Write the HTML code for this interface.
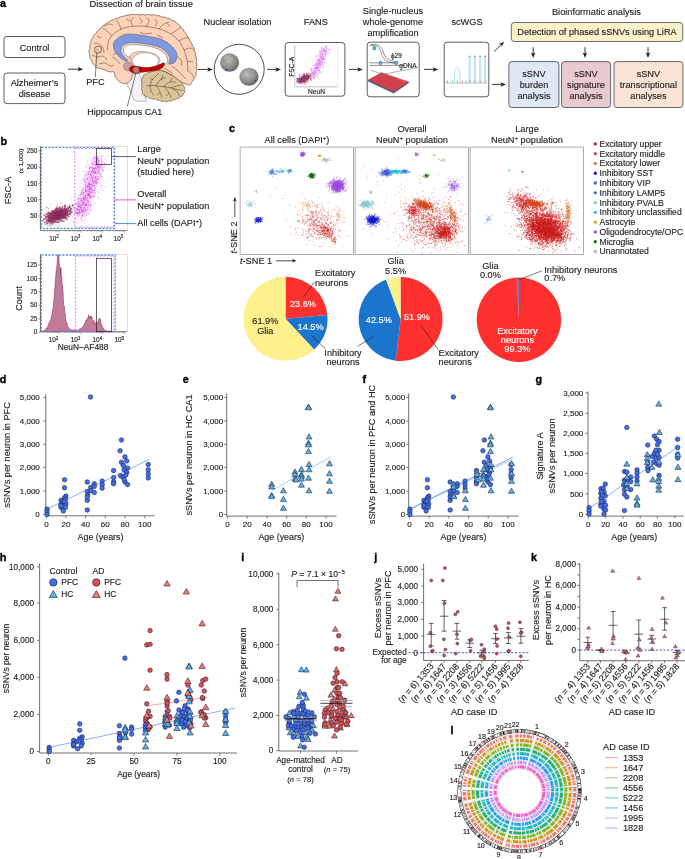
<!DOCTYPE html>
<html><head><meta charset="utf-8"><style>
html,body{margin:0;padding:0;background:#fff;}
body{width:685px;height:859px;overflow:hidden;}
svg{display:block;font-family:"Liberation Sans", sans-serif;will-change:transform;}
</style></head><body>
<svg width="685" height="859" viewBox="0 0 685 859" fill="#231f20">
<text x="-0.10" y="7.40" font-size="10.8" font-weight="bold" fill="#000" stroke="#000" stroke-width="0.35">a</text>
<text x="89.60" y="7.40" font-size="9.3" stroke="#231f20" stroke-width="0.15" >Dissection of brain tissue</text>
<rect x="4.00" y="36.50" width="61.00" height="21.00" rx="3" fill="#fff" stroke="#333" stroke-width="0.8" />
<text x="34.50" y="50.50" font-size="9.2" text-anchor="middle" stroke="#231f20" stroke-width="0.15" >Control</text>
<rect x="4.00" y="73.00" width="61.00" height="30.60" rx="3" fill="#fff" stroke="#333" stroke-width="0.8" />
<text x="34.50" y="85.80" font-size="9.2" text-anchor="middle" stroke="#231f20" stroke-width="0.15" >Alzheimer’s</text>
<text x="34.50" y="96.50" font-size="9.2" text-anchor="middle" stroke="#231f20" stroke-width="0.15" >disease</text>
<line x1="68.00" y1="69.20" x2="79.30" y2="69.20" stroke="#231f20" stroke-width="0.9" />
<path d="M83.20,69.20L77.60,71.44L79.00,69.20L77.60,66.96Z" fill="#231f20"/>
<path d="M128.60,76.00C130.67,74.47 136.62,72.62 138.80,73.50C140.98,74.38 140.97,78.30 141.70,81.30C142.43,84.30 142.43,88.30 143.20,91.50C143.97,94.70 146.83,98.88 146.30,100.50C145.77,102.12 141.98,101.23 140.00,101.20C138.02,101.17 135.82,101.67 134.40,100.30C132.98,98.93 132.83,95.93 131.50,93.00C130.17,90.07 126.88,85.53 126.40,82.70C125.92,79.87 126.53,77.53 128.60,76.00Z" fill="#f2f2f2" stroke="#666" stroke-width="0.45"/>
<path d="M143.20,76.90 L143.24,76.11 L143.47,75.36 L143.92,74.74 L144.57,74.33 L145.36,74.16 L146.23,74.18 L146.74,73.53 L147.30,72.88 L147.98,72.46 L148.79,72.33 L149.66,72.45 L150.44,72.32 L151.05,71.64 L151.78,71.16 L152.64,71.01 L153.59,71.19 L154.50,71.18 L155.30,70.52 L156.18,70.17 L157.13,70.24 L158.07,70.67 L158.97,70.52 L159.90,70.12 L160.83,70.12 L161.69,70.54 L162.45,71.27 L163.44,71.20 L164.47,71.18 L165.36,71.58 L166.06,72.37 L166.85,72.96 L167.95,72.95 L168.87,73.27 L169.57,73.98 L170.12,74.93 L171.16,74.93 L172.12,75.07 L172.90,75.57 L173.50,76.40 L174.22,77.01 L175.27,77.06 L176.16,77.41 L176.80,78.11 L177.25,79.04 L178.10,79.37 L179.02,79.60 L179.73,80.10 L180.17,80.83 L180.40,81.71 L180.97,82.27 L181.79,82.63 L182.41,83.17 L182.77,83.89 L182.88,84.73 L182.85,85.59 L183.58,86.03 L184.15,86.55 L184.51,87.15 L184.64,87.81 L184.57,88.47 L184.36,89.10 L184.25,89.66 L184.61,90.18 L184.86,90.74 L184.96,91.32 L184.90,91.89 L184.67,92.42 L184.30,92.87 L183.81,93.25 L183.25,93.54 L183.21,94.17 L183.08,94.82 L182.81,95.42 L182.35,95.91 L181.72,96.24 L180.95,96.39 L180.16,96.49 L179.76,97.26 L179.25,97.92 L178.57,98.34 L177.75,98.49 L176.84,98.40 L176.15,98.80 L175.56,99.48 L174.84,99.92 L173.97,100.05 L172.98,99.87 L172.12,100.17 L171.33,100.86 L170.43,101.18 L169.44,101.07 L168.43,100.68 L167.61,101.36 L166.74,101.78 L165.86,101.81 L165.00,101.49 L164.21,100.98 L163.37,101.38 L162.51,101.56 L161.71,101.42 L161.00,100.99 L160.40,100.34 L159.65,100.16 L158.81,100.30 L158.05,100.25 L157.40,99.97 L156.83,99.49 L156.28,98.90 L155.57,99.00 L154.87,99.23 L154.21,99.31 L153.59,99.21 L152.99,98.92 L152.42,98.49 L151.85,98.18 L151.18,98.45 L150.51,98.59 L149.86,98.56 L149.26,98.32 L148.74,97.90 L148.32,97.33 L147.84,96.87 L147.10,96.93 L146.38,96.87 L145.75,96.62 L145.23,96.18 L144.85,95.59 L144.59,94.90 L144.11,94.51 L143.43,94.30 L142.85,93.94 L142.42,93.44 L142.19,92.83 L142.16,92.16 L142.32,91.49 L142.42,90.86 L141.96,90.29 L141.63,89.67 L141.47,89.02 L141.53,88.35 L141.80,87.69 L142.21,87.04 L142.12,86.37 L141.75,85.70 L141.52,85.03 L141.51,84.30 L141.76,83.52 L142.22,82.72 L141.86,81.92 L141.49,81.10 L141.43,80.27 L141.70,79.48 L142.23,78.77 L142.49,78.08 L142.35,77.25Z" fill="#dcc49a" stroke="#4a3028" stroke-width="0.55" stroke-linejoin="round"/>
<path d="M146.00,86.00C147.17,85.92 150.50,85.42 153.00,85.50C155.50,85.58 158.33,86.17 161.00,86.50C163.67,86.83 166.33,87.00 169.00,87.50C171.67,88.00 174.75,89.00 177.00,89.50C179.25,90.00 181.58,90.33 182.50,90.50" fill="none" stroke="#3a2a1a" stroke-width="0.5"/>
<path d="M150.00,85.80C150.33,84.83 151.00,81.63 152.00,80.00C153.00,78.37 154.83,77.17 156.00,76.00C157.17,74.83 158.50,73.50 159.00,73.00" fill="none" stroke="#3a2a1a" stroke-width="0.5"/>
<path d="M156.00,86.00C156.67,85.00 158.33,81.42 160.00,80.00C161.67,78.58 165.00,77.92 166.00,77.50" fill="none" stroke="#3a2a1a" stroke-width="0.5"/>
<path d="M163.00,86.80C164.17,86.00 167.83,82.72 170.00,82.00C172.17,81.28 175.00,82.42 176.00,82.50" fill="none" stroke="#3a2a1a" stroke-width="0.5"/>
<path d="M170.00,87.80C171.17,87.50 175.17,86.47 177.00,86.00C178.83,85.53 180.33,85.17 181.00,85.00" fill="none" stroke="#3a2a1a" stroke-width="0.5"/>
<path d="M150.00,86.00C150.17,86.83 150.33,89.42 151.00,91.00C151.67,92.58 153.50,94.75 154.00,95.50" fill="none" stroke="#3a2a1a" stroke-width="0.5"/>
<path d="M157.00,86.50C157.50,87.42 159.17,90.17 160.00,92.00C160.83,93.83 161.67,96.58 162.00,97.50" fill="none" stroke="#3a2a1a" stroke-width="0.5"/>
<path d="M165.00,87.30C165.67,88.25 168.00,91.22 169.00,93.00C170.00,94.78 170.67,97.17 171.00,98.00" fill="none" stroke="#3a2a1a" stroke-width="0.5"/>
<path d="M173.00,88.50C173.83,89.25 177.00,91.75 178.00,93.00C179.00,94.25 178.83,95.50 179.00,96.00" fill="none" stroke="#3a2a1a" stroke-width="0.5"/>
<path d="M153.00,80.00C152.50,79.67 150.50,78.33 150.00,78.00" fill="none" stroke="#3a2a1a" stroke-width="0.5"/>
<path d="M161.00,80.00C161.33,79.17 162.67,75.83 163.00,75.00" fill="none" stroke="#3a2a1a" stroke-width="0.5"/>
<path d="M170.00,82.00C170.33,81.33 171.67,78.67 172.00,78.00" fill="none" stroke="#3a2a1a" stroke-width="0.5"/>
<path d="M160.00,92.00C159.50,92.50 157.50,94.50 157.00,95.00" fill="none" stroke="#3a2a1a" stroke-width="0.5"/>
<path d="M169.00,93.00C168.50,93.50 166.50,95.50 166.00,96.00" fill="none" stroke="#3a2a1a" stroke-width="0.5"/>
<path d="M89.60,53.80 L89.35,53.22 L89.16,52.62 L89.04,52.01 L89.00,51.41 L89.04,50.82 L89.16,50.24 L89.34,49.69 L89.57,49.15 L89.84,48.63 L89.95,48.08 L89.88,47.51 L89.82,46.95 L89.79,46.39 L89.81,45.83 L89.89,45.28 L90.02,44.73 L90.20,44.20 L90.43,43.68 L90.68,43.17 L90.80,42.65 L90.76,42.10 L90.76,41.56 L90.80,41.03 L90.90,40.53 L91.05,40.05 L91.26,39.61 L91.50,39.20 L91.79,38.82 L92.10,38.47 L92.43,38.14 L92.77,37.83 L92.91,37.39 L93.04,36.95 L93.19,36.52 L93.37,36.11 L93.57,35.70 L93.82,35.31 L94.10,34.95 L94.41,34.62 L94.75,34.32 L95.12,34.05 L95.51,33.79 L95.91,33.55 L96.21,33.22 L96.42,32.79 L96.63,32.37 L96.86,31.96 L97.12,31.56 L97.40,31.18 L97.72,30.82 L98.07,30.48 L98.45,30.15 L98.87,29.85 L99.30,29.56 L99.75,29.28 L99.97,28.80 L100.21,28.33 L100.48,27.89 L100.79,27.47 L101.14,27.09 L101.52,26.76 L101.93,26.47 L102.38,26.23 L102.85,26.01 L103.33,25.83 L103.82,25.67 L104.15,25.27 L104.48,24.87 L104.83,24.49 L105.19,24.14 L105.58,23.83 L106.00,23.55 L106.43,23.30 L106.90,23.09 L107.38,22.91 L107.88,22.75 L108.38,22.60 L108.73,22.21 L109.09,21.82 L109.47,21.45 L109.87,21.11 L110.31,20.81 L110.78,20.56 L111.28,20.36 L111.82,20.21 L112.38,20.10 L112.97,20.03 L113.49,19.80 L113.96,19.43 L114.45,19.09 L114.95,18.79 L115.47,18.54 L116.00,18.36 L116.54,18.23 L117.09,18.14 L117.62,18.09 L118.14,18.05 L118.60,17.88 L118.99,17.58 L119.39,17.30 L119.79,17.05 L120.19,16.84 L120.61,16.65 L121.05,16.51 L121.50,16.41 L121.96,16.34 L122.45,16.31 L122.95,16.31 L123.46,16.33 L123.93,16.15 L124.39,15.89 L124.87,15.65 L125.35,15.45 L125.85,15.29 L126.36,15.18 L126.88,15.12 L127.41,15.12 L127.94,15.15 L128.47,15.21 L129.00,15.29 L129.48,15.08 L129.97,14.87 L130.47,14.69 L130.98,14.55 L131.49,14.46 L132.00,14.42 L132.52,14.43 L133.03,14.48 L133.54,14.57 L134.04,14.69 L134.53,14.80 L135.00,14.64 L135.46,14.51 L135.90,14.42 L136.32,14.36 L136.74,14.33 L137.14,14.34 L137.54,14.38 L137.94,14.45 L138.34,14.55 L138.76,14.68 L139.21,14.82 L139.68,14.99 L140.20,15.03 L140.76,14.87 L141.35,14.71 L141.96,14.59 L142.60,14.52 L143.27,14.53 L143.94,14.61 L144.63,14.76 L145.32,14.95 L146.01,14.82 L146.69,14.63 L147.36,14.50 L148.02,14.45 L148.66,14.49 L149.29,14.59 L149.91,14.76 L150.53,14.97 L151.15,15.09 L151.79,14.95 L152.42,14.84 L153.06,14.79 L153.69,14.81 L154.32,14.91 L154.93,15.08 L155.54,15.32 L156.14,15.60 L156.76,15.72 L157.42,15.65 L158.07,15.64 L158.72,15.68 L159.35,15.80 L159.97,16.00 L160.56,16.26 L161.15,16.59 L161.73,16.94 L162.41,16.96 L163.09,16.95 L163.76,16.99 L164.42,17.09 L165.06,17.26 L165.70,17.51 L166.32,17.82 L166.93,18.19 L167.61,18.30 L168.34,18.32 L169.06,18.41 L169.77,18.60 L170.45,18.91 L171.08,19.33 L171.68,19.85 L172.27,20.40 L173.09,20.59 L173.89,20.85 L174.65,21.22 L175.35,21.71 L175.97,22.31 L176.52,23.01 L177.18,23.55 L177.99,23.91 L178.73,24.35 L179.38,24.91 L179.92,25.56 L180.36,26.30 L180.71,27.10 L181.38,27.63 L182.06,28.17 L182.66,28.80 L183.15,29.51 L183.53,30.30 L183.83,31.16 L184.29,31.92 L185.00,32.53 L185.64,33.21 L186.17,33.98 L186.58,34.85 L186.89,35.81 L187.46,36.62 L188.21,37.33 L188.85,38.12 L189.33,39.02 L189.66,40.01 L189.94,41.01 L190.69,41.76 L191.32,42.57 L191.79,43.47 L192.08,44.43 L192.25,45.46 L192.71,46.35 L193.33,47.19 L193.82,48.08 L194.12,49.06 L194.26,50.08 L194.37,51.11 L194.96,51.99 L195.42,52.91 L195.69,53.89 L195.78,54.92 L195.70,55.98 L195.98,57.00 L196.38,58.02 L196.58,59.09 L196.57,60.19 L196.37,61.28 L196.45,62.35 L196.77,63.38 L196.91,64.39 L196.87,65.38 L196.69,66.32 L196.43,67.20 L196.62,68.04 L196.79,68.85 L196.87,69.63 L196.83,70.39 L196.68,71.10 L196.45,71.78 L196.17,72.42 L196.03,73.06 L196.10,73.72 L196.11,74.35 L196.05,74.97 L195.93,75.56 L195.72,76.12 L195.44,76.62 L195.11,77.08 L194.74,77.48 L194.35,77.84 L194.14,78.29 L193.99,78.77 L193.82,79.23 L193.63,79.66 L193.42,80.07 L193.19,80.44 L192.96,80.78 L192.72,81.11 L192.46,81.44 L192.19,81.77 L191.91,82.10 L191.62,82.41 L191.38,82.73 L191.29,83.12 L191.16,83.49 L190.99,83.85 L190.76,84.18 L190.46,84.47 L190.09,84.69 L189.66,84.84 L189.21,84.90 L188.74,84.89 L188.26,84.81 L187.78,84.66 L187.30,84.46 L186.84,84.22 L186.34,84.14 L185.87,83.92 L185.40,83.78 L184.94,83.64 L184.50,83.50 L184.09,83.36 L183.71,83.21 L183.35,83.05 L183.00,82.88 L182.65,82.70 L182.31,82.50 L181.95,82.28 L181.57,82.04 L181.16,81.78 L180.72,81.48 L180.23,81.16 L179.70,80.80 L179.11,80.39 L178.48,79.93 L177.81,79.42 L177.10,78.88 L176.37,78.31 L175.61,77.73 L174.84,77.14 L174.07,76.56 L173.29,76.00 L172.51,75.46 L171.75,74.96 L171.00,74.50 L170.26,74.07 L169.53,73.66 L168.79,73.25 L168.06,72.86 L167.32,72.48 L166.58,72.12 L165.84,71.78 L165.09,71.47 L164.33,71.18 L163.56,70.92 L162.79,70.69 L162.00,70.50 L161.20,70.34 L160.39,70.22 L159.57,70.14 L158.74,70.08 L157.90,70.05 L157.06,70.04 L156.22,70.06 L155.37,70.09 L154.52,70.13 L153.68,70.18 L152.84,70.24 L152.00,70.30 L151.15,70.38 L150.25,70.48 L149.34,70.60 L148.41,70.73 L147.49,70.88 L146.58,71.04 L145.68,71.21 L144.83,71.38 L144.02,71.54 L143.27,71.71 L142.60,71.86 L142.00,72.00 L141.50,72.14 L141.10,72.27 L140.78,72.41 L140.53,72.55 L140.32,72.69 L140.14,72.83 L139.97,72.96 L139.81,73.08 L139.62,73.20 L139.41,73.31 L139.14,73.41 L138.80,73.50 L138.40,73.56 L137.94,73.58 L137.44,73.57 L136.92,73.54 L136.38,73.51 L135.83,73.48 L135.28,73.47 L134.75,73.48 L134.24,73.53 L133.78,73.62 L133.36,73.78 L133.00,74.00 L132.71,74.30 L132.48,74.68 L132.31,75.13 L132.17,75.62 L132.06,76.15 L131.97,76.70 L131.87,77.26 L131.77,77.83 L131.64,78.37 L131.48,78.89 L131.27,79.37 L131.00,79.80 L130.68,80.20 L130.31,80.60 L129.92,80.99 L129.50,81.38 L129.06,81.75 L128.59,82.11 L128.12,82.43 L127.63,82.73 L127.14,82.99 L126.66,83.21 L126.17,83.38 L125.70,83.50 L125.22,83.57 L124.73,83.59 L124.23,83.58 L123.72,83.52 L123.21,83.43 L122.69,83.30 L122.18,83.14 L121.68,82.96 L121.18,82.75 L120.70,82.52 L120.24,82.27 L119.80,82.00 L119.37,81.70 L118.95,81.36 L118.52,80.97 L118.11,80.56 L117.71,80.12 L117.32,79.66 L116.94,79.19 L116.59,78.72 L116.25,78.25 L115.94,77.78 L115.66,77.33 L115.40,76.90 L115.19,76.47 L115.03,76.02 L114.91,75.55 L114.82,75.08 L114.76,74.61 L114.70,74.14 L114.64,73.70 L114.58,73.28 L114.49,72.89 L114.37,72.54 L114.21,72.24 L114.00,72.00 L113.74,71.83 L113.46,71.72 L113.14,71.67 L112.81,71.66 L112.45,71.68 L112.08,71.73 L111.68,71.79 L111.28,71.84 L110.87,71.88 L110.45,71.89 L110.03,71.87 L109.60,71.80 L109.17,71.69 L108.73,71.56 L108.28,71.41 L107.83,71.24 L107.36,71.06 L106.88,70.87 L106.39,70.67 L105.90,70.46 L105.39,70.25 L104.87,70.03 L104.34,69.81 L103.80,69.60 L103.23,69.39 L102.63,69.18 L102.01,68.98 L101.36,68.77 L100.71,68.56 L100.05,68.34 L99.40,68.11 L98.69,68.03 L97.99,67.94 L97.33,67.76 L96.73,67.49 L96.20,67.14 L95.75,66.72 L95.37,66.26 L95.06,65.77 L94.79,65.25 L94.35,64.91 L93.88,64.58 L93.44,64.20 L93.05,63.78 L92.70,63.32 L92.42,62.81 L92.19,62.25 L92.01,61.65 L91.88,61.01 L91.67,60.38 L91.20,59.83 L90.77,59.25 L90.41,58.61 L90.14,57.93 L89.97,57.22 L89.90,56.48 L89.90,55.75 L89.75,55.08 L89.42,54.47Z" fill="#fdd3b8" stroke="#4a3028" stroke-width="0.6" stroke-linejoin="round"/>
<path d="M107.50,50.00C107.75,48.33 107.58,43.00 109.00,40.00C110.42,37.00 113.17,34.08 116.00,32.00C118.83,29.92 122.33,28.50 126.00,27.50C129.67,26.50 134.00,26.08 138.00,26.00C142.00,25.92 146.17,26.42 150.00,27.00C153.83,27.58 157.50,28.33 161.00,29.50C164.50,30.67 168.00,32.08 171.00,34.00C174.00,35.92 176.83,38.33 179.00,41.00C181.17,43.67 182.67,46.83 184.00,50.00C185.33,53.17 186.33,56.67 187.00,60.00C187.67,63.33 187.83,68.33 188.00,70.00" fill="none" stroke="#5e4438" stroke-width="0.55"/>
<path d="M112.00,36.00C111.17,35.17 108.50,32.33 107.00,31.00C105.50,29.67 103.67,28.50 103.00,28.00" fill="none" stroke="#5e4438" stroke-width="0.55"/>
<path d="M121.00,29.50C120.67,28.58 119.83,25.58 119.00,24.00C118.17,22.42 116.50,20.67 116.00,20.00" fill="none" stroke="#5e4438" stroke-width="0.55"/>
<path d="M133.00,26.50C132.67,25.58 130.83,22.58 131.00,21.00C131.17,19.42 133.50,17.67 134.00,17.00" fill="none" stroke="#5e4438" stroke-width="0.55"/>
<path d="M146.00,26.80C146.50,25.83 148.83,22.55 149.00,21.00C149.17,19.45 147.33,18.08 147.00,17.50" fill="none" stroke="#5e4438" stroke-width="0.55"/>
<path d="M159.00,29.00C159.83,28.17 162.33,25.17 164.00,24.00C165.67,22.83 168.17,22.33 169.00,22.00" fill="none" stroke="#5e4438" stroke-width="0.55"/>
<path d="M171.00,34.00C172.00,33.33 175.33,31.17 177.00,30.00C178.67,28.83 180.33,27.50 181.00,27.00" fill="none" stroke="#5e4438" stroke-width="0.55"/>
<path d="M179.00,41.00C180.00,40.50 183.33,38.50 185.00,38.00C186.67,37.50 188.33,38.00 189.00,38.00" fill="none" stroke="#5e4438" stroke-width="0.55"/>
<path d="M184.00,50.00C185.00,49.67 188.33,48.00 190.00,48.00C191.67,48.00 193.33,49.67 194.00,50.00" fill="none" stroke="#5e4438" stroke-width="0.55"/>
<path d="M187.00,61.00C188.00,61.17 192.00,61.83 193.00,62.00" fill="none" stroke="#5e4438" stroke-width="0.55"/>
<path d="M187.00,70.00C187.83,70.67 190.83,72.67 192.00,74.00C193.17,75.33 193.67,77.33 194.00,78.00" fill="none" stroke="#5e4438" stroke-width="0.55"/>
<path d="M94.00,43.00C94.83,43.17 97.50,43.17 99.00,44.00C100.50,44.83 102.17,46.50 103.00,48.00C103.83,49.50 103.83,52.17 104.00,53.00" fill="none" stroke="#5e4438" stroke-width="0.55"/>
<path d="M92.00,55.00C93.00,55.33 96.17,56.83 98.00,57.00C99.83,57.17 101.50,55.50 103.00,56.00C104.50,56.50 106.33,59.33 107.00,60.00" fill="none" stroke="#5e4438" stroke-width="0.55"/>
<path d="M99.00,64.00C100.00,63.83 103.17,62.67 105.00,63.00C106.83,63.33 108.50,65.67 110.00,66.00C111.50,66.33 113.33,65.17 114.00,65.00" fill="none" stroke="#5e4438" stroke-width="0.55"/>
<path d="M97.00,36.00C97.67,36.33 100.33,37.67 101.00,38.00" fill="none" stroke="#5e4438" stroke-width="0.55"/>
<path d="M104.00,26.00C104.83,25.67 107.50,24.17 109.00,24.00C110.50,23.83 112.33,24.83 113.00,25.00" fill="none" stroke="#5e4438" stroke-width="0.55"/>
<path d="M126.00,19.00C126.67,19.33 129.33,20.67 130.00,21.00" fill="none" stroke="#5e4438" stroke-width="0.55"/>
<path d="M139.00,17.50C139.50,18.08 141.83,19.92 142.00,21.00C142.17,22.08 140.33,23.50 140.00,24.00" fill="none" stroke="#5e4438" stroke-width="0.55"/>
<path d="M155.00,19.00C155.33,19.67 157.00,21.83 157.00,23.00C157.00,24.17 155.33,25.50 155.00,26.00" fill="none" stroke="#5e4438" stroke-width="0.55"/>
<path d="M167.00,23.00C167.50,23.67 169.50,26.33 170.00,27.00" fill="none" stroke="#5e4438" stroke-width="0.55"/>
<path d="M176.00,56.00C176.83,56.67 180.00,58.33 181.00,60.00C182.00,61.67 181.83,65.00 182.00,66.00" fill="none" stroke="#5e4438" stroke-width="0.55"/>
<path d="M172.00,66.00C172.83,66.67 175.33,68.50 177.00,70.00C178.67,71.50 180.50,73.50 182.00,75.00C183.50,76.50 185.33,78.33 186.00,79.00" fill="none" stroke="#5e4438" stroke-width="0.55"/>
<path d="M164.00,68.00C164.83,68.50 167.50,70.00 169.00,71.00C170.50,72.00 172.33,73.50 173.00,74.00" fill="none" stroke="#5e4438" stroke-width="0.55"/>
<path d="M112.00,57.00C112.83,57.50 115.67,58.83 117.00,60.00C118.33,61.17 119.50,63.33 120.00,64.00" fill="none" stroke="#5e4438" stroke-width="0.55"/>
<path d="M115.00,47.00C115.33,47.83 117.33,50.67 117.00,52.00C116.67,53.33 113.67,54.50 113.00,55.00" fill="none" stroke="#5e4438" stroke-width="0.55"/>
<path d="M96.00,49.00C96.50,49.33 98.50,50.67 99.00,51.00" fill="none" stroke="#5e4438" stroke-width="0.55"/>
<path d="M124.00,34.00C124.67,34.50 127.33,36.50 128.00,37.00" fill="none" stroke="#5e4438" stroke-width="0.55"/>
<path d="M140.00,32.00C140.83,32.33 143.00,33.83 145.00,34.00C147.00,34.17 150.83,33.17 152.00,33.00" fill="none" stroke="#5e4438" stroke-width="0.55"/>
<path d="M157.00,35.00C158.00,35.50 162.00,37.50 163.00,38.00" fill="none" stroke="#5e4438" stroke-width="0.55"/>
<path d="M113.30,44.20C113.57,42.02 115.05,40.43 116.80,38.90C118.55,37.37 121.60,35.82 123.80,35.00C126.00,34.18 127.27,34.00 130.00,34.00C132.73,34.00 136.80,34.53 140.20,35.00C143.60,35.47 146.98,36.12 150.40,36.80C153.82,37.48 157.63,37.95 160.70,39.10C163.77,40.25 166.42,41.90 168.80,43.70C171.18,45.50 173.63,47.85 175.00,49.90C176.37,51.95 177.00,53.97 177.00,56.00C177.00,58.03 176.18,60.73 175.00,62.10C173.82,63.47 170.93,64.03 169.90,64.20C168.87,64.37 168.80,64.13 168.80,63.10C168.80,62.07 170.23,59.70 169.90,58.00C169.57,56.30 168.33,54.60 166.80,52.90C165.27,51.20 163.43,49.17 160.70,47.80C157.97,46.43 153.82,45.47 150.40,44.70C146.98,43.93 143.60,43.53 140.20,43.20C136.80,42.87 132.70,42.48 130.00,42.70C127.30,42.92 125.47,43.62 124.00,44.50C122.53,45.38 121.62,46.58 121.20,48.00C120.78,49.42 120.92,51.45 121.50,53.00C122.08,54.55 123.62,56.05 124.70,57.30C125.78,58.55 127.87,59.85 128.00,60.50C128.13,61.15 126.92,61.78 125.50,61.20C124.08,60.62 121.22,58.53 119.50,57.00C117.78,55.47 116.23,54.13 115.20,52.00C114.17,49.87 113.03,46.38 113.30,44.20Z" fill="#7f98dc" stroke="#3a4a8a" stroke-width="0.45"/>
<path d="M124.50,47.00C125.50,45.63 127.42,45.13 130.00,44.80C132.58,44.47 136.67,44.72 140.00,45.00C143.33,45.28 146.83,45.75 150.00,46.50C153.17,47.25 156.50,48.25 159.00,49.50C161.50,50.75 163.58,52.42 165.00,54.00C166.42,55.58 167.25,57.45 167.50,59.00C167.75,60.55 167.75,62.38 166.50,63.30C165.25,64.22 162.42,64.72 160.00,64.50C157.58,64.28 154.67,62.92 152.00,62.00C149.33,61.08 146.67,59.75 144.00,59.00C141.33,58.25 138.50,57.83 136.00,57.50C133.50,57.17 131.00,57.75 129.00,57.00C127.00,56.25 124.75,54.67 124.00,53.00C123.25,51.33 123.50,48.37 124.50,47.00Z" fill="#ffffff" stroke="#4a3028" stroke-width="0.4"/>
<path d="M130.00,57.00C130.17,55.67 131.33,53.92 133.00,53.00C134.67,52.08 137.17,51.58 140.00,51.50C142.83,51.42 147.17,51.83 150.00,52.50C152.83,53.17 155.33,54.25 157.00,55.50C158.67,56.75 159.83,58.67 160.00,60.00C160.17,61.33 159.67,62.83 158.00,63.50C156.33,64.17 153.00,64.08 150.00,64.00C147.00,63.92 143.00,63.50 140.00,63.00C137.00,62.50 133.67,62.00 132.00,61.00C130.33,60.00 129.83,58.33 130.00,57.00Z" fill="#fdd3b8" stroke="#4a3028" stroke-width="0.35"/>
<ellipse cx="145.5" cy="60.8" rx="13.2" ry="8.2" fill="#ffffff" stroke="#666" stroke-width="0.45"/>
<ellipse cx="146.5" cy="62" rx="11.0" ry="6.5" fill="#ffffff" stroke="none"/>
<path d="M124.50,63.50C125.42,62.67 127.58,61.83 129.00,62.00C130.42,62.17 132.25,63.33 133.00,64.50C133.75,65.67 134.00,67.92 133.50,69.00C133.00,70.08 131.33,70.83 130.00,71.00C128.67,71.17 126.58,70.67 125.50,70.00C124.42,69.33 123.67,68.08 123.50,67.00C123.33,65.92 123.58,64.33 124.50,63.50Z" fill="#c7a1a3" stroke="#4a3028" stroke-width="0.3"/>
<path d="M131.00,66.50C132.07,65.95 133.38,66.02 135.90,66.20C138.42,66.38 143.08,67.55 146.10,67.60C149.12,67.65 151.82,66.97 154.00,66.50C156.18,66.03 157.60,65.42 159.20,64.80C160.80,64.18 162.77,62.77 163.60,62.80C164.43,62.83 164.55,64.10 164.20,65.00C163.85,65.90 163.03,67.28 161.50,68.20C159.97,69.12 157.58,69.90 155.00,70.50C152.42,71.10 148.70,71.50 146.00,71.80C143.30,72.10 141.13,72.18 138.80,72.30C136.47,72.42 133.55,72.97 132.00,72.50C130.45,72.03 129.67,70.50 129.50,69.50C129.33,68.50 129.93,67.05 131.00,66.50Z" fill="#c00000" stroke="#6a0505" stroke-width="0.45"/>
<circle cx="136.10" cy="70.00" r="3.40" fill="#c47676" stroke="#5a0a0a" stroke-width="0.45" />
<circle cx="98.00" cy="49.60" r="3.50" fill="none" stroke="#231f20" stroke-width="0.6" />
<line x1="96.80" y1="53.10" x2="95.30" y2="77.00" stroke="#231f20" stroke-width="0.6" />
<text x="86.20" y="84.80" font-size="9.2" stroke="#231f20" stroke-width="0.15" >PFC</text>
<line x1="135.80" y1="73.40" x2="127.30" y2="106.50" stroke="#231f20" stroke-width="0.6" />
<text x="87.20" y="114.60" font-size="9.0" stroke="#231f20" stroke-width="0.15" >Hippocampus CA1</text>
<line x1="198.00" y1="69.40" x2="208.90" y2="69.40" stroke="#231f20" stroke-width="0.9" />
<path d="M212.80,69.40L207.20,71.64L208.60,69.40L207.20,67.16Z" fill="#231f20"/>
<text x="203.50" y="25.40" font-size="9.2" stroke="#231f20" stroke-width="0.15" >Nuclear isolation</text>
<defs><radialGradient id="nuc" cx="0.4" cy="0.35" r="0.7"><stop offset="0" stop-color="#bdbdbd"/><stop offset="0.6" stop-color="#8f8f8f"/><stop offset="1" stop-color="#5c5c5c"/></radialGradient></defs>
<circle cx="239.20" cy="69.30" r="25.00" fill="#fff" stroke="#231f20" stroke-width="0.8" />
<ellipse cx="229.6" cy="62.6" rx="9.3" ry="9.0" fill="url(#nuc)" stroke="#555" stroke-width="0.3"/>
<ellipse cx="249" cy="76.8" rx="9.4" ry="8.8" fill="url(#nuc)" stroke="#555" stroke-width="0.3"/>
<path d="M221.5,57 l4,4 l3,-2 M222,61 l5,2 l2,3" stroke="#6a8a3a" stroke-width="0.5" fill="none"/>
<circle cx="226.30" cy="69.60" r="0.90" fill="#2a2aa0" stroke="none" stroke-width="0.5" />
<circle cx="255.60" cy="80.50" r="0.80" fill="#2a2aa0" stroke="none" stroke-width="0.5" />
<circle cx="250.00" cy="72.00" r="0.60" fill="#3a9a3a" stroke="none" stroke-width="0.5" />
<circle cx="234.80" cy="58.20" r="0.60" fill="#3a9a3a" stroke="none" stroke-width="0.5" />
<line x1="267.20" y1="69.40" x2="277.10" y2="69.40" stroke="#231f20" stroke-width="0.9" />
<path d="M281.00,69.40L275.40,71.64L276.80,69.40L275.40,67.16Z" fill="#231f20"/>
<text x="303.80" y="25.40" font-size="9.2" stroke="#231f20" stroke-width="0.15" >FANS</text>
<rect x="285.20" y="42.50" width="59.70" height="53.70" rx="3" fill="#fff" stroke="#333" stroke-width="0.8" />
<line x1="294.80" y1="45.00" x2="294.80" y2="86.80" stroke="#777" stroke-width="0.4" />
<line x1="294.80" y1="86.80" x2="337.70" y2="86.80" stroke="#777" stroke-width="0.4" />
<line x1="337.70" y1="45.00" x2="337.70" y2="86.80" stroke="#bbb" stroke-width="0.3" />
<line x1="294.80" y1="47.00" x2="293.80" y2="47.00" stroke="#777" stroke-width="0.3" />
<line x1="294.80" y1="51.60" x2="293.80" y2="51.60" stroke="#777" stroke-width="0.3" />
<line x1="294.80" y1="56.20" x2="293.80" y2="56.20" stroke="#777" stroke-width="0.3" />
<line x1="294.80" y1="60.80" x2="293.80" y2="60.80" stroke="#777" stroke-width="0.3" />
<line x1="294.80" y1="65.40" x2="293.80" y2="65.40" stroke="#777" stroke-width="0.3" />
<line x1="294.80" y1="70.00" x2="293.80" y2="70.00" stroke="#777" stroke-width="0.3" />
<line x1="294.80" y1="74.60" x2="293.80" y2="74.60" stroke="#777" stroke-width="0.3" />
<line x1="294.80" y1="79.20" x2="293.80" y2="79.20" stroke="#777" stroke-width="0.3" />
<line x1="294.80" y1="83.80" x2="293.80" y2="83.80" stroke="#777" stroke-width="0.3" />
<line x1="297.00" y1="86.80" x2="297.00" y2="87.80" stroke="#777" stroke-width="0.3" />
<line x1="301.20" y1="86.80" x2="301.20" y2="87.80" stroke="#777" stroke-width="0.3" />
<line x1="305.40" y1="86.80" x2="305.40" y2="87.80" stroke="#777" stroke-width="0.3" />
<line x1="309.60" y1="86.80" x2="309.60" y2="87.80" stroke="#777" stroke-width="0.3" />
<line x1="313.80" y1="86.80" x2="313.80" y2="87.80" stroke="#777" stroke-width="0.3" />
<line x1="318.00" y1="86.80" x2="318.00" y2="87.80" stroke="#777" stroke-width="0.3" />
<line x1="322.20" y1="86.80" x2="322.20" y2="87.80" stroke="#777" stroke-width="0.3" />
<line x1="326.40" y1="86.80" x2="326.40" y2="87.80" stroke="#777" stroke-width="0.3" />
<line x1="330.60" y1="86.80" x2="330.60" y2="87.80" stroke="#777" stroke-width="0.3" />
<line x1="334.80" y1="86.80" x2="334.80" y2="87.80" stroke="#777" stroke-width="0.3" />
<text x="293.90" y="66.80" font-size="6.6" text-anchor="middle" stroke="#231f20" stroke-width="0.15" transform="rotate(-90 293.90 66.80)" >FSC-A</text>
<text x="316.50" y="94.20" font-size="6.6" text-anchor="middle" stroke="#231f20" stroke-width="0.15" >NeuN</text>
<path d="M321.1 47.7h0m.9-.4h0m.2-1.7h0m2.1 .9h0m.1 1.4h0m.5-.1h0m.7-1.7h0m.1 .3h0m.1 .3h0m.2-1.1h0m.2 .7h0m.2 1.6h0m1.5-1.2h0m-8.4 3.9h0m.1 .3h0m1.1-.1h0m.5 .5h0m0 .4h0m0-3h0m.1 2.6h0m.4-2.1h0m.2-1.1h0m0 2.9h0m0-.7h0m.1 1.5h0m.1-.8h0m.1-.1h0m0-1h0m.8-.3h0m0-.7h0m.1-.2h0m.1-.1h0m.5 1.1h0m0 .9h0m.1-1.7h0m0 2.6h0m0-1.6h0m.1 2h0m.1-1.5h0m.2-1.2h0m0 1.7h0m.1-1.2h0m0 .7h0m.1 .9h0m0 .1h0m.1-2h0m.3 1.8h0m.1 .6h0m0-2.2h0m0-.3h0m.1 .6h0m.4 1h0m.1-.1h0m.5 .5h0m.1 0h0m0-1.2h0m.4 0h0m.1 .8h0m.3-.9h0m.1 1.4h0m.2-3.4h0m.1 3.7h0m.3-3.7h0m.2 1.2h0m.3 .1h0m.8 .2h0m.3-.1h0m.8 .1h0m.5 .2h0m-13.9 6h0m.6-1h0m.8 .2h0m1.3-2.7h0m.3 1.6h0m0 1.6h0m.1-3.3h0m.4 2.4h0m.1 1.1h0m.1-2.2h0m.1 1h0m.2-1h0m.1 2.2h0m.3-3h0m.3 2.3h0m.1-1.4h0m.2-1.2h0m.1 .9h0m.3 1h0m0 .6h0m0 .3h0m0-1.3h0m.3 .9h0m.1-.7h0m0 1.5h0m0-2.1h0m0 .9h0m.2 .4h0m0 .6h0m.1-.8h0m.7 .4h0m.1-2.1h0m.1 .2h0m.6 .8h0m.1-.7h0m.2-.3h0m.4 2.9h0m0-1h0m.1-1.1h0m.1 2h0m.1-1.4h0m.2-2h0m0 2.2h0m.2-.3h0m.4 .9h0m.2-1.7h0m.1 2.1h0m.1-2.2h0m.3 0h0m1.4-.3h0m0 .9h0m.1-.9h0m-15.9 6.7h0m3.1-2.8h0m.8-.8h0m.1 .4h0m.5 .7h0m.2 1.2h0m.4 1.1h0m.7 .2h0m.4 0h0m.5-3.6h0m0 .3h0m0 2.3h0m.1-1.2h0m.1 1.1h0m.3-.7h0m.1 1.7h0m.2 .1h0m.1-.3h0m.2-2.9h0m.3 1.6h0m.1-2h0m0 1.6h0m0-1.3h0m.2 1.7h0m.2-.1h0m.2 .1h0m0-.3h0m.1 1.4h0m0 .2h0m.1-1.6h0m.2-1.4h0m0 2.4h0m0 .8h0m.1-2.8h0m.2-.4h0m0 2.9h0m.1-2.3h0m0 .1h0m.1 2.3h0m0-.6h0m.1-1.8h0m0 2.2h0m0-2h0m.4 2.5h0m.4-2.5h0m.1 1.6h0m.1-1.2h0m.2 1.9h0m.1-2.5h0m0 2.2h0m0-.7h0m.1-.5h0m0 .4h0m.1-.3h0m0-.3h0m.1 1.6h0m0-.4h0m.3-2.6h0m.1 2.7h0m.3-.1h0m.3 .5h0m.1-3.2h0m.2 1.1h0m.3 1.8h0m.4-2.2h0m.1-.1h0m-13.5 7h0m.2-2.3h0m2.4-.5h0m.6 2.8h0m.6-.2h0m.3-.1h0m.1-1.2h0m.1 1.1h0m.4-3.2h0m0 .3h0m.1 1.7h0m.1 .7h0m.1-2.5h0m0 .7h0m.1 .9h0m.7 1.4h0m0-.1h0m.1-1.9h0m.2-1.2h0m0 1.3h0m.1 1.6h0m0-.1h0m.1 .7h0m.2 .2h0m0-3.4h0m0 1.2h0m.1 0h0m0-1.7h0m.1 .8h0m0 2.6h0m0-1.4h0m.1-.3h0m.1-1.6h0m0 2.5h0m.1 0h0m.2 .9h0m0-1.4h0m.1-1.5h0m.1-.1h0m0 0h0m.1 2.2h0m.1 1.2h0m.1-3.3h0m0 1.8h0m0-2.3h0m.1 3.6h0m.1 0h0m.3-1.3h0m0 1.5h0m.1-2.8h0m0 2.8h0m.1-.7h0m0-2.3h0m0 .3h0m.1 .4h0m.3 .3h0m.4 1.3h0m.3-1.7h0m0-1.5h0m.1 3h0m0-2h0m.1 1.2h0m.2-2.1h0m0 2.8h0m.1-.6h0m.2 .1h0m.2-.2h0m.2-.9h0m.4 1.7h0m.3-1.6h0m.1-1.4h0m0 1.4h0m.6 .9h0m.2 .1h0m-13.6 5.4h0m1.3-2.3h0m.4-.3h0m.5 2.6h0m1.1-2.2h0m.3 1h0m.1-1h0m.1-.2h0m.1-.7h0m0 2.4h0m.2 .6h0m.1-3.2h0m.3 2.9h0m0-2h0m.2-.6h0m0 .4h0m.3 2.7h0m.2-.4h0m.1-1.7h0m0 1.3h0m.1-1.8h0m0 2.3h0m0-2.9h0m0 2.7h0m.3-1.2h0m.1 1.7h0m0-.9h0m.1 .3h0m.2-.7h0m0 1h0m.1-2h0m.1-.7h0m.1 .8h0m0-1.2h0m.1 .3h0m.2 2.2h0m.1-2.1h0m.1 2.5h0m0-2.7h0m0 .1h0m0 2.6h0m.1-1.1h0m.1-.5h0m0-1.7h0m.1 3.5h0m0-1.4h0m.2-1h0m0-.4h0m0 .9h0m.1-1.5h0m.4 3.4h0m.1-1.7h0m0 2h0m.2-1.4h0m.1 1.4h0m.1-.4h0m0-2h0m.3-1.2h0m.1 .4h0m.1 .9h0m0-1.6h0m.2 2.9h0m.2-1.8h0m0-.5h0m.1 .2h0m0 0h0m.1 2.7h0m.2-1.2h0m.2-2.2h0m.1 .6h0m.5 2.3h0m.1-2.6h0m.7 1.4h0m.2-1.1h0m.3-.5h0m.1 3.1h0m.2-.5h0m.1-1.7h0m.1 .8h0m-12.7 4.1h0m.2-1h0m.2 .1h0m.1 2.2h0m.5-2.4h0m.2 1.3h0m.1-.3h0m.1 .8h0m0 1.1h0m.2 .1h0m0-1h0m1-.5h0m0-1.4h0m.1 2.3h0m.7-2h0m0 .1h0m0 1.6h0m.2-1.7h0m.3-.3h0m.1 2.9h0m.1-1.4h0m0 1.3h0m.1-.2h0m.1-1.8h0m.1 1.8h0m.1-3.6h0m0 .9h0m0 1.9h0m.3-1.3h0m.3-.3h0m.1 1.1h0m0-1.8h0m0 0h0m.4 .1h0m0 2.5h0m.1 .8h0m.1-3h0m.1-.5h0m.1 1.5h0m0-.5h0m.1 .7h0m0-1.3h0m.1-.2h0m.1 0h0m.3-.4h0m0 3.5h0m0-1.3h0m.1-2.4h0m.2 .5h0m0 .2h0m.1 2.5h0m.5-2.6h0m0 1.1h0m.1-1h0m.3 1.7h0m.1-2.2h0m.2 2.5h0m.1-1h0m.1-.3h0m.1 1.4h0m0-.5h0m.1-.3h0m.3 .8h0m.1 .1h0m.3 1h0m.4 0h0m0 0h0m2.9-.8h0m-15 3.3h0m.1-.9h0m.5-1.2h0m.6 3.1h0m.1-1h0m1.8-1.1h0m.2 .8h0m0 .9h0m.4 .4h0m.6-2.9h0m.2-.3h0m0 1.7h0m.1 1.4h0m.3-2.8h0m0 .5h0m.1 .5h0m.3-.7h0m.1 1h0m.3 .7h0m0 1.3h0m.1-2.3h0m.3 .7h0m0-1.1h0m.1 2.2h0m0-2.3h0m.1-.8h0m0 1.8h0m.1 .4h0m.1-1.5h0m.4-.9h0m.3 1.3h0m.1-1.3h0m.1 0h0m.1 .5h0m.1 0h0m0 .4h0m.1 2h0m0-1.8h0m0 2.6h0m.4-3.4h0m.2 1.1h0m.9 .9h0m.2-.4h0m.4 .1h0m0 .2h0m1.1-2.1h0m.1 0h0m1.5 0h0m.5 .5h0m-11 4.9h0m.5-.9h0m1 1.1h0m.4-.9h0m.2 1.4h0m.2-1.6h0m0 1.6h0m1-1.3h0m.4-.8h0m.4 .1h0m0 1.1h0m.2-.3h0m.2 0h0m.2-.7h0m.2 1.9h0m.4-1.4h0m1.1-.7h0m.7 1.3h0m.8-1.1h0m-7 4.4h0" stroke="#de66f2" stroke-width="0.6" stroke-linecap="square" opacity="0.6" fill="none"/>
<path d="M308 67.9h0m3.5 1.6h0m-12.1 5.8h0m4.8-1.9h0m.1 1.2h0m2.2 .3h0m.4-.9h0m0 1.1h0m1.5 .3h0m.4 .2h0m1.4-1.7h0m2.3-.6h0m.2 1.9h0m2.4-.7h0m2 1.2h0m-20.3 3.6h0m.8-1.2h0m0 1.7h0m.7-.5h0m1.6-2.6h0m.1 .3h0m.4 1.7h0m1.1 .2h0m0-1.6h0m.3-.5h0m.4 1.7h0m.4-1.4h0m.1-.5h0m.3 2.5h0m.7-1.1h0m.4 .3h0m.1 1.5h0m.3-2.5h0m.1 .9h0m.3-.6h0m.4-.8h0m0 1.2h0m.4 1.7h0m.2-.7h0m0-.9h0m.5 .5h0m0-.8h0m0-1.6h0m.8 3.3h0m0-2.6h0m2 .9h0m.5-.7h0m.2 1.6h0m.4-2h0m2.8 .9h0m-16.4 2.7h0m.5 2.8h0m.1-2.9h0m.9 .8h0m.6 1h0m.4-1.2h0m.1 2.6h0m.6-2h0m2.5 .4h0m.3 .6h0m.1 .5h0m1.3 .5h0m.1-1.5h0m.2-1.5h0m.1 .1h0m.7 1.4h0m.7-1.7h0m2.8 2.7h0m3.2-1.4h0m-9.6 2.5h0m2.1 .4h0" stroke="#a84a7a" stroke-width="0.6" stroke-linecap="square" opacity="0.6" fill="none"/>
<path d="M300 74.5h0m1.1-.1h0m1.3 1.1h0m.7-1.4h0m.7 1.8h0m.1-1.2h0m0 .5h0m0-.9h0m.2 .7h0m.2 .8h0m0-.1h0m.2-.9h0m0 .3h0m0 .6h0m.2-2.4h0m.9 2.3h0m.3-.6h0m.1-1.3h0m.1 1.9h0m.3-2h0m.1 2h0m.1-2.4h0m.1 2.2h0m.3 0h0m.2-.1h0m.1-.7h0m.4 .5h0m.2-1h0m0 1.1h0m.3 0h0m.4-.3h0m.5 .5h0m.5-1.2h0m.7 1.1h0m.3 .4h0m.2-2.4h0m.3 1.6h0m2.6-.9h0m-16.9 4.5h0m.8 1.3h0m0-1.6h0m.1 .9h0m.3-.3h0m0 .3h0m.4-.6h0m.3 .6h0m.1 .5h0m.3-2.4h0m.1 2.2h0m.3 .2h0m.2-1h0m0 .1h0m0 1.2h0m.1-1.9h0m.1 1.4h0m0-.7h0m0-2.3h0m.1 2.3h0m0 .5h0m.1-1.1h0m.2 1.2h0m.1 .5h0m0-1.3h0m.1 .9h0m0-.3h0m0 .1h0m.1 .3h0m0-.7h0m.1 .6h0m0-.5h0m0 .6h0m.1-.6h0m.2 .2h0m0 .6h0m.1-1.2h0m.1-.5h0m0 1.4h0m0-.8h0m.1-1.4h0m0 2.1h0m.1-.9h0m0 .8h0m0-.3h0m.1 0h0m0-1.8h0m0 2h0m.1 .1h0m0-.7h0m0 .3h0m.1-.8h0m0-.2h0m0-.5h0m.1 2h0m0-.5h0m0-.4h0m.2 0h0m0-.4h0m0 .6h0m.1 .1h0m0 .6h0m0-.5h0m0 .1h0m.2 .3h0m0 .5h0m0-.2h0m0-.6h0m0-.5h0m.1-.1h0m0 .5h0m0-1.5h0m0 1.5h0m.1 .8h0m.1-1h0m0-.1h0m.1-1.9h0m0 1.5h0m0 .6h0m0-.6h0m.1-2.1h0m0 1.6h0m0 .6h0m.2-.3h0m0 1.4h0m0-1.9h0m0 2.1h0m0-.2h0m0-.7h0m.1 .7h0m0 .6h0m0-2.2h0m0 1h0m.1 1h0m.1-2.4h0m0 1h0m0-1h0m0-.3h0m0 2.5h0m0-3.3h0m.1 3h0m.1-.8h0m0-1.3h0m0 0h0m0 1.2h0m0 .8h0m0-1.8h0m.1-.7h0m0 1.2h0m0-.2h0m0-.5h0m0 2.6h0m0-.8h0m.1-1.2h0m0-1h0m0 0h0m.1 2.3h0m0-.5h0m0 .9h0m0-3h0m.1 1.1h0m0 2.4h0m0-2.1h0m.1-1.7h0m0 2.8h0m.1-1.8h0m0 .8h0m0 .5h0m.1 .2h0m0 .4h0m0-.6h0m0 .5h0m0 .8h0m.1-1.5h0m0 .5h0m.1 .9h0m0-2.4h0m0 1.9h0m0-2.5h0m.1 1.2h0m0-.5h0m0 1.7h0m0-.8h0m.1-.4h0m0 .5h0m0-.4h0m0 1.7h0m.1 0h0m0-.9h0m0-1h0m0-.7h0m0 .7h0m0 .5h0m.1 1.2h0m0-2.9h0m0 2.8h0m0-1.8h0m.1 .2h0m0-1.2h0m.1 1.2h0m0 2h0m0-1.4h0m0 .4h0m.1-1.5h0m0 2.3h0m0-2.7h0m.1 1.4h0m0-1.5h0m.1 2.8h0m0-1h0m0 .5h0m0-.2h0m.1-1.7h0m0-.7h0m.1 2h0m0-.6h0m0 0h0m.1 1.7h0m0-1h0m0-.3h0m.1-.2h0m0 1.4h0m0-1.7h0m0 .3h0m0-.8h0m.1 1.5h0m0 .2h0m0-.1h0m0-1.5h0m0-.1h0m0 1h0m0 .1h0m.1-1.6h0m.1 1.2h0m.1-1.8h0m0 3.1h0m0-.5h0m0-.7h0m.1-.3h0m0 .8h0m.1 1.2h0m0-2h0m0 1.2h0m.1-1.4h0m0-1.4h0m0 3.2h0m0 .2h0m.1-1.7h0m0-.8h0m.1 2.1h0m.1-1.5h0m0 1.9h0m0-3.4h0m0 0h0m0 1.4h0m.1-.2h0m0-1.1h0m.1 1.3h0m0 2h0m0 .1h0m0-1.2h0m0-1.9h0m0 2.8h0m0-3.1h0m.1 1.7h0m0 .5h0m.3-1.5h0m.1-.3h0m0 1.2h0m0 1.2h0m.1-.8h0m0 .3h0m.1-.7h0m0 .1h0m0 .3h0m.1 0h0m0-1.4h0m0 2.6h0m.1-1.9h0m0-1.2h0m.1 0h0m0 .8h0m0-.8h0m0-.3h0m.1 2.9h0m0-1.8h0m.1 1.5h0m0-1.1h0m.1 .5h0m.1 .6h0m0-.1h0m.1-2h0m0 .6h0m.2 2.3h0m0-1.7h0m0-.5h0m.3-.6h0m0-.4h0m.1 2.3h0m.1-.9h0m0-.2h0m0 0h0m.2-.9h0m.1-.4h0m.1 1.6h0m.3-.4h0m.3-1.3h0m.1 2.4h0m.3 1.4h0m.1-.9h0m.7 .2h0m.3-2.4h0m2.4 1.7h0m-17.5 3.7h0m.5-.3h0m.3-1.1h0m.1-.5h0m.3 1.1h0m.4 0h0m.1 .8h0m.3-1.9h0m.1 1.8h0m.2 .4h0m.1-.4h0m.2-.1h0m0-.8h0m.1-1.1h0m0 1.9h0m.1 .1h0m0 .4h0m.1-2.2h0m0 .2h0m.1 1.5h0m.1 1.2h0m0-1.6h0m.1-.3h0m.1 1.8h0m0-3h0m.1 1.8h0m.3-.6h0m0-.2h0m.1-.5h0m.1 .2h0m0 .9h0m.1-.9h0m.1 2.2h0m.1-2.7h0m0 0h0m0 1.5h0m0-.8h0m0 0h0m.1 1.8h0m0-1.9h0m.1-.7h0m0 3h0m.2-2.4h0m.2 .9h0m.1-1.4h0m.1 2h0m0-1.2h0m0 1.5h0m.2-1.6h0m0-.1h0m.2 .4h0m0-.7h0m0 .7h0m0 .4h0m0 .1h0m0-.2h0m.1-.8h0m0 .7h0m0-.2h0m0 2.7h0m.4-3.4h0m.1 .8h0m0-.9h0m.1-.4h0m0 .9h0m.2-.8h0m0 1.8h0m.1 .4h0m.1-1.6h0m.1 .6h0m.1 .7h0m.1-1.1h0m0-.1h0m0-.3h0m0 .8h0m.1-.4h0m0-.2h0m.1-.7h0m.2 1.2h0m0 0h0m.1-.7h0m.1-.2h0m0 .4h0m.1-.1h0m.3 .3h0m.2-.9h0m.2 .3h0m0 1.5h0m.1-.7h0m.1 1.8h0m0-.4h0m.2-2.2h0m0 .5h0m.1 .3h0m.1-.1h0m.1-.3h0m0 .9h0m.1-.1h0m1 .4h0m.1 .3h0m0-1.7h0m.6-.3h0m.6 .9h0m.3-1h0m.1 .4h0m2.9-.4h0m-6.1 4.1h0" stroke="#963c6a" stroke-width="0.7" stroke-linecap="square" opacity="0.9" fill="none"/>
<line x1="349.00" y1="69.40" x2="358.90" y2="69.40" stroke="#231f20" stroke-width="0.9" />
<path d="M362.80,69.40L357.20,71.64L358.60,69.40L357.20,67.16Z" fill="#231f20"/>
<text x="393.00" y="14.00" font-size="9.2" text-anchor="middle" stroke="#231f20" stroke-width="0.15" >Single-nucleus</text>
<text x="393.00" y="25.20" font-size="9.2" text-anchor="middle" stroke="#231f20" stroke-width="0.15" >whole-genome</text>
<text x="393.00" y="36.30" font-size="9.2" text-anchor="middle" stroke="#231f20" stroke-width="0.15" >amplification</text>
<rect x="367.20" y="42.20" width="52.00" height="54.60" rx="3" fill="#fff" stroke="#333" stroke-width="0.8" />
<path d="M369.5,45.5 C377,45 379,47 381,52 C383,60 386,62 395,63.2" fill="none" stroke="#222" stroke-width="0.5"/>
<path d="M371,44.4 C379,44 381,46 383,51 C385,58 388,61 398,61.8" fill="none" stroke="#222" stroke-width="0.5"/>
<line x1="369.50" y1="62.80" x2="395.00" y2="62.80" stroke="#231f20" stroke-width="0.5" />
<line x1="369.50" y1="65.40" x2="405.00" y2="65.40" stroke="#231f20" stroke-width="0.5" />
<line x1="370.00" y1="70.20" x2="398.00" y2="78.50" stroke="#231f20" stroke-width="0.35" />
<line x1="380.00" y1="75.00" x2="418.00" y2="67.50" stroke="#231f20" stroke-width="0.35" />
<ellipse cx="374.3" cy="48.2" rx="1.6" ry="1.9" fill="#3cc0e0" stroke="#135" stroke-width="0.3"/>
<ellipse cx="380.4" cy="62.9" rx="1.6" ry="1.9" fill="#3cc0e0" stroke="#135" stroke-width="0.3"/>
<ellipse cx="396.4" cy="62.9" rx="1.6" ry="1.9" fill="#3cc0e0" stroke="#135" stroke-width="0.3"/>
<text x="391.00" y="57.80" font-size="6.4" stroke="#231f20" stroke-width="0.15" >ϕ29</text>
<text x="399.30" y="67.60" font-size="6.5" stroke="#231f20" stroke-width="0.15" >gDNA</text>
<path d="M368.2,80 L381.5,72.7 L408.6,81.9 L393.7,92.2 Z" fill="#e8434f" stroke="#7a1a22" stroke-width="0.4"/>
<path d="M368.2,80 L368.2,81.2 L393.7,93.2 L408.6,82.9 L408.6,81.9 L393.7,92.2 Z" fill="#3a6aa8" stroke="#223" stroke-width="0.25"/>
<path d="M378.4 75.5h0m1.7-.9h0m1.6-.9h0m.5 1.9h0m1.7-.9h0m2.1 1h0m-14.2 3.4h0m1.6-.9h0m1.7-.9h0m.4 1.9h0m1.2-2.8h0m.5 1.9h0m1.7-.9h0m.4 1.9h0m1.2-2.8h0m.5 1.9h0m1.7-.9h0m.4 2h0m1.2-2.9h0m.5 1.9h0m1.6-.9h0m.5 2h0m1.2-2.9h0m.5 1.9h0m1.6-.9h0m.5 2h0m1.7-1h0m2.1 1.1h0m-24.4 .3h0m2.1 1h0m1.7-.9h0m.4 1.9h0m1.7-.9h0m.5 1.9h0m1.2-2.8h0m.4 1.9h0m1.7-.9h0m.5 1.9h0m1.2-2.8h0m.4 1.9h0m1.7-.9h0m.4 1.9h0m1.2-2.8h0m.5 1.9h0m1.7-.9h0m.4 1.9h0m1.2-2.8h0m.5 1.9h0m1.7-.9h0m.4 1.9h0m1.2-2.8h0m.5 1.9h0m1.6-.9h0m.5 1.9h0m1.2-2.8h0m.5 1.9h0m1.6-.9h0m.5 1.9h0m1.7-.9h0m2.1 1h0m-24.4 .3h0m2.1 1h0m1.7-.9h0m.4 2h0m1.7-1h0m.5 2h0m1.2-2.9h0m.4 2h0m1.7-1h0m.5 2h0m1.2-2.9h0m.4 2h0m1.7-1h0m.4 2h0m1.2-2.9h0m.5 2h0m1.7-.9h0m.4 1.9h0m1.2-2.9h0m.5 2h0m1.7-.9h0m.4 1.9h0m1.2-2.9h0m.5 2h0m1.6-.9h0m1.7-1h0m-18 3.4h0m2.1 1h0m1.7-.9h0m.4 1.9h0m1.7-.9h0m.5 1.9h0m1.2-2.8h0m.4 1.9h0m1.7-.9h0m1.7-.9h0" stroke="#8a4048" stroke-width="0.85" stroke-linecap="square" opacity="1.0" fill="none"/>
<line x1="424.00" y1="69.40" x2="434.30" y2="69.40" stroke="#231f20" stroke-width="0.9" />
<path d="M438.20,69.40L432.60,71.64L434.00,69.40L432.60,67.16Z" fill="#231f20"/>
<text x="467.00" y="25.30" font-size="9.2" text-anchor="middle" stroke="#231f20" stroke-width="0.15" >scWGS</text>
<rect x="444.20" y="42.20" width="44.60" height="54.60" rx="3" fill="#fff" stroke="#333" stroke-width="0.8" />
<line x1="445.80" y1="83.00" x2="487.20" y2="83.00" stroke="#555" stroke-width="0.4" />
<path d="M454.3,82 L454.3,74 C454.3,66 460,66 460,74 L460,82" fill="none" stroke="#8fd0ea" stroke-width="0.7"/>
<rect x="468.90" y="56.00" width="1.60" height="26.00" rx="0" fill="#cbe9f7" stroke="#8fd0ea" stroke-width="0.3" />
<line x1="468.80" y1="56.30" x2="470.60" y2="56.30" stroke="#30b8c8" stroke-width="0.9" />
<rect x="474.10" y="56.00" width="1.60" height="26.00" rx="0" fill="#cbe9f7" stroke="#8fd0ea" stroke-width="0.3" />
<line x1="474.00" y1="56.30" x2="475.80" y2="56.30" stroke="#e05060" stroke-width="0.9" />
<rect x="479.40" y="56.00" width="1.60" height="26.00" rx="0" fill="#cbe9f7" stroke="#8fd0ea" stroke-width="0.3" />
<line x1="479.30" y1="56.30" x2="481.10" y2="56.30" stroke="#30b8c8" stroke-width="0.9" />
<rect x="484.30" y="56.00" width="1.60" height="26.00" rx="0" fill="#cbe9f7" stroke="#8fd0ea" stroke-width="0.3" />
<line x1="484.20" y1="56.30" x2="486.00" y2="56.30" stroke="#e05060" stroke-width="0.9" />
<line x1="447.50" y1="80.50" x2="447.50" y2="82.80" stroke="#e05060" stroke-width="0.7" />
<line x1="452.50" y1="80.50" x2="452.50" y2="82.80" stroke="#30b8c8" stroke-width="0.7" />
<line x1="457.50" y1="80.50" x2="457.50" y2="82.80" stroke="#e05060" stroke-width="0.7" />
<line x1="462.00" y1="80.50" x2="462.00" y2="82.80" stroke="#e05060" stroke-width="0.7" />
<line x1="466.00" y1="80.50" x2="466.00" y2="82.80" stroke="#30b8c8" stroke-width="0.7" />
<line x1="469.70" y1="80.50" x2="469.70" y2="82.80" stroke="#e05060" stroke-width="0.7" />
<line x1="474.90" y1="80.50" x2="474.90" y2="82.80" stroke="#30b8c8" stroke-width="0.7" />
<line x1="480.20" y1="80.50" x2="480.20" y2="82.80" stroke="#e05060" stroke-width="0.7" />
<line x1="485.10" y1="80.50" x2="485.10" y2="82.80" stroke="#30b8c8" stroke-width="0.7" />
<text x="596.40" y="15.20" font-size="9.2" text-anchor="middle" stroke="#231f20" stroke-width="0.15" >Bioinformatic analysis</text>
<line x1="494.20" y1="51.60" x2="501.55" y2="44.25" stroke="#231f20" stroke-width="0.9" />
<path d="M504.10,41.70L501.89,46.85L501.34,44.46L498.95,43.91Z" fill="#231f20"/>
<line x1="492.00" y1="84.40" x2="502.10" y2="84.40" stroke="#231f20" stroke-width="0.9" />
<path d="M506.00,84.40L500.40,86.64L501.80,84.40L500.40,82.16Z" fill="#231f20"/>
<rect x="511.30" y="22.50" width="171.40" height="19.00" rx="3" fill="#fef2cc" stroke="#444" stroke-width="0.8" />
<text x="597.00" y="34.60" font-size="9.2" text-anchor="middle" stroke="#231f20" stroke-width="0.15" >Detection of phased sSNVs using LiRA</text>
<line x1="533.20" y1="47.20" x2="533.20" y2="54.10" stroke="#231f20" stroke-width="0.9" />
<path d="M533.20,58.00L530.96,52.40L533.20,53.80L535.44,52.40Z" fill="#231f20"/>
<line x1="585.00" y1="47.20" x2="585.00" y2="54.10" stroke="#231f20" stroke-width="0.9" />
<path d="M585.00,58.00L582.76,52.40L585.00,53.80L587.24,52.40Z" fill="#231f20"/>
<line x1="648.00" y1="47.20" x2="648.00" y2="54.10" stroke="#231f20" stroke-width="0.9" />
<path d="M648.00,58.00L645.76,52.40L648.00,53.80L650.24,52.40Z" fill="#231f20"/>
<rect x="508.90" y="61.60" width="50.00" height="45.90" rx="3" fill="#dfe9f5" stroke="#444" stroke-width="0.8" />
<rect x="561.50" y="61.60" width="49.10" height="45.90" rx="3" fill="#e9cad1" stroke="#444" stroke-width="0.8" />
<rect x="614.00" y="61.60" width="68.90" height="45.90" rx="3" fill="#fae4d8" stroke="#444" stroke-width="0.8" />
<text x="534.00" y="76.50" font-size="9.2" text-anchor="middle" stroke="#231f20" stroke-width="0.15" >sSNV</text>
<text x="534.00" y="87.60" font-size="9.2" text-anchor="middle" stroke="#231f20" stroke-width="0.15" >burden</text>
<text x="534.00" y="98.70" font-size="9.2" text-anchor="middle" stroke="#231f20" stroke-width="0.15" >analysis</text>
<text x="586.00" y="76.50" font-size="9.2" text-anchor="middle" stroke="#231f20" stroke-width="0.15" >sSNV</text>
<text x="586.00" y="87.60" font-size="9.2" text-anchor="middle" stroke="#231f20" stroke-width="0.15" >signature</text>
<text x="586.00" y="98.70" font-size="9.2" text-anchor="middle" stroke="#231f20" stroke-width="0.15" >analysis</text>
<text x="648.40" y="76.50" font-size="9.2" text-anchor="middle" stroke="#231f20" stroke-width="0.15" >sSNV</text>
<text x="648.40" y="87.60" font-size="9.2" text-anchor="middle" stroke="#231f20" stroke-width="0.15" >transcriptional</text>
<text x="648.40" y="98.70" font-size="9.2" text-anchor="middle" stroke="#231f20" stroke-width="0.15" >analyses</text>
<text x="0.40" y="145.20" font-size="10.8" font-weight="bold" fill="#000" stroke="#000" stroke-width="0.35">b</text>
<rect x="40.50" y="146.60" width="86.80" height="83.80" rx="0" fill="none" stroke="#c8c8c8" stroke-width="0.6" />
<line x1="40.50" y1="146.60" x2="40.50" y2="230.40" stroke="#333" stroke-width="0.6" />
<line x1="40.50" y1="230.40" x2="127.30" y2="230.40" stroke="#555" stroke-width="0.6" />
<line x1="38.50" y1="150.80" x2="40.50" y2="150.80" stroke="#333" stroke-width="0.5" />
<text x="37.40" y="153.00" font-size="6.4" text-anchor="end" stroke="#231f20" stroke-width="0.15" >250</text>
<line x1="38.50" y1="167.00" x2="40.50" y2="167.00" stroke="#333" stroke-width="0.5" />
<text x="37.40" y="169.20" font-size="6.4" text-anchor="end" stroke="#231f20" stroke-width="0.15" >200</text>
<line x1="38.50" y1="183.70" x2="40.50" y2="183.70" stroke="#333" stroke-width="0.5" />
<text x="37.40" y="185.90" font-size="6.4" text-anchor="end" stroke="#231f20" stroke-width="0.15" >150</text>
<line x1="38.50" y1="199.80" x2="40.50" y2="199.80" stroke="#333" stroke-width="0.5" />
<text x="37.40" y="202.00" font-size="6.4" text-anchor="end" stroke="#231f20" stroke-width="0.15" >100</text>
<line x1="38.50" y1="216.00" x2="40.50" y2="216.00" stroke="#333" stroke-width="0.5" />
<text x="37.40" y="218.20" font-size="6.4" text-anchor="end" stroke="#231f20" stroke-width="0.15" >50</text>
<line x1="39.60" y1="147.00" x2="40.50" y2="147.00" stroke="#333" stroke-width="0.35" />
<line x1="39.60" y1="149.08" x2="40.50" y2="149.08" stroke="#333" stroke-width="0.35" />
<line x1="39.60" y1="151.16" x2="40.50" y2="151.16" stroke="#333" stroke-width="0.35" />
<line x1="39.60" y1="153.24" x2="40.50" y2="153.24" stroke="#333" stroke-width="0.35" />
<line x1="39.60" y1="155.32" x2="40.50" y2="155.32" stroke="#333" stroke-width="0.35" />
<line x1="39.60" y1="157.40" x2="40.50" y2="157.40" stroke="#333" stroke-width="0.35" />
<line x1="39.60" y1="159.48" x2="40.50" y2="159.48" stroke="#333" stroke-width="0.35" />
<line x1="39.60" y1="161.56" x2="40.50" y2="161.56" stroke="#333" stroke-width="0.35" />
<line x1="39.60" y1="163.64" x2="40.50" y2="163.64" stroke="#333" stroke-width="0.35" />
<line x1="39.60" y1="165.72" x2="40.50" y2="165.72" stroke="#333" stroke-width="0.35" />
<line x1="39.60" y1="167.80" x2="40.50" y2="167.80" stroke="#333" stroke-width="0.35" />
<line x1="39.60" y1="169.88" x2="40.50" y2="169.88" stroke="#333" stroke-width="0.35" />
<line x1="39.60" y1="171.96" x2="40.50" y2="171.96" stroke="#333" stroke-width="0.35" />
<line x1="39.60" y1="174.04" x2="40.50" y2="174.04" stroke="#333" stroke-width="0.35" />
<line x1="39.60" y1="176.12" x2="40.50" y2="176.12" stroke="#333" stroke-width="0.35" />
<line x1="39.60" y1="178.20" x2="40.50" y2="178.20" stroke="#333" stroke-width="0.35" />
<line x1="39.60" y1="180.28" x2="40.50" y2="180.28" stroke="#333" stroke-width="0.35" />
<line x1="39.60" y1="182.36" x2="40.50" y2="182.36" stroke="#333" stroke-width="0.35" />
<line x1="39.60" y1="184.44" x2="40.50" y2="184.44" stroke="#333" stroke-width="0.35" />
<line x1="39.60" y1="186.52" x2="40.50" y2="186.52" stroke="#333" stroke-width="0.35" />
<line x1="39.60" y1="188.60" x2="40.50" y2="188.60" stroke="#333" stroke-width="0.35" />
<line x1="39.60" y1="190.68" x2="40.50" y2="190.68" stroke="#333" stroke-width="0.35" />
<line x1="39.60" y1="192.76" x2="40.50" y2="192.76" stroke="#333" stroke-width="0.35" />
<line x1="39.60" y1="194.84" x2="40.50" y2="194.84" stroke="#333" stroke-width="0.35" />
<line x1="39.60" y1="196.92" x2="40.50" y2="196.92" stroke="#333" stroke-width="0.35" />
<line x1="39.60" y1="199.00" x2="40.50" y2="199.00" stroke="#333" stroke-width="0.35" />
<line x1="39.60" y1="201.08" x2="40.50" y2="201.08" stroke="#333" stroke-width="0.35" />
<line x1="39.60" y1="203.16" x2="40.50" y2="203.16" stroke="#333" stroke-width="0.35" />
<line x1="39.60" y1="205.24" x2="40.50" y2="205.24" stroke="#333" stroke-width="0.35" />
<line x1="39.60" y1="207.32" x2="40.50" y2="207.32" stroke="#333" stroke-width="0.35" />
<line x1="39.60" y1="209.40" x2="40.50" y2="209.40" stroke="#333" stroke-width="0.35" />
<line x1="39.60" y1="211.48" x2="40.50" y2="211.48" stroke="#333" stroke-width="0.35" />
<line x1="39.60" y1="213.56" x2="40.50" y2="213.56" stroke="#333" stroke-width="0.35" />
<line x1="39.60" y1="215.64" x2="40.50" y2="215.64" stroke="#333" stroke-width="0.35" />
<line x1="39.60" y1="217.72" x2="40.50" y2="217.72" stroke="#333" stroke-width="0.35" />
<line x1="39.60" y1="219.80" x2="40.50" y2="219.80" stroke="#333" stroke-width="0.35" />
<line x1="39.60" y1="221.88" x2="40.50" y2="221.88" stroke="#333" stroke-width="0.35" />
<line x1="39.60" y1="223.96" x2="40.50" y2="223.96" stroke="#333" stroke-width="0.35" />
<line x1="39.60" y1="226.04" x2="40.50" y2="226.04" stroke="#333" stroke-width="0.35" />
<line x1="39.60" y1="228.12" x2="40.50" y2="228.12" stroke="#333" stroke-width="0.35" />
<path d="M43.86,230.40v1.3M47.70,230.40v1.3M50.42,230.40v1.3M52.54,230.40v1.3M54.26,230.40v1.3M55.72,230.40v1.3M56.99,230.40v1.3M58.10,230.40v1.3M59.10,230.40v2.3M65.66,230.40v1.3M69.50,230.40v1.3M72.22,230.40v1.3M74.34,230.40v1.3M76.06,230.40v1.3M77.52,230.40v1.3M78.79,230.40v1.3M79.90,230.40v1.3M80.90,230.40v2.3M87.46,230.40v1.3M91.30,230.40v1.3M94.02,230.40v1.3M96.14,230.40v1.3M97.86,230.40v1.3M99.32,230.40v1.3M100.59,230.40v1.3M101.70,230.40v1.3M102.70,230.40v2.3M109.26,230.40v1.3M113.10,230.40v1.3M115.82,230.40v1.3M117.94,230.40v1.3M119.66,230.40v1.3M121.12,230.40v1.3M122.39,230.40v1.3M123.50,230.40v1.3M124.50,230.40v2.3" stroke="#444" stroke-width="0.4" fill="none"/>
<text x="54.10" y="240.60" font-size="6.4" text-anchor="middle" stroke="#231f20" stroke-width="0.15" >10<tspan dy="-2.6" font-size="4.6">2</tspan></text>
<text x="75.60" y="240.60" font-size="6.4" text-anchor="middle" stroke="#231f20" stroke-width="0.15" >10<tspan dy="-2.6" font-size="4.6">3</tspan></text>
<text x="97.30" y="240.60" font-size="6.4" text-anchor="middle" stroke="#231f20" stroke-width="0.15" >10<tspan dy="-2.6" font-size="4.6">4</tspan></text>
<text x="118.60" y="240.60" font-size="6.4" text-anchor="middle" stroke="#231f20" stroke-width="0.15" >10<tspan dy="-2.6" font-size="4.6">5</tspan></text>
<text x="10.50" y="190.50" font-size="9.2" text-anchor="middle" stroke="#231f20" stroke-width="0.15" transform="rotate(-90 10.50 190.50)" >FSC-A</text>
<text x="23.40" y="161.00" font-size="6.2" text-anchor="middle" stroke="#231f20" stroke-width="0.15" transform="rotate(-90 23.40 161.00)" >(x 1,000)</text>
<path d="M75.5 203.4h0m-18.1 2.7h0m1.5 1.7h0m1.1-1.3h0m.1 1.2h0m2.4 0h0m.5-.8h0m1.4 1h0m.1-2.8h0m.2 .8h0m.1 1.4h0m.3-1.5h0m0 2.1h0m.1-1.4h0m.4-1.1h0m.4 1.6h0m2 .1h0m.2 .8h0m.9-1.4h0m0 .5h0m.1 .3h0m.2-.4h0m.1 .7h0m0-1.4h0m.1-.5h0m0 1.4h0m2.6-.9h0m0-.8h0m.6-.6h0m.5 1.1h0m.3-.6h0m1.3 2.3h0m-26.5 1.2h0m3.4 1.9h0m.5 1.2h0m.2 0h0m.3-.1h0m.1-1h0m.2 0h0m.2 1h0m.1-.4h0m0-.2h0m.1 .2h0m.3 .2h0m.4 .1h0m.2 0h0m.3-2.1h0m.1 1.7h0m.2-1.2h0m.3 1h0m.1 .1h0m.1-2.4h0m.1 1.7h0m.2-1.4h0m0 1.7h0m.1 .9h0m.2-.8h0m0 .1h0m0 .8h0m.1-1.9h0m.3 .3h0m.1-2.2h0m0 3.3h0m.1-1.2h0m0 .7h0m0-2.4h0m.1 3.1h0m.2-2.1h0m0 2.4h0m0-3.7h0m0 3.8h0m.3-2h0m.1-.1h0m0-1.3h0m.2 .2h0m.1 1h0m0 1.8h0m0-1.2h0m.2 .9h0m0-.9h0m0-.5h0m.1-.6h0m.1 1.9h0m0-.4h0m.4 .9h0m.2-.1h0m.1-.4h0m.2-2.8h0m0 2.7h0m0-.7h0m.1 1.1h0m0 .2h0m.1-.5h0m0 .3h0m0 .4h0m.1-.5h0m0-2.7h0m0 .2h0m.1 3.1h0m.1-3.3h0m0 3.3h0m0-.7h0m0 .6h0m.1-.3h0m.1-1.7h0m0 1.8h0m.1-1.4h0m0 1.6h0m.1-.3h0m.1-.6h0m.2-2h0m.1 2.2h0m0-1.4h0m0 .9h0m0-.6h0m.1 .9h0m0-.7h0m.1 1.3h0m0 .2h0m0-.4h0m.1 .6h0m0-2.2h0m0 .6h0m0 1.1h0m0-1.2h0m0-.5h0m0 2h0m0-.3h0m0-1.5h0m.1 1.6h0m0-2.2h0m.1 2.4h0m0-2.6h0m.2 1.4h0m0-.1h0m0 .7h0m0 .2h0m0-.8h0m.1 .3h0m.1 1.1h0m.1-1h0m0-1.7h0m.1-.7h0m0 2.8h0m0-.4h0m0 .7h0m.1-.4h0m0-.2h0m0-.2h0m.1-2.6h0m.1 2.6h0m.1 .1h0m0 1h0m.1-.9h0m.1-.8h0m.1-2.1h0m0 3.1h0m.2-1.1h0m0-1.1h0m.1 1.8h0m.1-.2h0m.1-.3h0m.1 .9h0m.1-1h0m0 .6h0m0-2.6h0m0 2.6h0m.1 .9h0m0-.9h0m.1-.9h0m0 1.5h0m.4-1.7h0m.1 .8h0m0-.4h0m0 1h0m.2 .3h0m0 .3h0m.1-1.1h0m0-2.1h0m.1 1.8h0m.1 1.4h0m.2-.7h0m0 .6h0m0-.9h0m0 .7h0m.3-.2h0m0-2.8h0m.1 1.2h0m0 .2h0m0-.4h0m.1 .8h0m.1 1.7h0m0-.8h0m.1-2.1h0m0 .5h0m0 1.4h0m.3-.8h0m.1-1h0m.2 1h0m.1 1.8h0m.1-1.1h0m.1-.1h0m0 .2h0m0 0h0m.1-2.3h0m.1 2.1h0m.1 .9h0m0-1h0m0-1.7h0m.2 .8h0m.2-.1h0m0 .9h0m.1-1.9h0m.2 1.9h0m0-.3h0m.3 1.1h0m.1-2.9h0m.1 3.3h0m0-2.3h0m0 2.4h0m.1-2.3h0m0 2.2h0m.1 0h0m.1 .1h0m0-.2h0m.5 0h0m0-1.7h0m0 1.7h0m.4-1.2h0m0-1.6h0m.1 2.5h0m0-2.8h0m0 3.2h0m.1-3.1h0m0 0h0m.1 2.3h0m.3 .1h0m.7-1.5h0m0 2h0m.6-1.6h0m0 .6h0m0-2.5h0m.3 1.3h0m.2 1.8h0m.2 .4h0m.2-2.1h0m.1-.5h0m.3-.2h0m.7 3.2h0m1.5-2.8h0m-32.4 4.6h0m2.1 1.2h0m1.2 .7h0m.6-1h0m1.2-.1h0m.4-.5h0m.6 .4h0m.2 1.1h0m.1-2.8h0m.3 .6h0m.1 .1h0m.1 .6h0m0-.9h0m.1-1h0m.1 3.7h0m.1-.2h0m.5-.9h0m.2-.7h0m0 1.7h0m.1-1.9h0m.3 .7h0m0-.9h0m.1 1.3h0m.1-1.8h0m.1 .4h0m0 .4h0m0-1.7h0m0 2.1h0m.1 .3h0m.3 .4h0m.1-.4h0m.1 .3h0m.2-.8h0m.2-.3h0m0 2h0m.1 0h0m.1-2.3h0m.1 2.2h0m0-3.3h0m.1 1.1h0m.1 .4h0m.1 0h0m0 .3h0m.1-2.1h0m.1 1.7h0m.1 .2h0m.1 1.7h0m0-.4h0m.1-1.7h0m.1 1.7h0m.1 .5h0m0-2.5h0m.1-.8h0m0 2.9h0m0-1.5h0m.1-1.6h0m.1 2.9h0m0-1.3h0m0 1.2h0m.1 .4h0m0-2.7h0m0 2.1h0m.1 .3h0m.1-3.2h0m.1 2.6h0m.2-1.3h0m0 .2h0m.1-.4h0m0 2.5h0m.2 .3h0m0-.3h0m0-3h0m.1 3.2h0m.1-2.5h0m.2 1.2h0m.1 1.2h0m0-.9h0m.1 .8h0m0-2.1h0m.1 1.4h0m0-.3h0m.1 1.1h0m0-1.7h0m0 0h0m0 1.4h0m0-1.7h0m0 1.9h0m.1 0h0m0 .2h0m0 0h0m0-.1h0m0-.1h0m.1-2.1h0m0-1.3h0m0 2.2h0m0-2h0m.1 3.3h0m0-3.7h0m0 3.3h0m0-1h0m0-1h0m.1 .8h0m0 1.1h0m.1-.4h0m0 .6h0m0-.6h0m.1-.7h0m0 .1h0m0 .4h0m0-2.2h0m0 .6h0m0 .4h0m.1 1.1h0m0-2.4h0m0 2.2h0m0-.4h0m0 .2h0m0-.6h0m.1 .4h0m0-.5h0m0 .7h0m.1 1h0m0 .1h0m0-2.9h0m0 1.2h0m0-.5h0m0 2.5h0m.1-.1h0m0-.8h0m0 1.2h0m0-1.7h0m.1-1.2h0m0 1.7h0m0-.6h0m0-.8h0m.1 1.4h0m0-.8h0m0-.3h0m0 2.2h0m0 0h0m.1-2.7h0m.1 1.9h0m0-.4h0m0-1.8h0m.1 1.2h0m0-.3h0m0 .3h0m0 .9h0m0-.8h0m0 1.6h0m0-2.7h0m.1 .6h0m0-.5h0m0-.6h0m0 1h0m.1 .8h0m.1 .4h0m0 .4h0m0 .6h0m.1-.6h0m0-1.3h0m0-.2h0m0 1.2h0m0-2.2h0m0 0h0m.1 .6h0m0-.6h0m0 1.2h0m0-1h0m0 3.1h0m0-1.3h0m0 .4h0m0-.7h0m.1-1.2h0m0 1.7h0m0-1.7h0m0 2.6h0m0-3h0m.1 .4h0m0 2.4h0m0-1.3h0m0-2.1h0m0 3.2h0m.1-2.8h0m.1-.3h0m.1 1.8h0m0-1.6h0m0 2.9h0m0-2.6h0m0 2.2h0m.1-1.4h0m0 .9h0m0-.6h0m0 2.1h0m0 0h0m.1-2.8h0m0 .3h0m0 1.7h0m0-.2h0m0 .4h0m.1-3.1h0m0 2.9h0m0-1.2h0m0-.1h0m0 1.5h0m.1-.1h0m0 .1h0m0-.7h0m.1 .1h0m0 .9h0m.1-2.4h0m.1 1.3h0m0 .7h0m0-1.3h0m0-.8h0m.1 2.8h0m0-.1h0m0-1.2h0m0 1.3h0m0-.5h0m0-1.3h0m0 .9h0m0-1.1h0m.1-.6h0m0-.2h0m0 .3h0m0 0h0m0 1.8h0m.1 .3h0m0-2.9h0m0 1h0m0 .4h0m.1-.7h0m0 2.3h0m.1 .2h0m0-2.7h0m0-1h0m.1 3.5h0m0-2.1h0m0 .2h0m0-1.6h0m.1 3.6h0m0-.4h0m0-2h0m.1 2.5h0m0-1.8h0m0-1.6h0m0 3.4h0m0-.8h0m0-1.9h0m0 1.4h0m0-1.4h0m0 1.5h0m0 .7h0m.1-.3h0m0-1.2h0m0 .5h0m0 .7h0m0 .5h0m.1-1.5h0m0 1.2h0m0-2.3h0m0 1.7h0m0-1.5h0m0 2.6h0m0-2.1h0m.1 .9h0m0-2.1h0m0 2.2h0m0 .9h0m0-.7h0m0 1.2h0m0-.6h0m.1 .2h0m0-3.2h0m0 1.4h0m0 .4h0m0 .4h0m.1-.7h0m0 1.9h0m0-3.2h0m0 3.3h0m.1-2.4h0m0-.9h0m0 2h0m0 .4h0m0-.3h0m0-1.1h0m0 1.2h0m.1-.1h0m0-1.3h0m0 .7h0m0 1.9h0m0-.9h0m0 0h0m0-1.8h0m0-.5h0m0 1h0m.1-.4h0m0 2.5h0m0-1.9h0m0-1.7h0m0 1.9h0m.1 .4h0m0-.3h0m0 1.5h0m0-1.8h0m0 .6h0m0-2.1h0m.1 1.4h0m0-.9h0m0 2.3h0m0-2.4h0m0 .9h0m0 .9h0m0-1.3h0m.1 .5h0m0 .8h0m0-1.3h0m0-.8h0m0 1.8h0m0 .9h0m0-.3h0m0-1.4h0m.1 .9h0m0-1.2h0m0 2.4h0m0-3h0m.1 .5h0m0 2.7h0m0-3.7h0m0 2.2h0m0-2.2h0m0 2.3h0m.1-1.3h0m0-.7h0m0 1.2h0m.1 .1h0m0 1.4h0m0-2.3h0m0 1.9h0m0-1.6h0m0 1h0m0-.6h0m0 .5h0m.1-.3h0m0 .4h0m0 1.5h0m.1-1h0m0-1.7h0m0-.4h0m0-.1h0m0 .8h0m0 .6h0m0 1.1h0m0-2.4h0m0 3.1h0m0 0h0m0-1.7h0m0-1.2h0m.1 1.9h0m0-2.1h0m0 1.5h0m0 .1h0m0 .3h0m0 .3h0m.1-1.8h0m0 .6h0m0 2.3h0m0-.5h0m.1-2.3h0m0 .9h0m.1-1.1h0m0 3h0m0-1.2h0m0 1.3h0m.1-3.2h0m0 2.6h0m0-1.5h0m.2 .4h0m0-.9h0m0 1.6h0m.1-1.6h0m0-.5h0m0 .6h0m0 1.4h0m.1-.6h0m0 .4h0m0-1.6h0m.1 1.1h0m0-.4h0m0-1.7h0m0 2h0m0 1.1h0m.1-2.3h0m0 1.2h0m0 .3h0m0-1.1h0m.1 .2h0m0-1.3h0m.1 3.8h0m0-.9h0m0-1.1h0m0 1.1h0m0-.4h0m.1 0h0m0-1.3h0m.1 .3h0m0-.2h0m0-.8h0m0 3h0m.1-.8h0m0-2.2h0m0 .2h0m.1 .6h0m0 .3h0m0 1.2h0m0-2.6h0m0 .4h0m.1 1.2h0m0 1.3h0m.1-.6h0m0-.8h0m0 .8h0m0 .1h0m0-.6h0m.1-.5h0m0-1.5h0m0 2.2h0m0 .7h0m.1-1.9h0m0-.6h0m0 1.6h0m0 1.7h0m.1-2.5h0m0-.3h0m0-.1h0m0 1.1h0m.1 1.4h0m0-1.3h0m0 1.3h0m0-.3h0m.1-1.4h0m0 .2h0m.1 .3h0m0 .1h0m0-.2h0m0-.5h0m0-.1h0m.2 1.3h0m0-1.8h0m0-.7h0m0 2.7h0m0-2.6h0m0 .8h0m0 .3h0m.1-1.1h0m0 2.8h0m.1 .2h0m0-1.2h0m.1-2h0m0 2.2h0m.1 .4h0m0 .7h0m0 .1h0m0-3.5h0m.1 .2h0m.1 2.5h0m0-2.1h0m.1 2.3h0m0-2.4h0m0 1.3h0m.1 .2h0m.1 .4h0m0-2.5h0m.1 0h0m0 .9h0m0 .8h0m.1-1.6h0m0 .4h0m0-.5h0m.1 2.1h0m0-.6h0m0-.4h0m.1 1.1h0m0 .3h0m.1-.5h0m0 .1h0m.1-1h0m0 2.5h0m.1-2.6h0m0-.4h0m.1-.4h0m0 3.3h0m.1-.8h0m.1 1h0m0-.8h0m0-2.3h0m0-.5h0m0 2h0m.1 .9h0m.1 .8h0m.1-2.9h0m0-.8h0m0 .2h0m0 .9h0m.2 1.7h0m0-1.7h0m0 .5h0m0-1.2h0m0 1.2h0m0 .9h0m0-.6h0m.1-1h0m.1 1.2h0m0-1.5h0m.1-.3h0m.1 1.9h0m0 .1h0m.1 .2h0m0-.5h0m.1-1.8h0m.1-.2h0m0 3.3h0m.1-1.9h0m0 2.4h0m.1-1.8h0m0-.6h0m.1-.9h0m0 2.2h0m.3 .4h0m.2-2.2h0m.1 1.5h0m.2 .4h0m0-.3h0m.3 .1h0m.1-2.3h0m0 .8h0m.2 2.1h0m.1-3.1h0m0 1.4h0m.1 1.6h0m.4-1.6h0m.5 .7h0m.3 0h0m.1-.9h0m.2-1.4h0m.5 1.4h0m0 0h0m.4 1.4h0m0-.7h0m.2-1.4h0m1-.6h0m.2 1h0m5.4-.1h0m-33.4 6.1h0m.5-.4h0m.7-2.5h0m.5 2.9h0m.4-1.6h0m.1-.5h0m0 .9h0m0-.1h0m.3-1.5h0m.2 .3h0m0 1.7h0m1.1-2h0m.3 1.4h0m0 2.2h0m.1-2.3h0m.2 .2h0m.1 0h0m.1 2.1h0m0-.8h0m0-2.8h0m.1 .6h0m0 .7h0m.1 1.6h0m0-2.7h0m.1 2.4h0m.1-.8h0m.2-.1h0m.4-.9h0m0-.2h0m0 2.4h0m.2-1.7h0m0-.5h0m.2 .5h0m.1 2.1h0m.2-.6h0m0 .4h0m0-1.9h0m.1-.1h0m0 1.1h0m0-1.8h0m0 1.8h0m0 .1h0m.1 .9h0m.1-3.4h0m0 .1h0m.1 3.1h0m.1-.1h0m0-2.3h0m0 .1h0m.1-.1h0m.1 .4h0m.4 1.2h0m0 .5h0m0-1h0m.1 .6h0m0 .5h0m.2-2.3h0m0 2.4h0m0-1h0m0-1h0m.1 1.6h0m.1-1.7h0m.1 2h0m0-3.2h0m.1 1.7h0m.1 .2h0m0 .3h0m0-1.4h0m0 1.9h0m.1-2.2h0m0 3h0m0-2.6h0m.2 .8h0m.1-1.2h0m0 1h0m0-1.2h0m.1 .3h0m0 .4h0m.1 2.7h0m0-3.1h0m0-.6h0m0 .7h0m0 1.4h0m0-1.1h0m.1 0h0m0 2.9h0m0-3.1h0m0 1.1h0m.1 1.2h0m.1-2.6h0m0 .8h0m0 1.2h0m0-2.1h0m0 .6h0m.1 1.7h0m0-1.5h0m.1-.1h0m0 2.6h0m0-1.8h0m0 .7h0m.1-1h0m0-.8h0m0-.4h0m0 1.7h0m.1-.7h0m0 1.5h0m0-1.7h0m.1 .4h0m0 2h0m0-1.1h0m0-2.4h0m0 0h0m.1 2h0m0-1.9h0m0 1.6h0m0 .2h0m.1 .4h0m0-1h0m0 1h0m0-1h0m.1-.6h0m.1-.5h0m0 3h0m0-1h0m0 .3h0m0-1.4h0m0 .7h0m0 1.2h0m.1-.6h0m0-2h0m0 1.9h0m.1-.1h0m.1 .4h0m0-.6h0m.1-.9h0m0 .6h0m0 .3h0m.2-1.7h0m0 2.7h0m0-2.9h0m0 1.1h0m.1 2.4h0m0-3.4h0m0 .2h0m.1 .7h0m.1-.1h0m0 .7h0m.1-1.4h0m0-.3h0m0 1.9h0m0-1h0m0-.6h0m0-.1h0m0 3h0m0-.6h0m.1 .3h0m0-.4h0m0-1h0m0 .3h0m0-1.8h0m0 2.2h0m.1-2.1h0m.1 1.4h0m.1-1.3h0m.1 3.1h0m.1-2.8h0m.1 .4h0m0-.3h0m0 1.4h0m0 .8h0m0-1.9h0m.1 2.3h0m0 .1h0m0-2h0m0-.1h0m0 0h0m0-.7h0m0 .3h0m.1 2.4h0m0-2.1h0m0 1.1h0m.1-.7h0m0 0h0m.1-1.1h0m0-.5h0m0 1.5h0m.1-1.4h0m0 .8h0m0-.2h0m0-.7h0m0 1.7h0m0-1.5h0m.1 1.8h0m0-.2h0m0 1.8h0m.1-1.8h0m0 .8h0m0-1.9h0m0-.1h0m0 .7h0m0 2.3h0m0-3h0m0 2.5h0m.1 0h0m0-2.6h0m0 1.1h0m0-.1h0m0-.6h0m.1-.8h0m0 1.8h0m0-.4h0m.1 2.4h0m0-1.1h0m.1-2.4h0m0 .4h0m0 0h0m0 .7h0m0-.1h0m.1-.3h0m0 1.9h0m.1-1.4h0m.2-.3h0m0-.2h0m0 .7h0m0-1.8h0m.1 2.1h0m0-.5h0m0-.8h0m0-.4h0m0 2.4h0m0-2.6h0m0 2.2h0m.1-2.4h0m0 .9h0m0 2.5h0m.1-1.6h0m.1 .2h0m0 .7h0m0-2.1h0m0 .7h0m0-1.3h0m0 0h0m0 0h0m0 1h0m.1 .5h0m0 1.7h0m0-2.1h0m.1 .2h0m0-.5h0m0 .5h0m.1 .6h0m0 .2h0m0-2h0m0 1.5h0m0-.9h0m.1 2.2h0m0-1.3h0m0 1.7h0m.1-2.5h0m0 2.7h0m0-1.3h0m.1-2.2h0m0 1.4h0m0-.6h0m.1-.5h0m0 1.7h0m.1 1.1h0m0 .1h0m0-1.8h0m.1 1.2h0m0-.3h0m0-2h0m0 .6h0m.1 .1h0m0 1.2h0m0-1.3h0m0 .6h0m.1 .2h0m0-1.7h0m0 2.2h0m0-1.7h0m.1 .5h0m0 .6h0m.1 2.1h0m0-3.5h0m0-.1h0m0 .8h0m.2-.3h0m0 1.5h0m.1 .8h0m0-.4h0m.1-.4h0m0-1.5h0m.1-.2h0m0 .9h0m0-.8h0m.1 1.1h0m0 .1h0m0 1.5h0m0 .7h0m.1-3.3h0m0 .6h0m0-1h0m.1 2.6h0m0-1.8h0m0-.6h0m0 2.2h0m0-1.7h0m.1 1.6h0m.1 .2h0m0-1.4h0m.1 .6h0m0 .5h0m0-1.3h0m0 1.7h0m.1-.6h0m0-.2h0m.1-.9h0m.1-.7h0m.1 1.9h0m0-.5h0m.1 1.7h0m0-3.5h0m.2 .2h0m0-.2h0m.1 .3h0m.1-.3h0m0 1.6h0m.1-1.6h0m0 1.2h0m0 1.6h0m0-2.7h0m.1 1.1h0m0-.4h0m0 1.1h0m0-.7h0m.1 2h0m0-2.5h0m.1 1.2h0m.1 .5h0m0-2.3h0m.1 .4h0m.1-.1h0m.1-.1h0m0 2.4h0m.2-2.6h0m.2 1.1h0m.2-.1h0m0 .2h0m.1-.2h0m.1 2.7h0m.1-2.2h0m0-.6h0m.1-.1h0m0-.7h0m0 .5h0m.2 1.3h0m0-.5h0m0-1h0m.1 0h0m.1-.4h0m.1 1.3h0m.2 .7h0m.1 .3h0m.1-1.9h0m.1-.4h0m.1 1.1h0m.1-.2h0m0-.2h0m.1-.1h0m0-.2h0m.1 2.1h0m0-1.3h0m.1-1h0m0 .4h0m0 2h0m.2-1.7h0m.2-.6h0m.3 1h0m.2-.2h0m.1 .9h0m.1 .2h0m0-1.9h0m.2 1.8h0m.4-.5h0m.1-.4h0m.2-1.2h0m.1 1.3h0m.3-.3h0m.2 .6h0m0 1.7h0m.6-3.3h0m.3 3.7h0m.8-3h0m.2-.7h0m.3 0h0m.1 .7h0m-25.7 4.3h0m.2-.8h0m1.6 2h0m1.1 .7h0m.4-.8h0m.2-2h0m.2 1.7h0m.1-1.6h0m.4 2.9h0m.5-.4h0m.1-2h0m.1 .1h0m.2-.1h0m0-.6h0m.2 2.9h0m0-2h0m.1-.6h0m.1 1.5h0m.1-1.4h0m.1 .9h0m.1-.2h0m0-.7h0m.4-.2h0m.1 .8h0m.2 .2h0m0-.1h0m0-1.2h0m.2 .4h0m.1 3.2h0m.2-2h0m0 .6h0m.1-2.1h0m.6 2.1h0m0-1.3h0m0 .1h0m0-.7h0m.1 .9h0m.2 2h0m.1-1.9h0m.2 .2h0m.1 1.4h0m0-2.3h0m0 .9h0m.1 .5h0m.2-2h0m.1 .9h0m.1 .7h0m0 1.2h0m.2-2.5h0m0 2.2h0m0-.3h0m0-.2h0m.2-1.1h0m.3 .4h0m0-.1h0m0 1h0m.1-1.6h0m.3 .9h0m.1 1h0m0-.7h0m.2 .8h0m0-.7h0m0-1.3h0m.1-.3h0m.1 .3h0m.2 2.8h0m.3-3.4h0m.5 1.6h0m.1-.4h0m.1-1h0m.1-.1h0m0 1.5h0m.1-1.4h0m.2 1.8h0m.1-2h0m.5 2.1h0m.1-1h0m.1 .3h0m.6 .1h0m.3 .9h0m0-1.7h0m.5 1h0m.6-1.5h0m.8 .6h0m.2 1.5h0m.2 .1h0m.1-.6h0m.7-1.7h0m.3-.1h0m.9 .5h0m.5 .3h0m.2-.2h0m1.2 .5h0m.2 .4h0m-18.1 2.7h0m2.1-.3h0m2.6 1.8h0m1-1.7h0" stroke="#8a2b5a" stroke-width="0.75" stroke-linecap="square" opacity="1.0" fill="none"/>
<path d="M70.6 198.4h0m4.7-1.9h0m-14.6 6.9h0m1.4 0h0m-15.7 3.6h0m.3 .3h0m.6-.4h0m3.4-1.9h0m5.5 2.6h0m.3 .2h0m.5-1.2h0m1.4-2.2h0m.9 3.4h0m.3-.1h0m.4-.1h0m.7 .3h0m1.7-.8h0m.2-.7h0m1.6-1.1h0m.6 2.2h0m0-1.1h0m2.6 .7h0m2.1-.9h0m.2-1.6h0m.5 3h0m.3-.7h0m0 1h0m2.5-2.6h0m.6 2.1h0m4.6-3.2h0m.8 2.4h0m-36.5 3.4h0m4.2 1.2h0m1.8 .6h0m1.6-.2h0m1.2 .3h0m1.5-1h0m.1 .1h0m1.1 .7h0m.3-.1h0m.4-1.3h0m.1 .2h0m.1-.2h0m.2 1.3h0m.7-1.7h0m.3-1.3h0m0 3h0m2-1.6h0m.3-.5h0m.5 1.5h0m0-.8h0m.2 .4h0m.6-1.8h0m.5 1.5h0m.3-2h0m.9 2.8h0m1.1 .8h0m.5-2.6h0m.1 2.5h0m.5 0h0m.5-.3h0m0-1.3h0m.4-.2h0m.2-1.7h0m1 2.1h0m.7 1.1h0m.1 .3h0m.4-2.4h0m.5 .7h0m.1 1.4h0m.1-.7h0m.2-2.6h0m0 2.1h0m.5 .8h0m.3-.2h0m.9-.3h0m.1 1h0m.4 0h0m.4-1.5h0m1.4-2.1h0m1.3 1.8h0m5.9-.4h0m-34.1 5.6h0m.8-1.9h0m1.7 1.9h0m.4 .1h0m.2-1.9h0m.1 1.9h0m.5 .5h0m.5 .3h0m.4-3h0m0 1.8h0m0 .1h0m.2-.6h0m.2 1.2h0m1.3-2.6h0m.3 1.7h0m.1 1.3h0m1-.1h0m.3-2.6h0m.9 2.4h0m.3-1h0m0 .6h0m.5 .4h0m.1-1.6h0m.7 .6h0m.6 .4h0m.3-2.4h0m.1 2h0m.1-.2h0m1.4-.5h0m.2-.7h0m0-.8h0m.1 0h0m.8 .7h0m.6 2.9h0m.1-1.5h0m.6 .3h0m.1-2h0m1 2h0m0-.6h0m.1-1.2h0m.7 2h0m.1-2.7h0m.9 2.6h0m.6-.7h0m.1 1.8h0m.3-3h0m.3 2.7h0m.3-2.7h0m.1 2.7h0m.3-2h0m.9 2.2h0m1.1-1.6h0m.3-1.7h0m.9 2.8h0m.3-1.6h0m.6 1.1h0m.8 .2h0m.1-2.5h0m.6-.3h0m.7-.2h0m2.2 3.3h0m.6-1.7h0m.9-.4h0m.5-1h0m-31.4 7.2h0m1.2-.1h0m1-2.6h0m.2 3.1h0m.6-2.8h0m0 2.9h0m.9-3.4h0m0 2.7h0m.1 .3h0m1.4 0h0m.3-1.2h0m.4-1.7h0m0 .1h0m.2-.2h0m.8 2.3h0m.4-2.4h0m.3 3.5h0m.1 0h0m.1-1h0m.3 .7h0m.2-1.7h0m0 1.4h0m.4-2.8h0m.2 2.3h0m.9 .4h0m.2-1.9h0m.1 .3h0m.4 2.2h0m.6-2.6h0m.1 0h0m.7-.8h0m1.1 2.9h0m.3-2.8h0m.1 1.3h0m.6-.6h0m0 1h0m.8-.3h0m1.3-.7h0m.7-.3h0m.1 .3h0m1.2-.8h0m1.8 1.5h0m.2-1.6h0m.5 3.1h0m.2-3h0m0 .2h0m1.1 1.8h0m.4 .5h0m.4-.2h0m2.5-1.4h0m2.6-.3h0m3.8 1.6h0m-32.2 2.1h0m.5 2.3h0m1.6-1.5h0m.1 2.3h0m.1-2.7h0m.7-.2h0m.6 1.7h0m.9-2.5h0m.1 .1h0m.3 1.4h0m1.6-1.6h0m1.2 3.9h0m1.2-2.9h0m.5-1h0m.6 .7h0m.3 2.3h0m1.2-1.1h0m.2-1.4h0m1.8 2.8h0m.3-.6h0m.7-2.1h0m0 .5h0m0-.3h0m1.1 .9h0m.5 0h0m2.6-1h0m1.2-.3h0m.7 .3h0m.1 1.3h0m6-1.9h0m3 1.9h0m.7-1.7h0m-26.6 5.6h0m.9-.7h0m1.9-.1h0m1.5-.5h0m0 2.3h0m.8-1.9h0m.4-.4h0m2.7 .5h0m.2 .2h0m1.5 2.6h0m.9-2.2h0m.9 1h0m-13.9 3.6h0" stroke="#a04070" stroke-width="0.6" stroke-linecap="square" opacity="0.7" fill="none"/>
<path d="M94.7 149.7h0m1.5-.2h0m-6.3 3.2h0m3.2 2.5h0m1.1 .3h0m1.5-1.4h0m7.2 1.7h0m-13.4 1.2h0m1.5 2.7h0m1.5-1.4h0m.6-.7h0m.4 2.2h0m.6-.1h0m.2-1.9h0m.3 .9h0m.2-1.1h0m.1 1.1h0m.4-2.1h0m.2 1.4h0m.6 .1h0m.4-.1h0m.3-1.6h0m.1 1.6h0m.1 .5h0m.3 .5h0m.1 .7h0m.3-.9h0m.1 .1h0m.1-.5h0m0-1.8h0m.1 2.6h0m0-3.1h0m.2 2h0m1.4 .3h0m1.4-1.4h0m.1-.4h0m.1 3h0m.1-1.4h0m3.5 .9h0m3.1-3h0m-20.3 5.9h0m3.3 .1h0m.8 1.6h0m.1-.3h0m.3-1h0m.1-2.2h0m.5 3h0m1.1-1.1h0m.1-.7h0m.2 1.8h0m.1-1.9h0m.2 .8h0m1 .7h0m0-.5h0m.3-.3h0m.6 1.2h0m0-2.9h0m.1 1.2h0m0-.2h0m.2 2.4h0m.3-2.9h0m0 2.4h0m.1-2.9h0m.1 1.7h0m.1 1.2h0m.2-.7h0m0-2.4h0m.2 2.3h0m0 .5h0m.3-2.5h0m.1 .3h0m.1-.1h0m.2 1.9h0m0-.4h0m.3 1.6h0m.1-2.8h0m.2-.2h0m.1 2h0m0-2.5h0m.1 2.2h0m.6-1.3h0m1 2.6h0m.5-2.1h0m.3-1.1h0m.6-.3h0m0 2.4h0m.2 .2h0m1.2-1.2h0m.8 2h0m.8-.9h0m-18.8 5.1h0m.2-2.5h0m.2 1.7h0m2.1-2.1h0m1 2.7h0m.4-1h0m.2 .5h0m.5-1.9h0m.1 2.4h0m.4 .1h0m.8-.4h0m.1-.6h0m.1-2.4h0m.3 1.4h0m.5-1.2h0m0 2.9h0m.5 .2h0m.2-3.2h0m.4 .5h0m0-.5h0m.3 .2h0m.5 .4h0m0-.5h0m.1 3.2h0m.2 .2h0m.2-.3h0m.1-3.4h0m.1 1.4h0m.1 1.3h0m.1-1.2h0m.3-.3h0m.2-.8h0m.3-.5h0m.1 1.5h0m0 1.7h0m.2-2.4h0m0 .1h0m.4 2.1h0m.4 .5h0m.1-.8h0m0-.5h0m.2 .4h0m0 .8h0m.2-1.9h0m0 2.1h0m.2-3.5h0m.2 .5h0m.3 1.9h0m.1-1.3h0m.5 2.1h0m0-.7h0m.1 .9h0m.3-1.6h0m.4-.5h0m.4-1.4h0m0 2.7h0m.2-2.2h0m.1 2.3h0m0-1.3h0m.3-1.6h0m1.1 3.7h0m.1-.1h0m.2-1.6h0m.2-1.2h0m1.1 2h0m.3-2.5h0m2.9 .1h0m-24 7h0m1.2 0h0m1.8-.1h0m2 .2h0m.4 0h0m.4-3.1h0m.1 .8h0m0-1.2h0m.2 .3h0m.1 1.4h0m0-1.7h0m.3 3.5h0m.3-1.7h0m.7 .1h0m.1 1.1h0m.5 .4h0m.2 .1h0m.1 .2h0m.5-3.7h0m.1 .6h0m.3 1.7h0m.1 0h0m0-.5h0m.1 .5h0m0-2h0m.1 3.3h0m.1-3.1h0m0 3h0m.4-3h0m.2 2.5h0m.2 .6h0m.1-1h0m.1-1.3h0m0-.4h0m0 .4h0m0-.9h0m.2 2.7h0m.1-.7h0m0-2.1h0m.1-.1h0m0 1.5h0m.2 1.5h0m1 .2h0m0-2.8h0m0 .7h0m.2 1.8h0m.1-2.1h0m.2-.6h0m.2-.2h0m.1 0h0m.2 2.2h0m.4-1.4h0m.4 1h0m.2 1.8h0m.2-3.1h0m.2 1.9h0m.1 .5h0m.3 .1h0m0 .5h0m.7-2h0m.2 .6h0m0 .1h0m.2-2h0m.1 .6h0m.5 .4h0m0-1.3h0m1.4 .2h0m.5 3h0m.1-1.7h0m.5-.2h0m.2 1.8h0m0-1h0m.1 .2h0m5.5-.4h0m-23.4 5h0m.4 .6h0m.3-.9h0m.8-.7h0m.5-.2h0m.1-1.8h0m.1 3.2h0m.7-3.1h0m.1 3.7h0m.2-1.1h0m.2-1.1h0m.1-.4h0m.3 1.7h0m.6-2.6h0m0 2.2h0m.3-1h0m.1 2.4h0m.4-1h0m.4-.7h0m0-1.4h0m0-.2h0m.1 2.9h0m.2-1h0m.1-.3h0m.2 .7h0m.2 .4h0m0-3.3h0m.4 3.6h0m0-3.1h0m0 .2h0m.1 2h0m.9-2.6h0m0 .6h0m.1 1h0m.1-.8h0m.1 1.5h0m.4 1.4h0m.4-3.1h0m0-.3h0m0-.4h0m.2 .2h0m.4 1.6h0m.2-.3h0m.1 .2h0m.1-.5h0m.2-.4h0m0 .6h0m.2-.3h0m.2-.1h0m.2 .2h0m0 .3h0m.1-1.2h0m0-.2h0m.1 0h0m.8 2.2h0m.3-.1h0m.3-.7h0m.1-.5h0m.9 .1h0m.4-.5h0m.2 2.6h0m.6-2.2h0m.1 .2h0m.5 2.3h0m.4-.4h0m.1-.9h0m.1-.5h0m.8-.7h0m-21.6 3.3h0m2.3 2.2h0m1.3 .1h0m.8 1.3h0m0-1h0m.1-2.6h0m.7 3.3h0m.6-2.2h0m.3 1.9h0m0-2.2h0m.1 1.9h0m.8-.1h0m.2 1h0m0-1.4h0m.4 1h0m.2-.9h0m0-1h0m.9-.6h0m.1 2.7h0m.6-1.6h0m.7-.4h0m.1-.1h0m0-1.4h0m.2 2.3h0m0-.6h0m.4-1.2h0m.3 2.6h0m.3-3.1h0m.2 2.2h0m.3 .4h0m.1-.4h0m0-.4h0m.1-1h0m.3 1h0m.1 1.1h0m.2 .6h0m0-1.7h0m0-1.5h0m.4 1.3h0m.1-1.8h0m.3 0h0m0 1.6h0m.1 1.5h0m.7-.1h0m.1-.8h0m.5-.5h0m.3-1.3h0m0 .4h0m.2-.3h0m.2 1.8h0m0-.8h0m.1-1.1h0m.1 2.1h0m.1-2.5h0m.1 3.3h0m0-.7h0m.2-.4h0m0 .6h0m.3-2.5h0m.1 3.6h0m.3-2.7h0m.2 1.6h0m.3 .2h0m.1 .3h0m.7-2h0m.2 2.3h0m0-3.3h0m.1 3.6h0m.1-.9h0m0-2.5h0m.1 3h0m.3-2.7h0m.7 .6h0m.9-.1h0m.9 .7h0m.5-1.2h0m.4-.3h0m-21.1 4.2h0m.2 2.8h0m.9-3h0m1.4 .5h0m.8 .6h0m.3-1.4h0m.2 1.9h0m.5 .9h0m.1 0h0m.1-2h0m.1 1.9h0m.3-.3h0m.8 .4h0m.2-2h0m.7 1h0m.2 .2h0m.2 .6h0m.2 .3h0m.1 .4h0m.4-1.2h0m.1 1h0m.1-.6h0m.2-1.9h0m.1 2.8h0m.5-1.7h0m0-1.5h0m0 2.6h0m.2-2.4h0m.4-.2h0m.1 .8h0m.4 2.3h0m.3 .1h0m.2-1.3h0m.3-1.5h0m.3 0h0m.1 2.2h0m.1-1h0m.2-.4h0m.2-1.1h0m.1 1h0m.1-1.3h0m.1 3h0m0-2.7h0m.5 2.8h0m0-.8h0m0-.6h0m0-.5h0m.4 1.3h0m.1-1.5h0m.1 .8h0m.4 1h0m.3-1h0m0-.4h0m.2-1.3h0m0 .5h0m0 .2h0m.2 2.5h0m.2-2.9h0m.1 1.7h0m.3-2.2h0m.1 .2h0m.1 2.1h0m.1-.2h0m.3-1.4h0m0 2.4h0m.1 .2h0m.2 .3h0m.3-1.2h0m.2-.9h0m.2 .7h0m.8 .2h0m-18.2 4.4h0m.8-.5h0m2.2-1.4h0m.5 2.7h0m.3-.1h0m1.3-2.2h0m.1 1.5h0m.1-2.4h0m.1 .2h0m.1 .4h0m.2 .9h0m.7 .4h0m0 1.2h0m.2 0h0m.1-2.2h0m.3 .5h0m.2-.3h0m0 1.9h0m.1-2.9h0m.1 3.1h0m.1-.7h0m.1-.2h0m0-1.1h0m.4-1.3h0m.2 2.3h0m.2-2.4h0m.1 0h0m.2 2.7h0m0-1.3h0m.2 1.6h0m0-2.6h0m0 1.4h0m0 1.5h0m.1-3.2h0m.1 .1h0m0 2.4h0m.3-.2h0m0 .8h0m0-2.7h0m.1 .4h0m.4 1.6h0m.1-1.9h0m.3 1.5h0m.1 1.4h0m.1-3h0m.1 3.1h0m.1-2.5h0m.2-.8h0m.1 3.1h0m0-3.1h0m.3 .9h0m.1-1.2h0m.1 3.5h0m.1 0h0m0-3.3h0m.2 .6h0m.2 2.1h0m.1-.4h0m.1-1.6h0m.1 .9h0m.5-.8h0m.2-1h0m.3 1h0m.1 1.2h0m.5-.9h0m.6-.3h0m.1 1.5h0m0-2.5h0m.6 1.7h0m.7-.7h0m0-1.2h0m.4 2.1h0m1-1.7h0m1.7 2.1h0m.9-2.6h0m1.2 1.3h0m.1 2.3h0m.7-2.5h0m3.5 1.9h0m-23.9 2h0m0 1.7h0m.3-.4h0m.2-.6h0m.1 1.9h0m.3-2.4h0m.3 1.6h0m.7-1.8h0m.4 .9h0m.8 1.7h0m.2-1.2h0m.3-2.4h0m.1 1.2h0m.1 1.2h0m.1-1.2h0m0 .8h0m.1 1.6h0m0-.2h0m0-.5h0m0-2.2h0m.2 1.9h0m.1 1.3h0m0-1.9h0m.3 .2h0m.4 1.5h0m.2-3h0m.3 3.1h0m.1-1.1h0m.1 .8h0m.1-.9h0m.4-1h0m.3-.2h0m0 .5h0m.4-.2h0m.1-.5h0m0 1h0m.1 1.5h0m.1-.3h0m.3-.6h0m.1-.8h0m.3-1.5h0m.1 3.3h0m.1-3.4h0m0 .4h0m0-.1h0m.4-.2h0m0 1.6h0m.1 .7h0m.1-2.6h0m0 1.5h0m0-.6h0m.1 2.3h0m0-2.6h0m0-.5h0m.4 .6h0m.1 .1h0m.3 .5h0m.2 1.5h0m.5-.5h0m.1-1.1h0m0 1.9h0m.2-2.8h0m.3 1.6h0m.5 1.1h0m.5-.9h0m.2 .3h0m.2-.3h0m.3 0h0m.3-.4h0m.1-1.5h0m0 .7h0m.1-1.1h0m.2 2.7h0m.1-2.4h0m.7 1.5h0m1.3 2h0m2.1-2.3h0m3.9 .8h0m-25.1 4.8h0m1.7 .2h0m.4-.2h0m.6-1h0m0 .6h0m.5-2.2h0m.3 2h0m0-.3h0m.2-1.1h0m.2 .1h0m.1 1h0m.7-1.2h0m.3-.5h0m.3 .9h0m0 .5h0m.2 1.4h0m.1-3h0m.1 1.3h0m.6 .4h0m0 .5h0m.1 .7h0m.3-2.8h0m.2 2.6h0m.3 .9h0m.5-.5h0m.4-.1h0m.2-1.4h0m.1-.9h0m.1 .7h0m.1 .1h0m.8-.1h0m.1 1h0m.2 .3h0m.2-1.5h0m0 1.8h0m.1-.2h0m.1 .7h0m0 .1h0m.2-.7h0m.2-.4h0m0-1.2h0m.1 .5h0m.2 1h0m.1-1.1h0m0 .6h0m.2-.9h0m0-.4h0m.1 1.2h0m0 .3h0m0 .2h0m.1-3h0m.1 .2h0m.1 3.6h0m0-1.3h0m0-1.1h0m0-1.3h0m.1 2.6h0m0-.6h0m.3-1.9h0m0 3.2h0m.1-1.1h0m.1-.4h0m.1-1.6h0m.5 2.8h0m.1-2.7h0m.2 .8h0m.2 2.4h0m.4-3.1h0m.3 .2h0m.4-.6h0m.3 3h0m.5-2.8h0m0-.2h0m.2 1.2h0m0 .3h0m1 .5h0m.6-1.6h0m.3-.2h0m.3 .7h0m3.6 0h0m-23.3 6.8h0m1.8-.7h0m.6-.1h0m.3-1.2h0m.2 1.4h0m.4-1.1h0m.2 .5h0m1 1.2h0m.3-1.4h0m.1-1.6h0m.4 2.3h0m.3-.9h0m0-2.2h0m.1 3.8h0m0-1.3h0m.8 .1h0m.4-2.5h0m.1 1.4h0m.4 1.1h0m0 1.3h0m.2-1.6h0m.1 1.4h0m0-3.3h0m0 3.2h0m.2 0h0m0-2.1h0m0 1.1h0m.2 .6h0m0 .2h0m.1 .1h0m0-.6h0m.1-.9h0m.1 0h0m0-.2h0m0 .2h0m.2-1.2h0m.6 .6h0m.1 2h0m.1-.2h0m.1-1.1h0m.1-1.3h0m0 1.5h0m0-2.1h0m.1 1.8h0m.1-.8h0m.4-.9h0m.3 2.8h0m.1 .3h0m.4-2h0m.1 .7h0m.1 1.6h0m.2-2.3h0m.1 .6h0m0 1h0m.2-1.2h0m.1 .3h0m.7 .5h0m.1-1.7h0m.9-.9h0m0 .3h0m.1 .1h0m.1 1.7h0m.2-1.5h0m0 1.8h0m.5-1.5h0m.1 .3h0m.3 .4h0m.2-.9h0m0-.4h0m0 .9h0m.2 1.1h0m.1-1.1h0m.2-.5h0m0 1.1h0m.1 .4h0m1-1.9h0m.7 1.4h0m.2-.8h0m.1-.6h0m0-.2h0m.8 1.4h0m.4-1.3h0m3.5 1h0m.5 1.5h0m-22.2 5.2h0m.4-.5h0m.6 .3h0m0-1h0m.7-1.9h0m.2 .7h0m.5 .2h0m.3 1h0m0-.4h0m0 1h0m.3-3.1h0m.6 1.9h0m.4-1.4h0m0 1.1h0m0 1.3h0m.1-3h0m.5 2.6h0m.3-2.5h0m.2 1.2h0m.1-.9h0m.5 1.1h0m0 1.5h0m.1-2.4h0m.3 .4h0m.1 1.9h0m.2-1h0m.2 1.6h0m.2-.1h0m0-2.1h0m.1 2.2h0m0 .3h0m.3-1.5h0m.1 1.5h0m0-3.7h0m.1 3.3h0m0-.1h0m0-1.3h0m.1-2.1h0m.1 1.1h0m0 1h0m.3 .5h0m.5-1.4h0m.1-1h0m.6 1h0m.3 .8h0m.4-1.9h0m.1 3.6h0m0-.1h0m.3-.7h0m.3-1.6h0m.1 .8h0m.1 1.8h0m.2-2.9h0m.1-.6h0m.2 .2h0m.3 1.3h0m.1 1.2h0m.3-3.1h0m0 2.7h0m.3-1.6h0m.3 1.1h0m.1-.3h0m.1-.8h0m.2 0h0m.7 1.5h0m.5-1.9h0m1.5 2.6h0m1.5-3.3h0m2.2 2.6h0m-19.3 5.3h0m.7-.8h0m.1-2.6h0m.1 1.3h0m.4-1.6h0m0 2.1h0m.2 .1h0m.5-.3h0m.1 1.6h0m.1-.9h0m0-2.7h0m0 1.8h0m.1 1.2h0m.3-3.1h0m.2 2.5h0m.3-.5h0m0 .8h0m0-.5h0m.3-2h0m0 1.3h0m0-.5h0m.1 .2h0m0 .8h0m.3 1h0m0 .2h0m0-2.2h0m.2 1.8h0m.2-1.3h0m.1 2h0m0 .1h0m0-1.5h0m0 1.2h0m.4-.1h0m.1-.1h0m.2-2.2h0m.1-1h0m0 1.7h0m.4 2.2h0m.1-3.8h0m.2 1.5h0m.1 .8h0m.1-1.5h0m.1 2.6h0m.1-2.9h0m.3 0h0m.6 2.5h0m.6-2.8h0m0 1.5h0m.3-.5h0m.1 .8h0m.1-1.7h0m.1 3.4h0m.1-2h0m0 1.6h0m.1-1.7h0m.1-1.7h0m.1 1.5h0m.1 1.9h0m.2 .1h0m.2-2.2h0m0-.8h0m.4 1.7h0m.1-2.1h0m0 1.4h0m.2-.6h0m.1 .9h0m.1-.9h0m.1-.6h0m.3 1h0m.1 .4h0m.1-.3h0m.1-.3h0m.3 2.2h0m.2 .3h0m.9-2.7h0m.1 1.6h0m.1-2.1h0m.1-.3h0m0 1.5h0m.4 1.9h0m0-2.5h0m1 1.2h0m.3-1.4h0m.1 .1h0m0-.7h0m.1 1.4h0m.3-.1h0m.1 .9h0m-15.5 5.5h0m.2-3.3h0m.1 1.7h0m.2 .2h0m0-2.5h0m.1 2.6h0m.2-1.7h0m.3 .2h0m.2 0h0m.4 .3h0m.1-.8h0m.2 1.1h0m.4 .1h0m0 .5h0m.1-1.1h0m.1 .3h0m0 1.3h0m.1 0h0m.6 0h0m.1 .6h0m.1-1.1h0m.1 1.4h0m.1-2.2h0m.1-.4h0m.1-.2h0m.1 .8h0m0 1.9h0m.1 .1h0m.2 .1h0m.3-1.5h0m.4-1.4h0m.2 2h0m.2-1h0m0-.3h0m0-.6h0m.4-.5h0m0 1.1h0m.2 .1h0m.2 .7h0m0-2.4h0m.2 3.8h0m0-.8h0m.5 .9h0m.1-1h0m0 .5h0m0 .5h0m.2-2.8h0m0 1.5h0m.1-.6h0m.1-.1h0m.1 1h0m.1-.4h0m.1 .8h0m.2-.1h0m0-3h0m.1 2.4h0m.2-1.7h0m.6-.5h0m0 .4h0m.2 1.4h0m.1 .1h0m.3 .2h0m.1-1.2h0m.4 2.1h0m0-1.9h0m.1-1h0m.3 2.4h0m.8 .3h0m.4-1.7h0m.1 1h0m0-1.1h0m.6-1.3h0m.1 1.3h0m.2-.2h0m.7 2h0m.6-2h0m1.1-1.2h0m0 1.1h0m.2 1.5h0m1.1 .1h0m-16.3 1.4h0m.3 .9h0m.1-.4h0m.4 .8h0m.3-.2h0m.6-.6h0m.1 1h0m0 .4h0m0 .2h0m.1 1.4h0m0-3h0m.2 1.2h0m.1-1.1h0m.1 3.2h0m.2-2.9h0m.1-1h0m.2 1.4h0m.2 .4h0m.2-.6h0m.3-.6h0m.1 1.5h0m.3-1.4h0m.2 .6h0m.2 1.9h0m0 .1h0m0-3h0m.1 .2h0m.2 .4h0m.3-.5h0m.5 .7h0m.6-1h0m.1 .9h0m.4-.9h0m.2 3.4h0m0-.8h0m.2 .8h0m.1-.7h0m.6-2.5h0m.3 3.5h0m0-2h0m.3 .1h0m.4-1.9h0m.4 3h0m.3-1.1h0m0-1.2h0m.2 .1h0m.5-.2h0m.8 2.8h0m.2-.1h0m.2-2.6h0m.3 1.5h0m1.6-.6h0m.3-.2h0m-13.2 3.8h0m1.5 2.3h0m1.2-3.3h0m2.5 1.7h0m.2 1h0m.1-1.1h0m.1-1.1h0m.8 .2h0m0 2.6h0m1.7-3.4h0m.9 .8h0m.3 1.7h0m-8.5 4.3h0m5.3-1.7h0m.9-.4h0m2 0h0m1.8 2h0m-5.3 3h0" stroke="#d84ae8" stroke-width="0.6" stroke-linecap="square" opacity="0.85" fill="none"/>
<rect x="41.30" y="147.50" width="73.30" height="80.90" rx="0" fill="none" stroke="#3a8ff0" stroke-width="1.1" stroke-dasharray="2.0 1.5"/>
<rect x="74.80" y="148.30" width="39.00" height="78.80" rx="0" fill="none" stroke="#e070f0" stroke-width="1.0" stroke-dasharray="1.8 1.7"/>
<rect x="96.50" y="148.70" width="15.10" height="15.70" rx="0" fill="none" stroke="#231f20" stroke-width="0.7" />
<line x1="111.60" y1="156.60" x2="136.00" y2="156.60" stroke="#231f20" stroke-width="0.7" />
<line x1="114.20" y1="199.90" x2="136.00" y2="199.90" stroke="#d24fdc" stroke-width="0.9" />
<line x1="114.80" y1="223.60" x2="136.00" y2="223.60" stroke="#2f7fe8" stroke-width="0.9" />
<text x="137.30" y="152.30" font-size="9.2" stroke="#231f20" stroke-width="0.15" >Large</text>
<text x="137.30" y="164.00" font-size="9.2" stroke="#231f20" stroke-width="0.15" >NeuN<tspan dy="-2.8" font-size="6">+</tspan><tspan dy="2.8"> population</tspan></text>
<text x="137.30" y="175.20" font-size="9.2" stroke="#231f20" stroke-width="0.15" >(studied here)</text>
<text x="137.30" y="196.90" font-size="9.2" stroke="#231f20" stroke-width="0.15" >Overall</text>
<text x="137.30" y="208.50" font-size="9.2" stroke="#231f20" stroke-width="0.15" >NeuN<tspan dy="-2.8" font-size="6">+</tspan><tspan dy="2.8"> population</tspan></text>
<text x="137.30" y="226.20" font-size="9.2" stroke="#231f20" stroke-width="0.15" >All cells (DAPI<tspan dy="-2.8" font-size="6">+</tspan><tspan dy="2.8">)</tspan></text>
<rect x="40.50" y="254.30" width="86.80" height="77.40" rx="0" fill="none" stroke="#c8c8c8" stroke-width="0.6" />
<line x1="40.50" y1="254.30" x2="40.50" y2="331.70" stroke="#333" stroke-width="0.6" />
<line x1="40.50" y1="331.70" x2="127.30" y2="331.70" stroke="#555" stroke-width="0.6" />
<line x1="38.50" y1="264.90" x2="40.50" y2="264.90" stroke="#333" stroke-width="0.5" />
<text x="37.40" y="267.10" font-size="6.4" text-anchor="end" stroke="#231f20" stroke-width="0.15" >125</text>
<line x1="38.50" y1="278.50" x2="40.50" y2="278.50" stroke="#333" stroke-width="0.5" />
<text x="37.40" y="280.70" font-size="6.4" text-anchor="end" stroke="#231f20" stroke-width="0.15" >100</text>
<line x1="38.50" y1="291.60" x2="40.50" y2="291.60" stroke="#333" stroke-width="0.5" />
<text x="37.40" y="293.80" font-size="6.4" text-anchor="end" stroke="#231f20" stroke-width="0.15" >75</text>
<line x1="38.50" y1="305.20" x2="40.50" y2="305.20" stroke="#333" stroke-width="0.5" />
<text x="37.40" y="307.40" font-size="6.4" text-anchor="end" stroke="#231f20" stroke-width="0.15" >50</text>
<line x1="38.50" y1="319.00" x2="40.50" y2="319.00" stroke="#333" stroke-width="0.5" />
<text x="37.40" y="321.20" font-size="6.4" text-anchor="end" stroke="#231f20" stroke-width="0.15" >25</text>
<line x1="38.50" y1="332.20" x2="40.50" y2="332.20" stroke="#333" stroke-width="0.5" />
<text x="37.40" y="334.40" font-size="6.4" text-anchor="end" stroke="#231f20" stroke-width="0.15" >0</text>
<line x1="39.60" y1="255.00" x2="40.50" y2="255.00" stroke="#333" stroke-width="0.35" />
<line x1="39.60" y1="257.10" x2="40.50" y2="257.10" stroke="#333" stroke-width="0.35" />
<line x1="39.60" y1="259.20" x2="40.50" y2="259.20" stroke="#333" stroke-width="0.35" />
<line x1="39.60" y1="261.30" x2="40.50" y2="261.30" stroke="#333" stroke-width="0.35" />
<line x1="39.60" y1="263.40" x2="40.50" y2="263.40" stroke="#333" stroke-width="0.35" />
<line x1="39.60" y1="265.50" x2="40.50" y2="265.50" stroke="#333" stroke-width="0.35" />
<line x1="39.60" y1="267.60" x2="40.50" y2="267.60" stroke="#333" stroke-width="0.35" />
<line x1="39.60" y1="269.70" x2="40.50" y2="269.70" stroke="#333" stroke-width="0.35" />
<line x1="39.60" y1="271.80" x2="40.50" y2="271.80" stroke="#333" stroke-width="0.35" />
<line x1="39.60" y1="273.90" x2="40.50" y2="273.90" stroke="#333" stroke-width="0.35" />
<line x1="39.60" y1="276.00" x2="40.50" y2="276.00" stroke="#333" stroke-width="0.35" />
<line x1="39.60" y1="278.10" x2="40.50" y2="278.10" stroke="#333" stroke-width="0.35" />
<line x1="39.60" y1="280.20" x2="40.50" y2="280.20" stroke="#333" stroke-width="0.35" />
<line x1="39.60" y1="282.30" x2="40.50" y2="282.30" stroke="#333" stroke-width="0.35" />
<line x1="39.60" y1="284.40" x2="40.50" y2="284.40" stroke="#333" stroke-width="0.35" />
<line x1="39.60" y1="286.50" x2="40.50" y2="286.50" stroke="#333" stroke-width="0.35" />
<line x1="39.60" y1="288.60" x2="40.50" y2="288.60" stroke="#333" stroke-width="0.35" />
<line x1="39.60" y1="290.70" x2="40.50" y2="290.70" stroke="#333" stroke-width="0.35" />
<line x1="39.60" y1="292.80" x2="40.50" y2="292.80" stroke="#333" stroke-width="0.35" />
<line x1="39.60" y1="294.90" x2="40.50" y2="294.90" stroke="#333" stroke-width="0.35" />
<line x1="39.60" y1="297.00" x2="40.50" y2="297.00" stroke="#333" stroke-width="0.35" />
<line x1="39.60" y1="299.10" x2="40.50" y2="299.10" stroke="#333" stroke-width="0.35" />
<line x1="39.60" y1="301.20" x2="40.50" y2="301.20" stroke="#333" stroke-width="0.35" />
<line x1="39.60" y1="303.30" x2="40.50" y2="303.30" stroke="#333" stroke-width="0.35" />
<line x1="39.60" y1="305.40" x2="40.50" y2="305.40" stroke="#333" stroke-width="0.35" />
<line x1="39.60" y1="307.50" x2="40.50" y2="307.50" stroke="#333" stroke-width="0.35" />
<line x1="39.60" y1="309.60" x2="40.50" y2="309.60" stroke="#333" stroke-width="0.35" />
<line x1="39.60" y1="311.70" x2="40.50" y2="311.70" stroke="#333" stroke-width="0.35" />
<line x1="39.60" y1="313.80" x2="40.50" y2="313.80" stroke="#333" stroke-width="0.35" />
<line x1="39.60" y1="315.90" x2="40.50" y2="315.90" stroke="#333" stroke-width="0.35" />
<line x1="39.60" y1="318.00" x2="40.50" y2="318.00" stroke="#333" stroke-width="0.35" />
<line x1="39.60" y1="320.10" x2="40.50" y2="320.10" stroke="#333" stroke-width="0.35" />
<line x1="39.60" y1="322.20" x2="40.50" y2="322.20" stroke="#333" stroke-width="0.35" />
<line x1="39.60" y1="324.30" x2="40.50" y2="324.30" stroke="#333" stroke-width="0.35" />
<line x1="39.60" y1="326.40" x2="40.50" y2="326.40" stroke="#333" stroke-width="0.35" />
<line x1="39.60" y1="328.50" x2="40.50" y2="328.50" stroke="#333" stroke-width="0.35" />
<line x1="39.60" y1="330.60" x2="40.50" y2="330.60" stroke="#333" stroke-width="0.35" />
<path d="M43.86,331.70v1.3M47.70,331.70v1.3M50.42,331.70v1.3M52.54,331.70v1.3M54.26,331.70v1.3M55.72,331.70v1.3M56.99,331.70v1.3M58.10,331.70v1.3M59.10,331.70v2.3M65.66,331.70v1.3M69.50,331.70v1.3M72.22,331.70v1.3M74.34,331.70v1.3M76.06,331.70v1.3M77.52,331.70v1.3M78.79,331.70v1.3M79.90,331.70v1.3M80.90,331.70v2.3M87.46,331.70v1.3M91.30,331.70v1.3M94.02,331.70v1.3M96.14,331.70v1.3M97.86,331.70v1.3M99.32,331.70v1.3M100.59,331.70v1.3M101.70,331.70v1.3M102.70,331.70v2.3M109.26,331.70v1.3M113.10,331.70v1.3M115.82,331.70v1.3M117.94,331.70v1.3M119.66,331.70v1.3M121.12,331.70v1.3M122.39,331.70v1.3M123.50,331.70v1.3M124.50,331.70v2.3" stroke="#444" stroke-width="0.4" fill="none"/>
<text x="53.60" y="342.20" font-size="6.4" text-anchor="middle" stroke="#231f20" stroke-width="0.15" >10<tspan dy="-2.6" font-size="4.6">2</tspan></text>
<text x="75.50" y="342.20" font-size="6.4" text-anchor="middle" stroke="#231f20" stroke-width="0.15" >10<tspan dy="-2.6" font-size="4.6">3</tspan></text>
<text x="97.40" y="342.20" font-size="6.4" text-anchor="middle" stroke="#231f20" stroke-width="0.15" >10<tspan dy="-2.6" font-size="4.6">4</tspan></text>
<text x="119.30" y="342.20" font-size="6.4" text-anchor="middle" stroke="#231f20" stroke-width="0.15" >10<tspan dy="-2.6" font-size="4.6">5</tspan></text>
<text x="83.00" y="350.20" font-size="8.4" text-anchor="middle" stroke="#231f20" stroke-width="0.15" >NeuN–AF488</text>
<text x="21.50" y="298.50" font-size="9.2" text-anchor="middle" stroke="#231f20" stroke-width="0.15" transform="rotate(-90 21.50 298.50)" >Count</text>
<path d="M42.03,331.65 L42.46,331.48 L42.89,331.28 L43.32,331.14 L43.75,330.97 L44.18,330.78 L44.61,330.70 L45.04,330.09 L45.47,329.38 L45.90,328.61 L46.33,328.62 L46.76,328.05 L47.19,327.85 L47.62,326.43 L48.05,325.67 L48.48,325.80 L48.91,323.26 L49.33,322.10 L49.76,321.63 L50.19,320.47 L50.62,320.19 L51.05,319.19 L51.48,315.20 L51.91,314.84 L52.34,311.98 L52.77,309.41 L53.20,308.18 L53.63,302.23 L54.06,299.22 L54.49,290.73 L54.92,288.21 L55.35,280.73 L55.78,277.02 L56.21,269.70 L56.64,268.38 L57.07,264.52 L57.50,255.20 L57.93,255.20 L58.36,255.20 L58.79,255.20 L59.22,263.89 L59.65,266.85 L60.08,267.78 L60.51,274.36 L60.94,267.60 L61.37,277.19 L61.80,276.45 L62.23,286.82 L62.66,286.22 L63.09,292.89 L63.52,304.70 L63.95,306.77 L64.38,306.52 L64.81,312.77 L65.24,313.43 L65.67,318.16 L66.10,321.49 L66.53,322.39 L66.96,323.30 L67.38,325.35 L67.81,326.68 L68.24,327.43 L68.67,327.24 L69.10,327.89 L69.53,328.82 L69.96,329.13 L70.39,329.53 L70.82,329.70 L71.25,329.50 L71.68,329.96 L72.11,329.97 L72.54,330.18 L72.97,330.40 L73.40,330.08 L73.83,330.18 L74.26,329.85 L74.69,329.87 L75.12,329.52 L75.55,329.43 L75.98,329.73 L76.41,329.86 L76.84,330.39 L77.27,330.57 L77.70,330.32 L78.13,330.43 L78.56,330.14 L78.99,329.59 L79.42,329.33 L79.85,329.37 L80.28,328.59 L80.71,328.90 L81.14,328.59 L81.57,327.73 L82.00,327.71 L82.43,327.29 L82.86,326.95 L83.29,326.35 L83.72,324.98 L84.15,324.76 L84.58,323.30 L85.01,323.08 L85.43,322.30 L85.86,320.47 L86.29,321.01 L86.72,320.10 L87.15,318.43 L87.58,319.68 L88.01,318.88 L88.44,315.29 L88.87,314.88 L89.30,317.26 L89.73,318.25 L90.16,316.80 L90.59,316.03 L91.02,317.99 L91.45,316.36 L91.88,317.46 L92.31,318.77 L92.74,319.74 L93.17,321.15 L93.60,322.10 L94.03,320.67 L94.46,323.15 L94.89,322.58 L95.32,323.91 L95.75,323.26 L96.18,323.51 L96.61,323.89 L97.04,323.88 L97.47,321.95 L97.90,322.62 L98.33,321.44 L98.76,319.70 L99.19,318.06 L99.62,318.51 L100.05,320.10 L100.48,319.51 L100.91,323.00 L101.34,324.67 L101.77,325.25 L102.20,325.98 L102.63,327.36 L103.06,327.97 L103.48,328.57 L103.91,329.06 L104.34,329.89 L104.77,330.12 L105.20,330.17 L105.63,330.39 L106.06,330.72 L106.49,330.95 L106.92,331.01 L107.35,331.12 L107.78,331.17 L108.21,331.21 L108.64,331.15 L109.07,331.22 L109.50,331.24 L109.93,331.36 L110.36,331.36 L110.79,331.41 L111.22,331.44 L111.65,331.51 L112.08,331.53 L112.51,331.59 L112.94,331.63 Z" fill="#c27a99" stroke="#8a2b5a" stroke-width="0.55" stroke-linejoin="round"/>
<rect x="41.40" y="255.10" width="73.80" height="76.60" rx="0" fill="none" stroke="#3a8ff0" stroke-width="1.1" stroke-dasharray="2.0 1.5"/>
<rect x="75.30" y="256.00" width="38.60" height="75.70" rx="0" fill="none" stroke="#e070f0" stroke-width="1.0" stroke-dasharray="1.8 1.7"/>
<rect x="96.40" y="258.30" width="15.20" height="73.40" rx="0" fill="none" stroke="#231f20" stroke-width="0.7" />
<text x="228.90" y="131.80" font-size="10.8" font-weight="bold" fill="#000" stroke="#000" stroke-width="0.35">c</text>
<text x="297.00" y="142.70" font-size="9.2" text-anchor="middle" stroke="#231f20" stroke-width="0.15" >All cells (DAPI<tspan dy="-2.8" font-size="6">+</tspan><tspan dy="2.8">)</tspan></text>
<text x="412.00" y="131.80" font-size="9.2" text-anchor="middle" stroke="#231f20" stroke-width="0.15" >Overall</text>
<text x="412.00" y="142.70" font-size="9.2" text-anchor="middle" stroke="#231f20" stroke-width="0.15" >NeuN<tspan dy="-2.8" font-size="6">+</tspan><tspan dy="2.8"> population</tspan></text>
<text x="527.00" y="131.80" font-size="9.2" text-anchor="middle" stroke="#231f20" stroke-width="0.15" >Large</text>
<text x="527.00" y="142.70" font-size="9.2" text-anchor="middle" stroke="#231f20" stroke-width="0.15" >NeuN<tspan dy="-2.8" font-size="6">+</tspan><tspan dy="2.8"> population</tspan></text>
<rect x="240.10" y="147.10" width="113.30" height="107.50" rx="0" fill="#fff" stroke="#8a8a8a" stroke-width="0.7" />
<rect x="355.10" y="147.10" width="113.30" height="107.50" rx="0" fill="#fff" stroke="#8a8a8a" stroke-width="0.7" />
<rect x="470.10" y="147.10" width="113.30" height="107.50" rx="0" fill="#fff" stroke="#8a8a8a" stroke-width="0.7" />
<defs><clipPath id="cp1"><rect x="240.5" y="147.5" width="112.5" height="106.7"/></clipPath><clipPath id="cp2"><rect x="355.5" y="147.5" width="112.5" height="106.7"/></clipPath><clipPath id="cp3"><rect x="470.5" y="147.5" width="112.5" height="106.7"/></clipPath></defs>
<g clip-path="url(#cp1)">
<path d="M300.2 155.2h0m.3 0h0m0-1.1h0m.1-1.1h0m0 .9h0m.1-1h0m0 1.4h0m.1 1.1h0m.1 .2h0m.2-2.2h0m.1 .4h0m.2-.4h0m0-.2h0m.1 2.5h0m0-.3h0m.1-1.8h0m.1 1h0m0-.6h0m0 .7h0m0-1h0m0-.2h0m.1 .3h0m0 2h0m.1-3.7h0m0 2.5h0m.1 1.3h0m.1-2.6h0m0 .6h0m.1-.5h0m0-.2h0m0-.5h0m0 2.7h0m.1-.9h0m0-.6h0m0 .6h0m.1-2.2h0m0 .6h0m0 .6h0m0 .4h0m0 1.5h0m.1-2.2h0m0 1.9h0m.1-.5h0m.2 .5h0m0-.8h0m0 .4h0m0-.6h0m0-.2h0m.1 1.6h0m0-.9h0m0 1.1h0m.1-.2h0m0-1.7h0m0 .4h0m0 .7h0m.1-.6h0m.1 .2h0m.1-2.2h0m0 1.4h0m.2-1.3h0m0 1.4h0m0 1.6h0m0-.1h0m0-1.9h0m.1 .1h0m0-.3h0m.1-1.1h0m0 2.9h0m.1-2.2h0m.1 1.6h0m0-.3h0m0 0h0m.1 .5h0m.1 .6h0m0-1.5h0m0-1h0m.1 2h0m0-1.5h0m.1 2.1h0m.1-1.5h0m.2-.5h0m.5 1.1h0m.8-.3h0m-4.4 2.4h0m0-.5h0m.2 .2h0m.1-.1h0m.3-.1h0m1.1 .6h0m0-.2h0" stroke="#a050e0" stroke-width="0.6" stroke-linecap="square" opacity="0.9" fill="none"/>
<path d="M318.3 155.5h0m0 0h0m.1 .1h0m0 0h0m.1 .1h0m.3-.2h0m.2-.2h0m.1 .3h0m.1-.1h0m.1 .1h0m.4 0h0m.4-.9h0m.3 .9h0m0 0h0m.9-.2h0m-3.3 .8h0m.5 0h0m.1-.2h0m.6 .2h0m.1-.2h0m.2 0h0m.3 .3h0m.2-.2h0m.1 0h0m.4 .1h0" stroke="#d4a914" stroke-width="0.6" stroke-linecap="square" opacity="0.9" fill="none"/>
<path d="M322.8 159.3h0m.4-.1h0m.1 .6h0m.1 0h0m.3-.3h0m.2-1.1h0m0 .8h0m.2 .1h0m.2 .2h0m0-.3h0m.3-.7h0m0-.1h0m0 .3h0m.1 1.2h0m0-1.2h0m.2 .8h0m.7-1h0m.1 .7h0m0-.6h0m0 1.2h0m.4-.1h0m0-.5h0m.1 .6h0m.5-.5h0m.1 .5h0m.1-.2h0m.1-.3h0m.4 .4h0m.3-.5h0m.9 .7h0m.4-.7h0m.5-1.4h0m0 1.2h0m-7.3 1.1h0m0 .4h0m.3-.4h0m.6 .8h0m.4-.8h0m.2-.1h0m.2 2h0m.6-1h0m.1-.9h0m.1 1h0m.4-.7h0m.4-.3h0m.1 0h0m0 2h0m.2-1.5h0m0 .5h0m0 1h0m.3-.5h0m.1-1.1h0m.1-.2h0m0 .4h0m0-.6h0m.1 .6h0m0 1.6h0m.3-.9h0m0-1.4h0m.2 .1h0m0 1h0m.3-.8h0m.1-.1h0m.1 3.1h0m.5-3.1h0m1.1 0h0m0-.1h0m.8-.1h0m.9 .7h0m.2 .3h0" stroke="#b8b8b8" stroke-width="0.6" stroke-linecap="square" opacity="0.9" fill="none"/>
<path d="M266.9 171.7h0m1.4-3.4h0m.9 3.2h0m.1 .4h0m.3-.9h0m.3 .5h0m.4-.1h0m.3-.4h0m.1-.5h0m.5-.2h0m.3 1.4h0m.2 0h0m0-.7h0m0-.8h0m.1 1.7h0m.1-2.1h0m.1 .6h0m.3 .6h0m0-1.8h0m0-.6h0m.1 3.1h0m.1-.5h0m.1-.1h0m0 .5h0m.4-1.3h0m.2-.3h0m.1 .8h0m.4-.7h0m1 1.2h0m.1 .4h0m1.9-1.1h0m.1 1.2h0m.6-1.4h0m.8 1.5h0m-9.7 2.5h0m.6-1.3h0m.9-.1h0m0 1.2h0m.4-1.3h0m.1 .6h0m.2-.9h0m.1 .2h0m.3 .4h0m0 .8h0m.1-1.9h0m0 1.1h0m.4-1.1h0m.1 2.6h0m0-1.9h0m.4 1.1h0m.1-.8h0m.1-.6h0m.2 .2h0m.2 0h0m.3 .9h0m.3-1.2h0m0 .1h0m0 2h0m.2-1.9h0m.3 1.3h0m.1-.2h0m.3-1.7h0m0 .9h0m.5 1.6h0m.8-1h0m.8 .9h0m.2-.3h0m.6-.3h0m1.3-1.6h0m-5.9 4.5h0" stroke="#4060d8" stroke-width="0.6" stroke-linecap="square" opacity="0.8" fill="none"/>
<path d="M276.6 170.4h0m.4 .5h0m0 .2h0m.3 0h0m.7-.1h0m0 .4h0m1 .5h0m.1 0h0m.5-.3h0m.1-.8h0m.1 .9h0m.3-1.7h0m.2-.6h0m0-.8h0m.6 2.2h0m.1 .2h0m.3-.4h0m.2-.3h0m0 1.2h0m0-1h0m.2 1h0m.3-.6h0m.2-.5h0m0-.2h0m.3 1.4h0m.2-.7h0m.3-1.2h0m0 2h0m.1-1.6h0m.2 1.4h0m.5-.4h0m0-.1h0m.1 .1h0m1.1-.5h0m-5.8 3.1h0m.1-1.7h0m.5 .2h0m.9 0h0m.7 .7h0m0-.6h0m.3 .1h0m.7 .3h0m.6-.2h0m.1-.3h0m.3-.2h0" stroke="#22c8d8" stroke-width="0.6" stroke-linecap="square" opacity="0.8" fill="none"/>
<path d="M285.5 170.2h0m.5-1.5h0m1.4 2h0m.1 .3h0m.7-.1h0m.2-.4h0m.2 1.4h0m.1-1.6h0m.1-.7h0m0 1.9h0m.3 .4h0m.1-1.5h0m.5-.5h0m.1 1.5h0m0-1.4h0m0 1.3h0m0-1h0m.1 1.2h0m0-.9h0m.2-.7h0m.1 .3h0m.2 1h0m.2-.8h0m0-.4h0m.4-.5h0m.1 1.4h0m.3-.4h0m.9 .4h0m.7 .6h0m-5.6 .5h0m1.2 1.5h0m.5-.8h0m.5-.4h0m1-.1h0m.3-.1h0" stroke="#2a7ad8" stroke-width="0.6" stroke-linecap="square" opacity="0.8" fill="none"/>
<path d="M309.1 174.6h0m.1 0h0m.2 .9h0m.5 0h0m0-.7h0m.2 .4h0m.1 .1h0m0 .1h0m.1-1h0m.1 .7h0m0 .8h0m0-.3h0m0-2h0m.3 .3h0m0 1.6h0m0-.3h0m.1-1.2h0m0 .3h0m0 1h0m0 .2h0m.1-.5h0m0 .8h0m.1-.5h0m.1-.2h0m0-.3h0m.1-1.4h0m0 2.1h0m.1 .4h0m0-2.8h0m0 2.3h0m.1-.3h0m0 .4h0m.1-.7h0m0-.2h0m0 1.2h0m0-.4h0m0-1.3h0m.1 .5h0m.1 0h0m.1 .9h0m0-1.8h0m0 2h0m.2-.8h0m0 .3h0m0-1.8h0m.1 1.6h0m.3 .2h0m0-.5h0m.1-.5h0m0 0h0m0 1.6h0m.1-1.7h0m0 .2h0m.3 .8h0m0 .7h0m.1 0h0m.1-1h0m0-1.1h0m.2 1.4h0m0 .4h0m.1-.2h0m.2-1h0m.4 1.1h0m.6-1.4h0m.2 1.4h0m.2-1.1h0m.1-.7h0m.6 2.3h0m-8.2 .1h0m.9 .4h0m.8 .3h0m.5-.6h0m0 .6h0m.4 .1h0m.1 0h0m.1 1.3h0m.1-1.3h0m.1 .3h0m.1-.4h0m0-.3h0m.1 .7h0m.1-.7h0m0 .4h0m0-.1h0m0-.4h0m.1 2h0m.2-.2h0m.1-1.1h0m.1-.4h0m0 .2h0m.1-.1h0m.1-.7h0m0 0h0m.2 .5h0m.1 .7h0m0-1.1h0m0 .6h0m.3-.6h0m0 .1h0m0 1.4h0m.1-.7h0m.1-.1h0m.2-.7h0m0 .5h0m.1-.5h0m.1 0h0m0 .3h0m0 2h0m0-1.8h0m.1-.2h0m.1 1h0m0-.7h0m.1 .4h0m.1 .5h0m.4-.4h0m.1 .4h0m0-1.3h0m0 .6h0m.6 1h0m.3-1.7h0" stroke="#1a6a1a" stroke-width="0.65" stroke-linecap="square" opacity="0.9" fill="none"/>
<path d="M333.3 179.4h0m.1-1.3h0m.5 1.8h0m.1-3.9h0m0 3.7h0m.4-.4h0m.5-.1h0m1.3-.5h0m.1-.1h0m.4-1.7h0m1.4 .4h0m1 2.6h0m.2-.2h0m.7-1.5h0m.1-.1h0m4.7 .5h0m.4 1h0m.5-.5h0m-19.4 4h0m2 .6h0m.6-.9h0m.9 .5h0m.1-.7h0m.2 .4h0m.1 .5h0m0-.8h0m.2-1.1h0m0 1.6h0m.1 .5h0m.1-1.6h0m.6-1.2h0m.1 1.2h0m.1 1h0m.2 .5h0m.2-2h0m.1 1.9h0m.2-2h0m0 .8h0m.2-.7h0m.2-1.3h0m0 3.2h0m.4-.5h0m.3 0h0m0 .3h0m.1-1h0m0 1.4h0m.1-.7h0m.1-1.7h0m0-.6h0m0-.5h0m.1 2.1h0m.2 1.2h0m0 .1h0m.2-.2h0m0 .3h0m0-.6h0m0-.4h0m.1-1.5h0m0 2h0m0 .5h0m.1-2.2h0m.1 1.3h0m0 .5h0m.2-2.1h0m0 1.4h0m.1 .6h0m0 .5h0m.1-1.6h0m.2 .2h0m.1 1.1h0m0-.1h0m0-.2h0m0-1.3h0m.1 1.8h0m.1 .2h0m0-2.9h0m0 2.7h0m.1-.1h0m.1 0h0m0-1.3h0m0 .3h0m.1-.9h0m.1 .4h0m.1 1.9h0m0-2.4h0m.1 0h0m0 1.5h0m0 .9h0m.1-1.5h0m0 .4h0m0 0h0m.2-.6h0m0 1.1h0m0-2.8h0m.1 2.4h0m0-.2h0m0-.3h0m0-1.5h0m0 1.6h0m.1-.4h0m0-.3h0m0 .8h0m0 .1h0m.1 .4h0m0 .7h0m0-.1h0m0-.6h0m.1 .6h0m0-1.1h0m.1 .2h0m0-.2h0m0 .6h0m.2-1.8h0m0 2.3h0m0-2.3h0m0 .9h0m.1 1.2h0m0-.4h0m0 .4h0m0-2.8h0m0 3h0m.1 .1h0m0-.4h0m0 .1h0m0 .4h0m0-2.8h0m.1 2.1h0m0-1.1h0m0 1h0m0 .7h0m.1 .1h0m0-.5h0m0 .2h0m.1-.5h0m0-.2h0m0-.3h0m.1 1.1h0m0-1.7h0m0-.3h0m0 1.7h0m0-.2h0m0-.7h0m.1-.4h0m0 1.4h0m0-1.7h0m.1 .5h0m0 .5h0m.1 .7h0m.1-.8h0m0 .7h0m.1 .5h0m0-3.5h0m0 1.7h0m0-.1h0m.1-1h0m0 2.5h0m0-1.7h0m0 1.6h0m.1-2.4h0m0 1.4h0m0 1.3h0m0-2.2h0m0 1.6h0m.1 .5h0m0-.5h0m0 .8h0m.1-1.3h0m0 1h0m0 .1h0m.1-1.5h0m.1 .7h0m0-.5h0m.1 .3h0m0-.5h0m.1-.6h0m0 1.8h0m0 .3h0m.1-.8h0m0-.6h0m.1-1.6h0m0 1.1h0m.1-.7h0m0-.4h0m.1 2.7h0m0-.2h0m0-2.1h0m.2 2.3h0m0-.3h0m.3-2.7h0m0 3.4h0m.1-.8h0m0 0h0m0-1.6h0m.1 2h0m.1-1.4h0m.1 1.7h0m.1-1.9h0m.1 .3h0m0 .9h0m.1-1.7h0m0 2.2h0m.1 0h0m0-3h0m0 .2h0m0-.3h0m.1 .8h0m0-.1h0m0 1.4h0m0-1.4h0m0 .8h0m.1 .8h0m.1 1.2h0m0-2.8h0m.2 2h0m.1 0h0m0 .2h0m.1-2.2h0m0 .6h0m.1 .6h0m0-.7h0m.3 .8h0m0-.4h0m0 1h0m.1-.5h0m.1 .6h0m.1-1.6h0m0-.2h0m.1 1.2h0m.1 1.4h0m0-.5h0m0-1.8h0m0 1.9h0m.1 .2h0m.5-3.3h0m.1 1.3h0m.1 2h0m.2 .2h0m.1-1.7h0m0-1.4h0m.1 2.1h0m.1-2.9h0m.1 .3h0m.1 3.3h0m.2-.2h0m.1-1.6h0m.4-.4h0m.2 2.1h0m.5 .1h0m1.3-.9h0m.2-1.7h0m.5 1.1h0m-20.9 4.6h0m1.1 .7h0m.2-3.4h0m.5 1.2h0m.8 .7h0m.4-1.1h0m.1 2.1h0m.1-.1h0m.2-2.8h0m.1 1.4h0m.4 1.9h0m0-1.5h0m.3-.2h0m.8-.1h0m.2-1.1h0m.2 2.1h0m.1 1.1h0m0-2.8h0m.3 1.2h0m0 1.5h0m0 .4h0m0-2.2h0m.1-.5h0m.2 1.6h0m0 .7h0m.1-.5h0m.1 .6h0m.1-1.8h0m.2 0h0m0-.1h0m.1 .4h0m.1 1.4h0m.1-1.2h0m.1-2.1h0m0 .2h0m0 2.9h0m.1-2.1h0m0 1.4h0m0-.6h0m.1-.1h0m0-.4h0m0 .5h0m0-1.4h0m.1 2.7h0m0-2.6h0m.1-.7h0m0 1h0m.1 1.7h0m0-1.8h0m.1-.6h0m.1 2.7h0m0-2.9h0m0 3.8h0m0-3.8h0m0 1.8h0m0-.7h0m0-.1h0m0 .5h0m.1-.8h0m0 .1h0m.1 2.6h0m0-.9h0m.1-2.1h0m0 1.1h0m.1 .4h0m0 .7h0m0-1.2h0m0 2.4h0m.1-1h0m0 .1h0m0-3h0m.1 0h0m0 .4h0m0 .4h0m0 .6h0m.1 2.1h0m0-.1h0m0-1.2h0m0-.1h0m0-.9h0m.1 1.7h0m0-1.7h0m0 .4h0m0-1h0m.1 2.6h0m0-.4h0m0-.5h0m0 .9h0m0-1.7h0m0-.6h0m.1 1.3h0m0-.7h0m0-.9h0m0 1.8h0m0-.3h0m0 1.1h0m0-1.8h0m.1 1.9h0m0-.4h0m.2-1.8h0m0-.5h0m.1 2.8h0m0 .1h0m0-.4h0m0-1.3h0m0 2.1h0m0-2h0m0-.1h0m.1-.8h0m0 1.8h0m0-2.2h0m0 2.9h0m.1-3.2h0m0 2.9h0m0 0h0m0-1.5h0m0-.9h0m.1 .9h0m0-1h0m0 .6h0m0 2.3h0m0-2.3h0m.1 .7h0m0 1.6h0m0-.2h0m0 .1h0m0-.2h0m0-1.2h0m.1-1.8h0m0 2.7h0m0 0h0m0-3h0m0 3.5h0m0 .3h0m.1-.4h0m0-.4h0m.1-1.8h0m0 .3h0m0-.5h0m0 2.3h0m0-2.5h0m0-.5h0m.1 1.5h0m0 1.7h0m0-1.1h0m.1 .8h0m0 .6h0m0-1.3h0m0-1.4h0m0 .8h0m.1-1.8h0m0 2.1h0m0-1h0m.1 1.9h0m0-2.4h0m0 .8h0m0 .3h0m0 .9h0m0-.6h0m0 1.6h0m.1-1.6h0m0 .8h0m0-2.3h0m0-.6h0m.1 2.2h0m0-.7h0m0 2.1h0m0-1.6h0m0 .7h0m0 1h0m.1-1h0m0 1.1h0m0-3.2h0m.1 .9h0m0 .9h0m0-1.7h0m0 2.6h0m0-1.1h0m0 .9h0m0 0h0m.1-1.4h0m0-1.7h0m0 1.6h0m0 .2h0m0 .6h0m.1-1.7h0m0 2.7h0m0-1.9h0m.1-.7h0m0 .4h0m0 2.6h0m0-3.1h0m0 1.7h0m.1-.5h0m0-.2h0m.1-1.6h0m0 1.8h0m0-.7h0m0 2.2h0m0 .1h0m.1-.2h0m0-1.1h0m.1-1.1h0m0 1.1h0m0-.7h0m0-.5h0m0 1.4h0m.1-1.9h0m0 .2h0m0 2.4h0m.1-.9h0m0-1.8h0m0 1.8h0m.1-1.9h0m0 1.9h0m0 1.3h0m0-2.8h0m.1 2.2h0m0 .8h0m0-1.5h0m0-1.5h0m0 1.6h0m.1 .2h0m0 1.3h0m0-1.7h0m0 .9h0m0-.2h0m.1 1.1h0m.1-2.3h0m.1-.3h0m0 .2h0m0-1.4h0m0 .3h0m0 1.2h0m.1-1.5h0m0 1.2h0m.1-.3h0m0 1.2h0m0 .7h0m0 .1h0m0-1.4h0m0 .3h0m.1 1.3h0m0-2h0m0 2.4h0m0-2.7h0m0 .9h0m0 1.3h0m0 .5h0m0-1.2h0m0-.3h0m.1-.5h0m0-.1h0m0-.9h0m0 .4h0m0 .3h0m.1 2.3h0m0-1.2h0m0 .2h0m0 1h0m0-1.5h0m0 .4h0m0-2.5h0m.1 3.7h0m0-1.7h0m0 .7h0m0-2.4h0m0 .8h0m.1 2.5h0m0-.3h0m0-1.2h0m0-.5h0m0 .1h0m0 2h0m.1-1.1h0m0-1.7h0m0 .3h0m0 .1h0m0 .3h0m.1-1h0m0 2.6h0m0-1.1h0m0-1.7h0m0 1.8h0m0 1h0m.1-1.1h0m0-1.9h0m0 1.3h0m0 1.1h0m0-2.4h0m0 .3h0m.1-.4h0m0 2.8h0m0-1h0m0 0h0m0-1.1h0m0 3.1h0m0-2.6h0m.1-1.2h0m0 1.5h0m0-.6h0m0 2.7h0m0-3.5h0m.1 3.4h0m0-2.2h0m0 .1h0m.1 0h0m0 .6h0m0-.7h0m0 1.1h0m0-1h0m0 2h0m0-1h0m0-.3h0m.1-1.1h0m0 .8h0m0-1.6h0m0 1.6h0m0 .1h0m0 .4h0m.1 1.5h0m0-2.9h0m0-.4h0m0-.2h0m0 2.9h0m0-1.3h0m.1 1.4h0m.1-.5h0m0 .8h0m0-2.9h0m0-.7h0m0 1.7h0m0 .9h0m0-.1h0m.1-.4h0m0-2h0m0 .2h0m0 2.2h0m0-1.1h0m0 .4h0m.1 1.2h0m0-.9h0m0 1.7h0m0-1.1h0m.1-1.9h0m.1 2.2h0m0-1.9h0m.1 1.1h0m0-1h0m0 2.4h0m0-2.9h0m0 3.1h0m.1-3.3h0m0 .9h0m0 .4h0m.1-.8h0m0 1.2h0m0-1.8h0m0 .8h0m0 1.6h0m.1-.2h0m0-.7h0m0 .1h0m.1 .7h0m0 0h0m0-1.4h0m.1 1h0m0-1.1h0m0-.5h0m0 1.7h0m0 1h0m.1-2h0m0 1.5h0m0-1.2h0m.1-1.1h0m0-.6h0m0 1.9h0m.2 .8h0m0 .1h0m.1 .4h0m0-.3h0m0-2.5h0m.1 1.5h0m0 .1h0m.1 .9h0m0-1.1h0m0-.9h0m0 1h0m0-.3h0m0 .5h0m.1-1.8h0m.1 1.3h0m0 1.4h0m0-2.1h0m.1-.8h0m0 2.2h0m0-1.4h0m.2 1.9h0m0-2.4h0m.1 .7h0m0 2.2h0m0-3.1h0m.1 2h0m0 0h0m.3 .7h0m0-1.9h0m.1 .4h0m0 1.5h0m0-.4h0m0-2.3h0m0 .9h0m0 1.8h0m0 .8h0m.1-2.3h0m0 .7h0m.2 1.2h0m.1-3.2h0m.2 .3h0m.1 3.3h0m0-1.7h0m.1-1.2h0m0 1.9h0m.1 1h0m.1-3.4h0m0 2.9h0m.2-3.3h0m.3 2.9h0m.1-.7h0m.8 1.7h0m0-3.1h0m.1-.8h0m1.5 .2h0m1.9 3.5h0m-19.9 2.5h0m.2 1h0m.8-2.4h0m0-.5h0m1.8 1.5h0m.2 .3h0m.2-.8h0m.1-.3h0m0-.9h0m.4 1.9h0m.1-.9h0m0 .2h0m.1-.6h0m.5 .2h0m.1 .2h0m.1 2.2h0m.1-3.1h0m.1 2.4h0m0-2.5h0m0 0h0m.2 .9h0m0-.1h0m0 .6h0m.1-.4h0m0 2.4h0m.2-2.1h0m0-1.3h0m.1 .6h0m0 .9h0m0-.9h0m.1-.6h0m0 1.8h0m.2-1h0m0-.1h0m0 1.2h0m0-2h0m.1 .6h0m.1 .8h0m0 .1h0m.1-.1h0m0-.9h0m0 1.4h0m.2 .2h0m0-.6h0m.1 1h0m0-2h0m.1 1.5h0m0-1.3h0m0-.7h0m.2 2.9h0m.1-2.8h0m.1 1.8h0m0 .3h0m.1-2h0m0 2.2h0m0-2.1h0m.1 .4h0m0-.1h0m.2 2.6h0m0-.2h0m0-2.4h0m0 .7h0m.1-.5h0m0-.8h0m.1 .2h0m0 .7h0m0 2.5h0m0-.2h0m0-.5h0m.1-2.1h0m0-.1h0m0 1.5h0m.1 .2h0m0-1.8h0m0 .5h0m0-.8h0m.1 .1h0m0 1.7h0m.1 1.1h0m0-1.7h0m.1 .9h0m0-2.1h0m.1 1.6h0m.1 0h0m0-.5h0m0-1h0m0 1.8h0m0 .2h0m.1-1.7h0m0 .6h0m0 .3h0m.1 0h0m.1 1.4h0m0-2.4h0m.1 1.1h0m0 .4h0m0 .4h0m0-2.3h0m0 1.5h0m0-.5h0m.1 .2h0m0 1.6h0m.1 .1h0m0 .7h0m0 .3h0m.1-1h0m0-1.8h0m0 1.8h0m0-2.9h0m0 1h0m0 1.2h0m.1-2.1h0m.1 .1h0m0-.2h0m.1 0h0m.1 .1h0m0 .9h0m0 1.9h0m0-1h0m0-1h0m.1 .6h0m0-.7h0m0-.4h0m.1-.3h0m0 .8h0m.1-.6h0m0 .3h0m.1 .2h0m0 2.8h0m0-1.4h0m0-1.5h0m.1 .7h0m0-.6h0m0-.4h0m0 .2h0m0 2h0m0-1h0m.1-1.4h0m.2 1.8h0m0 .8h0m.1 .6h0m0-1.4h0m.1-1.9h0m0 1.5h0m0-.5h0m.1 .5h0m0-.3h0m.1-.6h0m0-.7h0m.1 1.7h0m0-1.7h0m.1 1h0m0-.5h0m0 .2h0m.2 2.7h0m0 0h0m0-1.9h0m.1 1.7h0m0-1.4h0m0-1.8h0m0 2h0m.2-1h0m.1-.4h0m0 .6h0m.1 .1h0m0 2.4h0m.1-.5h0m0-1.8h0m0-.3h0m0-.5h0m.1 .2h0m0-.5h0m0-.2h0m0 1.7h0m.2 1.6h0m0-2h0m.1-.5h0m.1-.8h0m.1 .2h0m.2 .6h0m.1 .3h0m.1 1.4h0m0-.5h0m.7-1.7h0m0-.2h0m.2 .4h0m.2 .3h0m.2 .4h0m.1 0h0m0 .5h0m.2-1.8h0m0 3.7h0m.2-3.2h0m.5 .8h0m0 .6h0m.2-1.5h0m.1 .2h0m.1 1.5h0m.4-1.7h0m.6 3.5h0m.2-1h0m.4 .2h0m.4-1h0m.2-.2h0m.7-.5h0m-15.1 2.9h0m1.7-.3h0m.4 1.3h0m.8-1h0m.3 .5h0m1.4-.4h0m.2 0h0m1.5-.2h0m.6 .5h0m1.1 1.6h0m.9-2.2h0" stroke="#a050e0" stroke-width="0.6" stroke-linecap="square" opacity="0.9" fill="none"/>
<path d="M254.6 191.9h0m.5-1.5h0m1.1-.5h0m.1 1.7h0m0 .1h0m0-.3h0m.3-.6h0m.1-.4h0m-.5 1.6h0m.2 0h0m.2 0h0m.9 .1h0" stroke="#8cc8d4" stroke-width="0.6" stroke-linecap="square" opacity="0.9" fill="none"/>
<path d="M245.9 202.8h0m0 .6h0m.3-.6h0m.6-.3h0m.2-1.7h0m.5-.3h0m0-.2h0m.9 3.6h0m.2-1.9h0m.1-1.2h0m.4 2.6h0m.1 .3h0m.7-.3h0m0 .1h0m.1-.3h0m0-1h0m.1-1.2h0m.2 1.5h0m.1-1h0m.2 2.3h0m.7-.3h0m.4-3.4h0m.3 2h0m.7 .9h0m.1 0h0m.1-.9h0m1-.8h0m.9-.8h0m.6 3h0m-8.8 1.2h0m1 1.5h0m.2 .1h0m.2-2h0m.1-.2h0m0 1.7h0m.2 .4h0m.3-1.1h0m.1 .2h0m.3 1.2h0m.1-1.5h0m.1-.9h0m0 .2h0m.2 3h0m.2-2.3h0m.1-.5h0m0 .6h0m.1-1.1h0m.2 1.8h0m.1-1.7h0m.1 .5h0m0 1.4h0m.3-1.6h0m0 .4h0m.2 0h0m.2 .2h0m.1-.8h0m.1 1.1h0m.2 .7h0m0 .2h0m.1 .5h0m0-2h0m.1 2h0m.1-2.6h0m.3 1.7h0m.3 .4h0m.3-1.7h0m.5 .4h0m2-.5h0m.5 3.1h0m-6.3 2.1h0" stroke="#8cc8d4" stroke-width="0.6" stroke-linecap="square" opacity="0.7" fill="none"/>
<path d="M254.7 219.8h0m.5-.1h0m.4-1.3h0m.3 1.4h0m.1-1.3h0m0-.6h0m.1 .8h0m.2 .9h0m.2-.7h0m.1-1.5h0m.2 1.3h0m0 .8h0m.1-.3h0m.1-.6h0m.2 .2h0m.1-1.1h0m.1 .4h0m.4 1.1h0m0 .4h0m0-.4h0m.4-1.8h0m.1 2.2h0m.2-1.8h0m.1 .8h0m0-.7h0m.1 0h0m.2 2h0m.1-.4h0m0-1.5h0m.2-.8h0m.2 1.2h0m.4 .9h0m.2 .1h0m0 .2h0m.1-.8h0m0-.3h0m.3-.8h0m0 0h0m.4 2.2h0m.1-1.5h0m.1 .9h0m0 .3h0m0 .2h0m.2-1.4h0m.1 0h0m.6 1.4h0m.2-.8h0m0-1.8h0m.2 .5h0m-7.5 4.3h0m.1-1.6h0m.2 2.7h0m.3-.5h0m.1-.3h0m.4-1.2h0m.3 .2h0m.1-1.2h0m0 .5h0m.1 .9h0m.1-1.4h0m.3 .3h0m.1 2.7h0m0-2.1h0m0-.5h0m.1 1.6h0m0-.8h0m.2 0h0m0-.2h0m.1-.7h0m.1-.3h0m.1 .5h0m.1-.1h0m.1-.2h0m0 .5h0m.1 .7h0m0-.7h0m.3 1.2h0m.1 .5h0m.1-.7h0m0-.6h0m.1-1h0m.1 .2h0m.3 1.1h0m0-1.3h0m0 .9h0m.1 1.9h0m0-2.7h0m.1 0h0m.1 .2h0m0 1.5h0m.2-1.8h0m0 .3h0m0-.1h0m.2-.2h0m.1 1h0m.2-.8h0m.1 1h0m.2 .2h0m.3-1.3h0m.1 1.7h0m0-.4h0m0-1.5h0m0 .9h0m.1-.9h0m0 .3h0m.3 1.5h0m.2-1.1h0m.1 .7h0m.6 .2h0m.6-.2h0" stroke="#1a1ad0" stroke-width="0.6" stroke-linecap="square" opacity="0.9" fill="none"/>
<path d="M302.6 202.4h0m2.9 .5h0m16.1 .4h0m6.6-.9h0m-38.4 2.9h0m16.8-1h0m.1 1.5h0m5.6 .3h0m4.2-1.1h0m.3-.7h0m0 3.3h0m.6-.6h0m5.5 .2h0m14.6 .6h0m-38.3 2.6h0m3.6-.2h0m5.2 .3h0m2.1-.5h0m1.1 1.8h0m.1-.3h0m.9 .3h0m1.4-.2h0m.2-.5h0m1.8 .4h0m.6-1h0m4.1 .2h0m.3-1.5h0m1 1.6h0m.7-2.5h0m.8 2.2h0m.9-1.5h0m.5 .9h0m4.4 .2h0m2.9 1.5h0m1.8-1.8h0m4.5 2h0m-40.7 2.8h0m.7 .4h0m2 0h0m2.2-2.1h0m2.9 2.1h0m1.5 .5h0m.1 0h0m.9-.5h0m.5 .5h0m.1-.5h0m1.4-3h0m0 2.2h0m1.1 1.4h0m.4-2.6h0m.6 1.1h0m.2-1.3h0m.2-.6h0m.5 3.6h0m0-2h0m.2-.1h0m.1 1.9h0m.2-3.1h0m.6 1.3h0m1 2.1h0m.8-3.7h0m.1 2.2h0m.4-.7h0m.1 1.8h0m.2-3.2h0m.2 .1h0m.7 2.8h0m.7-.8h0m.2-2.4h0m.7 2.1h0m.3-.8h0m.4-1.3h0m1.7 2.6h0m.1-1.7h0m.4 2.5h0m.4-2.3h0m1.6 2.3h0m.3 0h0m.5-3.2h0m.1 3.1h0m3-2.5h0m.3-.8h0m.1 3.3h0m.4-.5h0m0-2h0m2.4 2.9h0m-28.5 1.1h0m.1 3.1h0m.1-.7h0m.7 .5h0m.6-3.7h0m1.2 3.4h0m2.4-.5h0m.3-1.4h0m.3 1.8h0m.5 .2h0m1.3-.1h0m0-3.1h0m.1 3.1h0m.2-1.9h0m.1 1.3h0m.1 .2h0m.8 .7h0m.4-1.3h0m.1 1.5h0m.3-2h0m.3-.4h0m.6-.5h0m.1 2.3h0m0-2.3h0m.3-.6h0m.3 .8h0m2.3 2.2h0m.4-.2h0m.1-.1h0m.3 .4h0m.4-2.2h0m.3-.1h0m.2 1.1h0m.5-2.3h0m0 1.5h0m.4-.1h0m2 .3h0m.2 .4h0m.4 1.5h0m.1-.9h0m.5 .3h0m.4 .5h0m.4-2.9h0m1.2 .6h0m.3 2.2h0m.1 .2h0m.7-1.9h0m.7 2.2h0m1.2-2.7h0m.1 1h0m.2-.9h0m.5 1.9h0m.6 .5h0m.2-2.2h0m2.2 1.8h0m.1-1.5h0m.9-.8h0m1.8-.6h0m3.3 3.2h0m.7 .3h0m.8 0h0m-40.4 .4h0m.1 1.1h0m.6-.3h0m.1 .3h0m1.1-.9h0m.1 1.9h0m2.4 .7h0m.2-1.7h0m1.2 .4h0m.4-.1h0m.9 1.7h0m.3-2.1h0m.8 2.2h0m.2-1.6h0m.6 .1h0m.3 0h0m.7-1.5h0m1.6-.4h0m.1 1.2h0m1.8 2.2h0m.1-.5h0m0-2.7h0m.8 1.4h0m.9-1.1h0m.1 1.9h0m.2 .4h0m.1 .4h0m.3-2.2h0m.2 .2h0m.1-.7h0m.1 .7h0m.1 1.6h0m0-2.9h0m.4 2.7h0m0-2.1h0m.2 2.3h0m.8-2.8h0m0 3.5h0m.5-3.1h0m.6 .5h0m.2 1.9h0m.6-2.3h0m1.2 1.7h0m0-.1h0m.2-1.3h0m.2 1.5h0m.1-.9h0m0 1.2h0m.6-2.1h0m1.6 1.5h0m.6 .5h0m2.7-1h0m.8 .9h0m.9 .6h0m.2-2.8h0m.2 2.9h0m.5-3h0m2.9 3h0m.1 .2h0m.7-1.7h0m0 .6h0m.7 1h0m2-.5h0m3-2.4h0m.7 3.3h0m7.1-1.6h0m-54.1 4.9h0m14.2-2.7h0m2.4 2.6h0m.1-1.2h0m1.8-.3h0m.2-1.2h0m.1 3.7h0m.3-3.9h0m.2 2.2h0m1-.1h0m0-.7h0m.1-.4h0m.5 .2h0m1.3-1.2h0m.1 1.2h0m0 2.6h0m.2-3.1h0m.4 .2h0m.3-.3h0m.6-.5h0m0 2.6h0m.5-1.1h0m.3 0h0m.3-1.1h0m.6 .2h0m.1 2.2h0m.1-2h0m.3 2.6h0m.2-1.3h0m.1-2.1h0m.1 1.4h0m.5-.1h0m.1 .3h0m.3 1.1h0m.7-1.1h0m.5 1.1h0m.1-1.7h0m0 0h0m.8 .6h0m0 1.3h0m.1-1h0m.8-.1h0m.2 1.9h0m.1-.8h0m0-.3h0m.2-2.3h0m.7 1.1h0m.2-1.3h0m0 2h0m.1 .7h0m.5-2.6h0m0 .2h0m0-.4h0m.8 3.8h0m0-1.3h0m.3 .4h0m.2-1.7h0m0 2h0m1-.3h0m.7 .9h0m.9-.2h0m0-.8h0m.4-2.8h0m.3 1.8h0m.4-1h0m1 .7h0m.1 0h0m.6 2.1h0m2.1-1h0m2.3-1.3h0m.2 1.1h0m.2-1.8h0m3.6 2.2h0m-42.8 1.4h0m.2 1h0m2.2-.7h0m4.9 .6h0m1.1 1.7h0m2.3-.4h0m.1-.5h0m1.6 1h0m.8-1.8h0m.1 2h0m.9-1.7h0m0 2h0m.1-2.1h0m0 1h0m.4-1.6h0m.3 .8h0m1.1-1.3h0m.3 1.5h0m1.2 1.2h0m.4-.2h0m.2-2.4h0m.7 .8h0m.2-.2h0m0-.7h0m.1 1.1h0m.2-.3h0m.6 .3h0m.8 1.5h0m1.3 .7h0m.1-1.2h0m0-.7h0m.4-1.7h0m.3 1.1h0m.4-.7h0m.1 2.3h0m.7 .6h0m.7-.5h0m.2-1.9h0m1.4 .5h0m.4-.6h0m.1 2.5h0m.1 .1h0m.9-2.9h0m.2 2.8h0m.1-1.5h0m.4-.9h0m.4 2h0m.7-.6h0m1-2.1h0m.2-.2h0m.7 3.4h0m.1-1.1h0m.2 .2h0m1.1-2h0m.2 .9h0m2.9 2.2h0m.1-1.2h0m.3-1.9h0m7.1 1.2h0m1.8 1.5h0m-49.7 2.5h0m4 .4h0m1.6-1.8h0m1.8 2.7h0m4.3-.5h0m.1 .8h0m.8-2.4h0m3 .8h0m2.2-.3h0m.3-1.2h0m.4 .6h0m.4 2.2h0m.6 .7h0m.8-1.9h0m.2 .7h0m.8 1.1h0m2.6-3h0m.3 .7h0m.1-.2h0m.1 .8h0m2.1-.1h0m.2 .8h0m.5 .1h0m.7-1.2h0m.2 1.2h0m.7 .2h0m.2-2.3h0m0-.1h0m.8 2.3h0m.4-1h0m.6 1.5h0m1.3-1.6h0m.8 1.5h0m.3 .2h0m.8-.1h0m.3-1.1h0m.5-.2h0m.7-1.2h0m.2 2h0m3.5-2.5h0m0 1.6h0m1.5 1.2h0m.5-.7h0m5.8 .9h0m-33.7 1.1h0m2.7 1.2h0m.6 .3h0m.3-1.4h0m.1 1.3h0m.8-.7h0m3-1h0m1.3 .7h0m.6 .1h0m2.9 1.8h0m.8-1.3h0m1.3 2.3h0m1.2-1.8h0m.2 0h0m4.1-.5h0m1.8-.2h0m.4 1.6h0m3.3-.8h0m1.4-1.5h0m8.1 .2h0m1.9 .5h0m-31 3.2h0m3.3 1h0m10.9 1.7h0m-16.9 1.7h0m8.2 .1h0m4.4 1.3h0m1.4 .3h0m1.8-.5h0m7.6 .8h0" stroke="#cc1a1a" stroke-width="0.6" stroke-linecap="square" opacity="0.7" fill="none"/>
<path d="M322 223.2h0m3.9 .3h0m0-.1h0m4.5-.4h0m-16.2 3.6h0m6.5 1.2h0m.9-.1h0m.6-.4h0m.2 .6h0m.1-.9h0m1.1-.4h0m.8-.5h0m.2-1.4h0m0 2h0m.4 .9h0m.1 .3h0m.1-.5h0m0-1.7h0m.2 2.1h0m.5-.6h0m1.8 .2h0m.5-2.9h0m.2 .7h0m.4 2.4h0m2.6-.7h0m1.9-2.2h0m-17.3 5.7h0m1 1h0m.5-.4h0m2.2-.3h0m.5-2.5h0m.9 2.4h0m.3 1.2h0m.1-3h0m.2 2.1h0m.6-.1h0m0 .5h0m.4 .1h0m.2-.6h0m0-.5h0m.1 .6h0m.8-2.7h0m.2 1.3h0m.2 0h0m0 1.6h0m0-.8h0m0 .3h0m0 .2h0m.8-2.7h0m.1 1.6h0m.1-1.5h0m.2 2.5h0m0-2.5h0m.2 2.1h0m.9-2.2h0m.2 2.6h0m.1-.6h0m0-1.4h0m.3 .5h0m.3 1.7h0m0 .6h0m0-1.1h0m.1-2.3h0m0 2.8h0m0-1.2h0m0 .6h0m.1-1.5h0m0 1.7h0m.4 .8h0m.1-1.4h0m.2 .2h0m0 .7h0m.1-.7h0m0 .8h0m.1-1.4h0m.2 1.3h0m0-.6h0m.4-.3h0m.4 .2h0m.2-.1h0m.2-1.1h0m.2-.2h0m0 2.9h0m.4-2.6h0m0-.1h0m.2-.1h0m.4 1.5h0m.9 0h0m.1 .5h0m.5-.8h0m0 1.3h0m.7-2.2h0m.5-.5h0m.1 2.5h0m1.5-2.2h0m3.9 1.6h0m-20.8 1.5h0m1.4 .6h0m.6-.1h0m0 1.9h0m1.2-.6h0m.5 .9h0m.2-.7h0m.3-.5h0m.8-1.2h0m.1 .1h0m.1 3.2h0m.4-2.8h0m.1 2.2h0m.1-1.5h0m.1-1.5h0m.4 1.6h0m.1 1.4h0m0-2.1h0m.1 1.5h0m.4-2.4h0m.3 1.4h0m.4 1.1h0m.2-1.3h0m.1 1.5h0m.4-1.3h0m.2-1.3h0m.1 1.7h0m.3 1h0m.2-1.4h0m.4-.5h0m.1 0h0m.2 2h0m0 .9h0m.2-.9h0m.5-1.1h0m0-1h0m.3-.4h0m.3 1.5h0m.2 1.9h0m.1-3.2h0m0 2.8h0m0-1.1h0m.1 .4h0m.4-.3h0m1.2-1h0m.4 1.2h0m0-1.9h0m0 2.5h0m.3-2.1h0m.1 0h0m.1 .1h0m.4-.1h0m.3 1.8h0m.6 1h0m.2-2.6h0m4.8-1.3h0m-18.8 5.2h0m1.6 .9h0m.6-.7h0m1.6 2.4h0m1.6-2.1h0m.4-1.2h0m.9 1.5h0m.2-1.9h0m.6 .4h0m.1 .2h0m.2-.3h0m.3 .9h0m1 .4h0m0-.1h0m.3-1.2h0m.6-.2h0m.8 .1h0m0 1.9h0m.4-1.3h0m.2 .8h0m.2-1.6h0m.2 2.1h0m2.3 1.5h0m.2-2.8h0m.9 .3h0m.3 .5h0m.9 1.5h0m11.6-3.2h0" stroke="#cc1a1a" stroke-width="0.6" stroke-linecap="square" opacity="0.8" fill="none"/>
<path d="M332.1 239.1h0m.2-.3h0m1.2 .5h0m0 .6h0m.1-1.3h0m.5 .3h0m.6-.2h0m.2 .2h0m.7 .8h0m-4.4 1.4h0m.9-.6h0m0 .9h0m.6-.6h0m.8 .8h0m.3-.6h0m.2 .5h0m.3 .7h0m.5 .8h0m.1-1.7h0m.2-.3h0m.3 1.3h0m.2-1.2h0m.2 .5h0m-2.2 2.7h0m1.6-.3h0" stroke="#cc1a1a" stroke-width="0.6" stroke-linecap="square" opacity="0.8" fill="none"/>
<path d="M298.5 202.8h0m.9-1h0m2.8 2h0m.7-1.2h0m.8 1.2h0m2.2-.4h0m2-1.7h0m.3 .7h0m.7 1.3h0m0-2.2h0m3.9 .8h0m.8-.3h0m-18.7 3.2h0m2.9-.8h0m3.3-.3h0m2.2 1.7h0m0 2h0m.6-2.3h0m.5-.5h0m.1-.3h0m1.6 1.8h0m.6-1.5h0m.1-.5h0m.3 1h0m.4 2h0m.1-3.5h0m1 1h0m.2-.9h0m.1 2h0m0-.5h0m.1-1h0m.1 1.8h0m.4 .5h0m.1-.8h0m.3-1h0m.6 2.8h0m.2-1.1h0m1.3-2.8h0m2.4 2.4h0m.9-.6h0m0 0h0m1.6 .7h0m.4 .6h0m.2-2.1h0m1.9-.5h0m-13.5 4.4h0m1.3 .6h0m.3-1.5h0m.7 .6h0m4.8-.6h0" stroke="#e07b3a" stroke-width="0.6" stroke-linecap="square" opacity="0.7" fill="none"/>
<path d="M335.1 210.2h0m2.2 1.4h0m.7-.5h0m1.2-.9h0m.1-.4h0m.2-1.1h0m.8 2.3h0m2.5 .3h0m1.2 .4h0m-7.5 3h0m.1-1.6h0m.3 .4h0m.2 1.3h0m.3-.4h0m.2-1.1h0m.1 1.9h0m.1 .3h0m.2-1.5h0m.4 1.8h0m.1-1.7h0m.3-1h0m.7 2.1h0m.3 0h0m.5-1.4h0m.9 1.2h0m-8.6 4.1h0m2.6-2.3h0m1.7 .5h0m1.1 .6h0m0-1.2h0m.4 .4h0m.3-.9h0m.7 1h0m0 1.3h0m.3-1.9h0m0 2.7h0m1.4-1.3h0m3.2-.7h0m-7.5 4.7h0m2.6 .2h0m1.3-2h0m1.8 0h0m.2 1.9h0m.6 .4h0m-8 2.4h0" stroke="#e07b3a" stroke-width="0.6" stroke-linecap="square" opacity="0.7" fill="none"/>
<path d="M316.9 183.2h0m-40.9 5.6h0m8.3 6.7h0m18.2-1.3h0m-32.3 1.8h0m12.2 2.5h0m22.2 1.3h0m14.8-2.1h0m-6.9 4.6h0m1.9 1.2h0m-19 4.2h0m11.7-1.6h0m15.1-.5h0m-37.3 5.5h0m17.8-1.5h0m14.4-1.2h0m-31.2 11.1h0m40.5-2.9h0" stroke="#cc1a1a" stroke-width="0.6" stroke-linecap="square" opacity="0.6" fill="none"/>
</g><g clip-path="url(#cp2)">
<path d="M414.9 154.5h0m.6-.8h0m0 1.6h0m.1-1.2h0m.1 1.6h0m0-3.5h0m0 1.5h0m.2-1.1h0m.1 1.9h0m.1 1.3h0m.1-2.7h0m.1 1.5h0m.4-1h0m0 1.9h0m0-1.1h0m.2-.8h0m.2 2.1h0m.1-.4h0m0-2h0m0 2.2h0m.3-1.3h0m.4 1.2h0m0-.2h0m.2-1.5h0m.5-.1h0" stroke="#a050e0" stroke-width="0.6" stroke-linecap="square" opacity="0.9" fill="none"/>
<path d="M433.3 155.7h0m.3-.4h0m.2-.7h0m.6 1.1h0m.1-.4h0m1 0h0" stroke="#d4a914" stroke-width="0.6" stroke-linecap="square" opacity="0.9" fill="none"/>
<path d="M438.1 159.3h0m.1 .5h0m1-.5h0m.2-.1h0m.7 .7h0m.2-1.1h0m1.9 .1h0m1.4-.4h0m.6 .8h0m.5 .1h0m.1 .4h0m-4.4 1.1h0m.9-.1h0m.2-.3h0m.6 .6h0m.1-.7h0m.2 .3h0m0-.6h0m.1-.1h0m.1 .1h0m.7-.1h0m.1 .8h0m.2-.7h0m.6 .6h0m1.5-.3h0" stroke="#b8b8b8" stroke-width="0.6" stroke-linecap="square" opacity="0.9" fill="none"/>
<path d="M386.8 167.6h0m-5.6 3.3h0m.9-.1h0m.5 .8h0m.1-2.2h0m0 .5h0m.1 1.8h0m.1-1.6h0m.1 1.8h0m.7-.6h0m.5 .6h0m.1-.6h0m.1 .1h0m0-1.7h0m.1 1h0m.1 0h0m.1 .7h0m.1-.1h0m0 .6h0m.2-.4h0m.1-1h0m0 .1h0m.1-.1h0m.2 1.2h0m.1-3h0m.1 2.1h0m0-.2h0m.2 .4h0m0-.2h0m.1-.7h0m.1-1.3h0m.1 2.7h0m0-.4h0m.1-.7h0m.1 1.4h0m0-.7h0m.1 .8h0m0-.9h0m0 .9h0m0-.8h0m.1 .8h0m0-.4h0m0-.4h0m.4-1.3h0m0 1.7h0m.1-.9h0m0 1.3h0m0-1.7h0m.2 1h0m0 .1h0m.1-1.1h0m0 1.5h0m0-.1h0m.1-1h0m0-.5h0m.2 0h0m0-.6h0m.1 .8h0m0-.3h0m.1 0h0m0 1.5h0m0 .1h0m.1-2.8h0m0 2.6h0m0-.6h0m0 .6h0m.1 .2h0m.2-.6h0m.2-.6h0m.2 .1h0m.1 1.4h0m0-2.4h0m0 1.5h0m.3 .7h0m.1 .2h0m.1-2.1h0m0 .6h0m.7 .3h0m.2 1.1h0m.5-.3h0m.3-.4h0m0-.2h0m1.3-.4h0m0-.4h0m.2 1.7h0m-13.7 .5h0m.8 .8h0m.4 2.2h0m.3-2.8h0m0 1.3h0m.1-.3h0m1.1-.7h0m0 2.7h0m.2-1.9h0m.1-1.2h0m.1 2h0m.2-1.3h0m.2 .9h0m0-.3h0m.1-.5h0m.1-1.1h0m.1 2.6h0m.1-.2h0m.1 .6h0m.1-.5h0m.1-2.1h0m.2 1.1h0m.1-.7h0m.1 2h0m0 1h0m.1-3.2h0m.1 .8h0m0-.9h0m.2 1.9h0m.2-2.1h0m0 .2h0m.1 .8h0m0 .3h0m.1-.1h0m.2 0h0m.3-.3h0m.1-.4h0m0 2.4h0m.2-1.2h0m.1-.9h0m.1-.9h0m0 1.2h0m0 1h0m0-2.1h0m.1 1.6h0m0 .1h0m0-.7h0m0 .6h0m0 .4h0m0-.9h0m0-1h0m.1 2.7h0m.2-2.8h0m0 1h0m.1-1.4h0m.1 .6h0m0-.6h0m0 1.8h0m.1 .6h0m0-1.5h0m0 .1h0m.1-.5h0m.1 1.8h0m0-.3h0m0-1.7h0m0 1.8h0m.1-2h0m0 .4h0m0-.1h0m.1 2.1h0m0-1.5h0m0 2.3h0m0-3.1h0m.1 .1h0m0 .9h0m0 .7h0m.1-1.2h0m0 2.5h0m.1-1h0m0-.6h0m0-1h0m.1 2.1h0m.1-1.4h0m0-.8h0m.1 .7h0m0-.8h0m0 0h0m0-.2h0m0 0h0m.1 1.1h0m0-.9h0m.1 1.2h0m0 .1h0m0-.7h0m0 1.8h0m0-2.4h0m.1 .7h0m0 .3h0m.1 1.6h0m0-2.4h0m0 1.3h0m0 1.1h0m0 0h0m0-2.7h0m.2 2.6h0m0-1.5h0m0 .6h0m.1-.2h0m0 .3h0m0 .6h0m.1-2.7h0m0 0h0m0 1.9h0m0-.8h0m0 .5h0m.1 .6h0m0 .4h0m0-.1h0m0-.6h0m0-.9h0m0 .4h0m0-1.3h0m0 3.4h0m.1-3.2h0m.2 0h0m.1 2.1h0m.2 .3h0m.1-.8h0m0-1h0m0 .8h0m0-.7h0m.1 .3h0m0 0h0m.1-1.3h0m.1 1.7h0m.1 .7h0m.1 .9h0m0-3.1h0m.1 .4h0m.1 1.5h0m0-1.3h0m.1 .5h0m.1 .4h0m.1-.2h0m.1 .1h0m0-1.5h0m0 1h0m.1 2.4h0m.1-2.3h0m0 .2h0m0-.4h0m.1 .6h0m0 .7h0m.3-1.7h0m.2 2.3h0m0 .1h0m.2-3h0m.1 1h0m.1-.5h0m.1 1h0m0-1.3h0m0-.2h0m.2 2.7h0m.2 .6h0m.1-3.3h0m.1 .5h0m.3 1.8h0m.2-1.9h0m.1 .6h0m.3-.8h0m1-.2h0m-11.5 4.1h0m3.9 .4h0m1.3 .7h0m1.3-.7h0" stroke="#4060d8" stroke-width="0.6" stroke-linecap="square" opacity="0.9" fill="none"/>
<path d="M388.1 170.9h0m1.6 .3h0m.4-.7h0m1 .1h0m.3 .7h0m.1-1.1h0m.7 .9h0m0-.4h0m.4 .8h0m0-.3h0m.1 .6h0m0 .1h0m0-.7h0m0 .2h0m.1-.4h0m.1 .6h0m.1-1.1h0m0 .9h0m0 0h0m.1 .3h0m.1-.7h0m.1 0h0m0 .5h0m.1-.3h0m.1 .7h0m0-.2h0m0 0h0m.1 0h0m.2 .2h0m.1 0h0m.2-.6h0m.2-1.4h0m.3 2h0m0-1h0m0 .8h0m0-1.1h0m.2 .3h0m0-.2h0m0 .7h0m.1-.2h0m.1 .1h0m.1 .1h0m0-.3h0m0 .2h0m.1-1h0m.1 1.1h0m.1 0h0m.1 .1h0m.2 .2h0m0-1.5h0m.2 .5h0m0 1.2h0m.1-1.1h0m0-.1h0m.1-.1h0m.1-.9h0m0 1.8h0m.1-1.1h0m.3 1.2h0m0 .2h0m.1-.1h0m0-.7h0m.1 .5h0m.1 0h0m0-2.3h0m.3 1.4h0m0 .5h0m.4-.3h0m.2 .8h0m0-.3h0m.1 .1h0m0-.6h0m.3 1h0m.1 .1h0m.2-.4h0m.2-.5h0m.2-.3h0m0 .9h0m0-.5h0m0-.1h0m.4-.5h0m.1-.1h0m0 .9h0m.1-.3h0m0 .1h0m.2 .2h0m.2-.6h0m.5-.7h0m0 1.9h0m.3-1.2h0m.1 .1h0m-11.5 2.7h0m1.4-1.2h0m.1 0h0m1.2 .1h0m.3 .8h0m.1-1.1h0m.1 .5h0m0 0h0m.2 1.1h0m.1-1.4h0m.1-.1h0m.5-.2h0m0 .2h0m.1 1.9h0m.1-1.8h0m.1 .2h0m.5-.3h0m.1 .1h0m.5 .5h0m0-.4h0m.2-.2h0m.1 .2h0m.2 1.3h0m0-.9h0m.1-.4h0m.2-.2h0m.1 .1h0m.2 .2h0m0 .7h0m.1-.2h0m.2-.9h0m.1 1.7h0m0-1.3h0m.7 .3h0m.2-.5h0m.3 .4h0m0 .7h0m.2 .4h0m.1-1.7h0m.2 .1h0m.6 .2h0m0-.3h0m.3 1.3h0m0-.8h0m0-.4h0m.6-.1h0m.2 .5h0m.9 .6h0m.9-.4h0" stroke="#22c8d8" stroke-width="0.6" stroke-linecap="square" opacity="0.9" fill="none"/>
<path d="M401.3 171.4h0m.6-.1h0m.1-.6h0m.3 .5h0m.5-.2h0m0-1.1h0m.3 1.5h0m0 .3h0m0-.3h0m0 .2h0m.1-.5h0m.1 .7h0m0-1.5h0m.1 1.3h0m.1-.6h0m0-.3h0m0 .1h0m.1 .2h0m0-.1h0m.1 1h0m.1-.9h0m.1-.4h0m0-.1h0m.1-.6h0m.1 1.1h0m0 .5h0m0-.9h0m.1-1.6h0m.1 2.2h0m.1-.3h0m0 .6h0m.1 .3h0m0-1.1h0m.1 .5h0m.1 0h0m0 .2h0m0-.3h0m.2-.7h0m0 .4h0m.1 .4h0m0-.3h0m0-.3h0m.2 1h0m0-.8h0m.4 .3h0m0-.5h0m0 1.1h0m.1 .1h0m.3 .1h0m.2-1.2h0m0 .5h0m0 .5h0m.1-.8h0m.2-.8h0m0 1h0m.1-.7h0m.1 1.4h0m.1 0h0m.3-1.1h0m.2 .7h0m.4-1.4h0m1 1.9h0m.3-.1h0m.4-.1h0m.6-.9h0m-9.1 2.1h0m.1-.7h0m0 .5h0m.4 .6h0m.3-.2h0m.2-.5h0m.8 1.1h0m.1-.7h0m.2-.7h0m.6 .2h0m.1-.5h0m0 .3h0m.4-.3h0m.3 1.1h0m0-.8h0m.3 .5h0m.8 .5h0m.3-1.1h0m0 .6h0m.7-.3h0m.4 .8h0m.9-.5h0m.1 .2h0m.7-.6h0m1.7 .1h0" stroke="#2a7ad8" stroke-width="0.6" stroke-linecap="square" opacity="0.9" fill="none"/>
<path d="M424 175.6h0m.7-.3h0m.8-.9h0m0 .8h0m0 .4h0m.3-.1h0m0 .3h0m.1-.5h0m.2-.5h0m0-.1h0m0-.7h0m.1 1.6h0m.3-1.4h0m.1-.1h0m.3 1.3h0m.1 .1h0m0-.1h0m.2-.4h0m.1 .6h0m.6 .2h0m.5-.2h0m.1-1.3h0m.3 .8h0m-5.8 1.1h0m.6 .6h0m.9 .2h0m0 .6h0m1.1-1.2h0m.2-.2h0m0 .2h0m.2-.2h0m0 .2h0m.1 1.1h0m.4-1h0m.5 .3h0m.1 .1h0m.5 .7h0m.1-1.5h0m.2 .9h0m.3-1h0" stroke="#1a6a1a" stroke-width="0.6" stroke-linecap="square" opacity="0.9" fill="none"/>
<path d="M447.2 179h0m1.3-.1h0m1-1.7h0m1.7 2.2h0m2.1 0h0m2.6-1h0m2.2 .6h0m4.2-1.5h0m-16.8 6.3h0m2.6-.1h0m.3 0h0m.1-2.7h0m.9 .9h0m.2-.2h0m.8-1.1h0m.2 1.6h0m.5 1.6h0m0-2.4h0m.6 1.4h0m.2 1.1h0m.2-.5h0m.1 .4h0m.2-.3h0m.2-2.4h0m.6 .5h0m.2-.3h0m.3-.1h0m.1 1.5h0m.4 .7h0m.2-1.9h0m.4 1.7h0m.1-.4h0m0-.3h0m.1-1.1h0m.3 1.5h0m.1-1.1h0m.1-.5h0m.4-.2h0m.2-.7h0m.5 .2h0m.3 3.2h0m.4 0h0m.7 0h0m2.1-3.5h0m1 3.5h0m-18.1 3.7h0m1.7-.6h0m2.3-.7h0m.5 .4h0m.8-2.2h0m.6-.3h0m0 .5h0m0 .8h0m.1 .9h0m.2-2.1h0m.3 .8h0m.7 .2h0m.4 2.6h0m.2-2.6h0m.1 .8h0m.1-1.4h0m.1 1.8h0m.2-1.6h0m0 .6h0m0 2h0m.1-.2h0m.1-2.9h0m.1 .6h0m0 3h0m0 0h0m.1-2.5h0m0-.4h0m0 .1h0m.2 2.2h0m0-2.7h0m0 .7h0m.1 .2h0m.1 2.3h0m.1-2.1h0m.1-.4h0m0-1.1h0m0 3h0m.1-.1h0m.1 .5h0m0-2.8h0m.1 1h0m.1 1.5h0m0-.6h0m0-1.8h0m.1 2h0m.1-.5h0m.2-.3h0m.2-.9h0m.1 2.1h0m.1-3.1h0m.1 2.5h0m.1 .7h0m.1-.4h0m.3-1.4h0m.1 2.2h0m0-2.3h0m.1 .3h0m.1 1h0m0-.6h0m0 .8h0m.2-.8h0m0 1.7h0m0 0h0m.1-.6h0m0-.5h0m.2-2.2h0m.2 .6h0m.2 .5h0m0-1.7h0m.4 3h0m0-1.2h0m.5 1.2h0m.4-2h0m0 .4h0m0-.1h0m.1 1.1h0m.1 .1h0m.2-2.2h0m.1 1.3h0m.1-.4h0m0 .1h0m.1 1.3h0m.1 .4h0m.3 .3h0m.3-1h0m.4-1.2h0m.1 1h0m.2 .6h0m.2-2.5h0m.1-.1h0m.1 2.8h0m2.3 .8h0m1.9-2.4h0m-18.2 2.7h0m3.3 2.9h0m.3-1.6h0m1.2-.5h0m.5-.7h0m.1 2.2h0m.3-.6h0m.4-.9h0m.2 .7h0m.6 .3h0m0-1.8h0m.1 0h0m0 2.6h0m.1-1.4h0m.5-.2h0m.4 1.7h0m.1-.8h0m.1-1.2h0m.2 .9h0m.4-.7h0m.2 1.9h0m.1 .2h0m0-1.1h0m.2-1.9h0m0 2.6h0m.2-1.9h0m0 .1h0m.1-.3h0m0-.3h0m.2-.2h0m.2 1.8h0m.3 .1h0m.2-1h0m.7-.8h0m.4 .3h0m0 1.6h0m.1-.8h0m1.7 .7h0m.5-1.9h0m-10.9 4.1h0m3.9 .2h0m5.3 1h0" stroke="#a050e0" stroke-width="0.55" stroke-linecap="square" opacity="0.75" fill="none"/>
<path d="M369.2 191.6h0m.4-.6h0m0-.1h0m.7 .7h0m1.8-.3h0m-2.4 1.7h0m.5 .1h0m0-.7h0m0 .4h0m.2-.1h0m.6 .3h0m0-.9h0m.1-.1h0m.3 1.3h0m.2-.8h0m0-.5h0m0 1.1h0m.1 0h0m0 .3h0m.1-1.3h0" stroke="#8cc8d4" stroke-width="0.6" stroke-linecap="square" opacity="0.9" fill="none"/>
<path d="M361.5 199.9h0m3.2-.7h0m4.7-1.6h0m-10.2 3.5h0m1.8-.6h0m.3 3.3h0m.1-.5h0m.2-1.3h0m0 1.1h0m.2 .6h0m.6-.3h0m.1-.1h0m.1 .6h0m0-1.1h0m.1-.7h0m0 .1h0m.3-.4h0m.1 1.2h0m0-.5h0m.1 .7h0m.1-.6h0m.2-1h0m.1 1.8h0m.1-1.2h0m.2 .1h0m0 .1h0m.2-.8h0m0-1.4h0m.1 3.5h0m.2-.6h0m0-2.2h0m.1 2.4h0m.1-1.1h0m0 1h0m.1-1.1h0m0 0h0m.1 .7h0m0 .7h0m.2 .4h0m0 0h0m.1-1.4h0m.3-.3h0m0-.1h0m0-.7h0m0 2.1h0m.1 .3h0m0-.7h0m.1 .7h0m.1-3.7h0m0 3h0m.1-1.3h0m.1 .1h0m.1 1.7h0m.3-1.9h0m.1-.2h0m0 1h0m0-.1h0m0 1.2h0m.1-.2h0m0-.5h0m.1 .4h0m.1 .6h0m.1-.7h0m.1 .1h0m.2-2.6h0m0 1.5h0m.1 .6h0m.3 0h0m.2-2.1h0m0-.3h0m.1 1.4h0m.1-.1h0m0 .7h0m.1 .5h0m.1 1h0m0-2.6h0m.1 2h0m.1 .6h0m0-2.4h0m.1-.4h0m0 2.3h0m.1-.7h0m.1 .5h0m.1 .4h0m0-.1h0m0-.3h0m.4-.3h0m.1-1.5h0m0 2h0m.4-.9h0m0 .3h0m0-.4h0m.3 1.2h0m1-2.4h0m0 1.4h0m.1-.3h0m.4 .1h0m0 .6h0m.3-1.2h0m.1 .6h0m.1-1.8h0m.4 .7h0m.2-.2h0m.7 2.7h0m0-1.8h0m.2 0h0m0 1.4h0m.1-1.2h0m1.1 1.7h0m-16.4 .5h0m.1 .8h0m.7 .4h0m.9 .2h0m.5-1.1h0m.1 .9h0m.1-.6h0m.6-.9h0m0 1.6h0m.2 .9h0m.1-1.7h0m0-.3h0m.1-.1h0m.1 1.5h0m.1-1.3h0m.1-.3h0m.1 .7h0m0-.4h0m.1 1.4h0m0 1.8h0m.1-3.3h0m0-.2h0m.2 .6h0m0-.4h0m0 .7h0m0-.8h0m.1 .3h0m0-.6h0m.1 .5h0m.1 .5h0m0 2h0m.1-1.7h0m.2 .3h0m0-.5h0m0-.2h0m.2 2.3h0m0-3.1h0m0 .4h0m.1-.5h0m.1 1.3h0m.1-1.5h0m.1 0h0m0 2.1h0m0 .5h0m0-.9h0m0 .7h0m.1-2.3h0m.1-.1h0m.2 3h0m0-.3h0m.1 0h0m0-.3h0m0-.9h0m.4-1.5h0m0 1.1h0m.1-.7h0m0 1.2h0m.1 2.2h0m0-2.8h0m0 1.5h0m0-2.3h0m.2 2.1h0m.1-.8h0m.1-1.1h0m.1 1.5h0m0-1.5h0m.1-.2h0m.1 .5h0m0 .8h0m0 .4h0m0-.6h0m0-.7h0m.1-.5h0m.1 2.1h0m.1-.9h0m0 .8h0m0-1.4h0m.1 .7h0m.1 0h0m0-.9h0m.2 .2h0m.1-.7h0m0 2.3h0m.1-.6h0m0-1.7h0m.1 1.8h0m0-1.7h0m.1 3.8h0m.1-2.3h0m0 1.9h0m0-3.1h0m.1 2.3h0m0-2.1h0m0 2.5h0m0-.3h0m.1-2.6h0m0 2.2h0m0-.5h0m0-1.1h0m.1 1.1h0m0-1.2h0m0 .3h0m.1 1.5h0m.1-2.5h0m.1 1.1h0m0-.4h0m0 1.9h0m.1-1h0m0-.1h0m0 .1h0m0 .3h0m.1-.6h0m.1-.7h0m0 1.1h0m0 .4h0m0-1h0m.1 1.4h0m0 .3h0m.1-1.6h0m0 0h0m.1-.7h0m.2-.2h0m.2 .5h0m0 .9h0m.1 2.1h0m0-2.7h0m.1-.2h0m.1 0h0m0 2.1h0m0-2.5h0m.2 3h0m.1-1.6h0m.3-.5h0m.3 2.3h0m0-1.5h0m.1 1.5h0m.1-3.2h0m.1-.1h0m0 1.1h0m.1-1.3h0m.1 2.3h0m0-.3h0m.1-1.6h0m0-.4h0m0 .7h0m.1-.9h0m.3 .4h0m.1 .9h0m.1-.4h0m.1-.4h0m.3 .7h0m.1 .1h0m.2 .4h0m0-.7h0m.2-.3h0m.1-.6h0m.1-.1h0m0 2.5h0m0 1.2h0m.6-1.5h0m.3-2.2h0m.2 2.4h0m.6-2.4h0m.1 .8h0m.8-.3h0m-10.2 5.4h0m.1-1.9h0m1.6 2h0m2.5-.5h0m3.2-1.3h0m.7 .2h0" stroke="#8cc8d4" stroke-width="0.6" stroke-linecap="square" opacity="0.9" fill="none"/>
<path d="M369.1 215.7h0m.3-.2h0m.1-1h0m1.4 .6h0m.8-.2h0m.1 .6h0m2.3 .2h0m.1 0h0m.9-1.6h0m.8 1.8h0m0-2.2h0m-11.4 5.5h0m1.6 .3h0m.1-2.2h0m.3-.3h0m.3 2.2h0m.1-1h0m.1-1.3h0m.4 1.7h0m0 .1h0m.2-1.4h0m0 1.8h0m.2 .1h0m0 .6h0m.3-1.4h0m0-2.4h0m.2 3.9h0m.1-.2h0m.1-3.2h0m.1-.1h0m.1 1.9h0m0-.3h0m.2 1h0m.1 .6h0m0 .1h0m0-1.6h0m.1 .7h0m.1-.1h0m.1-1.7h0m0 2.3h0m.1-.9h0m.1 1.2h0m0-.3h0m0-.4h0m.2 .3h0m0-1.3h0m0 0h0m.1-1.2h0m.2 2h0m0 .1h0m.1-1.4h0m.1 2.1h0m0 0h0m.1-2.4h0m0 2.2h0m0 0h0m.1-1.4h0m.1 1.5h0m0-2.4h0m0 .8h0m.1 1.7h0m0 .1h0m.1-.4h0m.1-.5h0m0 1.1h0m0-1.3h0m0-.6h0m.1 1.7h0m.1-.7h0m0-2.2h0m0-.1h0m.1 .7h0m0 2.2h0m0-1.8h0m0 0h0m0 1.8h0m0-.8h0m0-1.5h0m.1 2.4h0m0-2.5h0m.1 .8h0m.1 1.3h0m0-.3h0m.2 .5h0m0-.2h0m0-3h0m.1 3.3h0m0-.8h0m.2-1h0m.1 1.8h0m.2-.1h0m0-2.7h0m.1-.5h0m0 3.6h0m0-1h0m.1-.3h0m0-1h0m0-1.1h0m.1 2.5h0m0 .1h0m.2-.6h0m0 1.5h0m0-1.1h0m0-1.3h0m.1 1.1h0m.1-.9h0m0 .6h0m0 .2h0m0 .2h0m0-.3h0m0-.6h0m.1 1h0m0-1.1h0m0 .9h0m.1-1.7h0m.1 3h0m0-1.6h0m0-1h0m0 2.1h0m0 .4h0m0-3.6h0m.1 3.5h0m0-1.2h0m0 .9h0m0-1.3h0m0-.2h0m.1 1.7h0m0-1.2h0m0 1.3h0m.1-3.1h0m.1 2h0m0-1h0m0-1.1h0m.1 2.2h0m0-2.2h0m.1 2.3h0m0-.9h0m0 1.3h0m0 .5h0m0-.4h0m.1 .6h0m.1-3.5h0m0 2.1h0m0 .9h0m.1-3.3h0m.1 2.9h0m0-1.1h0m0 1.4h0m.1-3.2h0m.1 2.3h0m0-.5h0m.1 .2h0m0 1h0m.1-1h0m0 .8h0m.1 1h0m0-.6h0m.1-3.3h0m0 3h0m0 .3h0m0 .5h0m.1-.5h0m0-1.2h0m.1-.6h0m.1 .1h0m0 1.3h0m0 .6h0m.1-.7h0m.3 .8h0m0-.2h0m0-.4h0m.1-1.4h0m.2 1.9h0m.2-1.4h0m0 .9h0m.1 .5h0m0 .4h0m.1-1.6h0m0 1.2h0m.1-.9h0m.1 .1h0m0 0h0m.2-.7h0m.1 .3h0m.1 1h0m.1-.4h0m.1-2.1h0m.1 2.5h0m0 .1h0m.1-1.9h0m0 2.2h0m0-.1h0m.2-2.9h0m.1 1.2h0m.1 .7h0m.1 1.3h0m0-.9h0m0-.6h0m.8-1h0m0 2.3h0m.1-.7h0m0-1.2h0m0 .7h0m.2-.7h0m.2-1.7h0m.1 3.6h0m.4 .1h0m1.3-.4h0m0-.4h0m-13.7 3.6h0m.1 1.1h0m.3-2.4h0m.2-1h0m0 1.4h0m.1-.2h0m.2-.3h0m.1-1h0m.4 1.3h0m.1 .4h0m.1-.7h0m.2-.7h0m.1 .9h0m0-1h0m.1 .7h0m0 .1h0m0-1h0m0 2.2h0m.1-1.9h0m.1 1.6h0m0-.3h0m0 .8h0m.1-2h0m0 .9h0m.1-1.2h0m.2 0h0m.2 2.6h0m.1-2.8h0m.1-.1h0m.1 .6h0m.1 3.2h0m0-2.2h0m0 2.3h0m0-2.4h0m.1-1.4h0m0 3h0m0-.1h0m0-2.1h0m.1 1.8h0m0 .7h0m0-2.4h0m.2 .9h0m.1-1.7h0m0 1.2h0m0 .3h0m.2 1.4h0m0-3h0m.1 1.8h0m0 .6h0m.1-1.6h0m0 .4h0m0-1.1h0m0 1.8h0m0-1.1h0m.1 1.4h0m0-.6h0m0-1.2h0m0 2h0m0-1.3h0m.2-1.2h0m.1 .3h0m0 .7h0m.1 .6h0m0 1.2h0m0-1h0m0-1.5h0m.1 .1h0m0 1.5h0m0-1.7h0m0 1.5h0m.1-1.3h0m0 .5h0m.1 1.3h0m.1-1.7h0m0 3.3h0m0-2.8h0m0 .9h0m.1-1.3h0m0 .4h0m.1 2.2h0m0-1h0m.1-1.9h0m0 2.3h0m0-1.7h0m0 1.3h0m0-1.5h0m.1 .9h0m0-.5h0m0 .2h0m0-.7h0m0 .7h0m.1-1.2h0m0 2.1h0m0-1.7h0m0 .3h0m.1 .6h0m0-.3h0m0 .1h0m0-.9h0m.2-.2h0m0 2.8h0m.1-1.4h0m0-1.4h0m.1 .1h0m0 .7h0m0-.7h0m0 .5h0m.1 .3h0m0 2h0m.1 0h0m0-.7h0m0-1h0m0-.9h0m0 .8h0m0 .1h0m.1 2.3h0m0-2h0m0 .1h0m0-.6h0m0 2.2h0m0-2.1h0m.1 .4h0m0-1.4h0m0 1.6h0m.1-.5h0m.1 1.2h0m0-2.3h0m.1 .4h0m0 1.3h0m.1 .7h0m.1-.7h0m0 1.7h0m0-2.6h0m0 1.9h0m.1-2.9h0m0 1.9h0m.1 .6h0m0-1h0m0-1h0m.1-.5h0m0 2.6h0m0-2h0m.1 .7h0m.1-.2h0m0 .1h0m.1-.8h0m0 2.1h0m.1-.6h0m0-.2h0m0-1.6h0m.1 1.2h0m0 .7h0m0 .1h0m.1 .2h0m0-2.1h0m.4 .8h0m0-.1h0m0 .3h0m0 2h0m.1-2.3h0m0-.9h0m0 .7h0m0 1.8h0m.1-2h0m.1 1.3h0m0-.5h0m0-1.1h0m0 .8h0m.1-.4h0m0 .2h0m.2 2.9h0m0-2.1h0m.1-1h0m.4-.6h0m0 3.6h0m0-1.7h0m.1-1.3h0m.2 .4h0m0 2.5h0m.1-2.9h0m.4 2.2h0m.2-1.5h0m.1 1.4h0m.1-.7h0m.1 .1h0m.1 0h0m0-1.8h0m.1 .6h0m.3-.3h0m.4 1.4h0m.5-.1h0m0-1.9h0m.1 1.1h0m-12.3 3.5h0m1.4-.2h0m.3-.2h0m1.1 2.2h0m.3-2.3h0m.9 .4h0m0 2.5h0m.3-.9h0m.5-2h0m.9 1.1h0m0-1.1h0m.1 .6h0m.9 .1h0m.7 .7h0m.4-.7h0m.9 1.8h0m.9-.4h0m2.6-1.5h0" stroke="#1a1ad0" stroke-width="0.6" stroke-linecap="square" opacity="0.9" fill="none"/>
<path d="M412.9 197.2h0m.5 2.4h0m1-.9h0m.6 1.2h0m.6-.4h0m.3-.8h0m.5 .1h0m.6 .9h0m.9-.9h0m.5-.3h0m.7 .8h0m.9 .4h0m3.1-3.4h0m1.4 3.6h0m1.1-.7h0m-13.1 4.2h0m1-2.6h0m.1 2.9h0m.2-.7h0m.4 0h0m.1-2.6h0m.2 .4h0m.4-.8h0m.2 1h0m.1 2.7h0m.1-2.2h0m.4 1.8h0m0-1h0m.2-1.2h0m.6 1.9h0m.1-2.2h0m0 2.2h0m.1-2.7h0m.2 .6h0m0 1h0m.2 1.5h0m.5-1.1h0m0 .1h0m0 1.3h0m0-2.2h0m.2-.2h0m.1 1.4h0m.1-1.7h0m.1 2h0m.2-1.7h0m0-.4h0m.1 3h0m0-.7h0m0 0h0m.2 .6h0m0-3.3h0m.1 2.3h0m.3-2.7h0m0 3.6h0m.3 0h0m0-2.6h0m0 .3h0m.1 2.2h0m.2-3.5h0m.1 1.3h0m.1 .4h0m.1 1.2h0m.2-.2h0m0 .6h0m0 .2h0m.1-3.1h0m0 2.7h0m0-1.1h0m.1 .4h0m0-.4h0m0 .4h0m.1-1.5h0m0 2h0m.1-.2h0m.1 .8h0m0-.4h0m.1 .5h0m0-3.6h0m.2 3.4h0m.1-1.7h0m.2-1h0m0 2.8h0m0-1.2h0m.1 1.5h0m0-1.2h0m0 .6h0m.1-2.1h0m0 2.3h0m.1-3.1h0m0 1.3h0m.1 2.1h0m.1-.6h0m0-.4h0m.1-.6h0m.2-.6h0m0 2h0m0-1.8h0m0 1.9h0m.3-1.2h0m0-1.1h0m.5 .1h0m0 2.4h0m0-.3h0m.2-1.8h0m0-.4h0m.4 1.9h0m0-1.4h0m.1 .3h0m0 1.5h0m.1-.4h0m0-2.3h0m.1 2.4h0m0-2.8h0m.1 1.3h0m.1-1.3h0m.1 3.1h0m0-.1h0m0-1.2h0m.3 .7h0m.1-1.6h0m0 1h0m0 1.1h0m.1-1.6h0m0 1.3h0m.1-.2h0m.2 .3h0m.1-.8h0m0 1.3h0m.2-.4h0m.2-.7h0m0 .7h0m.2 .1h0m0-.4h0m.1 .7h0m.1-3.5h0m.1 2.4h0m.2 .4h0m0-2.1h0m.2 2.1h0m.1 0h0m.1 .5h0m.2-.9h0m.2-1h0m.4 1.8h0m0-1.4h0m.2 .8h0m1.1-2.8h0m.5 3.2h0m.1-1.8h0m.1 1.4h0m0 0h0m.1 .1h0m0 .4h0m.7-.5h0m0 .6h0m.1 .1h0m.8-.9h0m.8 .9h0m.1-.6h0m3.1 .8h0m-22.1 .4h0m.1-.3h0m.9 .5h0m.6 .1h0m.3 1.8h0m2-1.2h0m.3-1.2h0m.4 .9h0m.2 2.2h0m.5-2.2h0m.3 .8h0m0-1.3h0m.2 1.3h0m.3-1.7h0m.2 2.4h0m.3-.5h0m.1 .1h0m.1-1.3h0m0 .8h0m0 1.2h0m.1-1.8h0m.2-.8h0m.1 3h0m.2-2.4h0m0 .9h0m0 .5h0m.1-1.4h0m0 2.7h0m.2-2.4h0m.1-.6h0m0 2.1h0m.1-2.2h0m0 .7h0m.1 1.9h0m0-2.2h0m0-.4h0m.1 .6h0m.2-.2h0m.2 1.8h0m0-1.1h0m.1 1.1h0m.1 1.3h0m.1-2.3h0m.1-1.1h0m.1 .3h0m0-.7h0m.3 1.5h0m.1 .9h0m.2-2h0m0 1h0m.1-.4h0m.1 2.6h0m.2-.3h0m0-2.9h0m0 .4h0m0 .5h0m.1 1.4h0m0-2.4h0m.1 .2h0m.1 2.5h0m0-2.4h0m0-.1h0m0-.4h0m.1 1.8h0m0-.6h0m0-1h0m.1 1.4h0m0 .7h0m0-.6h0m.1-1.3h0m0-.3h0m0 2.6h0m.1-2.7h0m.1 1h0m.1 2.1h0m0-1h0m0-2h0m.1 3h0m0-2.8h0m.1 1.2h0m0-.2h0m0 .2h0m.1 1h0m0-.3h0m0 1.6h0m.1-1.8h0m0 1h0m.1-1.3h0m0 .9h0m.1-.7h0m0-1.1h0m.1 .4h0m.2 0h0m.1 1.4h0m0 .2h0m0-2.6h0m0 1.3h0m0-1.2h0m0 2.8h0m0-1.9h0m0 1.3h0m.1-.4h0m.1-2.2h0m.2 2.5h0m0 .2h0m0 .9h0m0-2.9h0m.1 .6h0m.2 1.9h0m.1-3.1h0m.1 .8h0m.1 2.5h0m0-1.2h0m0 .9h0m.2-2.7h0m0 1.7h0m.1-.4h0m.1 .9h0m0 .6h0m.1-2.5h0m.2 1.8h0m0-2.5h0m.1 3.1h0m.1-.7h0m0-1.2h0m.1 2.6h0m0-3.4h0m.1 .5h0m0 2.6h0m.1-2.6h0m.1 2.2h0m0-1.1h0m.1 1.6h0m0-3.2h0m.1 2.9h0m0-3.2h0m.1 2h0m0 .2h0m.1-.7h0m0-1.2h0m.1 3.1h0m0-3.1h0m0 2.3h0m.1 .7h0m.1-2.4h0m.1 .3h0m.1-.1h0m0-1.2h0m.2 1.4h0m.1-.4h0m.1 .9h0m.1 2h0m.1-1.7h0m.2 .1h0m0 .5h0m.2 .4h0m.1-2.1h0m.1 1h0m.4 1.8h0m.3-.2h0m0-.9h0m.1-1h0m.2 1.4h0m0-.2h0m.2-1.7h0m0-1.2h0m0 2.5h0m.2-2.4h0m0 1.2h0m.1 1.1h0m.1-.9h0m.2-.4h0m0 1.2h0m.4-.4h0m.1-.8h0m0-.1h0m.3 1.2h0m.1 1.2h0m.3 .4h0m.3-2.7h0m.2 .4h0m.3 .8h0m4.6 1h0m-17.3 1h0m1.2-.2h0m1.8 .1h0m.3 .3h0m1 .8h0m.4-1.3h0m.2 0h0m.6 .6h0m.1-.5h0m.4 2.1h0m.1-1.1h0m.3-.5h0m.4 .6h0m.2-.8h0m.1 .3h0m.1 .3h0m0-.2h0m.6-.5h0m.4 .5h0m.1-.9h0m.5 .6h0m.1 1.8h0m.5-2.3h0m.1 1h0m.3-1.1h0m.2 1.4h0m.8 .2h0m.3-.1h0m.8-1.5h0m.1 1.3h0m0 .6h0m.3-.3h0m.4 .7h0m1-2.2h0m.1 .8h0m1.4 2.1h0m.5-2.3h0" stroke="#d8481a" stroke-width="0.65" stroke-linecap="square" opacity="0.9" fill="none"/>
<path d="M444.2 202.1h0m4 .8h0m.3 .2h0m-2.5 2.7h0m.1 .6h0m.5 .1h0m.5-1.7h0m0 1.8h0m1.9-2.3h0m.4 3.6h0m0-.3h0m.5-.6h0m.4-1.5h0m.7 2.2h0m.5 .1h0m-4.7 2h0m.2-.5h0m1.7 1.2h0m.4 .8h0m0-3h0m.2 1h0m.4 .2h0m.3 2.4h0m.1-2.2h0m0-1.7h0m.1 1h0m.2 .9h0m0 1.7h0m.1-.4h0m0-1h0m0 .1h0m.1-1.9h0m.1 2.1h0m.1 .4h0m.1-1.5h0m.1 1.9h0m.2-3.2h0m0 2.9h0m.5-.4h0m.1 1.1h0m.1-1.9h0m.3 .4h0m.6 .4h0m.2-1.3h0m1.3 1.9h0m-6.5 1.2h0m2.1 2.8h0m.1-2.5h0m.1 2.7h0m.1-.8h0m.1-2h0m.6 .5h0m.1 0h0m0 .5h0m.3-1h0m.2 1.3h0m.1-.8h0m0 .5h0m0 .8h0m0 1.1h0m.1-.5h0m0-1.7h0m.1 .1h0m.1 1h0m0-1.3h0m0 1.6h0m.1 .3h0m.1-1.3h0m.2-1.4h0m.2 3.1h0m0-2.6h0m.2 1.3h0m.1-.6h0m.1-1.2h0m.3 .8h0m.2 2.4h0m.1-2.8h0m0-.7h0m0 1.9h0m.4-.4h0m.2 1h0m0 1.2h0m.1 0h0m0-.6h0m.1-2.4h0m0 3.2h0m.8-2.4h0m.2 2.2h0m.1 0h0m0-2.9h0m.1 2.9h0m.4-.8h0m.1-1.2h0m-5.7 5.9h0m.3-1.8h0m.2 2h0m.1-2.2h0m0 1.5h0m.2-3h0m.5 .6h0m.2 2.4h0m.3-.1h0m.1-.9h0m.1-1.1h0m.2 .8h0m.3-.1h0m.1-1.7h0m.3 .7h0m.1-.6h0m.1 2h0m0 1.4h0m0-3.3h0m.1 .3h0m.2 3.2h0m.1-.2h0m.1 .4h0m.1-.2h0m.1-3.1h0m.2 1.6h0m0 .1h0m0-1.7h0m.3 .1h0m.3 .8h0m0-1.3h0m.3 2.3h0m.1-1.9h0m0-.4h0m0 .3h0m.2 .5h0m.1 2.5h0m.1-1.9h0m0 0h0m.1-.8h0m.1 1.2h0m0-.4h0m0 .2h0m.9 1.1h0m.8-1.2h0m.5 1h0m1.7-.3h0m-9.4 2.4h0m.1-.7h0m1.5 .5h0m1 1h0m.7-1.4h0m.7 1.5h0m.2 .1h0m0 1.1h0m.1-2.3h0m.1 1.2h0m.2-.9h0m.1 2.8h0m0-2.5h0m.1 .7h0m.1-.1h0m.2-1.5h0m.3 1.7h0m.2-2h0m.5 1.5h0m.2 2.1h0m.2-2.6h0m.2 .7h0m.6 .1h0m.5-1.7h0m-2.8 5.3h0m.9-.5h0m.9-.9h0m.3 .9h0m1.4 2.7h0m1.7-.2h0" stroke="#e07b3a" stroke-width="0.65" stroke-linecap="square" opacity="0.9" fill="none"/>
<path d="M412.7 202.8h0m-5.2 3.9h0m.9 .1h0m.2-1.8h0m.2 1.9h0m.3 1h0m.2-1.8h0m.6 .8h0m.6-.8h0m.4 1.4h0m.4 .1h0m.4-.3h0m0-.7h0m.4 .5h0m0-.7h0m.4-.1h0m.3 1.2h0m0-.8h0m.2 1.2h0m.6-.2h0m.5-.1h0m0-3.5h0m.4 3.1h0m0-2.3h0m.5 2h0m.2 .9h0m.3-.1h0m.2-1.4h0m.9-1.9h0m.5 2.8h0m.6-2.6h0m.4 .8h0m.3 1.9h0m1.6-.5h0m.4-1h0m2.1 .8h0m-17.2 2.7h0m.7-.1h0m.4-.1h0m.1 .9h0m.9 .4h0m.4 1.4h0m.2-2.3h0m.4 1.4h0m.1-.3h0m.2-.7h0m.2 1.8h0m.2-1h0m0 .9h0m.2 .3h0m.2-2h0m.2 .4h0m.2-.9h0m.3 1.4h0m0-2.5h0m0-.2h0m.1 2h0m0-.9h0m0 2.5h0m.6-1.5h0m.2 .2h0m.1 .4h0m0-.4h0m.3-2.4h0m.1 2.3h0m.2 .7h0m.1-.4h0m.1-1.3h0m0-.4h0m.1 .9h0m.2 0h0m.1 1h0m0-1.3h0m.1 .9h0m.2 .2h0m.1-2.5h0m0 3.8h0m.1-2h0m.2 1.1h0m.2 .1h0m0 .5h0m.1-1.9h0m0 .5h0m0 .6h0m0-.5h0m0-.5h0m.1 2h0m.1-1.7h0m0 1.6h0m0-3.7h0m.2 2.2h0m.1-.8h0m0 .3h0m.5 .3h0m.1 1.1h0m.1-.9h0m0 .2h0m.1-.7h0m.1 .9h0m.1-.4h0m.1-.6h0m.1 1.4h0m.2-1.7h0m0-1h0m.1 1.5h0m0 1.4h0m0 .7h0m.1-2.7h0m0 1.3h0m.3 .2h0m.2-2.6h0m0 3.3h0m.1-2.4h0m.1 1.6h0m.1 .8h0m.4 .5h0m0-2.5h0m.3 .8h0m0-1.2h0m.3 .6h0m.4-.7h0m.6-.1h0m.1 1h0m.3 2.1h0m.1-1.1h0m0-1.7h0m.3 1.7h0m.6-.9h0m.1 .1h0m.3-.6h0m5.1 2.4h0m-20.4 3.7h0m1.9-2.9h0m.1 .5h0m1.4-.4h0m.8-.6h0m.1 1.3h0m.2 .1h0m.3 0h0m.2 .2h0m0-1.7h0m.1 1.3h0m0-.5h0m.3 1.1h0m.3-1.9h0m1 2.5h0m.2-2h0m0 .1h0m0-.1h0m.1 .7h0m0 .5h0m.2-.8h0m.1 .9h0m0 1.5h0m0-3.1h0m.5 2h0m.1-2.1h0m.4 3.3h0m0-2.3h0m.2 1.6h0m0-1.6h0m.4 .3h0m.1 1.4h0m.2 .1h0m0-2.7h0m0 1.3h0m.1-.2h0m.1 .3h0m.1-.3h0m.2 1.2h0m0-2.2h0m0 .1h0m.1 .7h0m.2 .8h0m.3-1.8h0m.3 .5h0m.4 .4h0m.2 .5h0m0 .9h0m1.2-1.2h0m.1 .9h0m.1 1.2h0m.5-1.8h0m.4 1.7h0m.1-3.2h0m.8 .2h0m.1 1.4h0m.1 .9h0m.3-2.5h0m.3 1.4h0m.4-1.3h0m1.1 2h0m1.7 .6h0m-15.4 2.7h0m1-.4h0m.4 .5h0m0-.7h0m2.2 1.1h0m2.1-.9h0m1.2-.7h0" stroke="#cc1a1a" stroke-width="0.6" stroke-linecap="square" opacity="0.8" fill="none"/>
<path d="M439.7 219.7h0m-7.5 3.6h0m1.6-1.3h0m3.2 1.4h0m1.8 .1h0m.4-1.1h0m.5 .6h0m2.5 .1h0m1.4 0h0m.7 .1h0m.5-.6h0m.1-.6h0m.5 .7h0m.4 .6h0m2.3-.1h0m4.2 .5h0m2.2-3.2h0m-25 5.6h0m1-1.7h0m.5 2.6h0m0-.7h0m.7-1h0m.3-.7h0m1.2 .6h0m0 .1h0m.3 1.9h0m.5 0h0m.2-.7h0m.7 .6h0m2-1h0m.9 1.4h0m1-.2h0m.1-3h0m.1 2h0m.1-.7h0m.3 1.6h0m.2-1.2h0m.2 .3h0m.1-.4h0m.2 1.4h0m.5 0h0m0-2.3h0m.3 2.5h0m.1-2.9h0m.2 2.6h0m.2 .3h0m0-1.4h0m.1 1.8h0m.1-.5h0m.2-1h0m0-1.5h0m.2 2.2h0m.5 .8h0m0-3h0m1 2.4h0m.1-.2h0m.1 0h0m.2-1.5h0m.2 1.5h0m.2-1.9h0m.2 2h0m0 .6h0m0-2.9h0m.5 2.2h0m.1-1.4h0m.2 2.2h0m0-1.8h0m.4 1.7h0m.1-3.4h0m.3 2.6h0m.1-.2h0m.1 .7h0m.2-2.8h0m.1 2.5h0m.2 0h0m.1 .4h0m0-.1h0m.3-2.8h0m.3 2.4h0m.4 .8h0m0-.1h0m.6-.5h0m.2-3.2h0m.2 .8h0m.5 2.3h0m0-.4h0m.3 .9h0m.1-.2h0m0-1.2h0m.4-1.7h0m.1 3.3h0m.7-.5h0m.4-1.1h0m.1-.2h0m.2 .2h0m.9-2.2h0m.1 3.4h0m.7-2.3h0m.4-1.1h0m.2 2.6h0m.1-1.7h0m0 .1h0m0-.1h0m.7 2.7h0m1-.6h0m0-1.3h0m2.6 .1h0m-31.6 3.8h0m5.8 .7h0m.3-1.7h0m.2 2.7h0m1.3-2.7h0m.2 1.4h0m.2 1.4h0m.1-2h0m0-1.1h0m0 1.1h0m.4 .9h0m.2 .4h0m.1-2.1h0m.8-.6h0m0 2.5h0m.2 .8h0m.1 .2h0m.2-.1h0m.1-.7h0m.1 .9h0m.2-2.9h0m.1 3h0m0-3.6h0m0-.2h0m.1 .4h0m.3 .9h0m.1 2.2h0m0-1.3h0m.1-1.7h0m.1 1h0m.1 1.2h0m.2-1.1h0m.3 .8h0m.2-1.3h0m0 1.3h0m.1 0h0m0 0h0m.1 .5h0m.6-1.6h0m.1 .3h0m.1-.7h0m.2 .9h0m0-1.7h0m.3 2.7h0m.1 .4h0m.1-2.5h0m.3 2.9h0m0-1.9h0m.1 1.7h0m.1 .1h0m.1-1.7h0m.3-1.2h0m.2 .1h0m0 2.5h0m.2-.3h0m0 .2h0m0 .2h0m0-1.8h0m.1 .2h0m.3 1.7h0m.2 .3h0m.1-2.6h0m0 .5h0m.1 2h0m0-2.6h0m.4-.9h0m0 .6h0m.2 2.4h0m.1-1.3h0m0-1.3h0m.1-.2h0m0 1.3h0m0 1.3h0m.2 .1h0m.1-.7h0m.1 .4h0m0 1.2h0m0-3h0m.1 3h0m0-3.9h0m.3 3.4h0m0-3.3h0m0 3.2h0m.1 .1h0m.1-2h0m0 .3h0m0 1h0m.1 .3h0m.1 .1h0m0 .3h0m0-3.3h0m0 3.8h0m.3-.1h0m0-3.6h0m.2 3.7h0m0-.9h0m.1-1.1h0m0 2h0m0-3.2h0m0 .9h0m0-.4h0m0 .9h0m.1-.7h0m0-.8h0m0 1.9h0m.1 .6h0m.2 .4h0m0-3h0m0 3.3h0m.1-2.9h0m0 1.5h0m0-1h0m.2 1.2h0m.1-1h0m.1-.5h0m0 2.5h0m0-3h0m.1 3.1h0m.1-.3h0m.2-2.9h0m.1 1.1h0m.2-.7h0m.2 2.2h0m.2-2.2h0m.1 1h0m0-1.8h0m0 1.4h0m.1 .8h0m.4 1.3h0m0-.8h0m.2 .7h0m.1-3h0m0 1.7h0m0-.9h0m0 1.5h0m.1 .1h0m0-2h0m0 2.6h0m.3-.2h0m0 .1h0m.1-3.3h0m.1 3.8h0m.1-.6h0m0-2.5h0m.1 2.8h0m0-2.5h0m0-.9h0m.1 3.6h0m.1-2.7h0m.1 1.1h0m.1-.9h0m0-.4h0m0-.2h0m.1 2.3h0m.2 .9h0m0-2.4h0m.1-1.2h0m.1 2.2h0m.5 .6h0m.4-1.2h0m.4-.8h0m.2 1.7h0m.6 .9h0m.6-1h0m.1-.6h0m.7 1h0m.2-2.5h0m.6 3h0m0-1.8h0m.9 .4h0m.1 .7h0m.3 .2h0m.1-2.1h0m.1 2.5h0m.3-1.4h0m.1-.7h0m.7 .6h0m1.5 .1h0m1.4-1.6h0m1.3 2.1h0m-38.6 4.3h0m3.8-1.7h0m.4 2.4h0m1.9-.1h0m2.4-3.1h0m.2 2h0m1-.6h0m.2 .8h0m1.2-.1h0m.3 .7h0m.4 0h0m.2-.5h0m.4 1.2h0m0-2.8h0m.4-.6h0m.4 .6h0m.8-.6h0m.1 3h0m.3-2.7h0m.2 2.5h0m0-2.9h0m.4 1.3h0m.5 2h0m0-2.3h0m.3 .6h0m.1-.6h0m.1-.7h0m.1 .6h0m0 .4h0m.1 .6h0m0 .5h0m.1-2.3h0m.4 1.9h0m.2-.7h0m0-.3h0m.1 .9h0m.1 1.1h0m0 .3h0m.2-3h0m.3 2.9h0m0-2.1h0m.1-.9h0m0 2.1h0m.2 1.1h0m0-1.4h0m0-.1h0m0 1.5h0m0-2.6h0m.1-.1h0m0 2.1h0m.1-1.8h0m0 .2h0m.1 .2h0m.1-1.3h0m0 1.5h0m.1 1.7h0m0-.5h0m0-.5h0m0-1.5h0m.3 .8h0m.2 .8h0m.1-1.1h0m0-1.2h0m.1 .8h0m.1-1.3h0m0 2.6h0m.1-.7h0m.1-.6h0m0 2.3h0m.1-3.3h0m0 .4h0m0 2.7h0m.2-3.3h0m.1 2.9h0m.2-3h0m0 2.5h0m.1 .5h0m.1-.4h0m0-.8h0m0-.1h0m.1-1.2h0m.1 2.6h0m.2-1.7h0m.1-.8h0m0 2.6h0m0 .7h0m.1-.8h0m0-1.4h0m.1-1.1h0m.1-.2h0m0 1.7h0m0 1h0m.2-1.2h0m.1 .6h0m.1-2.4h0m0 .9h0m.1 .3h0m0-1.1h0m.1 .3h0m.1 2.8h0m0-.1h0m0-3.1h0m0 3.2h0m.1-1.5h0m0 .1h0m.1-.5h0m.1 2.4h0m0-2.2h0m0-.7h0m.1-.9h0m0 .9h0m.1 1.8h0m.2-.3h0m.1 1.2h0m.2-3.2h0m.1 2.2h0m0-.6h0m.2-1.7h0m0 .2h0m.2 3.1h0m.1-2.9h0m0 2.2h0m.2-2.9h0m0 2.6h0m.2-2.1h0m0 .4h0m0 .1h0m0-.2h0m0 .6h0m0 1.3h0m.1-.9h0m0-1.3h0m0 .4h0m0 1.8h0m.1 .2h0m0-2.2h0m0 2.4h0m.2-.5h0m0-1.6h0m.3 1.1h0m0 .2h0m.1-.2h0m0 1.3h0m.3 .5h0m.1-1.2h0m0-1.1h0m.2-1.5h0m.1 2.7h0m0 .3h0m.1-.7h0m.2-2h0m0 1.9h0m.1-2.3h0m.1 2.4h0m.1 .5h0m0-2.1h0m.3 .7h0m0 2.3h0m0-3.2h0m.2 .3h0m0 1.7h0m.2-2.1h0m.1 3.3h0m.1-1.1h0m.2-2.1h0m.1-.3h0m0 1.5h0m.2-1h0m.1 .9h0m.1-.6h0m.2 2.4h0m0 .1h0m.1-2.4h0m.2 .3h0m.3-1.1h0m.3 2h0m.2-1.3h0m.3 0h0m0 .4h0m.7-.2h0m.2 1.6h0m.2-.1h0m.3-1.9h0m.4 1.5h0m.4 .5h0m.9-.8h0m.3-1.4h0m1.4-.3h0m.5 2.3h0m0-1.9h0m.1 .1h0m-27.5 5.7h0m1-.2h0m.4-.3h0m.2 0h0m1.8 .1h0m.7-1.4h0m.4 1.4h0m.2-1.4h0m.1 .9h0m.7 1.4h0m.1-3h0m.1 .7h0m.1 .4h0m.3 1.3h0m.6-1.6h0m.1 1.5h0m.7-2.4h0m.1 1.8h0m.1 .5h0m0 .7h0m.3-2.3h0m.1-.2h0m1 .2h0m0-.6h0m.4 0h0m0 .9h0m.1 2h0m.3-.4h0m0-.9h0m.1-.1h0m0-.1h0m.2-1.3h0m.5 .1h0m.5 1.5h0m0 .1h0m0-1.1h0m.1 .9h0m.5-.9h0m0 .4h0m.1 1.6h0m.2-2.2h0m.2 .4h0m.3 .8h0m0-.8h0m0-.6h0m.1-.3h0m0 1.5h0m.1-1.2h0m.6 .2h0m.2 1.6h0m.7-1.8h0m.1 1.5h0m.1-1.1h0m.3 .1h0m0 1.2h0m.1 .6h0m.1-2.4h0m.4 1.9h0m.1-.2h0m.2-.7h0m.1-.7h0m.3 2h0m.5-1.5h0m.1 .5h0m.1-1h0m0 1.8h0m.3-1.7h0m0 .8h0m.1 1.9h0m0-3.1h0m.7 1.1h0m.5-1.4h0m.5 .4h0m0 2.1h0m0 1h0m.1-2.3h0m.3 .2h0m.1-.7h0m.2-.5h0m.2 3h0m0-3.1h0m.5 2.3h0m.3 .4h0m.1-1.2h0m.5 .3h0m0-.8h0m0-.6h0m.1 0h0m.5 2.3h0m.1 1h0m.2-2.1h0m0 1.8h0m1-.6h0m0 .2h0m1-.2h0m1.1-1.5h0m.3-.7h0m-23.3 6.8h0m2.3-3.2h0m.5 .7h0m1.2-.3h0m.8 .7h0m2.7 .4h0m0-1.7h0m3.5 3.3h0m1-3.1h0m1.8 .4h0m.2 2.2h0m1-1.3h0m.1 0h0m.3-.4h0m1.2-1.1h0m.4 .4h0m0-.3h0m.3 .4h0m.5 .6h0m.5 2.1h0m.8-2.7h0m4.1 1.4h0m2.4-.4h0m1.7 .7h0m2.6-.7h0" stroke="#cc1a1a" stroke-width="0.7" stroke-linecap="square" opacity="0.85" fill="none"/>
<path d="M401.2 184.2h0m.5 5.2h0m21.3 2.3h0m11.3-3h0m-16.9 4.7h0m14.6 .1h0m-13.6 3.9h0m2.6-.4h0m4.9 1.2h0m2.5-1.3h0m1.1 2.8h0m.4-1.4h0m2.3-.4h0m2.7-.7h0m7.9 1.5h0m3.4-1h0m2.2 1.8h0m1.5-2.9h0m.9 .7h0m-50.5 3.7h0m3.7 2.9h0m1.6-.9h0m7.5 .5h0m3.1-.6h0m3.4-.2h0m5.3-1.6h0m4.8 2.1h0m3.6 .4h0m.4 .1h0m1-2.6h0m1.8 1.1h0m.6 1.2h0m1.3-.5h0m1.3-2.5h0m3.5 2h0m2 .2h0m4.1 .3h0m.8 .6h0m.6-3.3h0m4.7 2.6h0m3.3-2.3h0m2.1 3.2h0m-59.9 3h0m.6 1.2h0m3-1.1h0m2.4-2.1h0m4.1 2.6h0m1.5 .6h0m.3-1.1h0m.4-1.2h0m1 1.4h0m1 .4h0m.7-1.4h0m.6-.1h0m.8-1h0m.5 1.9h0m.3 .5h0m.2-2.5h0m1-.3h0m.5 1.4h0m.2 1.5h0m.1-2.5h0m1.8 2.7h0m2.6-.1h0m1-1.4h0m.1 1.3h0m0-2.3h0m1-.8h0m.6 2.2h0m1.1-.9h0m.5 1.7h0m.2-1.2h0m.6 1.4h0m.7-.9h0m.5 .7h0m.5 .4h0m.5-.7h0m.9-2.2h0m.5 2.1h0m1.8-2.5h0m.3 1.7h0m1.9 1.6h0m.6-3.4h0m.7 .1h0m1.7 3.5h0m1.7-3h0m.8 1.2h0m1.2-.7h0m4.3 .6h0m1.9-.6h0m1.3 1.7h0m11.8-2.2h0m-65.8 6.1h0m5.6-.9h0m.9-.2h0m5.6-1.1h0m2.3-.4h0m2.4 .3h0m1.2-.7h0m.7 1.9h0m1.1 1.5h0m.7 .2h0m.9 .1h0m2.1-.9h0m.2-.4h0m.6-1h0m.4 1.3h0m.6-1.8h0m.5 1.2h0m.1-.3h0m.1 2h0m.2-1.2h0m.9-2.3h0m.4 2.6h0m0-1.3h0m.9-.2h0m.1 .1h0m.7 .5h0m2.1 .1h0m2.2 1.2h0m.3-1.9h0m.5-.1h0m.5 2h0m.3-.2h0m0 .1h0m0-.4h0m.4-1.8h0m.2 2.6h0m.1-2h0m2.1 2.1h0m.3-1.4h0m.4 1.5h0m.3-3.7h0m0 3.1h0m0-2.8h0m.8 3.2h0m.3-2h0m.4 1.5h0m.9-1.1h0m.4-1.2h0m.2 1.8h0m.1-1.9h0m.8 2.8h0m1-.8h0m2.3-.7h0m.1 .4h0m.6-.9h0m.1-1.3h0m.5 .9h0m.2 1.7h0m1 .6h0m.5-2.4h0m.8-.7h0m.4 3.1h0m.3-.6h0m.8-.3h0m2.4-2.5h0m0 1.8h0m.9 .1h0m4 .2h0m3.4 1.6h0m1.7-.1h0m.4-1.6h0m9.2 1.6h0m-78.6 1.9h0m2.3-.3h0m9.7 1.6h0m1.8-.3h0m.3-1.7h0m1.5 1.3h0m2 1.4h0m.2-2.7h0m1.5 1.6h0m.1-1.7h0m.5 3.1h0m.4-2h0m.1-.6h0m.1 .4h0m.5 2h0m.5-3h0m.1 .8h0m1 2.5h0m.6-.1h0m0-.6h0m.4-2.1h0m.4 2.4h0m.2-1.7h0m0 1.7h0m1.3 .3h0m.5-.4h0m2.5-2.8h0m.3 2.4h0m.1 .7h0m.1-.8h0m.8-1.9h0m.6 .2h0m.1 2.4h0m.7-.9h0m.1-2h0m.1 3h0m.5-.9h0m.3 .2h0m1.2-2.4h0m.1 3.2h0m.1 0h0m.5-3.5h0m.3 2.7h0m1-1.3h0m.2-.3h0m.1 1.7h0m.3-.6h0m.1-2h0m.1 1.1h0m.2 .1h0m0-1.5h0m.3 2.7h0m.1-.4h0m.3-.5h0m.1 1.2h0m.6 .7h0m.3-1.1h0m.4 .2h0m.6-.2h0m.4 .6h0m.2 .4h0m.6-3.4h0m.5 1.8h0m.3-2.2h0m1.5 3.9h0m.3-2.3h0m2.3 .4h0m.3 1.4h0m1.1-2.3h0m.2-.3h0m1 .8h0m.2-.5h0m.1 1.3h0m.4 0h0m1-2.1h0m.4 2.3h0m.3 .6h0m.9-2.9h0m.7-.3h0m.8 2.7h0m1 .1h0m.2-2.7h0m0 .3h0m.7 .4h0m.9 1.6h0m2.2 1h0m.4-3.4h0m.1 .5h0m1.1 .8h0m.7 2.1h0m1.6-.8h0m.2-1.9h0m.1-.3h0m1.9 1.2h0m0-.8h0m2.2 1.3h0m6.6-.2h0m1.9 .7h0m-64.5 4.5h0m6.3 .7h0m.1-1.9h0m.5 .8h0m.1-2.4h0m.6 1.9h0m.2-.2h0m.1 .6h0m1-.2h0m.3-2.2h0m.4 0h0m.1 1.4h0m2.4-.2h0m.5 2.2h0m0-2.1h0m.6 2.1h0m.7 0h0m.3-.7h0m.3 .6h0m1.5-.5h0m.2-2.4h0m.2 1.3h0m.3 .7h0m.2-1.1h0m.2-1.5h0m.3 3.7h0m1.8-2.5h0m.1 1.2h0m0-1.6h0m.1 2.5h0m.4-.4h0m.2-1.2h0m0 .9h0m.1 .2h0m.5-.5h0m.3-.1h0m.1 .9h0m0-.8h0m.2-2.3h0m.1 2.3h0m.1-2h0m.1 .6h0m0-.4h0m.3 1.9h0m.3 1.3h0m.7-1h0m.1-1.7h0m.5 0h0m.4 1h0m0 1.4h0m0-3.3h0m.2 .8h0m.4 2.8h0m.1-1.8h0m.6-1.3h0m0-.2h0m.4 2.9h0m.6-1.1h0m0-1.6h0m.2 1.9h0m.4 .3h0m.4-1h0m.4 1.8h0m0-.7h0m.1 .9h0m.4-1.3h0m.3 .4h0m0 .4h0m.3-1.8h0m.4 2.1h0m.2-.1h0m.4-2.1h0m0-.5h0m1.1 1.4h0m.2-.8h0m0 .6h0m.2-1.3h0m.4 1.3h0m.6-1.8h0m.1 2.6h0m.1-.7h0m0 .4h0m.3 1.1h0m.1-2.6h0m.2 .7h0m.1 .4h0m.5 .9h0m.3-3.1h0m.1 3.4h0m.4-2.8h0m.2 0h0m0 2.3h0m0-.8h0m.3-1.7h0m.5 1.6h0m.1-1.4h0m.3 2.1h0m.7-1.4h0m.2 2.2h0m.5-.5h0m.2-2.9h0m0 1.4h0m.4-.6h0m0 .9h0m.3 1.8h0m0-3h0m.4 .8h0m0 .3h0m.9 1.5h0m1.1 .4h0m.4-.6h0m.2 .7h0m.5-3.6h0m.2 2.8h0m.5-.4h0m.5-.4h0m.1-2.1h0m.6 2.6h0m.2-.4h0m1.3 1.3h0m.3-.6h0m.1-2.2h0m.4 1.2h0m.2-1.1h0m.4 .2h0m.2 .7h0m1-1.7h0m.6 0h0m0 1.3h0m.1 .9h0m.1-1.5h0m.1 .8h0m.2 .2h0m.7-.7h0m.2 1.3h0m.5 .5h0m2.6-.5h0m.5 1.5h0m.5-2.8h0m.4 2.2h0m1.4-2.2h0m3.1 2.3h0m2.2-3.3h0m-64.2 7.5h0m2.3-.5h0m1.9-.2h0m.5 1h0m4.6-3.6h0m1.4 .7h0m1.8 .6h0m.6-1.3h0m.5 .5h0m.9 2.3h0m.1 .3h0m.6-1.3h0m.4 .7h0m.1-.9h0m0-.9h0m.2-.7h0m.8 .4h0m.3 1.7h0m.7 .2h0m.2-.6h0m1.4-.2h0m.2-1.7h0m.4 1.1h0m.3 1.2h0m.1-.6h0m0 1.6h0m.5 0h0m.1-1.7h0m.4 .1h0m.3 .4h0m.8 1h0m.5-.6h0m.1-.7h0m1.1 .8h0m.1-2.5h0m1 2h0m0 .2h0m.1 1.2h0m.2-.8h0m0-1.2h0m.4 .6h0m1.2 1.7h0m.3-1.6h0m.4-.3h0m0-.5h0m.1-.3h0m.4 2.2h0m.1-1.8h0m0-.2h0m.2 1.6h0m.3-2.4h0m0 2h0m.1-.7h0m.1 .1h0m.7-.5h0m.5 .7h0m.3 1.8h0m.1-2h0m.3 .1h0m.4 1.9h0m.3-2h0m.2-1.5h0m0 2.5h0m.3-.2h0m.2-1h0m.2-1.7h0m.1 3h0m.2-1.7h0m.1-.9h0m1.1 1.3h0m0 .3h0m.5 1.6h0m.6-2.4h0m.1 .6h0m.2 .1h0m0-1.6h0m.3 2h0m.2-.1h0m.7-1.4h0m0 2.8h0m1.2-3.4h0m.2 1.6h0m.1 1.1h0m.4-.2h0m.7-2.4h0m.6 .9h0m.3 1h0m.1-1.5h0m.2 .9h0m0 1.4h0m.1-1.1h0m.2 .5h0m.6 .2h0m.1 1.1h0m.1-3.2h0m.9 1.8h0m.2-1.8h0m0 2.7h0m.1 .4h0m1.6-.3h0m.2-.3h0m0-1.4h0m.4 .7h0m.7-1.5h0m1.3 1.7h0m.3 1.2h0m3.3-.7h0m0-1.1h0m.2 1h0m1 .4h0m.5-.5h0m1.9-1.1h0m4.5 1.8h0m5.9-3.1h0m-75.2 5.2h0m14.6 1.9h0m.5-2.1h0m3.2 1.3h0m.3-.5h0m.1-.2h0m2.2 0h0m.5-1.9h0m.2 .8h0m.4-.9h0m1.1 3.9h0m.1-.6h0m.1-1.7h0m.7 .4h0m.1 1.7h0m1.4 0h0m.2-1.8h0m.2-1h0m.3 2.6h0m.2 .3h0m.6-3.6h0m.9 1.9h0m.4-.5h0m.9-.1h0m0 .2h0m1 1.4h0m.7-.7h0m.5-.6h0m.1 .9h0m.4 .6h0m.5-2.6h0m1.2 2.2h0m0-1.9h0m.3 2h0m.7-1h0m.1 1.8h0m.1 0h0m.2-1.5h0m.1 .2h0m.1-2.1h0m.4 3.1h0m.5-.1h0m.6-3h0m.3 2.1h0m0 .5h0m.2 0h0m.6-.7h0m.1-.3h0m.8 .1h0m.3-1.4h0m.1 2.8h0m.3-.5h0m0-1.2h0m.5 .2h0m.3 .3h0m0-1.6h0m0 2h0m.2-1.7h0m.1 .1h0m.1 1h0m.9 .3h0m1.1-2h0m1 .1h0m.3-.3h0m.2 .5h0m.1 1.2h0m.2 .1h0m.4-.3h0m.1-1.6h0m.7 1.9h0m.4-1.9h0m0 3.7h0m.5-.1h0m.3-.3h0m1.1-1.3h0m.3 1h0m.3-2.5h0m0 2h0m.1-.6h0m.3 0h0m.1-.3h0m0 .1h0m.1 1.6h0m.1-.1h0m.3-1.1h0m0-1.1h0m.1 .2h0m.3 .8h0m.6 1.7h0m0-3h0m1-.5h0m.6 .5h0m.3 1.3h0m.5 .6h0m.1 .6h0m0-.3h0m.1-2.7h0m.4 1.1h0m1.4 .6h0m.2 .5h0m.7-2.3h0m.5 0h0m.2 2h0m0-1.5h0m.3 1.3h0m.4 0h0m.5-1.6h0m.5 .7h0m.7 1.6h0m.5 .1h0m.1-1.4h0m.2-.5h0m.4 2.3h0m.6-2.4h0m.1 .1h0m1.8 2.9h0m1.3-1.4h0m.2-.6h0m.6 1.8h0m.9-3.3h0m2.3 2.1h0m1.1-.7h0m1.4 .6h0m.1 .6h0m1.6-2h0m5.1 2.9h0m-69.6 .9h0m1.2 3.2h0m6.5-2h0m.1 .2h0m3.2-1.3h0m3.6 .5h0m.5 .8h0m.3-.3h0m0 .5h0m.6 .4h0m.6-1.1h0m.4 .4h0m.7-1.9h0m.4 1h0m.2 .1h0m.3 2.6h0m.7-1.4h0m.7-.6h0m.2 .7h0m.5-.5h0m1-.2h0m.2-.2h0m.1 1.3h0m.4-.2h0m.9-1.3h0m.4-.1h0m.4 .2h0m.4-.6h0m0 1.1h0m.2-.7h0m.1-.5h0m.2 1.4h0m.3 .5h0m.2 .3h0m.1-2.1h0m.2 1.5h0m.3-.8h0m.2-1.2h0m.4 .2h0m.2 0h0m.1-.2h0m1.2 2.8h0m.4 .5h0m.7-3.3h0m.6 3.2h0m.3-1.9h0m0 1h0m.2 .9h0m.8-1.8h0m.3-.1h0m.8-1.5h0m.1 3.5h0m.2-2.7h0m.3 .6h0m.8 2.2h0m.1-3.3h0m.3 .3h0m.1 2.5h0m.1-3h0m.4 1.8h0m.1-1.4h0m.2 1.3h0m.2-1.9h0m.2 1.5h0m.3 .3h0m.3 1.7h0m.8-2.5h0m.2-.4h0m.1 1h0m.1-1.1h0m.2 1.8h0m.1-1.6h0m.5 .6h0m1.3 1.3h0m.7-.7h0m.3-1.2h0m.4 .7h0m1 .8h0m.6 1.6h0m.3-3.9h0m.1 3.9h0m0-3.1h0m.6 .5h0m.5-.1h0m.5 2.3h0m.1 .3h0m.5-.9h0m1.9-2.5h0m.1 2.8h0m.5-2.2h0m.2 2.9h0m.1-1h0m.4-1.1h0m.5-.9h0m.2-.9h0m0 1.9h0m.9 1.8h0m1.7-.5h0m.4-1.8h0m.1-.4h0m1.8-1h0m3.8 0h0m1.3 .5h0m.6 3h0m0 .4h0m.6-1.1h0m.5-1.2h0m6.6-1.5h0m.2 3.3h0m-69.2 1.4h0m5.6 1.6h0m7.7-.3h0m2.3-.3h0m.1-1.8h0m1.2 2h0m.8 1.5h0m1.5-.5h0m.6-2.7h0m.2 .5h0m.3-.1h0m1.3 2.7h0m1.5 .4h0m.2-2.9h0m.7 1.5h0m.5-2.2h0m0 2.7h0m1 .2h0m.1-.4h0m.4-2.4h0m.2 3.3h0m.3-.2h0m.1-.6h0m.1-2.5h0m.1-.1h0m.2 .6h0m.8 .7h0m.3 2h0m.1-3.5h0m1.1 1.5h0m.1-.4h0m.6 2.6h0m0-1.8h0m.9 1.3h0m.3-2h0m.2 1.5h0m0-1.9h0m.1 2.2h0m.7 .5h0m0-2.6h0m.1-.5h0m.1 .2h0m0 0h0m.4 1.9h0m.1-2.4h0m.7 0h0m.5 1.5h0m1-1h0m.6 .2h0m0 2.5h0m.4 .2h0m0-1.4h0m.3 1h0m.3 .7h0m.6-1h0m.3 .6h0m.2-.7h0m.2-2.5h0m.1 1.2h0m.1 1.6h0m.9-1.9h0m.2 .4h0m.3-.9h0m0 1h0m.1 1h0m1.9-1.2h0m.1-1.1h0m.1 2.2h0m.1-.7h0m.1 .3h0m1-1.2h0m.4 1h0m.1 1.3h0m.6-1.6h0m.5-.6h0m.1 1.6h0m.9-1.6h0m.6-.3h0m.5 .9h0m.2 1.1h0m.2-1.3h0m1.5-.1h0m.2 .1h0m.3-1h0m.2 .7h0m1.6-.5h0m.7 .9h0m.2-1.2h0m.7 2.7h0m.6-1.8h0m2.1-.1h0m1.2 2h0m0-3h0m.8 2.3h0m1.4-.4h0m1.6 1.6h0m4.2-2.3h0m3.8-1.2h0m-74.5 6.8h0m12.5-2.7h0m.2 2.2h0m.8-1.7h0m1.9 2.8h0m1.2-1.1h0m3.1-1.5h0m.1 .4h0m.2-1h0m.9 2.6h0m2.3-2.8h0m.1 1.8h0m2.4 .6h0m.2-1.1h0m.2 1h0m1.9-1.2h0m.4-.1h0m.1-.6h0m.9 3.4h0m.3-2.1h0m2 1.8h0m2.9-2.1h0m2.5 .3h0m.1 1.8h0m1.3-3.1h0m.2 .5h0m.8 .2h0m2.2 2.5h0m.3-3.6h0m1.3 2.7h0m.3-2.1h0m.6 .3h0m.7 2.5h0m1 0h0m.3-2.7h0m.9 .6h0m.6 .9h0m2.2 .1h0m1.8-.2h0m.5-.9h0m.9-.6h0m.5 .6h0m.6 1.4h0m.3-2h0m1.5-.6h0m.2 3.6h0m.9-2.9h0m.6 1.7h0m1.1 1.3h0m1.1-2h0m.9 2h0m1.4-1.8h0m0-1.6h0m0 1.2h0m.3 .1h0m.9 .5h0m3.8 .7h0m1.4-1h0m14.8 .3h0m-69.4 3.3h0m4.9-.5h0m.1-.7h0m5.1 1.6h0m3-1.3h0m.3 2.6h0m1.6-1.1h0m.4 .2h0m.8-1.6h0m.8 2.7h0m.3-.1h0m1.9-2.5h0m1.1 .2h0m.6-.3h0m.1 .6h0m.5-1.2h0m.5 3.1h0m3.3-1h0m1.1 1.7h0m.6-.5h0m1.6-3.2h0m.2 3.3h0m2.7-1.9h0m.3 .6h0m1.2 1.4h0m.6-1.5h0m.4 1.1h0m.4-2.4h0m0 .8h0m1.5 1.4h0m1.5-1.1h0m1.9-1.6h0m.3 .2h0m.7 1.3h0m0 0h0m1.2-1.5h0m1.2 2.3h0m1.4-2.5h0m1.2 .5h0m.5 3.1h0m1.4-2.1h0m1.8-1.2h0m.2 1.8h0m1.3 1.5h0m3.8-.3h0m6.5-2.7h0m-63.8 4.6h0m16-.2h0m.1-.8h0m.6 .6h0m8.4 2.4h0m1.7-2.7h0m.2 .6h0m.4-.8h0m3.1 3h0m4.1 .3h0m1.9-1.3h0m.1-.7h0m.6-1h0m.5 .8h0m1.4-1.4h0m2.7 2.7h0m3.5-.4h0m1.6-1.7h0m0 1.2h0m2.5 1.4h0m4.5-1.6h0m5.5-.3h0m6.7 .2h0m-53.1 4.2h0m1.4 2.1h0m2.2-2.9h0m7.2-.6h0m12.9-.2h0m1.8 1.1h0m1 1.5h0m2.8-1.4h0m5.4 .1h0m-48.7 2.7h0m24.8 1.1h0m7.9 1.4h0m1-2.4h0m.8 1.7h0m1.4 1.1h0m4.5 .2h0m18.9-3.1h0m-31.9 4.2h0m49.5 1.7h0m-48.9 4.8h0" stroke="#cc1a1a" stroke-width="0.6" stroke-linecap="square" opacity="0.75" fill="none"/>
<path d="M427.2 144.6h0m-28.5 13.4h0m13.9 1.1h0m-48.7 6.9h0m7.5 3.3h0m10.4-.2h0m2.6 1.9h0m-16.8 4.9h0m30.6-2.1h0m21.5 1.6h0m7.3 .2h0m11.3-.6h0m-71.2 3.2h0m9.4-.9h0m43.1 2.1h0m7.5-3.2h0m-50.3 5.2h0m6.8-.6h0m23.8-.6h0m12.2 2.5h0m.7 .1h0m-42.1 2.2h0m19.6 1.4h0m6.6 1.1h0m-.2 3.8h0m-9.4 3h0m4-1.6h0m34.8-.2h0m-47.1 4.5h0m13.8-.6h0m4.4 1.1h0m5.2 2.4h0m14.8-2h0m-39.8 4.3h0m18.6 .9h0m1.6 .6h0m.4-3.7h0m.6 3.2h0m19.3-1.1h0m-24.7 2.3h0m8.4 1.5h0m.4-1.2h0m3.3 .2h0m15.3 .8h0m14.2 1.6h0m-37.4 2.6h0m.9 .6h0m12.5-.6h0m4.3-1.7h0m3.3 .1h0m-55.8 5.6h0m19.9 .5h0m4.8-1.2h0m8.6-.5h0m29 2.5h0m.8-2.7h0m-35.1 3.6h0m30.3 2.5h0m-44.4 2.5h0m1.8 1.6h0m.7-1.1h0m25.7-1.1h0m3.5 3.3h0m14.4-.1h0m-23.6 1.5h0m7 2.7h0m16.5-1.4h0m-66.3 2.7h0m10.8-1h0m24.8-.1h0m4.1 1.2h0m7.7-.5h0m8.3 1.1h0m2.6-.2h0m-50.2 3.6h0m44.6 1.3h0m14.6-1.3h0m-26.5 6.3h0m5.4-1.9h0m-13.8 2.9h0" stroke="#cc1a1a" stroke-width="0.55" stroke-linecap="square" opacity="0.6" fill="none"/>
</g><g clip-path="url(#cp3)">
<path d="M508.8 171.2h0m.3-1.1h0m.1 .1h0m.1 .2h0m.3-.4h0m.5 .5h0" stroke="#22c8d8" stroke-width="0.6" stroke-linecap="square" opacity="0.9" fill="none"/>
<path d="M521.7 171.8h0m.4 0h0m.2-.4h0m.2 .3h0m.2 .1h0m.1-.2h0m.2-.1h0m0 1h0" stroke="#2a7ad8" stroke-width="0.6" stroke-linecap="square" opacity="0.9" fill="none"/>
<path d="M484.9 215.3h0m7.8 .2h0m-6.1 4.4h0m.6-.7h0m0 .4h0m.2-.5h0m.2-3h0m.1 3.1h0m.2-1h0m.1 .4h0m.6-1.6h0m0 1.7h0m0 1h0m0-3.2h0m.5 2.2h0m.4 .8h0m.3-2.7h0m.2 .4h0m.3 .7h0m1.1 .5h0m-6.5 4.2h0m0 1.3h0m1.1-2.2h0m1.2 .1h0m.1-1.2h0m.5-.2h0m1.8-.1h0m.4 .1h0m.4 .5h0m.8 3.2h0" stroke="#4060d8" stroke-width="0.55" stroke-linecap="square" opacity="0.7" fill="none"/>
<path d="M536.7 202h0m10.7 1.6h0m-35.1 3.7h0m13.3 .6h0m1.5-.7h0m1.2 .5h0m1.9 .1h0m2.5-.4h0m1.3-2.2h0m1.3-.7h0m7.8-.2h0m1.9 3.5h0m1.6-3.8h0m.1 3.9h0m1.1-2.7h0m1 2.1h0m6.2-1.5h0m-35.4 4.9h0m1.9-.1h0m4.2-1.1h0m3.7 .7h0m.6 1.1h0m.7 .2h0m.2-.3h0m.4 .7h0m.5-2h0m2.1 .2h0m.7 .8h0m.3-.2h0m1.7 .6h0m0-2.2h0m.1 2.3h0m.1-1.5h0m0-1.5h0m1.8 1.7h0m1.3-.8h0m1 .9h0m.5 1h0m.6-.8h0m.1 .6h0m.1-1.2h0m.3 .2h0m.4-2h0m0 2.3h0m.5-.2h0m1.1-.2h0m0-1.5h0m.9 1.6h0m.8-1.4h0m1.6 3.1h0m1.8-1.9h0m.5 1.5h0m.1-.6h0m.7 1.1h0m.9-2.5h0m1.4 2h0m.2 .5h0m5.3-3.3h0m2.8 .6h0m.6 0h0m-43.6 4.3h0m3.4 2.4h0m2-.7h0m.1 .1h0m1.9-2.3h0m1.2 2.7h0m.1-2.3h0m.2 2.6h0m.8-1.7h0m.1-2.1h0m1.2 1.9h0m.1 1.1h0m.7-.1h0m.1-1.4h0m.2 .3h0m.1-.3h0m.2 1h0m.3-.3h0m.2-.9h0m.8-.5h0m.3-.4h0m.3 2.5h0m.3 .7h0m.1-.2h0m.2 .1h0m.4-1.4h0m1.4 .7h0m.1-.6h0m.3-.3h0m0-.2h0m0-.6h0m.1 2.5h0m.3-2h0m.4-.4h0m0-.7h0m.1 1.8h0m0 .5h0m.1-.3h0m.2-1.1h0m0-.5h0m0 2.7h0m0-.3h0m.1-1.3h0m.4-.2h0m.4-1.8h0m.2 3h0m1.2-2h0m.1 2.3h0m.8-2.1h0m.3 .6h0m0-.6h0m.5 .9h0m.5 1.1h0m.5 .1h0m0 .4h0m.3-1.3h0m.1-.3h0m.1-.2h0m0 .2h0m.3 .1h0m0-1.1h0m.2 .6h0m.3-1.6h0m0 2.6h0m.1-1.7h0m.1 1.4h0m0 .8h0m.6-.1h0m.2 .4h0m.2 .1h0m.1-.5h0m.1-.8h0m.5-.3h0m.5 1.4h0m.1 .2h0m.5-1h0m.3 .3h0m.2-1.6h0m.2-.2h0m0 .1h0m.1 .4h0m0 .2h0m.5-1.5h0m.3 2.1h0m0 .7h0m.2-1.2h0m.1 1.3h0m.4-.6h0m.1 1.1h0m.2-1.6h0m.1 1h0m0 .4h0m.6-1h0m.1-1.3h0m.2 2.5h0m0-3.4h0m.6 1.2h0m.1 2.2h0m.4-2.5h0m.4 2.2h0m.2-3.5h0m.1 1.8h0m.4 1.5h0m.5-.2h0m.1-1.2h0m.3 1.9h0m.6-1.7h0m.5 .7h0m.4 .9h0m.4-1h0m.6 .4h0m.9-.8h0m1.2 .1h0m.8-2.4h0m.1 .7h0m.2 3.2h0m.1-1.2h0m.7 .4h0m.7-1.9h0m.2 1.3h0m1.7 .7h0m.6-1.1h0m4.7 .7h0m-50 3.8h0m.4 .2h0m.6-.7h0m.4 .9h0m.6-.4h0m2.1-.9h0m.2 .2h0m.4 2h0m.5-2.7h0m.8 1.2h0m.6 .3h0m.1 .3h0m.2-3h0m.2 .9h0m.2-.4h0m.3 1.1h0m.1 1.1h0m.5-.3h0m.2-2h0m.8 3.2h0m0-3.2h0m.2 2.3h0m.8-.7h0m.1 .5h0m.1 .3h0m1.1-1.1h0m.3 2.1h0m.1-3.4h0m.1 1.5h0m.4 1.3h0m.2-1.4h0m.2 .4h0m0-.9h0m.1 2.4h0m.4-.1h0m.4-1.7h0m.4-.5h0m.2 2.3h0m0 .1h0m.1-.4h0m.1-.7h0m.2-.5h0m.3 .6h0m0-1.1h0m.1 2.2h0m0-1h0m.6 .9h0m.2-.2h0m.1-.1h0m.1-2.7h0m.1 1.4h0m.1-.7h0m.4-1.3h0m0 2.9h0m.4-2.1h0m.5 1.8h0m.1-2h0m.1 1.9h0m.2 1.2h0m.1-2.5h0m.1 1.1h0m0 0h0m.1 .9h0m.3-3.2h0m0-.1h0m.3 1.6h0m.1 2h0m0-2.5h0m.1 1.3h0m.1-1.1h0m.1-.3h0m.3 1.6h0m.2 .5h0m0-3.2h0m.1 0h0m.1 1.2h0m.1 .2h0m.1 1.3h0m.1-1.2h0m0 .8h0m.1-2.3h0m0 1.2h0m.2 .6h0m.6 1.9h0m0-3h0m0 2.6h0m.2-3.1h0m.1 2.1h0m.2 .3h0m.2 .5h0m0 .4h0m.3-2.2h0m.2 .6h0m0 .2h0m.5 1.1h0m.2-2.2h0m.2 1.9h0m0-1.1h0m.5-.2h0m0-1.6h0m0 3.1h0m.1 .4h0m.1-1.4h0m.1 1.5h0m0-.4h0m0-.1h0m.1-1h0m.1 .1h0m.4 .7h0m.1-1.8h0m0 .2h0m.1 2.1h0m.2-3.4h0m.3 1.2h0m0 .5h0m0 .1h0m.2-.7h0m0 2.4h0m.1-.2h0m.3-2.4h0m0 2.8h0m0-.4h0m.3-.5h0m.1-2.4h0m.1 .3h0m.4 1.9h0m0-1h0m.1 1.3h0m0 .6h0m.2 0h0m.1-.7h0m.3 .2h0m.1 .5h0m0-3.3h0m0-.2h0m.1 2.4h0m0-2.3h0m.2 1.8h0m0-1.5h0m.1 2.9h0m.1-1h0m.1-1.5h0m.4 2.9h0m.1-3h0m.2 1.9h0m0-2h0m0 3.1h0m.3-.2h0m.3-2.8h0m0 3.1h0m.2 0h0m.2-1.8h0m.1-1.2h0m.1 1.1h0m0 .3h0m.1-1.9h0m.7 .4h0m0 2h0m.1 1.2h0m0-.5h0m.2-3.2h0m0 0h0m.1 0h0m.1 2.3h0m.3 1h0m.1-1h0m.1 1.4h0m0-3.5h0m0 3.4h0m.1 0h0m.1-3.3h0m.7 .4h0m.1 .8h0m.2 1.1h0m.1-.2h0m.1-.6h0m0 1.6h0m.1-2.7h0m.1 1.4h0m.2-1.9h0m0 2.8h0m0-.2h0m0-.1h0m.2-.5h0m0-1.1h0m0 2.2h0m0-2.9h0m.3 1.5h0m.1 1.5h0m0-.2h0m.1 .4h0m0 .1h0m.5-3.2h0m0-.5h0m.2 1.2h0m.1 1.9h0m.1-1.6h0m.1-1.5h0m.8-.1h0m.8 3.2h0m.6-2.4h0m0 .3h0m.3-.5h0m.1 1.4h0m.3-1.9h0m.5 3.5h0m.4-3.7h0m.1 .1h0m0 1.6h0m.2 1.3h0m.6-1.3h0m.7 .9h0m0-1.1h0m1.2-1.2h0m.2 .8h0m.5 1.4h0m.3 .6h0m0 .6h0m.7-2.9h0m.3 0h0m1.8 2.2h0m.6-2.6h0m1.3 .9h0m.4 .9h0m1.1-.7h0m1.5 .9h0m-50.8 5.5h0m1.5-2.2h0m.8-1.7h0m1.6 2.8h0m.2 .5h0m2.4 .1h0m.5-2.4h0m.1-.9h0m.5 0h0m.7 1.5h0m.1-1.4h0m.2 2.4h0m0-.6h0m.1-.2h0m.2 .5h0m.2-1.5h0m.3 1h0m.2-1.7h0m.2 2.7h0m.1 .8h0m.6-3.3h0m.3 1.6h0m0 1.4h0m.3-2.4h0m.2-.9h0m.4 1.4h0m.1 2h0m.2-.3h0m.2-2h0m0-1.1h0m.1 3.3h0m.3-2.4h0m.1 1.5h0m.1-.7h0m0-1.5h0m.2 .7h0m.5 .2h0m.1 .1h0m.1 1.9h0m.6-.4h0m.4-1.2h0m0 .1h0m.2 2.2h0m0-2.7h0m.1 1.6h0m0 1.1h0m.1-.4h0m0-2.8h0m.1 2.2h0m.1-.1h0m0-1.2h0m.2 2h0m.1-2.8h0m.2-.4h0m0 2h0m.1 1.2h0m.4-.6h0m.1 .6h0m0-3.4h0m.1 2.9h0m0-2.9h0m.1 .3h0m0 1.9h0m0 1.4h0m.1-2.8h0m.2 1.5h0m0-2.1h0m.4 3.1h0m.1-1.3h0m.1-.2h0m.3 .5h0m0-1.8h0m.5 1.6h0m.1-2.1h0m.1 .6h0m.2 .4h0m0 1.8h0m.2-.2h0m.1-1.5h0m.1 .7h0m.1 1.2h0m0 .4h0m.1-.8h0m0 .3h0m0-.1h0m.1-2.9h0m0 .2h0m0 1.4h0m.1 .6h0m.1 1.1h0m.1-1.6h0m0-1.2h0m.1 1.4h0m.1-1.1h0m0 .2h0m0-.8h0m0-.2h0m.1 3.2h0m.1-1.3h0m.1 .3h0m.1-1.4h0m0 0h0m.1 1.9h0m.1-.5h0m0 .6h0m.2 .5h0m.1-.6h0m0 .9h0m0-.7h0m.1-.3h0m0 .3h0m.1-.1h0m0 .1h0m0-1.9h0m0 1.9h0m.1 1h0m.1-.6h0m0-.6h0m0-2.4h0m.1 1.7h0m0 1.4h0m.1-3.3h0m0 .4h0m0-.4h0m0 2.6h0m.1-2.7h0m0 3.2h0m0 .3h0m0-3.1h0m.3 0h0m0-.4h0m0 3.5h0m.2-1.6h0m.1 0h0m.2 .8h0m.1 1h0m.1-1.9h0m0 1.6h0m0-2.2h0m0 1.2h0m0-1h0m.2 1.9h0m0 .2h0m0-3.1h0m0 3.5h0m.1-2.9h0m0 .2h0m0 .6h0m.1-.6h0m.2 1.8h0m.1-.7h0m0-1.8h0m.1-.5h0m.1 1.4h0m0 1.2h0m.1 1.3h0m.2-1.4h0m.1-1.9h0m.1 1.4h0m.1-.9h0m.1 1.3h0m0-.4h0m0 1.5h0m.1-2.8h0m.1 .2h0m0-.2h0m.2 3.1h0m.1-.3h0m0-1.9h0m.1-.7h0m.1 .3h0m.1-.1h0m.1 2.5h0m.1-2.8h0m.1 2.4h0m0-1.7h0m0 2h0m.1-1.3h0m.1 .3h0m0-1.9h0m.1 1.1h0m.1 1.5h0m.1-.5h0m0 1.1h0m0-2.7h0m0 2.7h0m.2-.4h0m0 .1h0m.1-2.6h0m0 2.9h0m0-.8h0m.1-.5h0m.1-.1h0m0-.3h0m.1 .4h0m0 1.3h0m.1-.6h0m.2-1.9h0m.1 1.7h0m0 .4h0m0-2.9h0m.1 3h0m0-2.8h0m.1 1h0m0 .4h0m.1 1.8h0m0-.9h0m0-3h0m0 .7h0m0 2.3h0m.1-1.1h0m.1 .7h0m0 .1h0m0 .5h0m0-.2h0m0 .8h0m.1-.5h0m.3-.6h0m.2-1.2h0m0 1.8h0m0-.5h0m0-.6h0m0-1.1h0m.1 2.1h0m0-1.6h0m0-1.2h0m.1 2.8h0m.1-2.4h0m0 3.1h0m.1-2h0m0-.4h0m.1 .5h0m0 .7h0m.1 1.1h0m0-1.1h0m.1-1.2h0m0 1.9h0m.1-1.8h0m.1 .2h0m0-1.2h0m0 2.3h0m0-.5h0m.6 1.4h0m.1-1.4h0m.1 1.4h0m.1 0h0m0-2.2h0m.1 1.7h0m.1-.6h0m.1-1.6h0m.1 .3h0m.1-1.4h0m0 2.9h0m.1-2.1h0m.2 2.4h0m0-.1h0m0-3h0m.1 2.8h0m0 .3h0m.1 0h0m.1-.9h0m.1 0h0m0-1.8h0m.1 2.1h0m.2-1.3h0m.1 2h0m0-1.5h0m0 2h0m.2-.2h0m0-2.3h0m0 1.3h0m.1-1.7h0m0-.1h0m.2-.6h0m.1-.1h0m0 3.5h0m0-1.9h0m.1 1.2h0m.2-1.4h0m.1-1.1h0m0 2.9h0m.2 .1h0m.1-1.6h0m0 1.5h0m.1-1.4h0m0 1.8h0m0-2.2h0m.1 .3h0m.1-.7h0m.1 .5h0m0 1.2h0m.2 1h0m0-.2h0m.1-.3h0m.1-2.3h0m0 .5h0m.1-.3h0m0 2.1h0m.2-2.9h0m0 2.7h0m.1 .5h0m.2-.9h0m0-2.6h0m0 .4h0m0 2.3h0m.2-.1h0m.1-1.9h0m.1 .8h0m.2 1.6h0m0-2.5h0m0 1.5h0m.2-1.8h0m0 1.8h0m.1-2h0m0 3h0m.3-1h0m.2 .9h0m.2-.1h0m.1 0h0m.1-1h0m.1-.6h0m.1-.6h0m.1-.1h0m.1 .3h0m0 1.3h0m0-.5h0m.1 .4h0m0-.8h0m0 2.2h0m.2-.5h0m.1-1.7h0m.1 .5h0m0 1.6h0m.2 .2h0m.1-2.8h0m.1-.6h0m.1 2.1h0m.3-1.1h0m.1 1.4h0m.1-1.4h0m.2 1.2h0m.1 .2h0m0-1h0m.1 .8h0m0-2.1h0m.1 2.5h0m.3 .5h0m0-2.8h0m.1 2.1h0m0-1h0m.1-1.3h0m.1 .2h0m0 3.1h0m0-2.3h0m.9-.1h0m0 .3h0m.1 1.6h0m0-.8h0m.1-2.2h0m.2 3.4h0m0 .1h0m0-.8h0m.1-.6h0m.3 1.2h0m.2 0h0m.1-2.9h0m0 3.1h0m.1-1.3h0m0-.7h0m.3 0h0m.2-1.1h0m.1 .1h0m.1 1.6h0m.2 1.1h0m.4-2h0m.4-1.1h0m.3 3.6h0m.4-1.6h0m.1 1.6h0m.2-.8h0m1 .2h0m.5-1.9h0m0 2.1h0m.5-2.8h0m0 1.8h0m.2-1.9h0m.4 1h0m.2-.2h0m.2-.1h0m.9 .3h0m.3 2.2h0m.1-.1h0m0-1.9h0m.3-.1h0m.6 2.1h0m1.4-1.4h0m0 1.2h0m3.9-2.4h0m.2 1.6h0m-59.8 3.9h0m4.7-.4h0m1.2-.4h0m.6-.4h0m1.2-.9h0m0 1.4h0m1.3-1.6h0m.5 3.2h0m.2-1.4h0m.1-1.5h0m.2 1.5h0m.4-.3h0m2.4-1.2h0m.3 .9h0m0-.4h0m.6 .8h0m.2-1.1h0m.1 3h0m.9-2.9h0m.1 .8h0m.7 1.9h0m.3-.7h0m.1-2.7h0m0 .5h0m.2 .4h0m0-.5h0m.5 .3h0m0-.3h0m.4-.3h0m.1 2.4h0m0-2.6h0m.1 3h0m.1-2.8h0m.2 1.7h0m0 .4h0m.5-.2h0m.1-1.3h0m0 2.6h0m0-.7h0m.1-.3h0m.1-.6h0m0-.5h0m.3-.7h0m.1-.2h0m.1-.6h0m.1 3.5h0m.1-2.2h0m.4 1.1h0m0 .2h0m.3-.3h0m.1-1.6h0m.2 2.3h0m0-.7h0m0 0h0m.1 .5h0m0-2.1h0m.1 2.4h0m0-1.4h0m.1 1.8h0m0-2.4h0m0-1h0m.1 1.3h0m0-1.3h0m0 3.8h0m.1-1h0m0-.9h0m.1-.9h0m.1 .2h0m.1 1.7h0m0 0h0m.2-2.3h0m0 1.2h0m.1-.5h0m.1 1.5h0m.1-2h0m0 1.7h0m.1 .7h0m0-2.3h0m.1 .2h0m0 1.9h0m0-1.1h0m.1-.7h0m0-.4h0m0 2.6h0m.1-.5h0m0 .1h0m0 .1h0m.1-2.4h0m0 .8h0m.1 0h0m.1-.7h0m0-.8h0m0 2.6h0m0-1h0m.2 .8h0m0-2h0m.1-.2h0m0 0h0m0 3.3h0m.2-1.5h0m0 .7h0m.2-.2h0m.1-.9h0m0 2.1h0m.4-2.2h0m0 .7h0m0-.6h0m0-1.2h0m0 1.7h0m.1 .4h0m0-2.4h0m.2 2h0m0 1.7h0m.1-2.5h0m.1 1.2h0m0 1.1h0m.1-3.6h0m.1 1.7h0m.2 2h0m.1-1.6h0m0-1h0m.1 1.8h0m.2-.6h0m0 .1h0m.2 0h0m.1-.6h0m.1-.3h0m.1-1.4h0m0 2.6h0m.2-.1h0m.1-2.5h0m.1 .9h0m0 2.2h0m.1-1.8h0m.1-.3h0m.1 2.6h0m0-3.3h0m0 .9h0m0-.1h0m0 1.5h0m.1-2.6h0m0 2.7h0m.1-2h0m.3-.2h0m.1 1.3h0m.1 1.7h0m0-.4h0m.1-.6h0m.1-2.1h0m0 2.2h0m.1-1.3h0m.1 .7h0m0-.8h0m0 2.3h0m.1-.9h0m.2 1.1h0m.1-3.7h0m.1 2.5h0m0-1h0m0 1.4h0m.1-2h0m.2 1.3h0m.1 .7h0m0-2.4h0m.1 2.8h0m0-2.7h0m.1 1.8h0m0-2.1h0m0 3.2h0m0-3.1h0m.1 .6h0m.1 2h0m.1-1.4h0m0-1.1h0m.1 1.5h0m0-1.4h0m0 .6h0m.1 1.7h0m0 .6h0m0-.7h0m.1 .6h0m.1-.4h0m0-.4h0m0 .5h0m0-1.9h0m.1-.1h0m0 1.4h0m.1-.7h0m0 1.3h0m0-2.9h0m0 2.9h0m0-.9h0m.1 .5h0m0-.8h0m0 1.2h0m.1-.2h0m0-2.3h0m.2 .1h0m0 2.4h0m.1-3.1h0m.2 .5h0m0 .1h0m.1-.8h0m0 1.1h0m.3 .7h0m0-.7h0m0 1.3h0m.1-2.2h0m.3 1.9h0m0-.2h0m0-.5h0m.2 .4h0m.1-1.2h0m0 2.6h0m.1-1h0m0-2.2h0m0 0h0m.1 3.1h0m0 .3h0m.1-.4h0m.1-.2h0m0-1.4h0m0 .5h0m.2 1.6h0m0-.3h0m.1-3.2h0m0 2.2h0m0-1.8h0m.2 2.6h0m0-1.2h0m0 1.4h0m.1-1.4h0m0 1.1h0m.1 .1h0m0-.5h0m0 .9h0m.1-3.3h0m.1 3.7h0m0 0h0m0 0h0m0-.8h0m.1-.9h0m0-1.2h0m0 2.4h0m.1-1.4h0m0-1.6h0m.1 2.6h0m0-.9h0m0-1h0m0 1.9h0m0-.6h0m.1 1.1h0m.1-2h0m0-.6h0m.1 2.7h0m.2-2.5h0m.2 .7h0m0-1.4h0m.2 1.8h0m0 1.1h0m.3-2h0m0 1.8h0m.1-.1h0m0-1.8h0m0 1.7h0m.1-.9h0m.1-1.8h0m0 .6h0m0-.7h0m.1 3.1h0m.1-2.6h0m0 1.3h0m0-.4h0m.3 .4h0m.2 1.2h0m0-1.5h0m.2 .8h0m0-.8h0m0-.5h0m.1 .9h0m0-.1h0m.1 1.4h0m0 .7h0m.2-.8h0m0-1.8h0m0 .2h0m.1 1.5h0m0-2.3h0m0 2.7h0m.1-3.4h0m.1 .4h0m0 .6h0m.1-.1h0m0 .8h0m.2 2.1h0m0-3.8h0m.1 1.6h0m0-.9h0m0 .2h0m0 .7h0m.1-.2h0m0 .8h0m.1-.9h0m0 .9h0m0 0h0m.1-1.5h0m.1 2.8h0m0-1.7h0m.1 .5h0m.1-1.9h0m.1 3.1h0m0-2.5h0m0 2.2h0m.2 .5h0m0-1.4h0m.3-2.3h0m0 1.8h0m0-1.2h0m.1 .5h0m0 0h0m0-1.1h0m.2 2.8h0m.1 1.1h0m.1-.5h0m0-2.8h0m0 .6h0m.1 .4h0m0 1.8h0m.1-1.8h0m.1 2.2h0m.2-3.6h0m.2 .6h0m.1 2h0m.1 .9h0m0-.6h0m.1-1.1h0m0 1.8h0m.1-.4h0m0-.2h0m.1 .2h0m0-2.2h0m0 1.4h0m0 .6h0m.1-2.5h0m0 1.9h0m0 .1h0m.1 1.2h0m0-2h0m.1 1h0m0-2.7h0m.1 2.6h0m.1-1.1h0m.2 1.1h0m.1-1h0m.1 .4h0m0-1.6h0m0-.6h0m.2 .3h0m.1 .3h0m.1 2.5h0m0 .4h0m.2-1.8h0m.1 2h0m.2-.1h0m.1 .1h0m.2-1.1h0m.1 1.3h0m.1-1.5h0m.2-2.2h0m0 .5h0m0 2.7h0m.1 .2h0m0-1.2h0m.3 .7h0m.1-2.9h0m.5 1.5h0m.1 2h0m0-.1h0m.2-2.2h0m0 2.3h0m.2-3.6h0m0 1.8h0m.2-1.9h0m0 .2h0m.1 2h0m0 .5h0m.5-1.1h0m0 .1h0m0 .8h0m.1-.6h0m.1 1.7h0m.2-1h0m.1-1.8h0m.1-.5h0m0 2.9h0m.1 0h0m.1-.2h0m0-2.4h0m.2-.4h0m.4 2.6h0m.1 .9h0m.1 .1h0m0-2.5h0m.1-.5h0m.1 1.6h0m.2-.3h0m.4 1.3h0m.2-.8h0m0 .2h0m.1 0h0m.3-.4h0m.1 1.4h0m0-.5h0m.2-1.2h0m0 1h0m.1-.4h0m.2-1.5h0m.3 1.3h0m.1-.8h0m.1-.9h0m.1 .1h0m.2-.4h0m.4 1.7h0m0-1.8h0m.1 2.8h0m.2-.7h0m.7 1.1h0m.9-1.3h0m0-2.2h0m.1 3.7h0m.1-3.4h0m.3-.4h0m.1 1.2h0m0 1h0m.4 1h0m.7-.9h0m.1 .1h0m.3-1h0m1 1.9h0m.1-1h0m0-.7h0m1.5 2.2h0m.3-1.6h0m.5-1.6h0m.2 .9h0m0 .6h0m.6 0h0m.1 .6h0m1.7-2.3h0m-55.6 5.4h0m7.8 .3h0m1.3-1.9h0m1.3 2.9h0m0-.6h0m.8 .3h0m.3-.1h0m.7-2.5h0m.1 1.3h0m.7 2.2h0m.3-1.2h0m.2-2.1h0m0 1.6h0m.4-1.4h0m.2 3.3h0m.1-3.6h0m.3 .3h0m0 2.9h0m0-1.6h0m.2 0h0m.1 0h0m.1 .6h0m.3-2.4h0m.3 1.5h0m.2 1.9h0m.5-1.3h0m.1-.9h0m.2 .4h0m.4-1.1h0m.2 .2h0m0 2.7h0m.1 .4h0m.2-1.2h0m0-.9h0m.2 1.2h0m.1-.5h0m.2-.8h0m.2 .3h0m.1-1.8h0m.1 1.2h0m.1-1.1h0m.1 3.1h0m0-1.6h0m.1 .7h0m.3-1.5h0m0 2.3h0m0-2.3h0m.1-.4h0m0 1h0m0-.5h0m.1-.4h0m0 .4h0m.1-.8h0m.1 0h0m.1 .3h0m.4 2.4h0m.1-.3h0m0-1h0m.2-.5h0m0-.6h0m0 .5h0m0 2h0m.1-1.5h0m0-1.3h0m.1 2.9h0m.1 .4h0m.4-1.9h0m.2-.7h0m0 2.4h0m.1-.2h0m.2-2.5h0m0-.4h0m0 .1h0m.1 2h0m0 1h0m0-1.5h0m.2-.5h0m.1-1.1h0m0 2.4h0m0 1.1h0m.2-2.4h0m0 .3h0m0 .1h0m0-.8h0m.1-.1h0m0 1.5h0m.1-.9h0m0 .9h0m0-1.7h0m0 1.8h0m.3-1.7h0m0-.1h0m.1 3h0m0-1.4h0m.1 1.1h0m.2-.2h0m0-.9h0m.1-.7h0m.1 .1h0m0 .2h0m.1-1.8h0m.1-.1h0m0 1.4h0m.1-.3h0m.1 .5h0m0-.3h0m0 1.3h0m.1-2h0m.1 0h0m0 2.9h0m0 .1h0m0-3.4h0m0 .5h0m.1-.3h0m.1 .4h0m0 1.7h0m0-1.5h0m.1 2.4h0m0-.1h0m0-.5h0m.1 .5h0m.1-2.9h0m0 .3h0m.1 1.6h0m0 .3h0m0 .5h0m0-2.5h0m0 1.6h0m.1 .2h0m0-1.1h0m0-1h0m0 .3h0m.1 2.4h0m.1 .5h0m0 .4h0m.1-2.7h0m.1-1.1h0m.1 1.3h0m.2-1.2h0m0 3.3h0m.1-2.8h0m0 1.9h0m0-2h0m.1 1h0m0 .4h0m0 1h0m.1-2.1h0m0 2.3h0m.1 .3h0m.1-3.3h0m0 1h0m.1-.6h0m0 2.4h0m0-2.9h0m0 .4h0m0 .2h0m0-.5h0m.1 2h0m.1-.2h0m0-.3h0m.1 .1h0m0 1.9h0m.1-2.4h0m0-.3h0m0 .4h0m.2 2.1h0m0-.2h0m.1 .4h0m0 0h0m0-1h0m0 .2h0m.1-1.7h0m.2 2h0m0-2.1h0m.1 .4h0m.1 .6h0m0-.9h0m.1 2.1h0m.1 0h0m0-1.7h0m0 .3h0m.1-.5h0m.1 .5h0m.1 .8h0m0-1.5h0m0 1.4h0m0-2.1h0m.1 .8h0m.1 2.6h0m0-1h0m0-2.7h0m.1 1.8h0m0 .6h0m0-2.5h0m.1 1.1h0m0 2.7h0m.1-.4h0m0-.8h0m.1 1h0m.1-1.4h0m0 1.5h0m0-2h0m0-.3h0m.1 .1h0m0 1.8h0m.1 .1h0m0 0h0m.1 .1h0m0-.7h0m0 .8h0m0-1.3h0m.1-.8h0m.1 .4h0m0 .6h0m0-2.5h0m0 3.4h0m0-2.9h0m.2 .4h0m.1-.6h0m.1-.3h0m.2 0h0m.1 1.3h0m.1 1h0m0-.2h0m.1-2.1h0m0 2.1h0m.1 .8h0m0-1.4h0m.1 1.9h0m0 0h0m0-2.7h0m.1-.4h0m0 3.5h0m0-1.7h0m.1 1.3h0m.1-1.8h0m0-1.1h0m0-.3h0m0 2.5h0m0-.3h0m0-.7h0m.1 .8h0m0 .9h0m.1-.3h0m0-2.2h0m0-.1h0m.2-.4h0m.1 2h0m0-.4h0m0 .9h0m0-.5h0m.1 1.1h0m0-1.1h0m0-.1h0m.1-1.5h0m0 .8h0m0-1.5h0m0-.2h0m.1 3.8h0m0-1.6h0m0-.6h0m0 1.5h0m.1-2.2h0m.1 1.1h0m0-1.6h0m0 2.9h0m.1-2.4h0m0 .8h0m0 .5h0m.1-2.2h0m0 3.7h0m0-1.1h0m0-1.8h0m0 2.4h0m0-1.7h0m.2-.7h0m0 0h0m.1 .2h0m.1-.5h0m.1-.3h0m.1 3.2h0m.2-2.2h0m.2 1.3h0m.1-1.3h0m0 1.5h0m.1-2h0m0-.6h0m0 .5h0m.1 3.3h0m.1-1.3h0m.1-2.6h0m.1 1.3h0m0-.4h0m0 .4h0m.2 1.9h0m0-1.1h0m0-1.4h0m0 2.6h0m.1 .4h0m0-1.7h0m.1 .9h0m0-1.4h0m0 1.8h0m0-.4h0m0-1h0m.1-1.9h0m.1 .9h0m0 .4h0m.2-1h0m0 1.4h0m0-1.3h0m.1 2.9h0m.1-.5h0m0-1.2h0m.1 .5h0m0 .6h0m.1-.7h0m.1-1.7h0m0 1.8h0m.1-.2h0m0-.7h0m0 1.6h0m0-2.5h0m0 0h0m.1 2.1h0m.1 .6h0m0-1.2h0m.1 1.7h0m.1-1h0m0-.1h0m.1-1h0m0-.1h0m.1-.7h0m.1 1.6h0m0 .6h0m.2-1h0m0 .2h0m0 .5h0m0 .8h0m0-2.2h0m.2 2.4h0m0 0h0m0-2.1h0m.1 2.3h0m.1-.7h0m.1-2.4h0m.2 .2h0m.1 .6h0m.1-.5h0m0-.8h0m0 2.5h0m0 .8h0m.1 .5h0m0-3.2h0m0 1.1h0m0 .6h0m.1 1.3h0m0 .2h0m0-1.7h0m0-1.8h0m.2 2.5h0m0-1.4h0m0-.6h0m0-.5h0m.1 .4h0m0 .3h0m.1 2h0m.1 .6h0m0-2.3h0m0-.3h0m.2 2.3h0m0-.3h0m0-2.8h0m.3 2.1h0m.2-2.3h0m0 1.3h0m0-.9h0m.1 .9h0m.1 2h0m.2-2.6h0m.1 2.1h0m0-1h0m0 .4h0m0-1.8h0m.2 1.3h0m.1-.7h0m0 1.9h0m0-.4h0m.2-1.4h0m.1-.3h0m.2-.7h0m0 3h0m.1 .1h0m0-1.5h0m0-1.6h0m.1 1.1h0m.1-.1h0m.1-1.2h0m.1 .9h0m0 .5h0m.1 .7h0m.1 .8h0m.1-2.7h0m.1 2.1h0m0 .9h0m0 .7h0m.1-2.4h0m.1-.7h0m.4 .3h0m.4 1.7h0m0-2h0m0 1h0m.1 .7h0m.1-1.6h0m.4 2.2h0m.1-1h0m0 .9h0m.1-.1h0m.1-2.6h0m.1 3h0m.2-3h0m.1 1.5h0m.1 1.7h0m0-1.9h0m.4-.1h0m.3-1.5h0m.1 1.6h0m.2 .1h0m.1-1.3h0m.1 2.4h0m0-2.3h0m.2 2.4h0m.1-.8h0m.1-1.1h0m.2 1.9h0m0 .1h0m.4 .9h0m.7-3.9h0m0 3.6h0m.5-2.6h0m.4 2h0m.3 .8h0m.2-1.8h0m.2-.1h0m.2 .5h0m.1 .4h0m.1-2.8h0m0 1.8h0m.5 1.3h0m.5-2.9h0m.5 2.6h0m.5 .5h0m.2-2.5h0m.6 .6h0m.2 1.2h0m.6-2h0m1 0h0m.4-.5h0m.4 3.1h0m.8-.3h0m.2-2.2h0m2.9 2.5h0m-60.5 2.5h0m8.9 1.3h0m2.8-.1h0m1.3-.8h0m.4-.1h0m.3-1.3h0m1 .1h0m.2-.2h0m1 2.9h0m.1 .1h0m.2-.8h0m.1-2.2h0m0 2.3h0m.4-.7h0m.1 .5h0m.4-2.4h0m0 0h0m.1 0h0m.1 1.3h0m.2-.3h0m.1 0h0m.2 1.8h0m.4-2.9h0m.3 1.4h0m.2 1.8h0m.2-1.2h0m.2 1h0m.3-3h0m.3 3.4h0m0-1.2h0m0-2h0m.6 2.5h0m.2-.6h0m0 .3h0m.3-.3h0m.5-1h0m0-.5h0m.1 1.1h0m.3-.6h0m0 .9h0m.2 1.4h0m.2 .2h0m0-3.1h0m.1 .4h0m.1-.5h0m.3 3.1h0m0-2.8h0m0-.6h0m.2 .8h0m.1-.1h0m.2 1.9h0m0-1.1h0m.1 .2h0m.5 .8h0m.3-1.6h0m.1 2.2h0m.2-1.6h0m.3 1.2h0m0-1.4h0m.4 1.5h0m.1-3.1h0m0 3.6h0m.2-.2h0m.1-3.4h0m0 1.4h0m.1 2.2h0m.1-2.9h0m0 .8h0m.2-.1h0m0 2.4h0m.1-2.8h0m.2-.3h0m.2-.1h0m.1-.6h0m.2 3.1h0m.1-2h0m.1 1.7h0m.1-.5h0m.2-1.7h0m0 .5h0m.2-.3h0m.1 1.1h0m.1-1.9h0m.2 .3h0m.1 .2h0m.2 2.9h0m0 .5h0m0-2.2h0m.3 1.6h0m0-.6h0m0-1.5h0m.1 2h0m0-1.2h0m0 .4h0m0 1.4h0m.1-3h0m.1 2.8h0m0-3.3h0m0-.2h0m.3 1.2h0m.3-.4h0m0 .7h0m.3 2.2h0m.1-2.9h0m.1 1.1h0m0 1.2h0m.1-2.6h0m.1 .1h0m.1 3.2h0m0-3.9h0m0 3.2h0m.1-2.9h0m.1 3.5h0m.1-.8h0m0 .7h0m0-3h0m0 1.2h0m.1 1.2h0m.3-.1h0m.1-.9h0m0-1.6h0m0 .2h0m0 .1h0m0 1.3h0m.1-1.4h0m0 2.6h0m.1 .5h0m0-1.2h0m0-1h0m.1 1.6h0m.1-.5h0m.1 0h0m0-2h0m.1 1h0m.1-1.7h0m.1 .5h0m0 1.4h0m0-.6h0m.1 0h0m0 .2h0m0 .9h0m.1-1.2h0m.2-.3h0m0-.5h0m.1-.3h0m.1 .8h0m0 1.5h0m.1-1.5h0m0-.3h0m.1 .1h0m0 1.6h0m.5-2.2h0m.1 2.2h0m0-1.8h0m.1 .9h0m.1-1.1h0m.2 1.6h0m.1 .8h0m0 .2h0m0 .4h0m0-2.5h0m0 2.3h0m.3-2h0m.1 2.8h0m.1-3.9h0m.1 2h0m.1-.9h0m0 1.8h0m.1-1.1h0m.1-1.3h0m0 .5h0m.1 .8h0m0 0h0m0-1.2h0m0 1.4h0m.1 1.6h0m0-.5h0m.1-.2h0m0-.8h0m0-1.5h0m.1 .4h0m.1 .6h0m0 .4h0m.1 1.5h0m0-2.6h0m0 2.9h0m0-2.1h0m0-.1h0m.3-.8h0m0 1.3h0m0-2h0m0 .6h0m0 1.9h0m.1 .7h0m0-2.6h0m0-.4h0m.1 2.5h0m0-2.7h0m0 1.1h0m.1 .1h0m0-1.2h0m.1 .3h0m.1 1.3h0m0-.9h0m0 1h0m.1 .9h0m.2-.5h0m.1-2.1h0m0 .1h0m.1 2.3h0m0 .2h0m.1 .3h0m.1-1.2h0m0-1.2h0m.1 3.2h0m0-2.4h0m.2 2.5h0m0-2.5h0m0-1.4h0m.1 3.6h0m.1-2.4h0m0-.4h0m.1 1.7h0m0 0h0m.3-.1h0m.1-1.1h0m.1-1h0m0 .3h0m.2-.3h0m0 3.4h0m.3-1.3h0m0-1.6h0m.1-.6h0m0 3.7h0m0-.4h0m0-.3h0m.1-2.6h0m0 .4h0m.1 .9h0m.2-.3h0m0 1.4h0m.2-.2h0m.1 .8h0m.1-.1h0m0-2.1h0m0-.2h0m0 1.4h0m.1 .2h0m.1 .5h0m0-2.3h0m.1 1h0m.1 1.3h0m.1 0h0m.1-2.2h0m0 2.2h0m.1-2.2h0m0-.5h0m0 1.7h0m.1-1.2h0m.1 .8h0m.2-1.3h0m0 2.9h0m0-.2h0m.1-2.8h0m0 2h0m.1-.8h0m.2-1.5h0m0 .3h0m.2 1h0m0 2.3h0m.6-3.7h0m.1 0h0m0 .2h0m.1 2.5h0m.1-.4h0m.1-.7h0m.1 .7h0m0-2.3h0m.1 2.4h0m0-.9h0m0-1.3h0m.1 2h0m.1-.3h0m0 1.7h0m0-3.7h0m.1 3.6h0m0-1.9h0m0-1.1h0m0-.1h0m0 2.8h0m0-2.4h0m.1 .7h0m.1 2.1h0m.1-1.4h0m0-1.6h0m.1 2.6h0m.1-1.3h0m0-1.8h0m.1 .9h0m0 1.4h0m.1 0h0m.2 .9h0m.1-3h0m0 .7h0m.2 .1h0m0 .6h0m.1-1.8h0m.1 .3h0m0 2.3h0m.2-2.1h0m0 2.2h0m.2-.6h0m.1 1.4h0m0-2.4h0m.5-1h0m0 3.2h0m0 .4h0m.2-1.8h0m0 .9h0m0-1.5h0m.2-1.2h0m0 1.2h0m.1 0h0m.1 1.9h0m.2-1h0m0 1.3h0m0-.9h0m.1-2.1h0m.1 1.3h0m0-1h0m.1 1.9h0m0-.3h0m.2 .4h0m.2 .8h0m0-1.8h0m.1 .7h0m0 0h0m.2-.3h0m.2 .2h0m.2 1.3h0m.2-2.4h0m.2 1h0m0-1h0m0 2.3h0m0-1.9h0m.2 .9h0m.3-2.3h0m.1 3h0m.1 .1h0m.3-2.1h0m.3 1h0m0 1.4h0m.3-2h0m.2 1.3h0m0-2.6h0m.4 1.9h0m.1 .7h0m.1 .4h0m.4-1.3h0m.2-1.6h0m0 2.2h0m.1 .3h0m.1 .9h0m0-1.6h0m1.2-.4h0m0 .4h0m.3-2.1h0m1.7 2.4h0m.4-1.6h0m2-.5h0m.1-.5h0m1.3 3.4h0m.3-1.9h0m.2 1h0m.8 .1h0m2.1-.3h0m.5 .3h0m1.5-1.2h0m1.3 .6h0m-57.3 2.6h0m.5 .3h0m2.2 .1h0m1.6 .5h0m.2 2.2h0m0-.3h0m1.3-.8h0m2.3-2h0m.3 .9h0m0-.4h0m1.3 1.4h0m.5-1.6h0m.3 2.5h0m.4-2.3h0m.2 .6h0m1.2 1.6h0m.1-3.1h0m.2 2.6h0m0-.9h0m.4-.6h0m.2 .9h0m.3 .6h0m.1 .8h0m0-3.6h0m.3 3.6h0m0-3h0m.6 2.5h0m.1-2.1h0m.3 2.3h0m0-1.9h0m.3-1.2h0m.2 2.6h0m.1-.3h0m.4-1.7h0m.1 2.5h0m.2-.1h0m.3-.2h0m0-1.9h0m.2 .7h0m0-.5h0m.7-1.3h0m.2 1.7h0m0 1.1h0m.1-1.6h0m1.1-.1h0m.2 1.9h0m.1-.8h0m.6-2h0m.2 .3h0m0-.3h0m.1 .6h0m0 1.8h0m.3 .2h0m.2-2.6h0m.3 3.4h0m.5-1.3h0m.2 1.3h0m.1-3.6h0m0 .5h0m.1 .9h0m.3 .6h0m0-1h0m.2-.3h0m0 1.1h0m.1 .3h0m.3-1.3h0m0 2.5h0m.3-1.3h0m.1 .2h0m0 1.7h0m0-2.9h0m.1 1.4h0m.1-.8h0m.1-.1h0m.2-.7h0m0 1.5h0m0 .7h0m0-.6h0m.2-1.5h0m.2 2.5h0m.1-1.8h0m0 1.5h0m.1-1.6h0m0 2.3h0m.1-.8h0m.1-2.9h0m.1 .8h0m.3-.7h0m0 1.2h0m.3-.9h0m.3 2.1h0m0-1h0m0 .3h0m.1-1.6h0m0 3.5h0m.2-1.5h0m.1-1.7h0m.2 .4h0m.1-1h0m.3 2.9h0m0-2.3h0m.1 1.4h0m0-.5h0m0 1.2h0m.1 0h0m.2 .5h0m0 .4h0m.1-1.7h0m0 .5h0m.3-.8h0m.1-1.6h0m.1 3.7h0m.2-.2h0m0-2.9h0m0-.6h0m.1 3h0m.4-3h0m.1 .8h0m0-.8h0m0 3h0m0-2.7h0m.2 2.3h0m0-1.3h0m.1 2.4h0m0-.3h0m.1-1.2h0m.1-2h0m0 .7h0m0 .7h0m0 2.2h0m.1-2.9h0m.3 1h0m.1-.3h0m.1 2.3h0m0-3.4h0m.1 3.1h0m0-1.4h0m.1-1.5h0m0 .5h0m0 1.2h0m.1-.3h0m.1-.9h0m.2 1.4h0m0-.6h0m.1-.8h0m.1 .9h0m0-1.1h0m.1-.1h0m.2 1.9h0m.1-1.7h0m0 .1h0m.1 1h0m0 1h0m.2-2.3h0m.2 .4h0m0 .7h0m.1-1.4h0m.1 2.8h0m.1-.1h0m0-.6h0m.1-1.9h0m0-.8h0m.1 .3h0m.1 0h0m.1 2.1h0m.1-2.2h0m.1 .4h0m0-.6h0m0 1.6h0m.3-.6h0m0 1.1h0m.1-.3h0m0-1.8h0m0 1.3h0m0-1h0m.1 1.5h0m0-.9h0m.2-.6h0m0 3.5h0m.3-.7h0m.1-1.5h0m.3-.2h0m.4 .7h0m.2 .7h0m.3-.7h0m.2-1.3h0m.1 .5h0m0-.1h0m.1-1.1h0m0 0h0m.1 3.4h0m0-.5h0m0 .4h0m0-3.3h0m0 1.5h0m.6 1.4h0m.1-1.5h0m.2-.7h0m0 1.4h0m.2-.8h0m.5 2.1h0m.3-1h0m.3-1.7h0m.1-.3h0m.1-.4h0m.1 .5h0m0 1.6h0m.1-.1h0m0 1.1h0m.1 .2h0m0 .1h0m0-2.9h0m.2 1.5h0m0 .2h0m.3 .1h0m.1 0h0m.5 .2h0m.2-2.4h0m0 .8h0m0 1.4h0m1.4-1.1h0m.1-.9h0m0-.4h0m.2 .5h0m.2 2.3h0m.5-.8h0m.3 1.8h0m0-1.1h0m.7-2.6h0m.4 3.1h0m0-2.6h0m.7 .6h0m.2 .7h0m.1-1h0m.5 .7h0m.3-.7h0m.2 .8h0m.2 1h0m.8-2.2h0m.1 .8h0m.8 1.9h0m.2-2.3h0m1.2-.5h0m.3 3.4h0m.6-2.1h0m1.3 1.7h0m1.9-.7h0m1.1 1.1h0m.4-1.8h0m.4 .5h0m-40.3 3.4h0m.6-1.9h0m.1 .1h0m.6 .8h0m.3-.7h0m.1 3h0m.5-1.4h0m.2-.7h0m1.9-.7h0m.2 .4h0m.1 1.3h0m.3-1.4h0m.5 .7h0m.1-1.4h0m.5 1.5h0m.5-1.1h0m.2 .1h0m.2-.5h0m.2 .5h0m0 .2h0m.2-.7h0m0 1h0m.4 2.9h0m.2-.2h0m.5 0h0m.1-1.1h0m0 .2h0m.6-.1h0m0 .3h0m.7-2.5h0m.2 1h0m.7 2.2h0m.1-2.2h0m.1-.5h0m.4 2.4h0m.1-2.2h0m.2-1.1h0m.2 3.7h0m.2-3.6h0m.1 2.3h0m.2-.9h0m.4 1.8h0m.2-1.6h0m.2 .4h0m1.5 1.6h0m.1-2.3h0m.2-.7h0m.1 .5h0m.3-.4h0m.2 1h0m.4-.9h0m.2-.6h0m.2-.4h0m.1 3.2h0m0-.7h0m.3-1.4h0m.3 .6h0m.2-1.1h0m0 1.4h0m.1 1.5h0m.1-1.4h0m.5-1.2h0m.3 1.9h0m.2 .4h0m.1-2.7h0m.3 2.1h0m.4-.7h0m.6 .4h0m.1-2.2h0m.4 .9h0m.2 .3h0m.4 1.6h0m0-1.9h0m.2 .7h0m.5-.1h0m.1-.4h0m1.7-.9h0m.1 2.6h0m.2-2.4h0m.4 .4h0m1.7 1.8h0m.3-2.5h0m.3 0h0m.4 1.4h0m.2-1h0m.4-.1h0m.4-.2h0m.8 .9h0m.5-.3h0m.2 2h0m.8-1.7h0m.2 1h0m.3 1.2h0m.6-2.9h0m.7 2h0m2.1-.5h0m5.8-1.4h0m13.7-.4h0m-53.4 3.9h0m5.6 3.1h0m1.5 .7h0m.7-3.7h0m1.6 2.8h0m.4-2.6h0m.1 .2h0m.2-.2h0m.5 .9h0m1.2 .7h0m.1 1.5h0m0-3.5h0m.4 1h0m.2 1.8h0m1.1 .1h0m1-.7h0m.1-.1h0m.9-.7h0m0 1.7h0m.8-1.9h0m.1 1.8h0m.7-.5h0m.4-2.4h0m.7 3.6h0m1.7-2.8h0m1.7 2.9h0m.2-3h0m3.3-.5h0m.9 1.2h0m.2 .2h0m.1-1.5h0m2.9 2.3h0m.4-.8h0m18.6 2h0m-59.7 2.9h0m11.7-2.1h0m2.6 .8h0m5.7 2.6h0m.1-3.5h0m2.3 .8h0m1.7 .2h0m.3 .1h0m1-.8h0m4.6 2h0m4-1.9h0m1.4 2.7h0m.6-2h0m1.6 .2h0m4.6 1.1h0m4.3-1.1h0m1.4-.9h0m7.9 2.2h0m-28.2 4.1h0m6.2-2.1h0" stroke="#cc1a1a" stroke-width="0.75" stroke-linecap="square" opacity="0.85" fill="none"/>
<path d="M525.5 186.9h0m1.3 .5h0m1.2 0h0m-19 3.7h0m2.2-.7h0m6.9-.5h0m.1 .1h0m2.1 1.3h0m1.2-1.3h0m1.2-.4h0m-14.3 3.4h0m1.1-.7h0m.1 2.2h0m.9 .2h0m1.8 .3h0m.3-1.8h0m.4 2.5h0m3.7-1.4h0m.5 1h0m.2 .1h0m.2-1.5h0m.5 .3h0m.2 .2h0m.2-1.7h0m.3 3.1h0m1.3-1.2h0m.4 .8h0m.3-1.1h0m.6 1.1h0m1.9-1.8h0m.5 1.8h0m.8 .2h0m.7-.9h0m.1-2h0m.1 2.4h0m.7-1.1h0m.2 .5h0m1.5-1.1h0m1.6 1.2h0m.4-.2h0m.3-.7h0m-23 2.6h0m1.4 2.9h0m.2 .3h0m.6-.7h0m.6-1.4h0m.8 1.9h0m0-1.8h0m.6 .8h0m1.5-.3h0m.2-1.6h0m.1 .8h0m.6 1.9h0m.7 0h0m0 .1h0m.1-1.4h0m.7-1.7h0m.2 1.5h0m.2 0h0m.5-1.3h0m.1 2.5h0m.1-1.5h0m0 1.4h0m.6 .9h0m.3-3.5h0m.2 1.5h0m.4 .7h0m0 .5h0m.3-.8h0m.2 .5h0m.1 1.2h0m.1-3.6h0m.3 2.6h0m.3-.3h0m.3-1.1h0m0 2.4h0m0-2.7h0m.1 1h0m.5-1.2h0m.1 .1h0m0 2.2h0m0-.2h0m.3 .8h0m0 0h0m.4-.4h0m.1-.6h0m0-.7h0m.2 .8h0m0-1.7h0m.1 2.4h0m.2 .3h0m.7-2h0m0 1.8h0m.1 0h0m.3-.7h0m.4 .2h0m0-1.9h0m0-.2h0m.3-.5h0m.1 2.7h0m.2-.4h0m.1 .1h0m.2-1.2h0m.4-.9h0m.2 .1h0m.3-.4h0m0-.2h0m0 2.7h0m.3-1.6h0m.5-1.3h0m.5 2.7h0m.1-.9h0m.1-1.6h0m.6 3.5h0m.4-1h0m0-1.8h0m.4 2.4h0m0-1.9h0m0 1.3h0m.4 .2h0m.2 .7h0m.4 .1h0m.3-1.2h0m.3-1.2h0m.8 1.8h0m.1-1.5h0m0 .2h0m.3-1.2h0m1.2 3h0m.1-.6h0m1.2-2h0m.8 2h0m2.1-.9h0m.3-.5h0m2.4-1.6h0m-30.6 5.5h0m.5 0h0m.8-.1h0m2.5 1.4h0m.1-.6h0m1.9-.7h0m.5 .8h0m.1-2.3h0m.8 3.2h0m.3-1.3h0m.2-.3h0m.2-1.6h0m.1 1.1h0m.1-.2h0m.2 0h0m.4-.5h0m.3 3.3h0m0-.4h0m.4-2.8h0m0 1.3h0m.1 1.7h0m.4-1.5h0m0-1.8h0m.3 2.5h0m.4-1.6h0m.1 1.1h0m.7 0h0m0-1.5h0m.2 2.3h0m.5-2h0m.2 1.1h0m0-1.6h0m0-.6h0m.5 3.4h0m.1-2h0m.1 .8h0m.1-1.4h0m0 2.9h0m.2-1.9h0m0 1.7h0m.2-1.3h0m.3-1.5h0m.3 1.5h0m.2-.2h0m0-1.7h0m0 .1h0m.2 .6h0m.4 .1h0m.1-1.1h0m.1 1.6h0m.1-.5h0m0-.6h0m.1 3.3h0m0-.7h0m.3 .4h0m0-.2h0m.1-1.3h0m.1-.2h0m0-1.6h0m.2 3.6h0m.2-3.5h0m.1 1.9h0m.1-1.4h0m.2 2.5h0m0-.4h0m.1 .6h0m0-.4h0m.1-.8h0m0 1.4h0m.2 .2h0m.1-.6h0m.1 .3h0m.3-3.2h0m0 2.1h0m.4 .3h0m0-2.1h0m0-.1h0m0 2h0m0-2.2h0m.2 3.3h0m0-1.5h0m.2-1.4h0m0 1.7h0m0-2.5h0m.1 1h0m0 1.8h0m.1-1h0m0 1.1h0m.4-1.5h0m.4 1.9h0m0-2.9h0m0 1.7h0m.1 1.5h0m.1-3.5h0m.4 1h0m.2 2.4h0m.1-1.5h0m.2-.6h0m.1 .9h0m.2 .5h0m.1-1h0m.1 .1h0m0-1.4h0m0-.3h0m.4 1.2h0m.1 1h0m0-.4h0m.4-1.6h0m.3-.2h0m.1 2.8h0m.2 .8h0m0-.6h0m.1-2.2h0m.1 2.8h0m.6-3.5h0m.3 1.8h0m.1-1.7h0m.2 2.5h0m.3-1.9h0m.4-.9h0m.2 .3h0m.6 2.3h0m3.1 1h0m.1 0h0m.6-2.3h0m1.4 1.5h0m3.9-1.7h0m-34.2 3.6h0m2.1 .8h0m2.4 1h0m.4-2.5h0m.2 1.9h0m.7-.7h0m.1 2.1h0m1.2-.1h0m.9-1.8h0m.3-1h0m.2 .5h0m.2-.7h0m.3 2.5h0m.1-.8h0m.4-1.9h0m.4 .3h0m.3 1.8h0m.5 .9h0m0-2h0m.1 1.4h0m.1-2.1h0m.3 2.4h0m.4-1.9h0m0 1h0m0-1.4h0m0-.2h0m.1 .4h0m.1 1.7h0m.2-.4h0m.2-.9h0m0 .6h0m.4 1.8h0m.4-2.9h0m.1 2.1h0m.3-.6h0m.1-1.4h0m.1 .6h0m0 2.3h0m.1-2.9h0m.1 1.8h0m.2 .1h0m0 .2h0m.1 1.1h0m.2-1.3h0m0-.5h0m0 1h0m.4-2h0m0 2.4h0m.1-1.1h0m.3-1h0m.1 1h0m0 1.4h0m.1-2.4h0m0 1.1h0m.1-1.9h0m.1 0h0m.1-.6h0m0 2.6h0m0 .3h0m1.1-2.4h0m.1 .8h0m0-.1h0m.2 2.5h0m.1-1.2h0m0 .4h0m.1-2.3h0m0 .3h0m0 .3h0m.1-1.2h0m.1 1.3h0m.4 1.6h0m.1 .5h0m0-2h0m0 .2h0m.4-1.5h0m0-.1h0m0 1.3h0m.4 1h0m.1-1.1h0m.1 1.4h0m.2-1.7h0m.2 .6h0m.3-.4h0m.1 2.3h0m.1-1.1h0m.2 .4h0m.1-2.6h0m.1 2.1h0m.4 1.5h0m.2-3.3h0m.1 1.2h0m.7 .1h0m.3-1.4h0m0 2.8h0m.1-1.7h0m.1-.5h0m.3 .3h0m0-1.1h0m.2 2.9h0m.2-2.1h0m.5 .3h0m.6-1.2h0m0 .3h0m0 .4h0m0 3.2h0m.2-.6h0m.3-2.8h0m.3 2.6h0m.8 .4h0m.8-2.5h0m.3 2.9h0m0-.5h0m.3-.1h0m0-3h0m.4 3.4h0m1.3-.1h0m0-3.3h0m.6 3.3h0m1-3.3h0m.2 1.3h0m.6 1h0m-27.2 1.7h0m4.5 .8h0m.8 1.1h0m.3-.1h0m.2-.1h0m.1-1.2h0m.9-.4h0m1.3 1.6h0m.3 1.8h0m.5-3.1h0m.8 .5h0m0 2.4h0m.1-1.5h0m.1-.8h0m0-.9h0m.2 .1h0m.4 3.1h0m.3-3.6h0m.1 2h0m0-1.6h0m.6 2.2h0m.1-1.3h0m.2 .7h0m.4 1.5h0m0-3.5h0m.2 .3h0m.1 .8h0m.4 .6h0m1 1h0m.1 .1h0m.1-1.2h0m.4-1.1h0m.3 2h0m0 1h0m.1 .2h0m.1-.3h0m.4-.5h0m1.6-2.7h0m.6 3.6h0m0-3.3h0m3 2.1h0m.5-1.9h0m.3-.6h0m.1 3.7h0m1.3-2h0m1.4-1.5h0m.2 0h0m4 1.4h0m-32.5 3.1h0m12 .1h0m0 1.1h0m3.2-1.4h0m.2 2.2h0m1.3-.4h0m.3-.8h0m.3-.4h0m1.4 .8h0m.6-1.4h0m3.4 1.4h0m0 0h0m3.7-.7h0m5.3 .3h0m-13.1 5.5h0m.6-3h0m2.6 .1h0m2.6-.2h0m-4.4 4.2h0" stroke="#cc1a1a" stroke-width="0.7" stroke-linecap="square" opacity="0.8" fill="none"/>
<path d="M509.8 188.4h0m26.8 1.3h0m7.1 .3h0m3.7 .8h0m-29.9 3.6h0m9.7 .6h0m6.4 .7h0m7.2-1.7h0m-26.1 4.7h0m3.3-1.9h0m2 1.5h0m4.7-1.8h0m1.8 .8h0m7-.8h0m.1 .9h0m17.4 1.9h0m1.8-1h0m14.5 .7h0m-51.2 2.1h0m2.8-.7h0m5.4 2.6h0m1.8-1.5h0m2.2 1.8h0m3.5-.7h0m.6-2.2h0m1.4 1.6h0m1.5 1.5h0m3.8-2.6h0m.6 .9h0m.6 .7h0m1.1-1.1h0m.4-.7h0m1 2.8h0m.2 .4h0m1.4-1h0m3.8 .2h0m0-2.2h0m2.4 0h0m3.2 1.2h0m2.1 .6h0m4.7-.6h0m4.3 1.3h0m1.8-.2h0m-53.7 3.2h0m6.8-1.1h0m1.5 .8h0m4 .1h0m.7-2h0m4.9 0h0m.3 .5h0m.6 .1h0m.1 1.5h0m.8 .1h0m1.4-.5h0m1.4 .3h0m.6 1.1h0m.2-2.3h0m0 1.6h0m1.5-2.2h0m.1 3.3h0m.5-3.3h0m.6 2.1h0m.4 .1h0m.4-1.2h0m.2 .5h0m.3 1.3h0m.2-1h0m.5 .9h0m.6-1.2h0m.2-.2h0m1.7-1.4h0m.8 .9h0m.2-1h0m1.1 3h0m.1-2.3h0m.9-.9h0m4.2 1.8h0m.5 .3h0m.1-.3h0m4.4 1.5h0m.1-2h0m11 .2h0m-54.4 4.9h0m.6-1.1h0m3-1.2h0m2.2 3.5h0m3.3-.7h0m.1-2h0m6.7 2.5h0m0-3.3h0m0 2.3h0m.9 .2h0m2.6-.6h0m.2 1.4h0m.2-1.9h0m0 .8h0m.3 1.4h0m.1-3.4h0m1.3-.1h0m.1 .9h0m1.3 1.7h0m.4-1.7h0m.1 1.5h0m1.2-1.3h0m.1 0h0m.2 1.4h0m.5-2.3h0m.2-.1h0m2.1 .1h0m.2-.3h0m.1 3.3h0m.1-2.2h0m.1-.9h0m.4 1.1h0m.8 .4h0m0-1.3h0m.3 1.5h0m.7-1h0m.5 2.3h0m.2-1.1h0m1.6-.8h0m.2 0h0m.1-1.3h0m.4 0h0m.6-.1h0m.4 3.6h0m2-1h0m.6-2.3h0m1.2 .7h0m.7-1h0m.6 2.8h0m3.5-1.6h0m4 2.7h0m1.6-2.4h0m.6 1.4h0m8.2-.3h0m7.3-.3h0m-72.4 2.5h0m6.9 .1h0m2.4 1.2h0m2.4 1.3h0m5.4 .1h0m0-3h0m.4-.1h0m2 3.3h0m.5-2.8h0m2.9-.1h0m.8 2.4h0m.1-3.1h0m.4 2.1h0m.3-.8h0m.3-.6h0m.4 .7h0m.9-.1h0m2-.7h0m.8 1.2h0m.5-1.3h0m.1 2.2h0m.5-1.2h0m.4 1.6h0m0-2.3h0m.2 .6h0m.9-1h0m.1 1.4h0m1.2-1h0m.7-.3h0m.8 3.2h0m0-2.8h0m.5 1.5h0m.3-1.4h0m.6 2h0m1.1 .4h0m.1-.9h0m.6 1h0m.3-1.4h0m1.7-1h0m.8 .8h0m.4 1.5h0m.3 .1h0m.2-.1h0m.4 .2h0m.6 .1h0m0 0h0m0-3.3h0m.1-.2h0m.5-.3h0m1.2 3.3h0m.1 0h0m.1-.8h0m.9 .7h0m.3 0h0m.5-1.3h0m0 1h0m.2-2.7h0m0 2h0m.1 1.7h0m1.3 0h0m2.3-3.5h0m2.4 2.9h0m5.2-2.7h0m.5 2.4h0m1.1-.2h0m-43.9 4.6h0m1.5-1.4h0m.3 1.8h0m.1-2.9h0m2.5 .6h0m2.1 .9h0m.1 1.1h0m.4 .2h0m2.5-2.7h0m.2 .3h0m.3-1.3h0m1.5 .4h0m.7-.4h0m.4 2.2h0m.6 .2h0m.2-2.1h0m1.9 2h0m.4-1.9h0m.4 3.1h0m.8-1.5h0m0-2h0m.1 .7h0m.1 1.9h0m.7-1.5h0m.3-.3h0m.7 1.2h0m.6-.1h0m.2-.3h0m.3 0h0m.3 1.5h0m.1-.6h0m.7 1.1h0m.1-1.4h0m.4-.1h0m.3-.4h0m.2 1.9h0m.4-.9h0m.2-1h0m0-1h0m1.1 3.2h0m.9-.8h0m1.2 .8h0m.1-3.6h0m.7 3.3h0m.8-1.1h0m.6 1.1h0m.4-1.4h0m0 .5h0m.6 1.2h0m.1-2.8h0m.5-.4h0m.7 1.9h0m.6-1.7h0m1.7 .8h0m.4 .2h0m1.1-1.2h0m.4 .3h0m.5 0h0m.5-.2h0m.4 2.7h0m.3-1.8h0m2.1-.7h0m.5 .8h0m.4 1h0m.3-.2h0m13.3 .1h0m-52.8 3.6h0m4.1 0h0m.8-1.4h0m1.9-.4h0m2.3 .1h0m1 2.8h0m.4-2.4h0m.2 .7h0m0-.9h0m.5 .4h0m.1 2.5h0m.5-1h0m.5-2.5h0m.4 2.1h0m.2 1.2h0m.3-.4h0m.3-.2h0m.1-2h0m.4-.3h0m.1 1.8h0m.4-2.1h0m.7 3.6h0m.4-3.2h0m1 2.7h0m0-1.4h0m.1 0h0m.8 1h0m.3 .2h0m.3-.5h0m1.2-.5h0m.1 1.4h0m.2-3.3h0m.1 1.9h0m.4 1.7h0m1.7-3.9h0m.6 2.8h0m.3-1h0m1.1-1.3h0m.1 1.1h0m.1 0h0m.1 .5h0m.4 1.1h0m.5-2h0m.1-.9h0m.1 .5h0m1.1 .7h0m.5 2.3h0m.1-1h0m.1-1.3h0m1.4-.7h0m.7 .6h0m.2 1.2h0m.2 .1h0m0-.9h0m.2-.7h0m.8 .8h0m0 1.9h0m.1-.9h0m2.4-2.7h0m1.5 2h0m.7-1.3h0m0 .8h0m.2 .9h0m.3-.8h0m0 0h0m2.4-.4h0m1.7-.2h0m.9 1.8h0m.2-1h0m.7-.3h0m4.1 .1h0m2.9 .2h0m2.7 1h0m-65.9 2.7h0m8.3-.9h0m2.1-.8h0m4.2 3.6h0m2.2-2.2h0m.7 .5h0m.3 1h0m.4-.5h0m1.3 .2h0m2.5-1.7h0m.5-.5h0m.3-.4h0m.1 3.9h0m.2-.4h0m1.4-.7h0m.9 .7h0m1-3.4h0m.2 2.5h0m.7-2.3h0m1.1 2.7h0m.1-1.8h0m.2 2.3h0m.2-1.7h0m.1-.5h0m.6-.1h0m.3-1.2h0m0 1.7h0m.2 1.9h0m.4-1.7h0m2 1.9h0m.1-.4h0m.1 .5h0m.4-.2h0m.3-3h0m1 2.7h0m.3-2.7h0m.6 .4h0m1.2 0h0m.3 .7h0m0 1.7h0m.3-2.9h0m.2 2.1h0m2.5-1h0m.3 1.7h0m1.2-2.8h0m.7 1.5h0m.1-1.4h0m.1-.7h0m.1 1.1h0m1.8-1h0m1.9 1.6h0m1.6 .6h0m2.1-2.3h0m.2 2.7h0m.2-2.7h0m.6 2.8h0m5.1-1.5h0m.8 .9h0m.8-.3h0m2.4-1.1h0m1 .6h0m.5-.2h0m-45.8 5.2h0m2.4-2h0m4.4 .6h0m1.6 1.1h0m.2 1.1h0m.3 .3h0m.6-.2h0m.5-2h0m.9 .2h0m.8-1.5h0m.8 .6h0m0 .1h0m.6 .5h0m2.7 2.5h0m.9-3.2h0m0 .4h0m.8 2.2h0m.4 .8h0m.7-.7h0m.1-1.9h0m.4 1.1h0m.3-.9h0m.1-1h0m0 1.6h0m1.6 .2h0m.4-1.9h0m0 2.5h0m.8-.9h0m.7-1.2h0m3.5 1.1h0m1.1-.6h0m.3 1.9h0m.9-2.7h0m.1-.4h0m.6 1.7h0m.4-.6h0m2.9-1.1h0m.7 1h0m1.2 1.9h0m6.2 .9h0m-35.7 3.5h0m1.7-2.4h0m1.6 1h0m2.5-1.6h0m.7 1.6h0m.4 1.6h0m3.9-1.4h0m1.8 1.4h0m.1-3.1h0m.1 2.4h0m1.9-2.4h0m.1 1.1h0m.5 .5h0m.7-.8h0m.5 1.7h0m.1-2.5h0m3.1 .1h0m.5 .2h0m.3 .8h0m.5-.3h0m1.7-.3h0m.6-.6h0m.2 .2h0m3.1 2.9h0m1-3.5h0m.1 2.1h0m.2-.2h0m3.3 .2h0m-30.6 2h0m1.5 3.4h0m3.3-2.7h0m.9-.2h0m2.5 2.9h0m.8-3.3h0m1.1 1.8h0m1.4-1.7h0m2.6 1.5h0m5.8 .4h0m.9 .4h0m.7-1.2h0m5-.2h0m4.5 2.4h0m-24 1.7h0m1.6-.8h0m5.5 2.8h0m2.7 0h0m5.1-2.8h0m.1-.1h0m8.1 .3h0m-30.1 6.6h0m5.6-2.7h0m2.1 1.4h0m1-1.8h0m4.2 1.4h0m4.4-.5h0m-13.9 3.6h0m9.8-.3h0" stroke="#cc1a1a" stroke-width="0.6" stroke-linecap="square" opacity="0.7" fill="none"/>
<path d="M555.3 212.2h0m9 6.6h0m-11.1 5h0m0-.1h0m2.2-1h0m.7-1.4h0m3.8 1.2h0m.4 1.3h0m2.3-1.3h0m-16.1 4.5h0m2.5 .8h0m.1-3.7h0m0 .9h0m1.3-.3h0m.3 1.5h0m.1 .6h0m.5-1.1h0m0-1.3h0m.2 2h0m.9-1.8h0m.3 1.6h0m0-.9h0m.2 .7h0m.6-1.7h0m.2 3.4h0m0-1.6h0m.3 0h0m1.2-.4h0m.3-.6h0m.5 .4h0m.8 2.2h0m.1-1.4h0m.5 .7h0m.1-.7h0m1-.2h0m1.1 .3h0m.3 1.1h0m0-3h0m.2 1.8h0m.5-.4h0m0-1.9h0m.2 2.1h0m.8 1.2h0m.2-2.1h0m1.1 2h0m.5-.8h0m.2-2.3h0m.2 3.8h0m.7-.5h0m1.1-1.1h0m.4-.4h0m-24 3.5h0m1.5 1.2h0m.5 .8h0m.4-1.5h0m.6 1h0m.1 .9h0m1.9-.8h0m.1-1.1h0m.1 1.1h0m.1-1.9h0m.8 2.6h0m.1-1.5h0m.3-.2h0m.1 .7h0m.7 .2h0m.5 .7h0m.2-.3h0m.3 .6h0m.1-3.1h0m.2 1h0m.1 .9h0m.1-2.6h0m.1 1h0m.5 .1h0m0 .3h0m.1 1.3h0m.3 .8h0m.2-.1h0m.1 .1h0m.2-2.5h0m0 2h0m.2 .8h0m.4-3.9h0m.1 3.8h0m.2-3h0m.3 1.7h0m0-.6h0m0 .6h0m.1 1h0m.2-.4h0m.3-.1h0m.2-2.2h0m.1 1.5h0m.1-.3h0m.3 1.4h0m0-1.4h0m.1-.4h0m.1 1.3h0m.4 .1h0m.4 .7h0m0-1.9h0m.4-.2h0m.1 .9h0m.1 .7h0m.1-2.7h0m.5 2h0m.1-1.4h0m.1 .3h0m.7-1.1h0m.3 .1h0m.2 2.5h0m.3-.2h0m0 1h0m.1-3.5h0m.1 1.6h0m.5-1.1h0m.4 3h0m.1-3.7h0m.1 3.9h0m.5-2.3h0m.1-1.1h0m.2 .8h0m.1 1.7h0m.2-.6h0m.7-.2h0m.2 .6h0m.2 .6h0m.1-2.1h0m.2 .1h0m.1 .1h0m.3-1h0m.2-.2h0m.7 2.3h0m0-.7h0m.8-.1h0m.1-.3h0m.6 2.4h0m.7-2.9h0m2.1 .3h0m.7 1.5h0m.4-.4h0m-32.4 3.7h0m7.6-1.8h0m.4 1.7h0m.2 0h0m1.6-.3h0m.1 .3h0m1-.5h0m.4 1h0m0-2.1h0m.3 3.4h0m0-1.2h0m.5-2.1h0m.1 .8h0m.5-1.2h0m.3 3h0m.5-.8h0m0-.7h0m.4-.1h0m0 .8h0m0 1.6h0m.1-.1h0m.3-3.3h0m0 2.7h0m0-1h0m.2-1.8h0m.1 1.3h0m.1 .1h0m.5 1.2h0m.1 .6h0m0-.1h0m.3-1.8h0m0 1.8h0m.1-2.3h0m.1-1h0m0 3.7h0m0-.8h0m.5-1.9h0m.1-.6h0m0 3h0m.2-2.3h0m.1-.7h0m0-.3h0m.2 3.6h0m0-2.2h0m0 2.2h0m0-1.1h0m.4-.7h0m.1 1.7h0m0-2.4h0m.2 2h0m.1-.9h0m0-1.4h0m.1 1.7h0m.4-1.4h0m0-.6h0m.3 1.2h0m0-1h0m.1 .9h0m.2 1.8h0m0-2.5h0m.2 2.4h0m.7 0h0m0-3.6h0m0 .7h0m.1-.2h0m.4 1.5h0m.1 1.4h0m0 .2h0m.3-2.3h0m0-.9h0m.1 .9h0m0 1.5h0m.3 .6h0m0-3.4h0m.1 .5h0m.2 2.4h0m0-.1h0m0-.7h0m.1 .6h0m.1 .4h0m0 .6h0m.1-1.1h0m0-1h0m.1 .9h0m0-2h0m.1 .6h0m.6 2.3h0m.1 .2h0m.3-2.1h0m0 2.3h0m.1 0h0m0-.6h0m.1-3h0m.1 1.4h0m.1 .1h0m.1 .7h0m.3-.8h0m.1 1h0m.4-.8h0m.1 .1h0m.1 .3h0m.2 1.5h0m0-1.5h0m0-.7h0m.3-.1h0m.3-1.4h0m0 2.2h0m0-.2h0m.2 0h0m0-.7h0m0-1.1h0m.7 2.3h0m.4-1.1h0m.9-1h0m.7 3.1h0m.3-2.1h0m.2 1.4h0m.4 .1h0m0-1.3h0m0-.9h0m1.5 2.8h0m.3-.9h0m1.1-2h0m2.6 .6h0m-28.8 3.8h0m.9-.7h0m.2 1.5h0m1 .1h0m.6-1.9h0m.4 3.1h0m.6-1.4h0m.5-1.5h0m.8 3.7h0m.5-.1h0m0-3.2h0m.8 .2h0m.6 .3h0m.9-1h0m.2 2.8h0m.7-1.2h0m0-1.5h0m.3 1.2h0m0-1.2h0m.2 1.1h0m0 .1h0m0 .6h0m.1 .2h0m.7-.3h0m.2 1.5h0m.1-1.4h0m.5 .2h0m.1-2h0m.6 1.5h0m0 .1h0m.1-.5h0m.3 .7h0m.3-1.8h0m.1 .8h0m.2 2.6h0m.1-2.5h0m.3 1.2h0m.3 0h0m.3-1.7h0m0 3.2h0m0-3.3h0m.2 1.5h0m.5-1.5h0m0 .8h0m.4-.5h0m.3 2.3h0m0-2.3h0m.1 .6h0m0-.2h0m.2 1.7h0m.2-.7h0m.6-2.1h0m.1 1.7h0m0-1.2h0m.2 2.4h0m0-1.3h0m.8-.8h0m.1 .5h0m.2 1.2h0m.1 .1h0m.2-2h0m.3 2.1h0m.2-2.8h0m.2 1.6h0m0-.4h0m.1 1.4h0m.3 .9h0m.2-3h0m.1-.4h0m.4 3.7h0m.1-1.5h0m.3 .5h0m.3 .4h0m.1 .1h0m.1-.5h0m.1-.1h0m.2-1h0m.5-.3h0m.2 2h0m.2-2.8h0m.9 .5h0m.1-.7h0m1.4 1.3h0m.5-.1h0m0 .6h0m.4-1.7h0m.2 0h0m2.8 1.5h0m.1-2h0m6.4 3h0m-31.7 3h0m1.4-.9h0m1.5 2.3h0m3.8-2.6h0m0 .5h0m.1-1.3h0m.1 2.9h0m.1-2.5h0m.3 .6h0m0 .7h0m.3-1.2h0m.2-.3h0m.4 .3h0m0 .3h0m2.3-.4h0m.6 .9h0m0 1.3h0m.3-1.1h0m.4 .3h0m.8-.8h0m.1 .8h0m1.1 1.8h0m0-.4h0m.8-2.2h0m0-.5h0m.2 .8h0m.5-.7h0m.1-.3h0m.7 3.4h0m.1-3.7h0m.2 .6h0m1.1 1.6h0m.4-.4h0m.6-1.2h0m.1 .8h0m1.4 1.2h0m.6-1.6h0m.7 0h0m-20 3h0m2.7 .1h0m3.7 2.1h0m3.1-.1h0m8.8-.5h0m1.4-1.5h0" stroke="#cc1a1a" stroke-width="0.75" stroke-linecap="square" opacity="0.85" fill="none"/>
<path d="M529.1 199.7h0m1.5 .1h0m.6 0h0m.4-.2h0m-12.3 3.8h0m5.6-1.1h0m1.7-1.6h0m.1 2.3h0m.1 0h0m.5-1.8h0m.3 .6h0m0 1.8h0m.2-3.1h0m0 2h0m.6-.9h0m0 1.9h0m.1-1h0m0-2h0m.2 2h0m0-1.8h0m.1 2.9h0m.4-1.2h0m0-.9h0m.2 .5h0m.1 .6h0m0-1.5h0m.1 2.6h0m.2-.3h0m.1-1.1h0m0-1.2h0m0 .6h0m0 2.1h0m.3-3.1h0m.3 .7h0m.1 1h0m.2-.9h0m.1 .7h0m0-1.6h0m0 2.2h0m.1 .4h0m0-2.3h0m.1 2.2h0m.1 .5h0m0-1.6h0m.1 1.8h0m.1-1.4h0m.2-.4h0m.2 1.5h0m.3 .4h0m.1-2.1h0m0 1.2h0m.1-.8h0m.1 1.6h0m.1-.1h0m0-.2h0m.1-.8h0m.1 .7h0m0-2h0m0 .8h0m.1 .6h0m.1-1.7h0m.1 .9h0m0-.4h0m.1 1.8h0m0 .4h0m0-2h0m0 1.9h0m.1-2h0m0 .7h0m0 .5h0m.1-.3h0m.1-.8h0m0-.9h0m.1 1h0m0 .7h0m.1-.8h0m0 .1h0m0 1.1h0m0-1.8h0m.2 1.7h0m0-1.6h0m.1 2.6h0m.1 0h0m0-.3h0m.1-.6h0m.1 .9h0m0-1h0m.1 .8h0m.1-3.3h0m0 2.5h0m.1-2.3h0m0 .1h0m.2 2.1h0m0 .3h0m.1-.4h0m0-.4h0m0-1.2h0m.1 0h0m.1 1h0m0 .8h0m.1-.3h0m.2 .6h0m0-.5h0m0 .8h0m0-.5h0m.2 .4h0m0-.1h0m.3-1.3h0m0 1.8h0m0 .1h0m.1-1.3h0m.2-1.7h0m.1 2.7h0m.1-.7h0m.1-.1h0m0 .3h0m0-1.9h0m.1 1.7h0m0 .1h0m.1 0h0m0 .9h0m.1-1.4h0m0-1.1h0m0 .8h0m0 .3h0m0 1.4h0m.1-1.1h0m0-.8h0m0 1.4h0m.2 .1h0m0 0h0m.4-1.6h0m0 .7h0m0 1.3h0m0-.6h0m.1-.8h0m.1-1h0m0 2.1h0m.1-1.2h0m0 1.3h0m0-1h0m0 .8h0m.2 .2h0m.1-1.2h0m.1 .4h0m.1-.2h0m.1-.6h0m0 1.4h0m.6 .1h0m.1 .1h0m.1-.7h0m0-.7h0m.2 1h0m.1 .6h0m0-.1h0m.1-1.4h0m0 1.4h0m.1-.8h0m.5-.7h0m.6 1.5h0m0-2.1h0m.2 1.9h0m.3-.4h0m.4-1.2h0m.5-.7h0m.4 1.8h0m.1 .2h0m.2 .1h0m.1 .3h0m.3-1.4h0m1.3 .7h0m-20.6 1h0m.7 2h0m.7-1.3h0m.4-.3h0m.2 .1h0m2.8 .9h0m.1-.1h0m.3 .2h0m0-.9h0m.4-.5h0m.3 .1h0m.1 .6h0m.5-.6h0m.1 1.2h0m.6-1.2h0m.3-.1h0m.1 .5h0m.2-.1h0m.1 0h0m.1 .2h0m0-.1h0m.1-.1h0m.4 .7h0m0-.1h0m.3-1.1h0m.1 .1h0m0 1.3h0m.4-.3h0m0-.8h0m.2 2.2h0m0-2.3h0m0 1.6h0m.2-1.2h0m.1 1.7h0m0-.5h0m.1-.8h0m.1-.2h0m.1-.1h0m.1-.5h0m.2 1.2h0m.1-1.4h0m.1 0h0m0 0h0m0 .4h0m.1 .3h0m.1 .1h0m0 0h0m.1 1.7h0m.1-2.3h0m0 1.2h0m.2-1.2h0m.1 2.7h0m0-1.8h0m.2 0h0m.1 .2h0m.1-.9h0m0 1.4h0m.2 .6h0m.1-.8h0m.1-1.4h0m0 0h0m0 .7h0m.1-.4h0m0 1.7h0m.1-1.1h0m0-1h0m.2 .1h0m0 .4h0m0 1.2h0m.2-1.3h0m0 1.3h0m0-1.8h0m0 1.6h0m.2-1.3h0m.1 0h0m0 .1h0m.1 1.3h0m0-.7h0m.1 1.1h0m0-1.9h0m0 .5h0m.2 1.1h0m.2-.9h0m.2 .8h0m0-.6h0m.1-.2h0m.1 2.4h0m.1-2.7h0m0 1h0m.1 .7h0m0-1.2h0m.3-.9h0m.1 .1h0m.2 .5h0m.2 1h0m.4 1.2h0m.2-3h0m0 1.3h0m.1-.7h0m.1-.3h0m.1-.2h0m.1 2.8h0m.1-1.8h0m.1-1h0m.1 2h0m.1 0h0m.2-1.6h0m.3 0h0m0 1h0m0 .5h0m0-.7h0m.3 1.7h0m.5-2.2h0m.1 1.4h0m.2 0h0m.2-.7h0m0-.9h0m0 .8h0m.1 .4h0m.1 .3h0m1-2h0m0 .8h0m0 .5h0m1.3 2.3h0m.6-1.2h0m1.9-2.4h0m4.1 3.6h0m-18.7 .7h0m8.3-.3h0" stroke="#d8481a" stroke-width="0.65" stroke-linecap="square" opacity="0.95" fill="none"/>
<path d="M551 203.5h0m.4 .1h0m.5-.3h0m0-1h0m.2 .1h0m0 1.4h0m.3-1.5h0m0 .1h0m.1 0h0m0 1.4h0m.2-.8h0m0-.8h0m0 1.7h0m.1-.3h0m.2-.2h0m.4-.7h0m.7 0h0m-3.2 2.1h0m.7-.6h0m.8 .4h0" stroke="#e07b3a" stroke-width="0.6" stroke-linecap="square" opacity="0.9" fill="none"/>
<path d="M565.3 200.8h0m1.3-.2h0m1 1.5h0m.4 1.4h0m.8 0h0m.3-1.7h0m2.5-.4h0m-5.6 5.8h0m.5-.6h0m0-2.5h0m.2 .2h0m.1 .7h0m.1 .8h0m.3 1.1h0m0-1.8h0m.1 1.6h0m.6 0h0m.1 .7h0m.1-1.3h0m.1 1.5h0m.1-1.5h0m.7 .8h0m.1-2.9h0m0 3.8h0m.1-.5h0m0 .4h0m.1-.2h0m.2-.7h0m0-.3h0m.2 0h0m.3-1.1h0m-4.4 5.3h0m1.1-2.2h0m0-.4h0m.1 3.2h0m.3-.2h0m0-2.3h0m0 1.8h0m.1-2h0m.1 3h0m.1-3.6h0m.1 .5h0m0 1.8h0m0-1.4h0m.2 1.9h0m0-.3h0m.2 .5h0m.1-1.3h0m0 1.7h0m.1-1.7h0m0 .5h0m.3 .6h0m0 .1h0m0-.1h0m0-.9h0m.3-1.2h0m0 2.2h0m.3 .4h0m0-1.1h0m.1 1h0m.1-.4h0m.5 .4h0m0-1h0m.3-1.9h0m.3 2.8h0m.4-1.8h0m-7.3 2.7h0m1.1 2.4h0m1.1 1.1h0m.5-2.9h0m.1 1.8h0m.3-.4h0m.1-1.9h0m.6 3.7h0m0 0h0m0-1.8h0m.1 1.2h0m.2 .4h0m.1-2.4h0m.1 2.6h0m.1-1.9h0m.1-1.2h0m0 .8h0m0-.3h0m.1 1.9h0m.2-3.1h0m0 3.8h0m.1-2.7h0m.1 .1h0m.1 .5h0m.1 1.4h0m0-1.6h0m.1-.2h0m.3-1.3h0m.3 3.8h0m.1-.3h0m.2-3.3h0m0 1.9h0m.3-1h0m0 .4h0m.2-.8h0m0 1.2h0m0 1.1h0m.5-1.4h0m-5.4 4.6h0m.4 .1h0m.3 .5h0m.2-2.2h0m.4 0h0m.1 1h0m.1 2h0m.1-3.5h0m.4 .7h0m.1 1.6h0m.2-.8h0m.1 1.2h0m.1-.9h0m.1-.5h0m.1-.6h0m.1 .2h0m.5-.5h0m.2 1.4h0m0 0h0m.1-1.1h0m.1-.6h0m.1 2.2h0m.4-.3h0m0-.6h0m.1-.4h0m.5 2.1h0m.1-2h0m-4.8 5.1h0m1.2-2.2h0m.1 2.6h0m.1 .6h0m.2-.1h0m.1-1.3h0m.1-1.6h0m0 .9h0m.4 .1h0m.1 1.5h0m.7 .6h0m.1-1.3h0m.4-1.4h0m.1-.6h0m.1 0h0m.1 .9h0m.1-.1h0m.4 1.2h0m-.7 3.7h0" stroke="#e07b3a" stroke-width="0.65" stroke-linecap="square" opacity="0.95" fill="none"/>
</g>
<line x1="234.80" y1="217.00" x2="234.80" y2="200.07" stroke="#231f20" stroke-width="0.8" />
<path d="M234.80,197.00L236.60,201.50L234.80,200.38L233.00,201.50Z" fill="#231f20"/>
<text x="236.80" y="253.60" font-size="9.2" stroke="#231f20" stroke-width="0.15" transform="rotate(-90 236.80 253.60)" ><tspan font-style="italic">t</tspan>-SNE 2</text>
<text x="240.00" y="263.80" font-size="9.2" stroke="#231f20" stroke-width="0.15" ><tspan font-style="italic">t</tspan>-SNE 1</text>
<line x1="276.00" y1="260.80" x2="293.43" y2="260.80" stroke="#231f20" stroke-width="0.8" />
<path d="M296.50,260.80L292.00,262.60L293.12,260.80L292.00,259.00Z" fill="#231f20"/>
<circle cx="595.30" cy="143.90" r="1.65" fill="#cc1a1a" stroke="none" stroke-width="0.5" />
<text x="599.50" y="146.90" font-size="8.6" stroke="#231f20" stroke-width="0.15" >Excitatory upper</text>
<circle cx="595.30" cy="153.68" r="1.65" fill="#d8481a" stroke="none" stroke-width="0.5" />
<text x="599.50" y="156.68" font-size="8.6" stroke="#231f20" stroke-width="0.15" >Excitatory middle</text>
<circle cx="595.30" cy="163.46" r="1.65" fill="#e07b3a" stroke="none" stroke-width="0.5" />
<text x="599.50" y="166.46" font-size="8.6" stroke="#231f20" stroke-width="0.15" >Excitatory lower</text>
<circle cx="595.30" cy="173.24" r="1.65" fill="#1a1ad0" stroke="none" stroke-width="0.5" />
<text x="599.50" y="176.24" font-size="8.6" stroke="#231f20" stroke-width="0.15" >Inhibitory SST</text>
<circle cx="595.30" cy="183.02" r="1.65" fill="#4060d8" stroke="none" stroke-width="0.5" />
<text x="599.50" y="186.02" font-size="8.6" stroke="#231f20" stroke-width="0.15" >Inhibitory VIP</text>
<circle cx="595.30" cy="192.80" r="1.65" fill="#2a7ad8" stroke="none" stroke-width="0.5" />
<text x="599.50" y="195.80" font-size="8.6" stroke="#231f20" stroke-width="0.15" >Inhibitory LAMP5</text>
<circle cx="595.30" cy="202.58" r="1.65" fill="#8cc8d4" stroke="none" stroke-width="0.5" />
<text x="599.50" y="205.58" font-size="8.6" stroke="#231f20" stroke-width="0.15" >Inhibitory PVALB</text>
<circle cx="595.30" cy="212.36" r="1.65" fill="#22c8d8" stroke="none" stroke-width="0.5" />
<text x="599.50" y="215.36" font-size="8.6" stroke="#231f20" stroke-width="0.15" >Inhibitory unclassified</text>
<circle cx="595.30" cy="222.14" r="1.65" fill="#d4a914" stroke="none" stroke-width="0.5" />
<text x="599.50" y="225.14" font-size="8.6" stroke="#231f20" stroke-width="0.15" >Astrocyte</text>
<circle cx="595.30" cy="231.92" r="1.65" fill="#a050e0" stroke="none" stroke-width="0.5" />
<text x="599.50" y="234.92" font-size="8.6" stroke="#231f20" stroke-width="0.15" >Oligodendrocyte/OPC</text>
<circle cx="595.30" cy="241.70" r="1.65" fill="#1a6a1a" stroke="none" stroke-width="0.5" />
<text x="599.50" y="244.70" font-size="8.6" stroke="#231f20" stroke-width="0.15" >Microglia</text>
<circle cx="595.30" cy="251.48" r="1.65" fill="#b8b8b8" stroke="none" stroke-width="0.5" />
<text x="599.50" y="254.48" font-size="8.6" stroke="#231f20" stroke-width="0.15" >Unannotated</text>
<path d="M285.50,318.80L285.50,276.80A42,42 0 0 1 327.34,315.11Z" fill="#fe3130"/>
<path d="M285.50,318.80L327.34,315.11A42,42 0 0 1 314.06,349.60Z" fill="#1b75cc"/>
<path d="M285.50,318.80L314.06,349.60A42,42 0 1 1 285.50,276.80Z" fill="#fef18b"/>
<path d="M400.60,319.00L400.60,277.00A42,42 0 1 1 395.60,360.70Z" fill="#fe3130"/>
<path d="M400.60,319.00L395.60,360.70A42,42 0 0 1 386.12,279.57Z" fill="#1b75cc"/>
<path d="M400.60,319.00L386.12,279.57A42,42 0 0 1 400.34,277.00Z" fill="#fef18b"/>
<path d="M518.90,319.70L518.90,277.50A42.2,42.2 0 1 1 517.04,277.54Z" fill="#fe3130"/>
<path d="M518.90,319.70L517.04,277.54A42.2,42.2 0 0 1 518.90,277.50Z" fill="#4a6cc0"/>
<text x="303.00" y="307.00" font-size="9.2" text-anchor="middle" fill="#ffffff" stroke="#ffffff" stroke-width="0.15" >23.6%</text>
<text x="310.60" y="329.80" font-size="9.2" text-anchor="middle" fill="#ffffff" stroke="#ffffff" stroke-width="0.15" >14.5%</text>
<text x="265.30" y="323.80" font-size="9.2" text-anchor="middle" stroke="#231f20" stroke-width="0.15" >61.9%</text>
<text x="265.30" y="333.80" font-size="9.2" text-anchor="middle" stroke="#231f20" stroke-width="0.15" >Glia</text>
<text x="315.00" y="276.40" font-size="9.2" stroke="#231f20" stroke-width="0.15" >Excitatory</text>
<text x="315.00" y="285.50" font-size="9.2" stroke="#231f20" stroke-width="0.15" >neurons</text>
<line x1="314.50" y1="282.00" x2="303.50" y2="297.00" stroke="#231f20" stroke-width="0.6" />
<line x1="311.60" y1="335.60" x2="325.70" y2="349.00" stroke="#231f20" stroke-width="0.6" />
<text x="343.00" y="356.40" font-size="9.2" text-anchor="middle" stroke="#231f20" stroke-width="0.15" >Inhibitory</text>
<text x="343.00" y="365.30" font-size="9.2" text-anchor="middle" stroke="#231f20" stroke-width="0.15" >neurons</text>
<text x="378.80" y="322.80" font-size="9.2" text-anchor="middle" fill="#ffffff" stroke="#ffffff" stroke-width="0.15" >42.5%</text>
<text x="417.00" y="319.80" font-size="9.2" text-anchor="middle" fill="#ffffff" stroke="#ffffff" stroke-width="0.15" >51.9%</text>
<text x="395.60" y="264.40" font-size="9.2" text-anchor="middle" stroke="#231f20" stroke-width="0.15" >Glia</text>
<text x="395.60" y="273.60" font-size="9.2" text-anchor="middle" stroke="#231f20" stroke-width="0.15" >5.5%</text>
<line x1="373.80" y1="336.30" x2="357.60" y2="346.30" stroke="#231f20" stroke-width="0.6" />
<line x1="420.80" y1="324.80" x2="438.20" y2="349.70" stroke="#231f20" stroke-width="0.6" />
<text x="438.60" y="356.00" font-size="9.2" stroke="#231f20" stroke-width="0.15" >Excitatory</text>
<text x="438.60" y="365.20" font-size="9.2" stroke="#231f20" stroke-width="0.15" >neurons</text>
<text x="490.40" y="269.20" font-size="9.2" text-anchor="middle" stroke="#231f20" stroke-width="0.15" >Glia</text>
<text x="490.40" y="278.40" font-size="9.2" text-anchor="middle" stroke="#231f20" stroke-width="0.15" >0.0%</text>
<line x1="518.90" y1="279.70" x2="541.90" y2="270.80" stroke="#231f20" stroke-width="0.6" />
<text x="544.30" y="272.60" font-size="9.2" stroke="#231f20" stroke-width="0.15" >Inhibitory neurons</text>
<text x="544.30" y="281.30" font-size="9.2" stroke="#231f20" stroke-width="0.15" >0.7%</text>
<text x="517.40" y="333.50" font-size="9.2" text-anchor="middle" fill="#ffffff" stroke="#ffffff" stroke-width="0.15" >Excitatory</text>
<text x="517.40" y="342.70" font-size="9.2" text-anchor="middle" fill="#ffffff" stroke="#ffffff" stroke-width="0.15" >neurons</text>
<text x="517.40" y="351.90" font-size="9.2" text-anchor="middle" fill="#ffffff" stroke="#ffffff" stroke-width="0.15" >99.3%</text>
<text x="-0.20" y="383.20" font-size="10.8" font-weight="bold" fill="#000" stroke="#000" stroke-width="0.35">d</text>
<line x1="45.80" y1="394.30" x2="45.80" y2="515.80" stroke="#333" stroke-width="0.7" />
<line x1="43.20" y1="397.40" x2="45.80" y2="397.40" stroke="#333" stroke-width="0.6" />
<text x="39.80" y="400.20" font-size="8.0" text-anchor="end" stroke="#231f20" stroke-width="0.15" >5,000</text>
<line x1="43.20" y1="421.00" x2="45.80" y2="421.00" stroke="#333" stroke-width="0.6" />
<text x="39.80" y="423.80" font-size="8.0" text-anchor="end" stroke="#231f20" stroke-width="0.15" >4,000</text>
<line x1="43.20" y1="444.30" x2="45.80" y2="444.30" stroke="#333" stroke-width="0.6" />
<text x="39.80" y="447.10" font-size="8.0" text-anchor="end" stroke="#231f20" stroke-width="0.15" >3,000</text>
<line x1="43.20" y1="467.40" x2="45.80" y2="467.40" stroke="#333" stroke-width="0.6" />
<text x="39.80" y="470.20" font-size="8.0" text-anchor="end" stroke="#231f20" stroke-width="0.15" >2,000</text>
<line x1="43.20" y1="491.10" x2="45.80" y2="491.10" stroke="#333" stroke-width="0.6" />
<text x="39.80" y="493.90" font-size="8.0" text-anchor="end" stroke="#231f20" stroke-width="0.15" >1,000</text>
<line x1="43.20" y1="514.40" x2="45.80" y2="514.40" stroke="#333" stroke-width="0.6" />
<text x="39.80" y="517.20" font-size="8.0" text-anchor="end" stroke="#231f20" stroke-width="0.15" >0</text>
<line x1="45.80" y1="515.80" x2="154.80" y2="515.80" stroke="#333" stroke-width="0.7" />
<line x1="46.50" y1="515.80" x2="46.50" y2="518.40" stroke="#333" stroke-width="0.6" />
<text x="46.50" y="526.80" font-size="8.0" text-anchor="middle" stroke="#231f20" stroke-width="0.15" >0</text>
<line x1="65.90" y1="515.80" x2="65.90" y2="518.40" stroke="#333" stroke-width="0.6" />
<text x="65.90" y="526.80" font-size="8.0" text-anchor="middle" stroke="#231f20" stroke-width="0.15" >20</text>
<line x1="85.50" y1="515.80" x2="85.50" y2="518.40" stroke="#333" stroke-width="0.6" />
<text x="85.50" y="526.80" font-size="8.0" text-anchor="middle" stroke="#231f20" stroke-width="0.15" >40</text>
<line x1="105.30" y1="515.80" x2="105.30" y2="518.40" stroke="#333" stroke-width="0.6" />
<text x="105.30" y="526.80" font-size="8.0" text-anchor="middle" stroke="#231f20" stroke-width="0.15" >60</text>
<line x1="125.00" y1="515.80" x2="125.00" y2="518.40" stroke="#333" stroke-width="0.6" />
<text x="125.00" y="526.80" font-size="8.0" text-anchor="middle" stroke="#231f20" stroke-width="0.15" >80</text>
<line x1="144.80" y1="515.80" x2="144.80" y2="518.40" stroke="#333" stroke-width="0.6" />
<text x="144.80" y="526.80" font-size="8.0" text-anchor="middle" stroke="#231f20" stroke-width="0.15" >100</text>
<text x="100.50" y="540.20" font-size="8.9" text-anchor="middle" stroke="#231f20" stroke-width="0.15" >Age (years)</text>
<text x="10.40" y="455.00" font-size="9.2" text-anchor="middle" stroke="#231f20" stroke-width="0.15" transform="rotate(-90 10.40 455.00)" >sSNVs per neuron in PFC</text>
<line x1="47.00" y1="509.10" x2="149.50" y2="459.20" stroke="#5a8cf0" stroke-width="0.7" />
<circle cx="90.46" cy="397.01" r="2.30" fill="#3f6ff0" stroke="#1b1b2e" stroke-width="0.5" />
<circle cx="47.01" cy="509.13" r="2.30" fill="#3f6ff0" stroke="#1b1b2e" stroke-width="0.5" />
<circle cx="47.01" cy="511.76" r="2.30" fill="#3f6ff0" stroke="#1b1b2e" stroke-width="0.5" />
<circle cx="47.01" cy="514.39" r="2.30" fill="#3f6ff0" stroke="#1b1b2e" stroke-width="0.5" />
<circle cx="64.53" cy="479.70" r="2.30" fill="#3f6ff0" stroke="#1b1b2e" stroke-width="0.5" />
<circle cx="64.53" cy="487.76" r="2.30" fill="#3f6ff0" stroke="#1b1b2e" stroke-width="0.5" />
<circle cx="65.93" cy="495.99" r="2.30" fill="#3f6ff0" stroke="#1b1b2e" stroke-width="0.5" />
<circle cx="64.53" cy="497.74" r="2.30" fill="#3f6ff0" stroke="#1b1b2e" stroke-width="0.5" />
<circle cx="61.02" cy="500.37" r="2.30" fill="#3f6ff0" stroke="#1b1b2e" stroke-width="0.5" />
<circle cx="65.40" cy="499.50" r="2.30" fill="#3f6ff0" stroke="#1b1b2e" stroke-width="0.5" />
<circle cx="62.78" cy="502.12" r="2.30" fill="#3f6ff0" stroke="#1b1b2e" stroke-width="0.5" />
<circle cx="61.02" cy="504.75" r="2.30" fill="#3f6ff0" stroke="#1b1b2e" stroke-width="0.5" />
<circle cx="65.93" cy="503.88" r="2.30" fill="#3f6ff0" stroke="#1b1b2e" stroke-width="0.5" />
<circle cx="61.02" cy="507.38" r="2.30" fill="#3f6ff0" stroke="#1b1b2e" stroke-width="0.5" />
<circle cx="65.40" cy="507.38" r="2.30" fill="#3f6ff0" stroke="#1b1b2e" stroke-width="0.5" />
<circle cx="63.30" cy="510.88" r="2.30" fill="#3f6ff0" stroke="#1b1b2e" stroke-width="0.5" />
<circle cx="61.02" cy="505.63" r="2.30" fill="#3f6ff0" stroke="#1b1b2e" stroke-width="0.5" />
<circle cx="64.18" cy="501.25" r="2.30" fill="#3f6ff0" stroke="#1b1b2e" stroke-width="0.5" />
<circle cx="87.30" cy="481.98" r="2.30" fill="#3f6ff0" stroke="#1b1b2e" stroke-width="0.5" />
<circle cx="87.30" cy="491.61" r="2.30" fill="#3f6ff0" stroke="#1b1b2e" stroke-width="0.5" />
<circle cx="87.65" cy="495.12" r="2.30" fill="#3f6ff0" stroke="#1b1b2e" stroke-width="0.5" />
<circle cx="87.30" cy="500.37" r="2.30" fill="#3f6ff0" stroke="#1b1b2e" stroke-width="0.5" />
<circle cx="87.30" cy="510.01" r="2.30" fill="#3f6ff0" stroke="#1b1b2e" stroke-width="0.5" />
<circle cx="90.81" cy="487.23" r="2.30" fill="#3f6ff0" stroke="#1b1b2e" stroke-width="0.5" />
<circle cx="90.81" cy="490.74" r="2.30" fill="#3f6ff0" stroke="#1b1b2e" stroke-width="0.5" />
<circle cx="94.31" cy="483.73" r="2.30" fill="#3f6ff0" stroke="#1b1b2e" stroke-width="0.5" />
<circle cx="94.31" cy="486.36" r="2.30" fill="#3f6ff0" stroke="#1b1b2e" stroke-width="0.5" />
<circle cx="94.31" cy="492.49" r="2.30" fill="#3f6ff0" stroke="#1b1b2e" stroke-width="0.5" />
<circle cx="87.30" cy="496.87" r="2.30" fill="#3f6ff0" stroke="#1b1b2e" stroke-width="0.5" />
<circle cx="102.19" cy="481.10" r="2.30" fill="#3f6ff0" stroke="#1b1b2e" stroke-width="0.5" />
<circle cx="102.19" cy="484.60" r="2.30" fill="#3f6ff0" stroke="#1b1b2e" stroke-width="0.5" />
<circle cx="102.19" cy="488.11" r="2.30" fill="#3f6ff0" stroke="#1b1b2e" stroke-width="0.5" />
<circle cx="113.58" cy="470.59" r="2.30" fill="#3f6ff0" stroke="#1b1b2e" stroke-width="0.5" />
<circle cx="113.58" cy="477.60" r="2.30" fill="#3f6ff0" stroke="#1b1b2e" stroke-width="0.5" />
<circle cx="113.58" cy="481.98" r="2.30" fill="#3f6ff0" stroke="#1b1b2e" stroke-width="0.5" />
<circle cx="113.58" cy="483.73" r="2.30" fill="#3f6ff0" stroke="#1b1b2e" stroke-width="0.5" />
<circle cx="121.46" cy="439.93" r="2.30" fill="#3f6ff0" stroke="#1b1b2e" stroke-width="0.5" />
<circle cx="120.06" cy="450.79" r="2.30" fill="#3f6ff0" stroke="#1b1b2e" stroke-width="0.5" />
<circle cx="124.97" cy="456.92" r="2.30" fill="#3f6ff0" stroke="#1b1b2e" stroke-width="0.5" />
<circle cx="121.46" cy="462.18" r="2.30" fill="#3f6ff0" stroke="#1b1b2e" stroke-width="0.5" />
<circle cx="126.72" cy="460.95" r="2.30" fill="#3f6ff0" stroke="#1b1b2e" stroke-width="0.5" />
<circle cx="123.22" cy="465.33" r="2.30" fill="#3f6ff0" stroke="#1b1b2e" stroke-width="0.5" />
<circle cx="127.60" cy="467.96" r="2.30" fill="#3f6ff0" stroke="#1b1b2e" stroke-width="0.5" />
<circle cx="124.09" cy="469.71" r="2.30" fill="#3f6ff0" stroke="#1b1b2e" stroke-width="0.5" />
<circle cx="126.72" cy="472.34" r="2.30" fill="#3f6ff0" stroke="#1b1b2e" stroke-width="0.5" />
<circle cx="120.59" cy="475.84" r="2.30" fill="#3f6ff0" stroke="#1b1b2e" stroke-width="0.5" />
<circle cx="123.22" cy="476.72" r="2.30" fill="#3f6ff0" stroke="#1b1b2e" stroke-width="0.5" />
<circle cx="125.84" cy="474.97" r="2.30" fill="#3f6ff0" stroke="#1b1b2e" stroke-width="0.5" />
<circle cx="124.97" cy="481.98" r="2.30" fill="#3f6ff0" stroke="#1b1b2e" stroke-width="0.5" />
<circle cx="127.60" cy="484.60" r="2.30" fill="#3f6ff0" stroke="#1b1b2e" stroke-width="0.5" />
<circle cx="124.09" cy="479.35" r="2.30" fill="#3f6ff0" stroke="#1b1b2e" stroke-width="0.5" />
<circle cx="148.27" cy="464.46" r="2.30" fill="#3f6ff0" stroke="#1b1b2e" stroke-width="0.5" />
<circle cx="148.27" cy="469.71" r="2.30" fill="#3f6ff0" stroke="#1b1b2e" stroke-width="0.5" />
<circle cx="148.27" cy="474.09" r="2.30" fill="#3f6ff0" stroke="#1b1b2e" stroke-width="0.5" />
<circle cx="148.27" cy="477.95" r="2.30" fill="#3f6ff0" stroke="#1b1b2e" stroke-width="0.5" />
<text x="182.70" y="383.20" font-size="10.8" font-weight="bold" fill="#000" stroke="#000" stroke-width="0.35">e</text>
<line x1="226.70" y1="393.40" x2="226.70" y2="516.10" stroke="#333" stroke-width="0.7" />
<line x1="224.10" y1="397.40" x2="226.70" y2="397.40" stroke="#333" stroke-width="0.6" />
<text x="223.20" y="400.20" font-size="8.0" text-anchor="end" stroke="#231f20" stroke-width="0.15" >5,000</text>
<line x1="224.10" y1="421.00" x2="226.70" y2="421.00" stroke="#333" stroke-width="0.6" />
<text x="223.20" y="423.80" font-size="8.0" text-anchor="end" stroke="#231f20" stroke-width="0.15" >4,000</text>
<line x1="224.10" y1="444.30" x2="226.70" y2="444.30" stroke="#333" stroke-width="0.6" />
<text x="223.20" y="447.10" font-size="8.0" text-anchor="end" stroke="#231f20" stroke-width="0.15" >3,000</text>
<line x1="224.10" y1="467.40" x2="226.70" y2="467.40" stroke="#333" stroke-width="0.6" />
<text x="223.20" y="470.20" font-size="8.0" text-anchor="end" stroke="#231f20" stroke-width="0.15" >2,000</text>
<line x1="224.10" y1="491.10" x2="226.70" y2="491.10" stroke="#333" stroke-width="0.6" />
<text x="223.20" y="493.90" font-size="8.0" text-anchor="end" stroke="#231f20" stroke-width="0.15" >1,000</text>
<line x1="224.10" y1="514.40" x2="226.70" y2="514.40" stroke="#333" stroke-width="0.6" />
<text x="223.20" y="517.20" font-size="8.0" text-anchor="end" stroke="#231f20" stroke-width="0.15" >0</text>
<line x1="226.70" y1="516.10" x2="336.50" y2="516.10" stroke="#333" stroke-width="0.7" />
<line x1="227.40" y1="516.10" x2="227.40" y2="518.70" stroke="#333" stroke-width="0.6" />
<text x="227.40" y="526.80" font-size="8.0" text-anchor="middle" stroke="#231f20" stroke-width="0.15" >0</text>
<line x1="247.20" y1="516.10" x2="247.20" y2="518.70" stroke="#333" stroke-width="0.6" />
<text x="247.20" y="526.80" font-size="8.0" text-anchor="middle" stroke="#231f20" stroke-width="0.15" >20</text>
<line x1="267.00" y1="516.10" x2="267.00" y2="518.70" stroke="#333" stroke-width="0.6" />
<text x="267.00" y="526.80" font-size="8.0" text-anchor="middle" stroke="#231f20" stroke-width="0.15" >40</text>
<line x1="286.60" y1="516.10" x2="286.60" y2="518.70" stroke="#333" stroke-width="0.6" />
<text x="286.60" y="526.80" font-size="8.0" text-anchor="middle" stroke="#231f20" stroke-width="0.15" >60</text>
<line x1="306.20" y1="516.10" x2="306.20" y2="518.70" stroke="#333" stroke-width="0.6" />
<text x="306.20" y="526.80" font-size="8.0" text-anchor="middle" stroke="#231f20" stroke-width="0.15" >80</text>
<line x1="326.00" y1="516.10" x2="326.00" y2="518.70" stroke="#333" stroke-width="0.6" />
<text x="326.00" y="526.80" font-size="8.0" text-anchor="middle" stroke="#231f20" stroke-width="0.15" >100</text>
<text x="281.40" y="540.20" font-size="8.9" text-anchor="middle" stroke="#231f20" stroke-width="0.15" >Age (years)</text>
<text x="192.00" y="455.00" font-size="9.2" text-anchor="middle" stroke="#231f20" stroke-width="0.15" transform="rotate(-90 192.00 455.00)" >sSNVs per neuron in HC CA1</text>
<line x1="271.70" y1="490.70" x2="330.70" y2="456.90" stroke="#6ab8f0" stroke-width="0.7" />
<path d="M305.47,409.25L311.47,409.25L308.47,404.03Z" fill="#58b2f0" stroke="#1b1b2e" stroke-width="0.55" stroke-linejoin="round"/>
<path d="M305.47,409.78L311.47,409.78L308.47,404.56Z" fill="#58b2f0" stroke="#1b1b2e" stroke-width="0.55" stroke-linejoin="round"/>
<path d="M306.00,439.04L312.00,439.04L309.00,433.82Z" fill="#58b2f0" stroke="#1b1b2e" stroke-width="0.55" stroke-linejoin="round"/>
<path d="M305.47,445.17L311.47,445.17L308.47,439.95Z" fill="#58b2f0" stroke="#1b1b2e" stroke-width="0.55" stroke-linejoin="round"/>
<path d="M305.47,446.92L311.47,446.92L308.47,441.70Z" fill="#58b2f0" stroke="#1b1b2e" stroke-width="0.55" stroke-linejoin="round"/>
<path d="M305.47,453.58L311.47,453.58L308.47,448.36Z" fill="#58b2f0" stroke="#1b1b2e" stroke-width="0.55" stroke-linejoin="round"/>
<path d="M306.00,466.54L312.00,466.54L309.00,461.32Z" fill="#58b2f0" stroke="#1b1b2e" stroke-width="0.55" stroke-linejoin="round"/>
<path d="M306.00,471.80L312.00,471.80L309.00,466.58Z" fill="#58b2f0" stroke="#1b1b2e" stroke-width="0.55" stroke-linejoin="round"/>
<path d="M305.47,480.21L311.47,480.21L308.47,474.99Z" fill="#58b2f0" stroke="#1b1b2e" stroke-width="0.55" stroke-linejoin="round"/>
<path d="M306.00,492.82L312.00,492.82L309.00,487.60Z" fill="#58b2f0" stroke="#1b1b2e" stroke-width="0.55" stroke-linejoin="round"/>
<path d="M268.68,486.34L274.68,486.34L271.68,481.12Z" fill="#58b2f0" stroke="#1b1b2e" stroke-width="0.55" stroke-linejoin="round"/>
<path d="M268.68,488.97L274.68,488.97L271.68,483.75Z" fill="#58b2f0" stroke="#1b1b2e" stroke-width="0.55" stroke-linejoin="round"/>
<path d="M268.68,497.73L274.68,497.73L271.68,492.51Z" fill="#58b2f0" stroke="#1b1b2e" stroke-width="0.55" stroke-linejoin="round"/>
<path d="M268.68,498.60L274.68,498.60L271.68,493.38Z" fill="#58b2f0" stroke="#1b1b2e" stroke-width="0.55" stroke-linejoin="round"/>
<path d="M280.42,492.82L286.42,492.82L283.42,487.60Z" fill="#58b2f0" stroke="#1b1b2e" stroke-width="0.55" stroke-linejoin="round"/>
<path d="M280.42,501.58L286.42,501.58L283.42,496.36Z" fill="#58b2f0" stroke="#1b1b2e" stroke-width="0.55" stroke-linejoin="round"/>
<path d="M280.42,510.34L286.42,510.34L283.42,505.12Z" fill="#58b2f0" stroke="#1b1b2e" stroke-width="0.55" stroke-linejoin="round"/>
<path d="M291.98,474.07L297.98,474.07L294.98,468.85Z" fill="#58b2f0" stroke="#1b1b2e" stroke-width="0.55" stroke-linejoin="round"/>
<path d="M291.98,476.70L297.98,476.70L294.98,471.48Z" fill="#58b2f0" stroke="#1b1b2e" stroke-width="0.55" stroke-linejoin="round"/>
<path d="M291.98,481.08L297.98,481.08L294.98,475.86Z" fill="#58b2f0" stroke="#1b1b2e" stroke-width="0.55" stroke-linejoin="round"/>
<path d="M298.46,471.45L304.46,471.45L301.46,466.23Z" fill="#58b2f0" stroke="#1b1b2e" stroke-width="0.55" stroke-linejoin="round"/>
<path d="M298.46,476.70L304.46,476.70L301.46,471.48Z" fill="#58b2f0" stroke="#1b1b2e" stroke-width="0.55" stroke-linejoin="round"/>
<path d="M298.46,478.45L304.46,478.45L301.46,473.23Z" fill="#58b2f0" stroke="#1b1b2e" stroke-width="0.55" stroke-linejoin="round"/>
<path d="M298.46,481.08L304.46,481.08L301.46,475.86Z" fill="#58b2f0" stroke="#1b1b2e" stroke-width="0.55" stroke-linejoin="round"/>
<path d="M298.46,487.21L304.46,487.21L301.46,481.99Z" fill="#58b2f0" stroke="#1b1b2e" stroke-width="0.55" stroke-linejoin="round"/>
<path d="M293.21,481.96L299.21,481.96L296.21,476.74Z" fill="#58b2f0" stroke="#1b1b2e" stroke-width="0.55" stroke-linejoin="round"/>
<path d="M326.50,465.84L332.50,465.84L329.50,460.62Z" fill="#58b2f0" stroke="#1b1b2e" stroke-width="0.55" stroke-linejoin="round"/>
<path d="M326.50,475.83L332.50,475.83L329.50,470.61Z" fill="#58b2f0" stroke="#1b1b2e" stroke-width="0.55" stroke-linejoin="round"/>
<path d="M326.50,483.36L332.50,483.36L329.50,478.14Z" fill="#58b2f0" stroke="#1b1b2e" stroke-width="0.55" stroke-linejoin="round"/>
<path d="M326.50,493.35L332.50,493.35L329.50,488.13Z" fill="#58b2f0" stroke="#1b1b2e" stroke-width="0.55" stroke-linejoin="round"/>
<text x="362.40" y="383.20" font-size="10.8" font-weight="bold" fill="#000" stroke="#000" stroke-width="0.35">f</text>
<line x1="408.70" y1="393.40" x2="408.70" y2="516.10" stroke="#333" stroke-width="0.7" />
<line x1="406.10" y1="397.40" x2="408.70" y2="397.40" stroke="#333" stroke-width="0.6" />
<text x="405.20" y="400.20" font-size="8.0" text-anchor="end" stroke="#231f20" stroke-width="0.15" >5,000</text>
<line x1="406.10" y1="421.00" x2="408.70" y2="421.00" stroke="#333" stroke-width="0.6" />
<text x="405.20" y="423.80" font-size="8.0" text-anchor="end" stroke="#231f20" stroke-width="0.15" >4,000</text>
<line x1="406.10" y1="444.30" x2="408.70" y2="444.30" stroke="#333" stroke-width="0.6" />
<text x="405.20" y="447.10" font-size="8.0" text-anchor="end" stroke="#231f20" stroke-width="0.15" >3,000</text>
<line x1="406.10" y1="467.40" x2="408.70" y2="467.40" stroke="#333" stroke-width="0.6" />
<text x="405.20" y="470.20" font-size="8.0" text-anchor="end" stroke="#231f20" stroke-width="0.15" >2,000</text>
<line x1="406.10" y1="491.10" x2="408.70" y2="491.10" stroke="#333" stroke-width="0.6" />
<text x="405.20" y="493.90" font-size="8.0" text-anchor="end" stroke="#231f20" stroke-width="0.15" >1,000</text>
<line x1="406.10" y1="514.40" x2="408.70" y2="514.40" stroke="#333" stroke-width="0.6" />
<text x="405.20" y="517.20" font-size="8.0" text-anchor="end" stroke="#231f20" stroke-width="0.15" >0</text>
<line x1="408.70" y1="516.10" x2="518.50" y2="516.10" stroke="#333" stroke-width="0.7" />
<line x1="409.40" y1="516.10" x2="409.40" y2="518.70" stroke="#333" stroke-width="0.6" />
<text x="409.40" y="526.80" font-size="8.0" text-anchor="middle" stroke="#231f20" stroke-width="0.15" >0</text>
<line x1="429.20" y1="516.10" x2="429.20" y2="518.70" stroke="#333" stroke-width="0.6" />
<text x="429.20" y="526.80" font-size="8.0" text-anchor="middle" stroke="#231f20" stroke-width="0.15" >20</text>
<line x1="449.00" y1="516.10" x2="449.00" y2="518.70" stroke="#333" stroke-width="0.6" />
<text x="449.00" y="526.80" font-size="8.0" text-anchor="middle" stroke="#231f20" stroke-width="0.15" >40</text>
<line x1="468.60" y1="516.10" x2="468.60" y2="518.70" stroke="#333" stroke-width="0.6" />
<text x="468.60" y="526.80" font-size="8.0" text-anchor="middle" stroke="#231f20" stroke-width="0.15" >60</text>
<line x1="488.20" y1="516.10" x2="488.20" y2="518.70" stroke="#333" stroke-width="0.6" />
<text x="488.20" y="526.80" font-size="8.0" text-anchor="middle" stroke="#231f20" stroke-width="0.15" >80</text>
<line x1="508.00" y1="516.10" x2="508.00" y2="518.70" stroke="#333" stroke-width="0.6" />
<text x="508.00" y="526.80" font-size="8.0" text-anchor="middle" stroke="#231f20" stroke-width="0.15" >100</text>
<text x="463.50" y="540.20" font-size="8.9" text-anchor="middle" stroke="#231f20" stroke-width="0.15" >Age (years)</text>
<text x="375.40" y="454.50" font-size="9.2" text-anchor="middle" stroke="#231f20" stroke-width="0.15" transform="rotate(-90 375.40 454.50)" >sSNVs per neuron in PFC and HC</text>
<line x1="409.50" y1="509.20" x2="512.80" y2="457.20" stroke="#3f6ff0" stroke-width="0.7" />
<line x1="409.50" y1="509.60" x2="512.80" y2="459.20" stroke="#7ac0f4" stroke-width="0.7" />
<circle cx="453.33" cy="397.01" r="2.30" fill="#3f6ff0" stroke="#1b1b2e" stroke-width="0.5" />
<circle cx="409.88" cy="509.13" r="2.30" fill="#3f6ff0" stroke="#1b1b2e" stroke-width="0.5" />
<circle cx="409.88" cy="511.76" r="2.30" fill="#3f6ff0" stroke="#1b1b2e" stroke-width="0.5" />
<circle cx="409.88" cy="514.39" r="2.30" fill="#3f6ff0" stroke="#1b1b2e" stroke-width="0.5" />
<circle cx="427.40" cy="479.70" r="2.30" fill="#3f6ff0" stroke="#1b1b2e" stroke-width="0.5" />
<circle cx="427.40" cy="487.76" r="2.30" fill="#3f6ff0" stroke="#1b1b2e" stroke-width="0.5" />
<circle cx="428.80" cy="495.99" r="2.30" fill="#3f6ff0" stroke="#1b1b2e" stroke-width="0.5" />
<circle cx="427.40" cy="497.74" r="2.30" fill="#3f6ff0" stroke="#1b1b2e" stroke-width="0.5" />
<circle cx="423.90" cy="500.37" r="2.30" fill="#3f6ff0" stroke="#1b1b2e" stroke-width="0.5" />
<circle cx="428.28" cy="499.50" r="2.30" fill="#3f6ff0" stroke="#1b1b2e" stroke-width="0.5" />
<circle cx="425.65" cy="502.12" r="2.30" fill="#3f6ff0" stroke="#1b1b2e" stroke-width="0.5" />
<circle cx="423.90" cy="504.75" r="2.30" fill="#3f6ff0" stroke="#1b1b2e" stroke-width="0.5" />
<circle cx="428.80" cy="503.88" r="2.30" fill="#3f6ff0" stroke="#1b1b2e" stroke-width="0.5" />
<circle cx="423.90" cy="507.38" r="2.30" fill="#3f6ff0" stroke="#1b1b2e" stroke-width="0.5" />
<circle cx="428.28" cy="507.38" r="2.30" fill="#3f6ff0" stroke="#1b1b2e" stroke-width="0.5" />
<circle cx="426.18" cy="510.88" r="2.30" fill="#3f6ff0" stroke="#1b1b2e" stroke-width="0.5" />
<circle cx="423.90" cy="505.63" r="2.30" fill="#3f6ff0" stroke="#1b1b2e" stroke-width="0.5" />
<circle cx="427.05" cy="501.25" r="2.30" fill="#3f6ff0" stroke="#1b1b2e" stroke-width="0.5" />
<circle cx="450.18" cy="481.98" r="2.30" fill="#3f6ff0" stroke="#1b1b2e" stroke-width="0.5" />
<circle cx="450.18" cy="491.61" r="2.30" fill="#3f6ff0" stroke="#1b1b2e" stroke-width="0.5" />
<circle cx="450.53" cy="495.12" r="2.30" fill="#3f6ff0" stroke="#1b1b2e" stroke-width="0.5" />
<circle cx="450.18" cy="500.37" r="2.30" fill="#3f6ff0" stroke="#1b1b2e" stroke-width="0.5" />
<circle cx="450.18" cy="510.01" r="2.30" fill="#3f6ff0" stroke="#1b1b2e" stroke-width="0.5" />
<circle cx="453.68" cy="487.23" r="2.30" fill="#3f6ff0" stroke="#1b1b2e" stroke-width="0.5" />
<circle cx="453.68" cy="490.74" r="2.30" fill="#3f6ff0" stroke="#1b1b2e" stroke-width="0.5" />
<circle cx="457.19" cy="483.73" r="2.30" fill="#3f6ff0" stroke="#1b1b2e" stroke-width="0.5" />
<circle cx="457.19" cy="486.36" r="2.30" fill="#3f6ff0" stroke="#1b1b2e" stroke-width="0.5" />
<circle cx="457.19" cy="492.49" r="2.30" fill="#3f6ff0" stroke="#1b1b2e" stroke-width="0.5" />
<circle cx="450.18" cy="496.87" r="2.30" fill="#3f6ff0" stroke="#1b1b2e" stroke-width="0.5" />
<circle cx="465.07" cy="481.10" r="2.30" fill="#3f6ff0" stroke="#1b1b2e" stroke-width="0.5" />
<circle cx="465.07" cy="484.60" r="2.30" fill="#3f6ff0" stroke="#1b1b2e" stroke-width="0.5" />
<circle cx="465.07" cy="488.11" r="2.30" fill="#3f6ff0" stroke="#1b1b2e" stroke-width="0.5" />
<circle cx="476.46" cy="470.59" r="2.30" fill="#3f6ff0" stroke="#1b1b2e" stroke-width="0.5" />
<circle cx="476.46" cy="477.60" r="2.30" fill="#3f6ff0" stroke="#1b1b2e" stroke-width="0.5" />
<circle cx="476.46" cy="481.98" r="2.30" fill="#3f6ff0" stroke="#1b1b2e" stroke-width="0.5" />
<circle cx="476.46" cy="483.73" r="2.30" fill="#3f6ff0" stroke="#1b1b2e" stroke-width="0.5" />
<circle cx="484.34" cy="439.93" r="2.30" fill="#3f6ff0" stroke="#1b1b2e" stroke-width="0.5" />
<circle cx="482.94" cy="450.79" r="2.30" fill="#3f6ff0" stroke="#1b1b2e" stroke-width="0.5" />
<circle cx="487.84" cy="456.92" r="2.30" fill="#3f6ff0" stroke="#1b1b2e" stroke-width="0.5" />
<circle cx="484.34" cy="462.18" r="2.30" fill="#3f6ff0" stroke="#1b1b2e" stroke-width="0.5" />
<circle cx="489.60" cy="460.95" r="2.30" fill="#3f6ff0" stroke="#1b1b2e" stroke-width="0.5" />
<circle cx="486.09" cy="465.33" r="2.30" fill="#3f6ff0" stroke="#1b1b2e" stroke-width="0.5" />
<circle cx="490.47" cy="467.96" r="2.30" fill="#3f6ff0" stroke="#1b1b2e" stroke-width="0.5" />
<circle cx="486.97" cy="469.71" r="2.30" fill="#3f6ff0" stroke="#1b1b2e" stroke-width="0.5" />
<circle cx="489.60" cy="472.34" r="2.30" fill="#3f6ff0" stroke="#1b1b2e" stroke-width="0.5" />
<circle cx="483.46" cy="475.84" r="2.30" fill="#3f6ff0" stroke="#1b1b2e" stroke-width="0.5" />
<circle cx="486.09" cy="476.72" r="2.30" fill="#3f6ff0" stroke="#1b1b2e" stroke-width="0.5" />
<circle cx="488.72" cy="474.97" r="2.30" fill="#3f6ff0" stroke="#1b1b2e" stroke-width="0.5" />
<circle cx="487.84" cy="481.98" r="2.30" fill="#3f6ff0" stroke="#1b1b2e" stroke-width="0.5" />
<circle cx="490.47" cy="484.60" r="2.30" fill="#3f6ff0" stroke="#1b1b2e" stroke-width="0.5" />
<circle cx="486.97" cy="479.35" r="2.30" fill="#3f6ff0" stroke="#1b1b2e" stroke-width="0.5" />
<circle cx="511.15" cy="464.46" r="2.30" fill="#3f6ff0" stroke="#1b1b2e" stroke-width="0.5" />
<circle cx="511.15" cy="469.71" r="2.30" fill="#3f6ff0" stroke="#1b1b2e" stroke-width="0.5" />
<circle cx="511.15" cy="474.09" r="2.30" fill="#3f6ff0" stroke="#1b1b2e" stroke-width="0.5" />
<circle cx="511.15" cy="477.95" r="2.30" fill="#3f6ff0" stroke="#1b1b2e" stroke-width="0.5" />
<path d="M487.47,409.25L493.47,409.25L490.47,404.03Z" fill="#58b2f0" stroke="#1b1b2e" stroke-width="0.55" stroke-linejoin="round"/>
<path d="M487.47,409.78L493.47,409.78L490.47,404.56Z" fill="#58b2f0" stroke="#1b1b2e" stroke-width="0.55" stroke-linejoin="round"/>
<path d="M488.00,439.04L494.00,439.04L491.00,433.82Z" fill="#58b2f0" stroke="#1b1b2e" stroke-width="0.55" stroke-linejoin="round"/>
<path d="M487.47,445.17L493.47,445.17L490.47,439.95Z" fill="#58b2f0" stroke="#1b1b2e" stroke-width="0.55" stroke-linejoin="round"/>
<path d="M487.47,446.92L493.47,446.92L490.47,441.70Z" fill="#58b2f0" stroke="#1b1b2e" stroke-width="0.55" stroke-linejoin="round"/>
<path d="M487.47,453.58L493.47,453.58L490.47,448.36Z" fill="#58b2f0" stroke="#1b1b2e" stroke-width="0.55" stroke-linejoin="round"/>
<path d="M488.00,466.54L494.00,466.54L491.00,461.32Z" fill="#58b2f0" stroke="#1b1b2e" stroke-width="0.55" stroke-linejoin="round"/>
<path d="M488.00,471.80L494.00,471.80L491.00,466.58Z" fill="#58b2f0" stroke="#1b1b2e" stroke-width="0.55" stroke-linejoin="round"/>
<path d="M487.47,480.21L493.47,480.21L490.47,474.99Z" fill="#58b2f0" stroke="#1b1b2e" stroke-width="0.55" stroke-linejoin="round"/>
<path d="M488.00,492.82L494.00,492.82L491.00,487.60Z" fill="#58b2f0" stroke="#1b1b2e" stroke-width="0.55" stroke-linejoin="round"/>
<path d="M450.68,486.34L456.68,486.34L453.68,481.12Z" fill="#58b2f0" stroke="#1b1b2e" stroke-width="0.55" stroke-linejoin="round"/>
<path d="M450.68,488.97L456.68,488.97L453.68,483.75Z" fill="#58b2f0" stroke="#1b1b2e" stroke-width="0.55" stroke-linejoin="round"/>
<path d="M450.68,497.73L456.68,497.73L453.68,492.51Z" fill="#58b2f0" stroke="#1b1b2e" stroke-width="0.55" stroke-linejoin="round"/>
<path d="M450.68,498.60L456.68,498.60L453.68,493.38Z" fill="#58b2f0" stroke="#1b1b2e" stroke-width="0.55" stroke-linejoin="round"/>
<path d="M462.42,492.82L468.42,492.82L465.42,487.60Z" fill="#58b2f0" stroke="#1b1b2e" stroke-width="0.55" stroke-linejoin="round"/>
<path d="M462.42,501.58L468.42,501.58L465.42,496.36Z" fill="#58b2f0" stroke="#1b1b2e" stroke-width="0.55" stroke-linejoin="round"/>
<path d="M462.42,510.34L468.42,510.34L465.42,505.12Z" fill="#58b2f0" stroke="#1b1b2e" stroke-width="0.55" stroke-linejoin="round"/>
<path d="M473.98,474.07L479.98,474.07L476.98,468.85Z" fill="#58b2f0" stroke="#1b1b2e" stroke-width="0.55" stroke-linejoin="round"/>
<path d="M473.98,476.70L479.98,476.70L476.98,471.48Z" fill="#58b2f0" stroke="#1b1b2e" stroke-width="0.55" stroke-linejoin="round"/>
<path d="M473.98,481.08L479.98,481.08L476.98,475.86Z" fill="#58b2f0" stroke="#1b1b2e" stroke-width="0.55" stroke-linejoin="round"/>
<path d="M480.46,471.45L486.46,471.45L483.46,466.23Z" fill="#58b2f0" stroke="#1b1b2e" stroke-width="0.55" stroke-linejoin="round"/>
<path d="M480.46,476.70L486.46,476.70L483.46,471.48Z" fill="#58b2f0" stroke="#1b1b2e" stroke-width="0.55" stroke-linejoin="round"/>
<path d="M480.46,478.45L486.46,478.45L483.46,473.23Z" fill="#58b2f0" stroke="#1b1b2e" stroke-width="0.55" stroke-linejoin="round"/>
<path d="M480.46,481.08L486.46,481.08L483.46,475.86Z" fill="#58b2f0" stroke="#1b1b2e" stroke-width="0.55" stroke-linejoin="round"/>
<path d="M480.46,487.21L486.46,487.21L483.46,481.99Z" fill="#58b2f0" stroke="#1b1b2e" stroke-width="0.55" stroke-linejoin="round"/>
<path d="M475.21,481.96L481.21,481.96L478.21,476.74Z" fill="#58b2f0" stroke="#1b1b2e" stroke-width="0.55" stroke-linejoin="round"/>
<path d="M508.50,465.84L514.50,465.84L511.50,460.62Z" fill="#58b2f0" stroke="#1b1b2e" stroke-width="0.55" stroke-linejoin="round"/>
<path d="M508.50,475.83L514.50,475.83L511.50,470.61Z" fill="#58b2f0" stroke="#1b1b2e" stroke-width="0.55" stroke-linejoin="round"/>
<path d="M508.50,483.36L514.50,483.36L511.50,478.14Z" fill="#58b2f0" stroke="#1b1b2e" stroke-width="0.55" stroke-linejoin="round"/>
<path d="M508.50,493.35L514.50,493.35L511.50,488.13Z" fill="#58b2f0" stroke="#1b1b2e" stroke-width="0.55" stroke-linejoin="round"/>
<text x="535.60" y="383.20" font-size="10.8" font-weight="bold" fill="#000" stroke="#000" stroke-width="0.35">g</text>
<line x1="588.00" y1="391.50" x2="588.00" y2="516.10" stroke="#333" stroke-width="0.7" />
<line x1="585.40" y1="392.90" x2="588.00" y2="392.90" stroke="#333" stroke-width="0.6" />
<text x="583.30" y="395.70" font-size="8.0" text-anchor="end" stroke="#231f20" stroke-width="0.15" >3,000</text>
<line x1="585.40" y1="413.30" x2="588.00" y2="413.30" stroke="#333" stroke-width="0.6" />
<text x="583.30" y="416.10" font-size="8.0" text-anchor="end" stroke="#231f20" stroke-width="0.15" >2,500</text>
<line x1="585.40" y1="433.40" x2="588.00" y2="433.40" stroke="#333" stroke-width="0.6" />
<text x="583.30" y="436.20" font-size="8.0" text-anchor="end" stroke="#231f20" stroke-width="0.15" >2,000</text>
<line x1="585.40" y1="453.40" x2="588.00" y2="453.40" stroke="#333" stroke-width="0.6" />
<text x="583.30" y="456.20" font-size="8.0" text-anchor="end" stroke="#231f20" stroke-width="0.15" >1,500</text>
<line x1="585.40" y1="473.50" x2="588.00" y2="473.50" stroke="#333" stroke-width="0.6" />
<text x="583.30" y="476.30" font-size="8.0" text-anchor="end" stroke="#231f20" stroke-width="0.15" >1,000</text>
<line x1="585.40" y1="494.00" x2="588.00" y2="494.00" stroke="#333" stroke-width="0.6" />
<text x="583.30" y="496.80" font-size="8.0" text-anchor="end" stroke="#231f20" stroke-width="0.15" >500</text>
<line x1="585.40" y1="514.30" x2="588.00" y2="514.30" stroke="#333" stroke-width="0.6" />
<text x="583.30" y="517.10" font-size="8.0" text-anchor="end" stroke="#231f20" stroke-width="0.15" >0</text>
<line x1="588.00" y1="516.10" x2="683.70" y2="516.10" stroke="#333" stroke-width="0.7" />
<line x1="588.30" y1="516.10" x2="588.30" y2="518.70" stroke="#333" stroke-width="0.6" />
<text x="588.30" y="526.80" font-size="8.0" text-anchor="middle" stroke="#231f20" stroke-width="0.15" >0</text>
<line x1="605.60" y1="516.10" x2="605.60" y2="518.70" stroke="#333" stroke-width="0.6" />
<text x="605.60" y="526.80" font-size="8.0" text-anchor="middle" stroke="#231f20" stroke-width="0.15" >20</text>
<line x1="622.90" y1="516.10" x2="622.90" y2="518.70" stroke="#333" stroke-width="0.6" />
<text x="622.90" y="526.80" font-size="8.0" text-anchor="middle" stroke="#231f20" stroke-width="0.15" >40</text>
<line x1="640.20" y1="516.10" x2="640.20" y2="518.70" stroke="#333" stroke-width="0.6" />
<text x="640.20" y="526.80" font-size="8.0" text-anchor="middle" stroke="#231f20" stroke-width="0.15" >60</text>
<line x1="657.50" y1="516.10" x2="657.50" y2="518.70" stroke="#333" stroke-width="0.6" />
<text x="657.50" y="526.80" font-size="8.0" text-anchor="middle" stroke="#231f20" stroke-width="0.15" >80</text>
<line x1="674.80" y1="516.10" x2="674.80" y2="518.70" stroke="#333" stroke-width="0.6" />
<text x="674.80" y="526.80" font-size="8.0" text-anchor="middle" stroke="#231f20" stroke-width="0.15" >100</text>
<text x="634.30" y="540.20" font-size="8.9" text-anchor="middle" stroke="#231f20" stroke-width="0.15" >Age (years)</text>
<text x="543.20" y="456.00" font-size="9.2" text-anchor="middle" stroke="#231f20" stroke-width="0.15" transform="rotate(-90 543.20 456.00)" >Signature A</text>
<text x="555.00" y="456.00" font-size="9.2" text-anchor="middle" stroke="#231f20" stroke-width="0.15" transform="rotate(-90 555.00 456.00)" >sSNVs per neuron</text>
<line x1="588.30" y1="509.20" x2="676.40" y2="447.90" stroke="#5a8cf0" stroke-width="0.7" />
<circle cx="589.08" cy="507.66" r="2.30" fill="#3f6ff0" stroke="#1b1b2e" stroke-width="0.5" />
<circle cx="589.08" cy="510.81" r="2.30" fill="#3f6ff0" stroke="#1b1b2e" stroke-width="0.5" />
<circle cx="589.08" cy="513.95" r="2.30" fill="#3f6ff0" stroke="#1b1b2e" stroke-width="0.5" />
<circle cx="605.27" cy="484.07" r="2.30" fill="#3f6ff0" stroke="#1b1b2e" stroke-width="0.5" />
<circle cx="600.87" cy="488.79" r="2.30" fill="#3f6ff0" stroke="#1b1b2e" stroke-width="0.5" />
<circle cx="604.02" cy="491.94" r="2.30" fill="#3f6ff0" stroke="#1b1b2e" stroke-width="0.5" />
<circle cx="600.87" cy="493.51" r="2.30" fill="#3f6ff0" stroke="#1b1b2e" stroke-width="0.5" />
<circle cx="605.27" cy="495.87" r="2.30" fill="#3f6ff0" stroke="#1b1b2e" stroke-width="0.5" />
<circle cx="600.87" cy="498.23" r="2.30" fill="#3f6ff0" stroke="#1b1b2e" stroke-width="0.5" />
<circle cx="604.02" cy="501.37" r="2.30" fill="#3f6ff0" stroke="#1b1b2e" stroke-width="0.5" />
<circle cx="600.87" cy="504.52" r="2.30" fill="#3f6ff0" stroke="#1b1b2e" stroke-width="0.5" />
<circle cx="605.59" cy="505.30" r="2.30" fill="#3f6ff0" stroke="#1b1b2e" stroke-width="0.5" />
<circle cx="604.02" cy="509.23" r="2.30" fill="#3f6ff0" stroke="#1b1b2e" stroke-width="0.5" />
<circle cx="600.87" cy="506.09" r="2.30" fill="#3f6ff0" stroke="#1b1b2e" stroke-width="0.5" />
<circle cx="605.59" cy="510.02" r="2.30" fill="#3f6ff0" stroke="#1b1b2e" stroke-width="0.5" />
<circle cx="604.02" cy="513.95" r="2.30" fill="#3f6ff0" stroke="#1b1b2e" stroke-width="0.5" />
<circle cx="601.66" cy="501.37" r="2.30" fill="#3f6ff0" stroke="#1b1b2e" stroke-width="0.5" />
<circle cx="603.23" cy="488.00" r="2.30" fill="#3f6ff0" stroke="#1b1b2e" stroke-width="0.5" />
<circle cx="602.44" cy="495.08" r="2.30" fill="#3f6ff0" stroke="#1b1b2e" stroke-width="0.5" />
<circle cx="601.66" cy="491.94" r="2.30" fill="#3f6ff0" stroke="#1b1b2e" stroke-width="0.5" />
<circle cx="626.82" cy="427.46" r="2.30" fill="#3f6ff0" stroke="#1b1b2e" stroke-width="0.5" />
<circle cx="624.46" cy="471.49" r="2.30" fill="#3f6ff0" stroke="#1b1b2e" stroke-width="0.5" />
<circle cx="626.82" cy="472.28" r="2.30" fill="#3f6ff0" stroke="#1b1b2e" stroke-width="0.5" />
<circle cx="630.75" cy="477.00" r="2.30" fill="#3f6ff0" stroke="#1b1b2e" stroke-width="0.5" />
<circle cx="624.46" cy="480.14" r="2.30" fill="#3f6ff0" stroke="#1b1b2e" stroke-width="0.5" />
<circle cx="630.75" cy="481.71" r="2.30" fill="#3f6ff0" stroke="#1b1b2e" stroke-width="0.5" />
<circle cx="626.82" cy="486.43" r="2.30" fill="#3f6ff0" stroke="#1b1b2e" stroke-width="0.5" />
<circle cx="624.46" cy="489.58" r="2.30" fill="#3f6ff0" stroke="#1b1b2e" stroke-width="0.5" />
<circle cx="630.75" cy="489.58" r="2.30" fill="#3f6ff0" stroke="#1b1b2e" stroke-width="0.5" />
<circle cx="624.46" cy="494.29" r="2.30" fill="#3f6ff0" stroke="#1b1b2e" stroke-width="0.5" />
<circle cx="626.82" cy="496.97" r="2.30" fill="#3f6ff0" stroke="#1b1b2e" stroke-width="0.5" />
<circle cx="624.46" cy="510.49" r="2.30" fill="#3f6ff0" stroke="#1b1b2e" stroke-width="0.5" />
<circle cx="627.60" cy="479.35" r="2.30" fill="#3f6ff0" stroke="#1b1b2e" stroke-width="0.5" />
<circle cx="623.67" cy="484.86" r="2.30" fill="#3f6ff0" stroke="#1b1b2e" stroke-width="0.5" />
<circle cx="637.04" cy="469.92" r="2.30" fill="#3f6ff0" stroke="#1b1b2e" stroke-width="0.5" />
<circle cx="637.04" cy="473.06" r="2.30" fill="#3f6ff0" stroke="#1b1b2e" stroke-width="0.5" />
<circle cx="637.04" cy="477.00" r="2.30" fill="#3f6ff0" stroke="#1b1b2e" stroke-width="0.5" />
<circle cx="637.04" cy="480.93" r="2.30" fill="#3f6ff0" stroke="#1b1b2e" stroke-width="0.5" />
<circle cx="647.73" cy="445.07" r="2.30" fill="#3f6ff0" stroke="#1b1b2e" stroke-width="0.5" />
<circle cx="647.73" cy="462.84" r="2.30" fill="#3f6ff0" stroke="#1b1b2e" stroke-width="0.5" />
<circle cx="647.73" cy="467.56" r="2.30" fill="#3f6ff0" stroke="#1b1b2e" stroke-width="0.5" />
<circle cx="648.05" cy="470.71" r="2.30" fill="#3f6ff0" stroke="#1b1b2e" stroke-width="0.5" />
<circle cx="654.34" cy="436.11" r="2.30" fill="#3f6ff0" stroke="#1b1b2e" stroke-width="0.5" />
<circle cx="656.70" cy="439.25" r="2.30" fill="#3f6ff0" stroke="#1b1b2e" stroke-width="0.5" />
<circle cx="659.06" cy="441.61" r="2.30" fill="#3f6ff0" stroke="#1b1b2e" stroke-width="0.5" />
<circle cx="657.48" cy="444.76" r="2.30" fill="#3f6ff0" stroke="#1b1b2e" stroke-width="0.5" />
<circle cx="659.06" cy="450.26" r="2.30" fill="#3f6ff0" stroke="#1b1b2e" stroke-width="0.5" />
<circle cx="654.34" cy="453.41" r="2.30" fill="#3f6ff0" stroke="#1b1b2e" stroke-width="0.5" />
<circle cx="655.91" cy="458.12" r="2.30" fill="#3f6ff0" stroke="#1b1b2e" stroke-width="0.5" />
<circle cx="659.06" cy="457.34" r="2.30" fill="#3f6ff0" stroke="#1b1b2e" stroke-width="0.5" />
<circle cx="653.55" cy="462.06" r="2.30" fill="#3f6ff0" stroke="#1b1b2e" stroke-width="0.5" />
<circle cx="656.70" cy="463.63" r="2.30" fill="#3f6ff0" stroke="#1b1b2e" stroke-width="0.5" />
<circle cx="659.06" cy="465.20" r="2.30" fill="#3f6ff0" stroke="#1b1b2e" stroke-width="0.5" />
<circle cx="659.06" cy="475.42" r="2.30" fill="#3f6ff0" stroke="#1b1b2e" stroke-width="0.5" />
<circle cx="655.91" cy="450.26" r="2.30" fill="#3f6ff0" stroke="#1b1b2e" stroke-width="0.5" />
<circle cx="651.98" cy="456.55" r="2.30" fill="#3f6ff0" stroke="#1b1b2e" stroke-width="0.5" />
<circle cx="657.48" cy="454.19" r="2.30" fill="#3f6ff0" stroke="#1b1b2e" stroke-width="0.5" />
<circle cx="677.61" cy="439.25" r="2.30" fill="#3f6ff0" stroke="#1b1b2e" stroke-width="0.5" />
<circle cx="677.61" cy="447.59" r="2.30" fill="#3f6ff0" stroke="#1b1b2e" stroke-width="0.5" />
<circle cx="677.61" cy="454.19" r="2.30" fill="#3f6ff0" stroke="#1b1b2e" stroke-width="0.5" />
<circle cx="677.61" cy="458.12" r="2.30" fill="#3f6ff0" stroke="#1b1b2e" stroke-width="0.5" />
<path d="M655.74,406.17L661.74,406.17L658.74,400.95Z" fill="#58b2f0" stroke="#1b1b2e" stroke-width="0.55" stroke-linejoin="round"/>
<path d="M656.37,434.47L662.37,434.47L659.37,429.25Z" fill="#58b2f0" stroke="#1b1b2e" stroke-width="0.55" stroke-linejoin="round"/>
<path d="M644.26,456.80L650.26,456.80L647.26,451.58Z" fill="#58b2f0" stroke="#1b1b2e" stroke-width="0.55" stroke-linejoin="round"/>
<path d="M644.26,460.73L650.26,460.73L647.26,455.51Z" fill="#58b2f0" stroke="#1b1b2e" stroke-width="0.55" stroke-linejoin="round"/>
<path d="M644.26,464.67L650.26,464.67L647.26,459.45Z" fill="#58b2f0" stroke="#1b1b2e" stroke-width="0.55" stroke-linejoin="round"/>
<path d="M649.77,481.96L655.77,481.96L652.77,476.74Z" fill="#58b2f0" stroke="#1b1b2e" stroke-width="0.55" stroke-linejoin="round"/>
<path d="M655.74,480.39L661.74,480.39L658.74,475.17Z" fill="#58b2f0" stroke="#1b1b2e" stroke-width="0.55" stroke-linejoin="round"/>
<path d="M655.74,483.54L661.74,483.54L658.74,478.32Z" fill="#58b2f0" stroke="#1b1b2e" stroke-width="0.55" stroke-linejoin="round"/>
<path d="M655.74,488.25L661.74,488.25L658.74,483.03Z" fill="#58b2f0" stroke="#1b1b2e" stroke-width="0.55" stroke-linejoin="round"/>
<path d="M655.74,492.19L661.74,492.19L658.74,486.97Z" fill="#58b2f0" stroke="#1b1b2e" stroke-width="0.55" stroke-linejoin="round"/>
<path d="M648.98,469.38L654.98,469.38L651.98,464.16Z" fill="#58b2f0" stroke="#1b1b2e" stroke-width="0.55" stroke-linejoin="round"/>
<path d="M656.06,463.88L662.06,463.88L659.06,458.66Z" fill="#58b2f0" stroke="#1b1b2e" stroke-width="0.55" stroke-linejoin="round"/>
<path d="M623.82,466.24L629.82,466.24L626.82,461.02Z" fill="#58b2f0" stroke="#1b1b2e" stroke-width="0.55" stroke-linejoin="round"/>
<path d="M623.82,479.61L629.82,479.61L626.82,474.39Z" fill="#58b2f0" stroke="#1b1b2e" stroke-width="0.55" stroke-linejoin="round"/>
<path d="M623.50,485.90L629.50,485.90L626.50,480.68Z" fill="#58b2f0" stroke="#1b1b2e" stroke-width="0.55" stroke-linejoin="round"/>
<path d="M623.82,490.61L629.82,490.61L626.82,485.39Z" fill="#58b2f0" stroke="#1b1b2e" stroke-width="0.55" stroke-linejoin="round"/>
<path d="M634.04,485.90L640.04,485.90L637.04,480.68Z" fill="#58b2f0" stroke="#1b1b2e" stroke-width="0.55" stroke-linejoin="round"/>
<path d="M634.04,500.05L640.04,500.05L637.04,494.83Z" fill="#58b2f0" stroke="#1b1b2e" stroke-width="0.55" stroke-linejoin="round"/>
<path d="M634.04,505.55L640.04,505.55L637.04,500.33Z" fill="#58b2f0" stroke="#1b1b2e" stroke-width="0.55" stroke-linejoin="round"/>
<path d="M634.04,507.13L640.04,507.13L637.04,501.91Z" fill="#58b2f0" stroke="#1b1b2e" stroke-width="0.55" stroke-linejoin="round"/>
<path d="M674.93,456.80L680.93,456.80L677.93,451.58Z" fill="#58b2f0" stroke="#1b1b2e" stroke-width="0.55" stroke-linejoin="round"/>
<path d="M674.93,469.38L680.93,469.38L677.93,464.16Z" fill="#58b2f0" stroke="#1b1b2e" stroke-width="0.55" stroke-linejoin="round"/>
<path d="M674.93,481.65L680.93,481.65L677.93,476.43Z" fill="#58b2f0" stroke="#1b1b2e" stroke-width="0.55" stroke-linejoin="round"/>
<text x="-0.20" y="561.20" font-size="10.8" font-weight="bold" fill="#000" stroke="#000" stroke-width="0.35">h</text>
<line x1="39.60" y1="563.50" x2="39.60" y2="753.00" stroke="#333" stroke-width="0.7" />
<line x1="37.00" y1="566.80" x2="39.60" y2="566.80" stroke="#333" stroke-width="0.6" />
<text x="34.00" y="569.60" font-size="8.2" text-anchor="end" stroke="#231f20" stroke-width="0.15" >10,000</text>
<line x1="37.00" y1="603.10" x2="39.60" y2="603.10" stroke="#333" stroke-width="0.6" />
<text x="34.00" y="605.90" font-size="8.2" text-anchor="end" stroke="#231f20" stroke-width="0.15" >8,000</text>
<line x1="37.00" y1="640.40" x2="39.60" y2="640.40" stroke="#333" stroke-width="0.6" />
<text x="34.00" y="643.20" font-size="8.2" text-anchor="end" stroke="#231f20" stroke-width="0.15" >6,000</text>
<line x1="37.00" y1="677.30" x2="39.60" y2="677.30" stroke="#333" stroke-width="0.6" />
<text x="34.00" y="680.10" font-size="8.2" text-anchor="end" stroke="#231f20" stroke-width="0.15" >4,000</text>
<line x1="37.00" y1="714.40" x2="39.60" y2="714.40" stroke="#333" stroke-width="0.6" />
<text x="34.00" y="717.20" font-size="8.2" text-anchor="end" stroke="#231f20" stroke-width="0.15" >2,000</text>
<line x1="37.00" y1="751.50" x2="39.60" y2="751.50" stroke="#333" stroke-width="0.6" />
<text x="34.00" y="754.30" font-size="8.2" text-anchor="end" stroke="#231f20" stroke-width="0.15" >0</text>
<line x1="39.60" y1="753.00" x2="236.90" y2="753.00" stroke="#333" stroke-width="0.7" />
<line x1="48.30" y1="753.00" x2="48.30" y2="755.60" stroke="#333" stroke-width="0.6" />
<text x="48.30" y="763.80" font-size="8.2" text-anchor="middle" stroke="#231f20" stroke-width="0.15" >0</text>
<line x1="91.10" y1="753.00" x2="91.10" y2="755.60" stroke="#333" stroke-width="0.6" />
<text x="91.10" y="763.80" font-size="8.2" text-anchor="middle" stroke="#231f20" stroke-width="0.15" >25</text>
<line x1="134.00" y1="753.00" x2="134.00" y2="755.60" stroke="#333" stroke-width="0.6" />
<text x="134.00" y="763.80" font-size="8.2" text-anchor="middle" stroke="#231f20" stroke-width="0.15" >50</text>
<line x1="177.00" y1="753.00" x2="177.00" y2="755.60" stroke="#333" stroke-width="0.6" />
<text x="177.00" y="763.80" font-size="8.2" text-anchor="middle" stroke="#231f20" stroke-width="0.15" >75</text>
<line x1="219.80" y1="753.00" x2="219.80" y2="755.60" stroke="#333" stroke-width="0.6" />
<text x="219.80" y="763.80" font-size="8.2" text-anchor="middle" stroke="#231f20" stroke-width="0.15" >100</text>
<text x="138.70" y="776.70" font-size="8.3" text-anchor="middle" stroke="#231f20" stroke-width="0.15" >Age (years)</text>
<text x="8.60" y="658.50" font-size="8.5" text-anchor="middle" stroke="#231f20" stroke-width="0.15" transform="rotate(-90 8.60 658.50)" >sSNVs per neuron</text>
<text x="49.60" y="573.70" font-size="8.6" stroke="#231f20" stroke-width="0.15" >Control</text>
<text x="92.60" y="573.70" font-size="8.6" stroke="#231f20" stroke-width="0.15" >AD</text>
<circle cx="53.30" cy="582.40" r="3.75" fill="#3f6ff0" stroke="#1b1b2e" stroke-width="0.6" />
<text x="61.30" y="585.30" font-size="8.4" stroke="#231f20" stroke-width="0.15" >PFC</text>
<path d="M49.30,597.48L57.30,597.48L53.30,590.52Z" fill="#58b2f0" stroke="#1b1b2e" stroke-width="0.6" stroke-linejoin="round"/>
<text x="61.30" y="597.40" font-size="8.4" stroke="#231f20" stroke-width="0.15" >HC</text>
<circle cx="96.30" cy="582.40" r="3.75" fill="#d85050" stroke="#1b1b2e" stroke-width="0.6" />
<text x="104.20" y="585.30" font-size="8.4" stroke="#231f20" stroke-width="0.15" >PFC</text>
<path d="M92.30,597.48L100.30,597.48L96.30,590.52Z" fill="#f47868" stroke="#1b1b2e" stroke-width="0.6" stroke-linejoin="round"/>
<text x="104.20" y="597.40" font-size="8.4" stroke="#231f20" stroke-width="0.15" >HC</text>
<line x1="146.80" y1="705.90" x2="207.20" y2="697.00" stroke="#f08a8a" stroke-width="0.7" />
<line x1="47.90" y1="747.60" x2="234.90" y2="708.00" stroke="#5a8cf0" stroke-width="0.7" />
<circle cx="150.06" cy="630.58" r="2.30" fill="#d85050" stroke="#1b1b2e" stroke-width="0.5" />
<circle cx="146.78" cy="644.87" r="2.30" fill="#d85050" stroke="#1b1b2e" stroke-width="0.5" />
<circle cx="150.06" cy="644.28" r="2.30" fill="#d85050" stroke="#1b1b2e" stroke-width="0.5" />
<circle cx="150.06" cy="670.18" r="2.30" fill="#d85050" stroke="#1b1b2e" stroke-width="0.5" />
<circle cx="167.03" cy="674.65" r="2.30" fill="#d85050" stroke="#1b1b2e" stroke-width="0.5" />
<circle cx="167.03" cy="679.12" r="2.30" fill="#d85050" stroke="#1b1b2e" stroke-width="0.5" />
<circle cx="146.78" cy="703.84" r="2.30" fill="#d85050" stroke="#1b1b2e" stroke-width="0.5" />
<circle cx="146.78" cy="717.83" r="2.30" fill="#d85050" stroke="#1b1b2e" stroke-width="0.5" />
<circle cx="146.78" cy="723.19" r="2.30" fill="#d85050" stroke="#1b1b2e" stroke-width="0.5" />
<circle cx="150.06" cy="726.77" r="2.30" fill="#d85050" stroke="#1b1b2e" stroke-width="0.5" />
<circle cx="150.06" cy="716.34" r="2.30" fill="#d85050" stroke="#1b1b2e" stroke-width="0.5" />
<circle cx="167.03" cy="701.45" r="2.30" fill="#d85050" stroke="#1b1b2e" stroke-width="0.5" />
<circle cx="167.03" cy="705.92" r="2.30" fill="#d85050" stroke="#1b1b2e" stroke-width="0.5" />
<circle cx="167.03" cy="711.88" r="2.30" fill="#d85050" stroke="#1b1b2e" stroke-width="0.5" />
<circle cx="169.41" cy="716.34" r="2.30" fill="#d85050" stroke="#1b1b2e" stroke-width="0.5" />
<circle cx="167.03" cy="722.30" r="2.30" fill="#d85050" stroke="#1b1b2e" stroke-width="0.5" />
<circle cx="169.41" cy="725.28" r="2.30" fill="#d85050" stroke="#1b1b2e" stroke-width="0.5" />
<circle cx="187.88" cy="685.07" r="2.30" fill="#d85050" stroke="#1b1b2e" stroke-width="0.5" />
<circle cx="189.37" cy="691.03" r="2.30" fill="#d85050" stroke="#1b1b2e" stroke-width="0.5" />
<circle cx="187.88" cy="695.50" r="2.30" fill="#d85050" stroke="#1b1b2e" stroke-width="0.5" />
<circle cx="190.85" cy="699.96" r="2.30" fill="#d85050" stroke="#1b1b2e" stroke-width="0.5" />
<circle cx="186.39" cy="708.90" r="2.30" fill="#d85050" stroke="#1b1b2e" stroke-width="0.5" />
<circle cx="187.88" cy="711.88" r="2.30" fill="#d85050" stroke="#1b1b2e" stroke-width="0.5" />
<circle cx="189.37" cy="717.83" r="2.30" fill="#d85050" stroke="#1b1b2e" stroke-width="0.5" />
<circle cx="187.88" cy="722.30" r="2.30" fill="#d85050" stroke="#1b1b2e" stroke-width="0.5" />
<circle cx="190.85" cy="723.79" r="2.30" fill="#d85050" stroke="#1b1b2e" stroke-width="0.5" />
<circle cx="202.77" cy="680.61" r="2.30" fill="#d85050" stroke="#1b1b2e" stroke-width="0.5" />
<circle cx="205.74" cy="679.12" r="2.30" fill="#d85050" stroke="#1b1b2e" stroke-width="0.5" />
<circle cx="201.28" cy="685.07" r="2.30" fill="#d85050" stroke="#1b1b2e" stroke-width="0.5" />
<circle cx="204.25" cy="691.03" r="2.30" fill="#d85050" stroke="#1b1b2e" stroke-width="0.5" />
<circle cx="202.77" cy="698.48" r="2.30" fill="#d85050" stroke="#1b1b2e" stroke-width="0.5" />
<circle cx="201.28" cy="711.88" r="2.30" fill="#d85050" stroke="#1b1b2e" stroke-width="0.5" />
<circle cx="205.74" cy="717.83" r="2.30" fill="#d85050" stroke="#1b1b2e" stroke-width="0.5" />
<circle cx="204.25" cy="714.85" r="2.30" fill="#d85050" stroke="#1b1b2e" stroke-width="0.5" />
<circle cx="147.67" cy="729.74" r="2.30" fill="#d85050" stroke="#1b1b2e" stroke-width="0.5" />
<circle cx="145.59" cy="720.81" r="2.30" fill="#d85050" stroke="#1b1b2e" stroke-width="0.5" />
<circle cx="148.57" cy="711.28" r="2.30" fill="#d85050" stroke="#1b1b2e" stroke-width="0.5" />
<circle cx="146.77" cy="723.59" r="2.30" fill="#d85050" stroke="#1b1b2e" stroke-width="0.5" />
<circle cx="148.49" cy="729.17" r="2.30" fill="#d85050" stroke="#1b1b2e" stroke-width="0.5" />
<circle cx="145.92" cy="718.01" r="2.30" fill="#d85050" stroke="#1b1b2e" stroke-width="0.5" />
<circle cx="166.47" cy="721.73" r="2.30" fill="#d85050" stroke="#1b1b2e" stroke-width="0.5" />
<circle cx="168.18" cy="710.56" r="2.30" fill="#d85050" stroke="#1b1b2e" stroke-width="0.5" />
<circle cx="167.33" cy="703.12" r="2.30" fill="#d85050" stroke="#1b1b2e" stroke-width="0.5" />
<circle cx="169.89" cy="718.01" r="2.30" fill="#d85050" stroke="#1b1b2e" stroke-width="0.5" />
<circle cx="200.72" cy="712.43" r="2.30" fill="#d85050" stroke="#1b1b2e" stroke-width="0.5" />
<circle cx="202.43" cy="697.54" r="2.30" fill="#d85050" stroke="#1b1b2e" stroke-width="0.5" />
<circle cx="204.15" cy="718.01" r="2.30" fill="#d85050" stroke="#1b1b2e" stroke-width="0.5" />
<circle cx="124.88" cy="658.15" r="2.30" fill="#3f6ff0" stroke="#1b1b2e" stroke-width="0.5" />
<circle cx="49.18" cy="747.31" r="2.30" fill="#3f6ff0" stroke="#1b1b2e" stroke-width="0.5" />
<circle cx="49.18" cy="749.40" r="2.30" fill="#3f6ff0" stroke="#1b1b2e" stroke-width="0.5" />
<circle cx="49.18" cy="751.49" r="2.30" fill="#3f6ff0" stroke="#1b1b2e" stroke-width="0.5" />
<circle cx="79.71" cy="723.91" r="2.30" fill="#3f6ff0" stroke="#1b1b2e" stroke-width="0.5" />
<circle cx="79.71" cy="730.31" r="2.30" fill="#3f6ff0" stroke="#1b1b2e" stroke-width="0.5" />
<circle cx="82.15" cy="736.86" r="2.30" fill="#3f6ff0" stroke="#1b1b2e" stroke-width="0.5" />
<circle cx="79.71" cy="738.26" r="2.30" fill="#3f6ff0" stroke="#1b1b2e" stroke-width="0.5" />
<circle cx="73.60" cy="740.34" r="2.30" fill="#3f6ff0" stroke="#1b1b2e" stroke-width="0.5" />
<circle cx="81.23" cy="739.65" r="2.30" fill="#3f6ff0" stroke="#1b1b2e" stroke-width="0.5" />
<circle cx="76.65" cy="741.74" r="2.30" fill="#3f6ff0" stroke="#1b1b2e" stroke-width="0.5" />
<circle cx="73.60" cy="743.83" r="2.30" fill="#3f6ff0" stroke="#1b1b2e" stroke-width="0.5" />
<circle cx="82.15" cy="743.13" r="2.30" fill="#3f6ff0" stroke="#1b1b2e" stroke-width="0.5" />
<circle cx="73.60" cy="745.92" r="2.30" fill="#3f6ff0" stroke="#1b1b2e" stroke-width="0.5" />
<circle cx="81.23" cy="745.92" r="2.30" fill="#3f6ff0" stroke="#1b1b2e" stroke-width="0.5" />
<circle cx="77.57" cy="748.70" r="2.30" fill="#3f6ff0" stroke="#1b1b2e" stroke-width="0.5" />
<circle cx="73.60" cy="744.52" r="2.30" fill="#3f6ff0" stroke="#1b1b2e" stroke-width="0.5" />
<circle cx="79.10" cy="741.04" r="2.30" fill="#3f6ff0" stroke="#1b1b2e" stroke-width="0.5" />
<circle cx="119.39" cy="725.72" r="2.30" fill="#3f6ff0" stroke="#1b1b2e" stroke-width="0.5" />
<circle cx="119.39" cy="733.38" r="2.30" fill="#3f6ff0" stroke="#1b1b2e" stroke-width="0.5" />
<circle cx="120.00" cy="736.17" r="2.30" fill="#3f6ff0" stroke="#1b1b2e" stroke-width="0.5" />
<circle cx="119.39" cy="740.34" r="2.30" fill="#3f6ff0" stroke="#1b1b2e" stroke-width="0.5" />
<circle cx="119.39" cy="748.01" r="2.30" fill="#3f6ff0" stroke="#1b1b2e" stroke-width="0.5" />
<circle cx="125.49" cy="729.90" r="2.30" fill="#3f6ff0" stroke="#1b1b2e" stroke-width="0.5" />
<circle cx="125.49" cy="732.68" r="2.30" fill="#3f6ff0" stroke="#1b1b2e" stroke-width="0.5" />
<circle cx="131.59" cy="727.11" r="2.30" fill="#3f6ff0" stroke="#1b1b2e" stroke-width="0.5" />
<circle cx="131.59" cy="729.20" r="2.30" fill="#3f6ff0" stroke="#1b1b2e" stroke-width="0.5" />
<circle cx="131.59" cy="734.08" r="2.30" fill="#3f6ff0" stroke="#1b1b2e" stroke-width="0.5" />
<circle cx="119.39" cy="737.56" r="2.30" fill="#3f6ff0" stroke="#1b1b2e" stroke-width="0.5" />
<circle cx="145.33" cy="725.02" r="2.30" fill="#3f6ff0" stroke="#1b1b2e" stroke-width="0.5" />
<circle cx="145.33" cy="727.81" r="2.30" fill="#3f6ff0" stroke="#1b1b2e" stroke-width="0.5" />
<circle cx="145.33" cy="730.59" r="2.30" fill="#3f6ff0" stroke="#1b1b2e" stroke-width="0.5" />
<circle cx="165.17" cy="716.66" r="2.30" fill="#3f6ff0" stroke="#1b1b2e" stroke-width="0.5" />
<circle cx="165.17" cy="722.23" r="2.30" fill="#3f6ff0" stroke="#1b1b2e" stroke-width="0.5" />
<circle cx="165.17" cy="725.72" r="2.30" fill="#3f6ff0" stroke="#1b1b2e" stroke-width="0.5" />
<circle cx="165.17" cy="727.11" r="2.30" fill="#3f6ff0" stroke="#1b1b2e" stroke-width="0.5" />
<circle cx="178.90" cy="692.28" r="2.30" fill="#3f6ff0" stroke="#1b1b2e" stroke-width="0.5" />
<circle cx="176.46" cy="700.92" r="2.30" fill="#3f6ff0" stroke="#1b1b2e" stroke-width="0.5" />
<circle cx="185.01" cy="705.80" r="2.30" fill="#3f6ff0" stroke="#1b1b2e" stroke-width="0.5" />
<circle cx="178.90" cy="709.98" r="2.30" fill="#3f6ff0" stroke="#1b1b2e" stroke-width="0.5" />
<circle cx="188.06" cy="709.00" r="2.30" fill="#3f6ff0" stroke="#1b1b2e" stroke-width="0.5" />
<circle cx="181.96" cy="712.48" r="2.30" fill="#3f6ff0" stroke="#1b1b2e" stroke-width="0.5" />
<circle cx="189.59" cy="714.57" r="2.30" fill="#3f6ff0" stroke="#1b1b2e" stroke-width="0.5" />
<circle cx="183.48" cy="715.97" r="2.30" fill="#3f6ff0" stroke="#1b1b2e" stroke-width="0.5" />
<circle cx="188.06" cy="718.06" r="2.30" fill="#3f6ff0" stroke="#1b1b2e" stroke-width="0.5" />
<circle cx="177.38" cy="720.84" r="2.30" fill="#3f6ff0" stroke="#1b1b2e" stroke-width="0.5" />
<circle cx="181.96" cy="721.54" r="2.30" fill="#3f6ff0" stroke="#1b1b2e" stroke-width="0.5" />
<circle cx="186.54" cy="720.15" r="2.30" fill="#3f6ff0" stroke="#1b1b2e" stroke-width="0.5" />
<circle cx="185.01" cy="725.72" r="2.30" fill="#3f6ff0" stroke="#1b1b2e" stroke-width="0.5" />
<circle cx="189.59" cy="727.81" r="2.30" fill="#3f6ff0" stroke="#1b1b2e" stroke-width="0.5" />
<circle cx="183.48" cy="723.63" r="2.30" fill="#3f6ff0" stroke="#1b1b2e" stroke-width="0.5" />
<circle cx="225.60" cy="711.79" r="2.30" fill="#3f6ff0" stroke="#1b1b2e" stroke-width="0.5" />
<circle cx="225.60" cy="715.97" r="2.30" fill="#3f6ff0" stroke="#1b1b2e" stroke-width="0.5" />
<circle cx="225.60" cy="719.45" r="2.30" fill="#3f6ff0" stroke="#1b1b2e" stroke-width="0.5" />
<circle cx="225.60" cy="722.51" r="2.30" fill="#3f6ff0" stroke="#1b1b2e" stroke-width="0.5" />
<circle cx="181.03" cy="723.59" r="2.30" fill="#3f6ff0" stroke="#1b1b2e" stroke-width="0.5" />
<circle cx="181.88" cy="719.87" r="2.30" fill="#3f6ff0" stroke="#1b1b2e" stroke-width="0.5" />
<circle cx="183.60" cy="716.15" r="2.30" fill="#3f6ff0" stroke="#1b1b2e" stroke-width="0.5" />
<circle cx="182.74" cy="712.43" r="2.30" fill="#3f6ff0" stroke="#1b1b2e" stroke-width="0.5" />
<circle cx="185.31" cy="721.73" r="2.30" fill="#3f6ff0" stroke="#1b1b2e" stroke-width="0.5" />
<circle cx="187.02" cy="718.01" r="2.30" fill="#3f6ff0" stroke="#1b1b2e" stroke-width="0.5" />
<circle cx="184.45" cy="708.70" r="2.30" fill="#3f6ff0" stroke="#1b1b2e" stroke-width="0.5" />
<circle cx="188.73" cy="714.29" r="2.30" fill="#3f6ff0" stroke="#1b1b2e" stroke-width="0.5" />
<circle cx="186.16" cy="725.45" r="2.30" fill="#3f6ff0" stroke="#1b1b2e" stroke-width="0.5" />
<circle cx="190.45" cy="719.87" r="2.30" fill="#3f6ff0" stroke="#1b1b2e" stroke-width="0.5" />
<circle cx="180.17" cy="716.15" r="2.30" fill="#3f6ff0" stroke="#1b1b2e" stroke-width="0.5" />
<circle cx="187.88" cy="710.56" r="2.30" fill="#3f6ff0" stroke="#1b1b2e" stroke-width="0.5" />
<circle cx="183.60" cy="727.31" r="2.30" fill="#3f6ff0" stroke="#1b1b2e" stroke-width="0.5" />
<circle cx="189.59" cy="723.59" r="2.30" fill="#3f6ff0" stroke="#1b1b2e" stroke-width="0.5" />
<path d="M185.92,668.60L192.32,668.60L189.12,663.03Z" fill="#58b2f0" stroke="#1b1b2e" stroke-width="0.55" stroke-linejoin="round"/>
<path d="M185.92,669.02L192.32,669.02L189.12,663.45Z" fill="#58b2f0" stroke="#1b1b2e" stroke-width="0.55" stroke-linejoin="round"/>
<path d="M186.83,692.28L193.23,692.28L190.03,686.71Z" fill="#58b2f0" stroke="#1b1b2e" stroke-width="0.55" stroke-linejoin="round"/>
<path d="M185.92,697.16L192.32,697.16L189.12,691.59Z" fill="#58b2f0" stroke="#1b1b2e" stroke-width="0.55" stroke-linejoin="round"/>
<path d="M185.92,698.55L192.32,698.55L189.12,692.98Z" fill="#58b2f0" stroke="#1b1b2e" stroke-width="0.55" stroke-linejoin="round"/>
<path d="M185.92,703.84L192.32,703.84L189.12,698.28Z" fill="#58b2f0" stroke="#1b1b2e" stroke-width="0.55" stroke-linejoin="round"/>
<path d="M186.83,714.15L193.23,714.15L190.03,708.58Z" fill="#58b2f0" stroke="#1b1b2e" stroke-width="0.55" stroke-linejoin="round"/>
<path d="M186.83,718.33L193.23,718.33L190.03,712.76Z" fill="#58b2f0" stroke="#1b1b2e" stroke-width="0.55" stroke-linejoin="round"/>
<path d="M185.92,725.02L192.32,725.02L189.12,719.45Z" fill="#58b2f0" stroke="#1b1b2e" stroke-width="0.55" stroke-linejoin="round"/>
<path d="M186.83,735.05L193.23,735.05L190.03,729.48Z" fill="#58b2f0" stroke="#1b1b2e" stroke-width="0.55" stroke-linejoin="round"/>
<path d="M122.01,729.89L128.41,729.89L125.21,724.33Z" fill="#58b2f0" stroke="#1b1b2e" stroke-width="0.55" stroke-linejoin="round"/>
<path d="M122.01,731.98L128.41,731.98L125.21,726.42Z" fill="#58b2f0" stroke="#1b1b2e" stroke-width="0.55" stroke-linejoin="round"/>
<path d="M122.01,738.95L128.41,738.95L125.21,733.38Z" fill="#58b2f0" stroke="#1b1b2e" stroke-width="0.55" stroke-linejoin="round"/>
<path d="M122.01,739.65L128.41,739.65L125.21,734.08Z" fill="#58b2f0" stroke="#1b1b2e" stroke-width="0.55" stroke-linejoin="round"/>
<path d="M142.40,735.05L148.80,735.05L145.60,729.48Z" fill="#58b2f0" stroke="#1b1b2e" stroke-width="0.55" stroke-linejoin="round"/>
<path d="M142.40,742.01L148.80,742.01L145.60,736.45Z" fill="#58b2f0" stroke="#1b1b2e" stroke-width="0.55" stroke-linejoin="round"/>
<path d="M142.40,748.98L148.80,748.98L145.60,743.41Z" fill="#58b2f0" stroke="#1b1b2e" stroke-width="0.55" stroke-linejoin="round"/>
<path d="M162.49,720.14L168.89,720.14L165.69,714.58Z" fill="#58b2f0" stroke="#1b1b2e" stroke-width="0.55" stroke-linejoin="round"/>
<path d="M162.49,722.23L168.89,722.23L165.69,716.66Z" fill="#58b2f0" stroke="#1b1b2e" stroke-width="0.55" stroke-linejoin="round"/>
<path d="M162.49,725.72L168.89,725.72L165.69,720.15Z" fill="#58b2f0" stroke="#1b1b2e" stroke-width="0.55" stroke-linejoin="round"/>
<path d="M173.74,718.05L180.14,718.05L176.94,712.49Z" fill="#58b2f0" stroke="#1b1b2e" stroke-width="0.55" stroke-linejoin="round"/>
<path d="M173.74,722.23L180.14,722.23L176.94,716.66Z" fill="#58b2f0" stroke="#1b1b2e" stroke-width="0.55" stroke-linejoin="round"/>
<path d="M173.74,723.63L180.14,723.63L176.94,718.06Z" fill="#58b2f0" stroke="#1b1b2e" stroke-width="0.55" stroke-linejoin="round"/>
<path d="M173.74,725.72L180.14,725.72L176.94,720.15Z" fill="#58b2f0" stroke="#1b1b2e" stroke-width="0.55" stroke-linejoin="round"/>
<path d="M173.74,730.59L180.14,730.59L176.94,725.02Z" fill="#58b2f0" stroke="#1b1b2e" stroke-width="0.55" stroke-linejoin="round"/>
<path d="M164.62,726.41L171.02,726.41L167.82,720.84Z" fill="#58b2f0" stroke="#1b1b2e" stroke-width="0.55" stroke-linejoin="round"/>
<path d="M222.43,713.60L228.83,713.60L225.63,708.03Z" fill="#58b2f0" stroke="#1b1b2e" stroke-width="0.55" stroke-linejoin="round"/>
<path d="M222.43,721.54L228.83,721.54L225.63,715.97Z" fill="#58b2f0" stroke="#1b1b2e" stroke-width="0.55" stroke-linejoin="round"/>
<path d="M222.43,727.53L228.83,727.53L225.63,721.96Z" fill="#58b2f0" stroke="#1b1b2e" stroke-width="0.55" stroke-linejoin="round"/>
<path d="M222.43,735.47L228.83,735.47L225.63,729.90Z" fill="#58b2f0" stroke="#1b1b2e" stroke-width="0.55" stroke-linejoin="round"/>
<path d="M163.83,586.01L170.23,586.01L167.03,580.44Z" fill="#f47868" stroke="#1b1b2e" stroke-width="0.55" stroke-linejoin="round"/>
<path d="M183.19,594.05L189.59,594.05L186.39,588.48Z" fill="#f47868" stroke="#1b1b2e" stroke-width="0.55" stroke-linejoin="round"/>
<path d="M198.97,625.92L205.37,625.92L202.17,620.35Z" fill="#f47868" stroke="#1b1b2e" stroke-width="0.55" stroke-linejoin="round"/>
<path d="M198.97,668.50L205.37,668.50L202.17,662.93Z" fill="#f47868" stroke="#1b1b2e" stroke-width="0.55" stroke-linejoin="round"/>
<path d="M143.58,690.24L149.98,690.24L146.78,684.67Z" fill="#f47868" stroke="#1b1b2e" stroke-width="0.55" stroke-linejoin="round"/>
<path d="M163.83,699.77L170.23,699.77L167.03,694.20Z" fill="#f47868" stroke="#1b1b2e" stroke-width="0.55" stroke-linejoin="round"/>
<path d="M166.21,738.48L172.61,738.48L169.41,732.92Z" fill="#f47868" stroke="#1b1b2e" stroke-width="0.55" stroke-linejoin="round"/>
<path d="M184.68,683.39L191.08,683.39L187.88,677.82Z" fill="#f47868" stroke="#1b1b2e" stroke-width="0.55" stroke-linejoin="round"/>
<path d="M184.68,695.30L191.08,695.30L187.88,689.74Z" fill="#f47868" stroke="#1b1b2e" stroke-width="0.55" stroke-linejoin="round"/>
<path d="M187.65,728.06L194.05,728.06L190.85,722.49Z" fill="#f47868" stroke="#1b1b2e" stroke-width="0.55" stroke-linejoin="round"/>
<path d="M202.54,709.60L208.94,709.60L205.74,704.03Z" fill="#f47868" stroke="#1b1b2e" stroke-width="0.55" stroke-linejoin="round"/>
<path d="M202.54,726.57L208.94,726.57L205.74,721.00Z" fill="#f47868" stroke="#1b1b2e" stroke-width="0.55" stroke-linejoin="round"/>
<path d="M198.97,717.64L205.37,717.64L202.17,712.07Z" fill="#f47868" stroke="#1b1b2e" stroke-width="0.55" stroke-linejoin="round"/>
<path d="M145.96,728.06L152.36,728.06L149.16,722.49Z" fill="#f47868" stroke="#1b1b2e" stroke-width="0.55" stroke-linejoin="round"/>
<path d="M163.83,722.11L170.23,722.11L167.03,716.54Z" fill="#f47868" stroke="#1b1b2e" stroke-width="0.55" stroke-linejoin="round"/>
<path d="M143.58,717.64L149.98,717.64L146.78,712.07Z" fill="#f47868" stroke="#1b1b2e" stroke-width="0.55" stroke-linejoin="round"/>
<text x="241.20" y="561.00" font-size="10.8" font-weight="bold" fill="#000" stroke="#000" stroke-width="0.35">i</text>
<line x1="278.80" y1="572.60" x2="278.80" y2="751.00" stroke="#333" stroke-width="0.7" />
<line x1="276.20" y1="573.90" x2="278.80" y2="573.90" stroke="#333" stroke-width="0.6" />
<text x="273.40" y="576.70" font-size="8.2" text-anchor="end" stroke="#231f20" stroke-width="0.15" >10,000</text>
<line x1="276.20" y1="609.30" x2="278.80" y2="609.30" stroke="#333" stroke-width="0.6" />
<text x="273.40" y="612.10" font-size="8.2" text-anchor="end" stroke="#231f20" stroke-width="0.15" >8,000</text>
<line x1="276.20" y1="644.70" x2="278.80" y2="644.70" stroke="#333" stroke-width="0.6" />
<text x="273.40" y="647.50" font-size="8.2" text-anchor="end" stroke="#231f20" stroke-width="0.15" >6,000</text>
<line x1="276.20" y1="680.10" x2="278.80" y2="680.10" stroke="#333" stroke-width="0.6" />
<text x="273.40" y="682.90" font-size="8.2" text-anchor="end" stroke="#231f20" stroke-width="0.15" >4,000</text>
<line x1="276.20" y1="715.50" x2="278.80" y2="715.50" stroke="#333" stroke-width="0.6" />
<text x="273.40" y="718.30" font-size="8.2" text-anchor="end" stroke="#231f20" stroke-width="0.15" >2,000</text>
<line x1="276.20" y1="750.50" x2="278.80" y2="750.50" stroke="#333" stroke-width="0.6" />
<text x="273.40" y="753.30" font-size="8.2" text-anchor="end" stroke="#231f20" stroke-width="0.15" >0</text>
<line x1="278.80" y1="751.00" x2="357.80" y2="751.00" stroke="#333" stroke-width="0.7" />
<line x1="300.50" y1="751.00" x2="300.50" y2="753.60" stroke="#333" stroke-width="0.6" />
<line x1="336.50" y1="751.00" x2="336.50" y2="753.60" stroke="#333" stroke-width="0.6" />
<text x="300.50" y="763.00" font-size="8.2" text-anchor="middle" stroke="#231f20" stroke-width="0.15" >Age-matched</text>
<text x="300.50" y="772.40" font-size="8.2" text-anchor="middle" stroke="#231f20" stroke-width="0.15" >control</text>
<text x="300.50" y="781.60" font-size="7.6" text-anchor="middle" stroke="#231f20" stroke-width="0.15" >(<tspan font-style="italic">n</tspan> = 78)</text>
<text x="337.00" y="763.00" font-size="8.2" text-anchor="middle" stroke="#231f20" stroke-width="0.15" >AD</text>
<text x="337.00" y="772.40" font-size="7.6" text-anchor="middle" stroke="#231f20" stroke-width="0.15" >(<tspan font-style="italic">n</tspan> = 75)</text>
<text x="246.30" y="662.50" font-size="8.5" text-anchor="middle" stroke="#231f20" stroke-width="0.15" transform="rotate(-90 246.30 662.50)" >sSNVs per neuron</text>
<path d="M297.1,587.1V580.5H338.1V587.1" fill="none" stroke="#333" stroke-width="0.7"/>
<text x="318.00" y="576.60" font-size="8.6" text-anchor="middle" stroke="#231f20" stroke-width="0.15" ><tspan font-style="italic">P</tspan> = 7.1 × 10<tspan dy="-2.8" font-size="6">−5</tspan></text>
<path d="M298.54,671.70L304.34,671.70L301.44,666.65Z" fill="#58b2f0" stroke="#1b1b2e" stroke-width="0.55" stroke-linejoin="round"/>
<path d="M303.45,672.10L309.25,672.10L306.35,667.05Z" fill="#58b2f0" stroke="#1b1b2e" stroke-width="0.55" stroke-linejoin="round"/>
<path d="M297.14,694.18L302.94,694.18L300.04,689.13Z" fill="#58b2f0" stroke="#1b1b2e" stroke-width="0.55" stroke-linejoin="round"/>
<path d="M296.36,698.80L302.16,698.80L299.26,693.76Z" fill="#58b2f0" stroke="#1b1b2e" stroke-width="0.55" stroke-linejoin="round"/>
<path d="M303.52,700.13L309.32,700.13L306.42,695.08Z" fill="#58b2f0" stroke="#1b1b2e" stroke-width="0.55" stroke-linejoin="round"/>
<path d="M299.83,705.15L305.63,705.15L302.73,700.10Z" fill="#58b2f0" stroke="#1b1b2e" stroke-width="0.55" stroke-linejoin="round"/>
<path d="M306.13,714.41L311.93,714.41L309.03,709.36Z" fill="#58b2f0" stroke="#1b1b2e" stroke-width="0.55" stroke-linejoin="round"/>
<path d="M286.60,714.93L292.40,714.93L289.50,709.89Z" fill="#58b2f0" stroke="#1b1b2e" stroke-width="0.55" stroke-linejoin="round"/>
<path d="M308.17,718.64L313.97,718.64L311.07,713.59Z" fill="#58b2f0" stroke="#1b1b2e" stroke-width="0.55" stroke-linejoin="round"/>
<path d="M290.76,718.90L296.56,718.90L293.66,713.85Z" fill="#58b2f0" stroke="#1b1b2e" stroke-width="0.55" stroke-linejoin="round"/>
<path d="M302.65,720.62L308.45,720.62L305.55,715.57Z" fill="#58b2f0" stroke="#1b1b2e" stroke-width="0.55" stroke-linejoin="round"/>
<path d="M295.83,721.94L301.63,721.94L298.73,716.90Z" fill="#58b2f0" stroke="#1b1b2e" stroke-width="0.55" stroke-linejoin="round"/>
<path d="M307.15,722.60L312.95,722.60L310.05,717.56Z" fill="#58b2f0" stroke="#1b1b2e" stroke-width="0.55" stroke-linejoin="round"/>
<path d="M304.45,722.60L310.25,722.60L307.35,717.56Z" fill="#58b2f0" stroke="#1b1b2e" stroke-width="0.55" stroke-linejoin="round"/>
<path d="M305.95,723.93L311.75,723.93L308.85,718.88Z" fill="#58b2f0" stroke="#1b1b2e" stroke-width="0.55" stroke-linejoin="round"/>
<path d="M302.86,725.25L308.66,725.25L305.76,720.20Z" fill="#58b2f0" stroke="#1b1b2e" stroke-width="0.55" stroke-linejoin="round"/>
<path d="M305.17,725.91L310.97,725.91L308.07,720.86Z" fill="#58b2f0" stroke="#1b1b2e" stroke-width="0.55" stroke-linejoin="round"/>
<path d="M299.16,725.91L304.96,725.91L302.06,720.86Z" fill="#58b2f0" stroke="#1b1b2e" stroke-width="0.55" stroke-linejoin="round"/>
<path d="M304.17,726.57L309.97,726.57L307.07,721.52Z" fill="#58b2f0" stroke="#1b1b2e" stroke-width="0.55" stroke-linejoin="round"/>
<path d="M310.62,727.63L316.42,727.63L313.52,722.58Z" fill="#58b2f0" stroke="#1b1b2e" stroke-width="0.55" stroke-linejoin="round"/>
<path d="M285.89,729.87L291.69,729.87L288.79,724.83Z" fill="#58b2f0" stroke="#1b1b2e" stroke-width="0.55" stroke-linejoin="round"/>
<path d="M302.47,730.54L308.27,730.54L305.37,725.49Z" fill="#58b2f0" stroke="#1b1b2e" stroke-width="0.55" stroke-linejoin="round"/>
<path d="M309.19,731.86L314.99,731.86L312.09,726.81Z" fill="#58b2f0" stroke="#1b1b2e" stroke-width="0.55" stroke-linejoin="round"/>
<path d="M303.19,734.77L308.99,734.77L306.09,729.72Z" fill="#58b2f0" stroke="#1b1b2e" stroke-width="0.55" stroke-linejoin="round"/>
<path d="M287.23,734.77L293.03,734.77L290.13,729.72Z" fill="#58b2f0" stroke="#1b1b2e" stroke-width="0.55" stroke-linejoin="round"/>
<path d="M290.86,735.16L296.66,735.16L293.76,730.12Z" fill="#58b2f0" stroke="#1b1b2e" stroke-width="0.55" stroke-linejoin="round"/>
<path d="M294.80,738.47L300.60,738.47L297.70,733.42Z" fill="#58b2f0" stroke="#1b1b2e" stroke-width="0.55" stroke-linejoin="round"/>
<path d="M304.07,739.13L309.87,739.13L306.97,734.08Z" fill="#58b2f0" stroke="#1b1b2e" stroke-width="0.55" stroke-linejoin="round"/>
<path d="M305.22,741.38L311.02,741.38L308.12,736.33Z" fill="#58b2f0" stroke="#1b1b2e" stroke-width="0.55" stroke-linejoin="round"/>
<path d="M297.69,747.99L303.49,747.99L300.59,742.94Z" fill="#58b2f0" stroke="#1b1b2e" stroke-width="0.55" stroke-linejoin="round"/>
<circle cx="304.32" cy="694.30" r="2.30" fill="#3f6ff0" stroke="#1b1b2e" stroke-width="0.5" />
<circle cx="302.17" cy="702.49" r="2.30" fill="#3f6ff0" stroke="#1b1b2e" stroke-width="0.5" />
<circle cx="298.90" cy="706.35" r="2.30" fill="#3f6ff0" stroke="#1b1b2e" stroke-width="0.5" />
<circle cx="303.25" cy="707.12" r="2.30" fill="#3f6ff0" stroke="#1b1b2e" stroke-width="0.5" />
<circle cx="303.55" cy="709.88" r="2.30" fill="#3f6ff0" stroke="#1b1b2e" stroke-width="0.5" />
<circle cx="297.22" cy="710.16" r="2.30" fill="#3f6ff0" stroke="#1b1b2e" stroke-width="0.5" />
<circle cx="305.56" cy="711.09" r="2.30" fill="#3f6ff0" stroke="#1b1b2e" stroke-width="0.5" />
<circle cx="293.12" cy="711.65" r="2.30" fill="#3f6ff0" stroke="#1b1b2e" stroke-width="0.5" />
<circle cx="311.84" cy="712.81" r="2.30" fill="#3f6ff0" stroke="#1b1b2e" stroke-width="0.5" />
<circle cx="300.87" cy="713.41" r="2.30" fill="#3f6ff0" stroke="#1b1b2e" stroke-width="0.5" />
<circle cx="294.06" cy="713.47" r="2.30" fill="#3f6ff0" stroke="#1b1b2e" stroke-width="0.5" />
<circle cx="303.43" cy="714.30" r="2.30" fill="#3f6ff0" stroke="#1b1b2e" stroke-width="0.5" />
<circle cx="297.80" cy="715.18" r="2.30" fill="#3f6ff0" stroke="#1b1b2e" stroke-width="0.5" />
<circle cx="307.39" cy="715.45" r="2.30" fill="#3f6ff0" stroke="#1b1b2e" stroke-width="0.5" />
<circle cx="314.25" cy="716.77" r="2.30" fill="#3f6ff0" stroke="#1b1b2e" stroke-width="0.5" />
<circle cx="286.02" cy="716.77" r="2.30" fill="#3f6ff0" stroke="#1b1b2e" stroke-width="0.5" />
<circle cx="298.71" cy="716.95" r="2.30" fill="#3f6ff0" stroke="#1b1b2e" stroke-width="0.5" />
<circle cx="305.25" cy="717.44" r="2.30" fill="#3f6ff0" stroke="#1b1b2e" stroke-width="0.5" />
<circle cx="289.51" cy="718.71" r="2.30" fill="#3f6ff0" stroke="#1b1b2e" stroke-width="0.5" />
<circle cx="288.78" cy="718.76" r="2.30" fill="#3f6ff0" stroke="#1b1b2e" stroke-width="0.5" />
<circle cx="295.96" cy="719.60" r="2.30" fill="#3f6ff0" stroke="#1b1b2e" stroke-width="0.5" />
<circle cx="307.32" cy="720.08" r="2.30" fill="#3f6ff0" stroke="#1b1b2e" stroke-width="0.5" />
<circle cx="295.80" cy="720.48" r="2.30" fill="#3f6ff0" stroke="#1b1b2e" stroke-width="0.5" />
<circle cx="295.75" cy="720.74" r="2.30" fill="#3f6ff0" stroke="#1b1b2e" stroke-width="0.5" />
<circle cx="311.58" cy="721.36" r="2.30" fill="#3f6ff0" stroke="#1b1b2e" stroke-width="0.5" />
<circle cx="301.05" cy="721.40" r="2.30" fill="#3f6ff0" stroke="#1b1b2e" stroke-width="0.5" />
<circle cx="301.96" cy="722.06" r="2.30" fill="#3f6ff0" stroke="#1b1b2e" stroke-width="0.5" />
<circle cx="289.09" cy="722.24" r="2.30" fill="#3f6ff0" stroke="#1b1b2e" stroke-width="0.5" />
<circle cx="301.07" cy="722.72" r="2.30" fill="#3f6ff0" stroke="#1b1b2e" stroke-width="0.5" />
<circle cx="289.41" cy="722.99" r="2.30" fill="#3f6ff0" stroke="#1b1b2e" stroke-width="0.5" />
<circle cx="304.51" cy="723.13" r="2.30" fill="#3f6ff0" stroke="#1b1b2e" stroke-width="0.5" />
<circle cx="295.76" cy="724.01" r="2.30" fill="#3f6ff0" stroke="#1b1b2e" stroke-width="0.5" />
<circle cx="308.45" cy="724.05" r="2.30" fill="#3f6ff0" stroke="#1b1b2e" stroke-width="0.5" />
<circle cx="290.19" cy="725.37" r="2.30" fill="#3f6ff0" stroke="#1b1b2e" stroke-width="0.5" />
<circle cx="288.33" cy="725.78" r="2.30" fill="#3f6ff0" stroke="#1b1b2e" stroke-width="0.5" />
<circle cx="291.64" cy="726.03" r="2.30" fill="#3f6ff0" stroke="#1b1b2e" stroke-width="0.5" />
<circle cx="307.65" cy="726.03" r="2.30" fill="#3f6ff0" stroke="#1b1b2e" stroke-width="0.5" />
<circle cx="300.81" cy="726.03" r="2.30" fill="#3f6ff0" stroke="#1b1b2e" stroke-width="0.5" />
<circle cx="298.17" cy="727.35" r="2.30" fill="#3f6ff0" stroke="#1b1b2e" stroke-width="0.5" />
<circle cx="294.93" cy="727.35" r="2.30" fill="#3f6ff0" stroke="#1b1b2e" stroke-width="0.5" />
<circle cx="308.99" cy="727.54" r="2.30" fill="#3f6ff0" stroke="#1b1b2e" stroke-width="0.5" />
<circle cx="307.99" cy="728.01" r="2.30" fill="#3f6ff0" stroke="#1b1b2e" stroke-width="0.5" />
<circle cx="301.41" cy="728.01" r="2.30" fill="#3f6ff0" stroke="#1b1b2e" stroke-width="0.5" />
<circle cx="294.02" cy="729.34" r="2.30" fill="#3f6ff0" stroke="#1b1b2e" stroke-width="0.5" />
<circle cx="302.46" cy="730.00" r="2.30" fill="#3f6ff0" stroke="#1b1b2e" stroke-width="0.5" />
<circle cx="296.83" cy="730.66" r="2.30" fill="#3f6ff0" stroke="#1b1b2e" stroke-width="0.5" />
<circle cx="300.92" cy="732.64" r="2.30" fill="#3f6ff0" stroke="#1b1b2e" stroke-width="0.5" />
<circle cx="310.03" cy="733.30" r="2.30" fill="#3f6ff0" stroke="#1b1b2e" stroke-width="0.5" />
<circle cx="315.44" cy="733.96" r="2.30" fill="#3f6ff0" stroke="#1b1b2e" stroke-width="0.5" />
<circle cx="302.03" cy="735.95" r="2.30" fill="#3f6ff0" stroke="#1b1b2e" stroke-width="0.5" />
<circle cx="293.35" cy="737.27" r="2.30" fill="#3f6ff0" stroke="#1b1b2e" stroke-width="0.5" />
<circle cx="302.60" cy="739.91" r="2.30" fill="#3f6ff0" stroke="#1b1b2e" stroke-width="0.5" />
<circle cx="304.21" cy="747.18" r="2.30" fill="#3f6ff0" stroke="#1b1b2e" stroke-width="0.5" />
<path d="M335.08,593.32L340.88,593.32L337.98,588.27Z" fill="#f47868" stroke="#1b1b2e" stroke-width="0.55" stroke-linejoin="round"/>
<path d="M332.54,600.95L338.34,600.95L335.44,595.90Z" fill="#f47868" stroke="#1b1b2e" stroke-width="0.55" stroke-linejoin="round"/>
<path d="M332.43,631.19L338.23,631.19L335.33,626.14Z" fill="#f47868" stroke="#1b1b2e" stroke-width="0.55" stroke-linejoin="round"/>
<path d="M333.50,671.61L339.30,671.61L336.40,666.56Z" fill="#f47868" stroke="#1b1b2e" stroke-width="0.55" stroke-linejoin="round"/>
<path d="M342.16,685.74L347.96,685.74L345.06,680.69Z" fill="#f47868" stroke="#1b1b2e" stroke-width="0.55" stroke-linejoin="round"/>
<path d="M331.74,692.24L337.54,692.24L334.64,687.19Z" fill="#f47868" stroke="#1b1b2e" stroke-width="0.55" stroke-linejoin="round"/>
<path d="M328.04,697.04L333.84,697.04L330.94,692.00Z" fill="#f47868" stroke="#1b1b2e" stroke-width="0.55" stroke-linejoin="round"/>
<path d="M331.06,701.28L336.86,701.28L333.96,696.24Z" fill="#f47868" stroke="#1b1b2e" stroke-width="0.55" stroke-linejoin="round"/>
<path d="M329.83,710.61L335.63,710.61L332.73,705.56Z" fill="#f47868" stroke="#1b1b2e" stroke-width="0.55" stroke-linejoin="round"/>
<path d="M340.85,710.64L346.65,710.64L343.75,705.59Z" fill="#f47868" stroke="#1b1b2e" stroke-width="0.55" stroke-linejoin="round"/>
<path d="M348.38,717.70L354.18,717.70L351.28,712.66Z" fill="#f47868" stroke="#1b1b2e" stroke-width="0.55" stroke-linejoin="round"/>
<path d="M328.67,718.24L334.47,718.24L331.57,713.20Z" fill="#f47868" stroke="#1b1b2e" stroke-width="0.55" stroke-linejoin="round"/>
<path d="M336.32,718.24L342.12,718.24L339.22,713.20Z" fill="#f47868" stroke="#1b1b2e" stroke-width="0.55" stroke-linejoin="round"/>
<path d="M327.54,722.48L333.34,722.48L330.44,717.44Z" fill="#f47868" stroke="#1b1b2e" stroke-width="0.55" stroke-linejoin="round"/>
<path d="M344.29,726.53L350.09,726.53L347.19,721.49Z" fill="#f47868" stroke="#1b1b2e" stroke-width="0.55" stroke-linejoin="round"/>
<path d="M321.91,726.72L327.71,726.72L324.81,721.68Z" fill="#f47868" stroke="#1b1b2e" stroke-width="0.55" stroke-linejoin="round"/>
<path d="M326.19,728.13L331.99,728.13L329.09,723.09Z" fill="#f47868" stroke="#1b1b2e" stroke-width="0.55" stroke-linejoin="round"/>
<path d="M322.13,728.13L327.93,728.13L325.03,723.09Z" fill="#f47868" stroke="#1b1b2e" stroke-width="0.55" stroke-linejoin="round"/>
<path d="M337.59,730.07L343.39,730.07L340.49,725.02Z" fill="#f47868" stroke="#1b1b2e" stroke-width="0.55" stroke-linejoin="round"/>
<path d="M331.60,738.03L337.40,738.03L334.50,732.98Z" fill="#f47868" stroke="#1b1b2e" stroke-width="0.55" stroke-linejoin="round"/>
<circle cx="338.68" cy="635.73" r="2.30" fill="#d85050" stroke="#1b1b2e" stroke-width="0.5" />
<circle cx="336.37" cy="648.73" r="2.30" fill="#d85050" stroke="#1b1b2e" stroke-width="0.5" />
<circle cx="341.98" cy="649.30" r="2.30" fill="#d85050" stroke="#1b1b2e" stroke-width="0.5" />
<circle cx="337.11" cy="673.32" r="2.30" fill="#d85050" stroke="#1b1b2e" stroke-width="0.5" />
<circle cx="334.96" cy="677.56" r="2.30" fill="#d85050" stroke="#1b1b2e" stroke-width="0.5" />
<circle cx="337.09" cy="681.80" r="2.30" fill="#d85050" stroke="#1b1b2e" stroke-width="0.5" />
<circle cx="342.12" cy="681.80" r="2.30" fill="#d85050" stroke="#1b1b2e" stroke-width="0.5" />
<circle cx="333.10" cy="683.22" r="2.30" fill="#d85050" stroke="#1b1b2e" stroke-width="0.5" />
<circle cx="337.25" cy="687.46" r="2.30" fill="#d85050" stroke="#1b1b2e" stroke-width="0.5" />
<circle cx="338.58" cy="687.46" r="2.30" fill="#d85050" stroke="#1b1b2e" stroke-width="0.5" />
<circle cx="336.90" cy="693.11" r="2.30" fill="#d85050" stroke="#1b1b2e" stroke-width="0.5" />
<circle cx="339.63" cy="693.11" r="2.30" fill="#d85050" stroke="#1b1b2e" stroke-width="0.5" />
<circle cx="338.11" cy="697.35" r="2.30" fill="#d85050" stroke="#1b1b2e" stroke-width="0.5" />
<circle cx="340.38" cy="697.52" r="2.30" fill="#d85050" stroke="#1b1b2e" stroke-width="0.5" />
<circle cx="344.67" cy="700.17" r="2.30" fill="#d85050" stroke="#1b1b2e" stroke-width="0.5" />
<circle cx="337.44" cy="701.05" r="2.30" fill="#d85050" stroke="#1b1b2e" stroke-width="0.5" />
<circle cx="332.35" cy="701.59" r="2.30" fill="#d85050" stroke="#1b1b2e" stroke-width="0.5" />
<circle cx="339.54" cy="703.00" r="2.30" fill="#d85050" stroke="#1b1b2e" stroke-width="0.5" />
<circle cx="336.82" cy="704.58" r="2.30" fill="#d85050" stroke="#1b1b2e" stroke-width="0.5" />
<circle cx="331.26" cy="705.26" r="2.30" fill="#d85050" stroke="#1b1b2e" stroke-width="0.5" />
<circle cx="343.42" cy="706.35" r="2.30" fill="#d85050" stroke="#1b1b2e" stroke-width="0.5" />
<circle cx="339.67" cy="707.24" r="2.30" fill="#d85050" stroke="#1b1b2e" stroke-width="0.5" />
<circle cx="327.40" cy="708.12" r="2.30" fill="#d85050" stroke="#1b1b2e" stroke-width="0.5" />
<circle cx="342.55" cy="709.88" r="2.30" fill="#d85050" stroke="#1b1b2e" stroke-width="0.5" />
<circle cx="325.22" cy="710.07" r="2.30" fill="#d85050" stroke="#1b1b2e" stroke-width="0.5" />
<circle cx="337.06" cy="711.65" r="2.30" fill="#d85050" stroke="#1b1b2e" stroke-width="0.5" />
<circle cx="331.62" cy="712.33" r="2.30" fill="#d85050" stroke="#1b1b2e" stroke-width="0.5" />
<circle cx="342.53" cy="712.89" r="2.30" fill="#d85050" stroke="#1b1b2e" stroke-width="0.5" />
<circle cx="328.00" cy="712.89" r="2.30" fill="#d85050" stroke="#1b1b2e" stroke-width="0.5" />
<circle cx="345.84" cy="712.89" r="2.30" fill="#d85050" stroke="#1b1b2e" stroke-width="0.5" />
<circle cx="324.37" cy="713.41" r="2.30" fill="#d85050" stroke="#1b1b2e" stroke-width="0.5" />
<circle cx="337.87" cy="715.18" r="2.30" fill="#d85050" stroke="#1b1b2e" stroke-width="0.5" />
<circle cx="331.80" cy="715.72" r="2.30" fill="#d85050" stroke="#1b1b2e" stroke-width="0.5" />
<circle cx="343.66" cy="716.95" r="2.30" fill="#d85050" stroke="#1b1b2e" stroke-width="0.5" />
<circle cx="346.25" cy="717.13" r="2.30" fill="#d85050" stroke="#1b1b2e" stroke-width="0.5" />
<circle cx="324.52" cy="717.13" r="2.30" fill="#d85050" stroke="#1b1b2e" stroke-width="0.5" />
<circle cx="336.59" cy="718.55" r="2.30" fill="#d85050" stroke="#1b1b2e" stroke-width="0.5" />
<circle cx="335.16" cy="718.55" r="2.30" fill="#d85050" stroke="#1b1b2e" stroke-width="0.5" />
<circle cx="340.98" cy="718.55" r="2.30" fill="#d85050" stroke="#1b1b2e" stroke-width="0.5" />
<circle cx="340.07" cy="718.71" r="2.30" fill="#d85050" stroke="#1b1b2e" stroke-width="0.5" />
<circle cx="341.73" cy="720.48" r="2.30" fill="#d85050" stroke="#1b1b2e" stroke-width="0.5" />
<circle cx="347.96" cy="721.37" r="2.30" fill="#d85050" stroke="#1b1b2e" stroke-width="0.5" />
<circle cx="336.82" cy="722.24" r="2.30" fill="#d85050" stroke="#1b1b2e" stroke-width="0.5" />
<circle cx="331.55" cy="722.79" r="2.30" fill="#d85050" stroke="#1b1b2e" stroke-width="0.5" />
<circle cx="325.08" cy="722.79" r="2.30" fill="#d85050" stroke="#1b1b2e" stroke-width="0.5" />
<circle cx="341.56" cy="723.63" r="2.30" fill="#d85050" stroke="#1b1b2e" stroke-width="0.5" />
<circle cx="346.16" cy="724.01" r="2.30" fill="#d85050" stroke="#1b1b2e" stroke-width="0.5" />
<circle cx="324.82" cy="724.20" r="2.30" fill="#d85050" stroke="#1b1b2e" stroke-width="0.5" />
<circle cx="333.46" cy="725.61" r="2.30" fill="#d85050" stroke="#1b1b2e" stroke-width="0.5" />
<circle cx="340.14" cy="727.02" r="2.30" fill="#d85050" stroke="#1b1b2e" stroke-width="0.5" />
<circle cx="336.50" cy="729.85" r="2.30" fill="#d85050" stroke="#1b1b2e" stroke-width="0.5" />
<line x1="284.30" y1="717.30" x2="316.60" y2="717.30" stroke="#999" stroke-width="0.7" />
<line x1="284.30" y1="718.80" x2="316.60" y2="718.80" stroke="#111" stroke-width="0.8" />
<line x1="284.30" y1="720.40" x2="316.60" y2="720.40" stroke="#999" stroke-width="0.7" />
<line x1="320.40" y1="700.50" x2="352.50" y2="700.50" stroke="#999" stroke-width="0.7" />
<line x1="320.40" y1="703.30" x2="352.50" y2="703.30" stroke="#111" stroke-width="0.8" />
<line x1="320.40" y1="706.70" x2="352.50" y2="706.70" stroke="#999" stroke-width="0.7" />
<text x="374.20" y="561.00" font-size="10.8" font-weight="bold" fill="#000" stroke="#000" stroke-width="0.35">j</text>
<line x1="423.60" y1="563.60" x2="423.60" y2="660.40" stroke="#333" stroke-width="0.7" />
<line x1="421.00" y1="569.30" x2="423.60" y2="569.30" stroke="#333" stroke-width="0.6" />
<text x="418.00" y="572.10" font-size="8.2" text-anchor="end" stroke="#231f20" stroke-width="0.15" >5,000</text>
<line x1="421.00" y1="586.00" x2="423.60" y2="586.00" stroke="#333" stroke-width="0.6" />
<text x="418.00" y="588.80" font-size="8.2" text-anchor="end" stroke="#231f20" stroke-width="0.15" >4,000</text>
<line x1="421.00" y1="602.60" x2="423.60" y2="602.60" stroke="#333" stroke-width="0.6" />
<text x="418.00" y="605.40" font-size="8.2" text-anchor="end" stroke="#231f20" stroke-width="0.15" >3,000</text>
<line x1="421.00" y1="619.40" x2="423.60" y2="619.40" stroke="#333" stroke-width="0.6" />
<text x="418.00" y="622.20" font-size="8.2" text-anchor="end" stroke="#231f20" stroke-width="0.15" >2,000</text>
<line x1="421.00" y1="636.00" x2="423.60" y2="636.00" stroke="#333" stroke-width="0.6" />
<text x="418.00" y="638.80" font-size="8.2" text-anchor="end" stroke="#231f20" stroke-width="0.15" >1,000</text>
<line x1="421.00" y1="652.70" x2="423.60" y2="652.70" stroke="#333" stroke-width="0.6" />
<text x="418.00" y="655.50" font-size="8.2" text-anchor="end" stroke="#231f20" stroke-width="0.15" >0</text>
<line x1="423.60" y1="660.40" x2="528.80" y2="660.40" stroke="#333" stroke-width="0.7" />
<line x1="431.20" y1="660.40" x2="431.20" y2="663.00" stroke="#333" stroke-width="0.6" />
<line x1="444.10" y1="660.40" x2="444.10" y2="663.00" stroke="#333" stroke-width="0.6" />
<line x1="456.90" y1="660.40" x2="456.90" y2="663.00" stroke="#333" stroke-width="0.6" />
<line x1="469.80" y1="660.40" x2="469.80" y2="663.00" stroke="#333" stroke-width="0.6" />
<line x1="481.80" y1="660.40" x2="481.80" y2="663.00" stroke="#333" stroke-width="0.6" />
<line x1="495.50" y1="660.40" x2="495.50" y2="663.00" stroke="#333" stroke-width="0.6" />
<line x1="508.30" y1="660.40" x2="508.30" y2="663.00" stroke="#333" stroke-width="0.6" />
<line x1="520.90" y1="660.40" x2="520.90" y2="663.00" stroke="#333" stroke-width="0.6" />
<line x1="408.40" y1="652.70" x2="528.80" y2="652.70" stroke="#3a3af0" stroke-width="0.9" stroke-dasharray="2.2 1.6"/>
<text x="406.70" y="655.40" font-size="8.2" text-anchor="end" stroke="#231f20" stroke-width="0.15" >Expected</text>
<text x="406.70" y="663.40" font-size="8.2" text-anchor="end" stroke="#231f20" stroke-width="0.15" >for age</text>
<text x="381.20" y="608.00" font-size="9.2" text-anchor="middle" stroke="#231f20" stroke-width="0.15" transform="rotate(-90 381.20 608.00)" >Excess sSNVs</text>
<text x="391.20" y="608.00" font-size="9.2" text-anchor="middle" stroke="#231f20" stroke-width="0.15" transform="rotate(-90 391.20 608.00)" >per neuron in PFC</text>
<line x1="431.20" y1="623.43" x2="431.20" y2="645.92" stroke="#231f20" stroke-width="0.7" />
<line x1="428.80" y1="623.43" x2="433.60" y2="623.43" stroke="#231f20" stroke-width="0.7" />
<line x1="428.80" y1="645.92" x2="433.60" y2="645.92" stroke="#231f20" stroke-width="0.7" />
<line x1="426.90" y1="634.35" x2="435.50" y2="634.35" stroke="#231f20" stroke-width="0.7" />
<line x1="444.10" y1="600.47" x2="444.10" y2="631.14" stroke="#231f20" stroke-width="0.7" />
<line x1="441.70" y1="600.47" x2="446.50" y2="600.47" stroke="#231f20" stroke-width="0.7" />
<line x1="441.70" y1="631.14" x2="446.50" y2="631.14" stroke="#231f20" stroke-width="0.7" />
<line x1="439.80" y1="616.21" x2="448.40" y2="616.21" stroke="#231f20" stroke-width="0.7" />
<line x1="456.90" y1="623.43" x2="456.90" y2="639.17" stroke="#231f20" stroke-width="0.7" />
<line x1="454.50" y1="623.43" x2="459.30" y2="623.43" stroke="#231f20" stroke-width="0.7" />
<line x1="454.50" y1="639.17" x2="459.30" y2="639.17" stroke="#231f20" stroke-width="0.7" />
<line x1="452.60" y1="631.14" x2="461.20" y2="631.14" stroke="#231f20" stroke-width="0.7" />
<line x1="469.80" y1="639.81" x2="469.80" y2="647.52" stroke="#231f20" stroke-width="0.7" />
<line x1="467.40" y1="639.81" x2="472.20" y2="639.81" stroke="#231f20" stroke-width="0.7" />
<line x1="467.40" y1="647.52" x2="472.20" y2="647.52" stroke="#231f20" stroke-width="0.7" />
<line x1="465.50" y1="643.19" x2="474.10" y2="643.19" stroke="#231f20" stroke-width="0.7" />
<line x1="481.80" y1="650.25" x2="481.80" y2="654.75" stroke="#231f20" stroke-width="0.7" />
<line x1="479.40" y1="650.25" x2="484.20" y2="650.25" stroke="#231f20" stroke-width="0.7" />
<line x1="479.40" y1="654.75" x2="484.20" y2="654.75" stroke="#231f20" stroke-width="0.7" />
<line x1="477.50" y1="652.66" x2="486.10" y2="652.66" stroke="#231f20" stroke-width="0.7" />
<line x1="495.50" y1="633.55" x2="495.50" y2="643.51" stroke="#231f20" stroke-width="0.7" />
<line x1="493.10" y1="633.55" x2="497.90" y2="633.55" stroke="#231f20" stroke-width="0.7" />
<line x1="493.10" y1="643.51" x2="497.90" y2="643.51" stroke="#231f20" stroke-width="0.7" />
<line x1="491.20" y1="638.69" x2="499.80" y2="638.69" stroke="#231f20" stroke-width="0.7" />
<line x1="508.30" y1="632.59" x2="508.30" y2="643.51" stroke="#231f20" stroke-width="0.7" />
<line x1="505.90" y1="632.59" x2="510.70" y2="632.59" stroke="#231f20" stroke-width="0.7" />
<line x1="505.90" y1="643.51" x2="510.70" y2="643.51" stroke="#231f20" stroke-width="0.7" />
<line x1="504.00" y1="637.89" x2="512.60" y2="637.89" stroke="#231f20" stroke-width="0.7" />
<line x1="520.90" y1="628.57" x2="520.90" y2="643.19" stroke="#231f20" stroke-width="0.7" />
<line x1="518.50" y1="628.57" x2="523.30" y2="628.57" stroke="#231f20" stroke-width="0.7" />
<line x1="518.50" y1="643.19" x2="523.30" y2="643.19" stroke="#231f20" stroke-width="0.7" />
<line x1="516.60" y1="636.28" x2="525.20" y2="636.28" stroke="#231f20" stroke-width="0.7" />
<circle cx="431.24" cy="580.40" r="1.50" fill="#d85050" stroke="#1b1b2e" stroke-width="0.45" />
<circle cx="430.44" cy="632.75" r="1.50" fill="#d85050" stroke="#1b1b2e" stroke-width="0.45" />
<circle cx="430.44" cy="646.24" r="1.50" fill="#d85050" stroke="#1b1b2e" stroke-width="0.45" />
<circle cx="432.04" cy="651.22" r="1.50" fill="#d85050" stroke="#1b1b2e" stroke-width="0.45" />
<circle cx="432.85" cy="650.73" r="1.50" fill="#d85050" stroke="#1b1b2e" stroke-width="0.45" />
<circle cx="442.80" cy="580.40" r="1.50" fill="#d85050" stroke="#1b1b2e" stroke-width="0.45" />
<circle cx="444.89" cy="568.03" r="1.50" fill="#d85050" stroke="#1b1b2e" stroke-width="0.45" />
<circle cx="444.41" cy="603.36" r="1.50" fill="#d85050" stroke="#1b1b2e" stroke-width="0.45" />
<circle cx="443.77" cy="639.17" r="1.50" fill="#d85050" stroke="#1b1b2e" stroke-width="0.45" />
<circle cx="445.37" cy="649.61" r="1.50" fill="#d85050" stroke="#1b1b2e" stroke-width="0.45" />
<circle cx="444.09" cy="655.55" r="1.50" fill="#d85050" stroke="#1b1b2e" stroke-width="0.45" />
<circle cx="455.33" cy="614.28" r="1.50" fill="#d85050" stroke="#1b1b2e" stroke-width="0.45" />
<circle cx="457.74" cy="611.71" r="1.50" fill="#d85050" stroke="#1b1b2e" stroke-width="0.45" />
<circle cx="456.94" cy="634.19" r="1.50" fill="#d85050" stroke="#1b1b2e" stroke-width="0.45" />
<circle cx="457.26" cy="643.51" r="1.50" fill="#d85050" stroke="#1b1b2e" stroke-width="0.45" />
<circle cx="455.65" cy="653.62" r="1.50" fill="#d85050" stroke="#1b1b2e" stroke-width="0.45" />
<circle cx="470.10" cy="640.30" r="1.50" fill="#d85050" stroke="#1b1b2e" stroke-width="0.45" />
<circle cx="471.39" cy="639.49" r="1.50" fill="#d85050" stroke="#1b1b2e" stroke-width="0.45" />
<circle cx="470.59" cy="650.73" r="1.50" fill="#d85050" stroke="#1b1b2e" stroke-width="0.45" />
<circle cx="481.51" cy="644.63" r="1.50" fill="#d85050" stroke="#1b1b2e" stroke-width="0.45" />
<circle cx="484.24" cy="649.13" r="1.50" fill="#d85050" stroke="#1b1b2e" stroke-width="0.45" />
<circle cx="484.24" cy="651.86" r="1.50" fill="#d85050" stroke="#1b1b2e" stroke-width="0.45" />
<circle cx="480.70" cy="656.35" r="1.50" fill="#d85050" stroke="#1b1b2e" stroke-width="0.45" />
<circle cx="483.92" cy="656.35" r="1.50" fill="#d85050" stroke="#1b1b2e" stroke-width="0.45" />
<circle cx="484.24" cy="658.28" r="1.50" fill="#d85050" stroke="#1b1b2e" stroke-width="0.45" />
<circle cx="495.48" cy="626.32" r="1.50" fill="#d85050" stroke="#1b1b2e" stroke-width="0.45" />
<circle cx="496.76" cy="629.05" r="1.50" fill="#d85050" stroke="#1b1b2e" stroke-width="0.45" />
<circle cx="497.08" cy="639.01" r="1.50" fill="#d85050" stroke="#1b1b2e" stroke-width="0.45" />
<circle cx="497.08" cy="645.92" r="1.50" fill="#d85050" stroke="#1b1b2e" stroke-width="0.45" />
<circle cx="496.76" cy="653.62" r="1.50" fill="#d85050" stroke="#1b1b2e" stroke-width="0.45" />
<circle cx="508.65" cy="623.11" r="1.50" fill="#d85050" stroke="#1b1b2e" stroke-width="0.45" />
<circle cx="508.00" cy="628.25" r="1.50" fill="#d85050" stroke="#1b1b2e" stroke-width="0.45" />
<circle cx="509.13" cy="637.08" r="1.50" fill="#d85050" stroke="#1b1b2e" stroke-width="0.45" />
<circle cx="508.33" cy="651.22" r="1.50" fill="#d85050" stroke="#1b1b2e" stroke-width="0.45" />
<circle cx="509.13" cy="650.73" r="1.50" fill="#d85050" stroke="#1b1b2e" stroke-width="0.45" />
<circle cx="519.89" cy="622.31" r="1.50" fill="#d85050" stroke="#1b1b2e" stroke-width="0.45" />
<circle cx="521.49" cy="632.27" r="1.50" fill="#d85050" stroke="#1b1b2e" stroke-width="0.45" />
<circle cx="520.85" cy="633.07" r="1.50" fill="#d85050" stroke="#1b1b2e" stroke-width="0.45" />
<circle cx="520.85" cy="656.35" r="1.50" fill="#d85050" stroke="#1b1b2e" stroke-width="0.45" />
<text x="434.00" y="666.60" font-size="9.0" text-anchor="end" stroke="#231f20" stroke-width="0.15" transform="rotate(-49 434.00 666.60)" >(<tspan font-style="italic">n</tspan> = 6) 1353</text>
<text x="446.90" y="666.60" font-size="9.0" text-anchor="end" stroke="#231f20" stroke-width="0.15" transform="rotate(-49 446.90 666.60)" >(<tspan font-style="italic">n</tspan> = 6) 1647</text>
<text x="459.70" y="666.60" font-size="9.0" text-anchor="end" stroke="#231f20" stroke-width="0.15" transform="rotate(-49 459.70 666.60)" >(<tspan font-style="italic">n</tspan> = 5) 2208</text>
<text x="472.60" y="666.60" font-size="9.0" text-anchor="end" stroke="#231f20" stroke-width="0.15" transform="rotate(-49 472.60 666.60)" >(<tspan font-style="italic">n</tspan> = 3) 4556</text>
<text x="484.60" y="666.60" font-size="9.0" text-anchor="end" stroke="#231f20" stroke-width="0.15" transform="rotate(-49 484.60 666.60)" >(<tspan font-style="italic">n</tspan> = 6) 5222</text>
<text x="498.30" y="666.60" font-size="9.0" text-anchor="end" stroke="#231f20" stroke-width="0.15" transform="rotate(-49 498.30 666.60)" >(<tspan font-style="italic">n</tspan> = 5) 1456</text>
<text x="511.10" y="666.60" font-size="9.0" text-anchor="end" stroke="#231f20" stroke-width="0.15" transform="rotate(-49 511.10 666.60)" >(<tspan font-style="italic">n</tspan> = 5) 1995</text>
<text x="523.70" y="666.60" font-size="9.0" text-anchor="end" stroke="#231f20" stroke-width="0.15" transform="rotate(-49 523.70 666.60)" >(<tspan font-style="italic">n</tspan> = 4) 1828</text>
<text x="474.20" y="714.60" font-size="9.2" text-anchor="middle" stroke="#231f20" stroke-width="0.15" >AD case ID</text>
<text x="530.90" y="561.00" font-size="10.8" font-weight="bold" fill="#000" stroke="#000" stroke-width="0.35">k</text>
<line x1="579.80" y1="563.00" x2="579.80" y2="660.70" stroke="#333" stroke-width="0.7" />
<line x1="577.20" y1="564.20" x2="579.80" y2="564.20" stroke="#333" stroke-width="0.6" />
<text x="576.00" y="567.00" font-size="8.2" text-anchor="end" stroke="#231f20" stroke-width="0.15" >8,000</text>
<line x1="577.20" y1="574.90" x2="579.80" y2="574.90" stroke="#333" stroke-width="0.6" />
<line x1="577.20" y1="585.50" x2="579.80" y2="585.50" stroke="#333" stroke-width="0.6" />
<text x="576.00" y="588.30" font-size="8.2" text-anchor="end" stroke="#231f20" stroke-width="0.15" >6,000</text>
<line x1="577.20" y1="596.40" x2="579.80" y2="596.40" stroke="#333" stroke-width="0.6" />
<line x1="577.20" y1="607.20" x2="579.80" y2="607.20" stroke="#333" stroke-width="0.6" />
<text x="576.00" y="610.00" font-size="8.2" text-anchor="end" stroke="#231f20" stroke-width="0.15" >4,000</text>
<line x1="577.20" y1="617.90" x2="579.80" y2="617.90" stroke="#333" stroke-width="0.6" />
<line x1="577.20" y1="628.60" x2="579.80" y2="628.60" stroke="#333" stroke-width="0.6" />
<text x="576.00" y="631.40" font-size="8.2" text-anchor="end" stroke="#231f20" stroke-width="0.15" >2,000</text>
<line x1="577.20" y1="639.40" x2="579.80" y2="639.40" stroke="#333" stroke-width="0.6" />
<line x1="577.20" y1="650.10" x2="579.80" y2="650.10" stroke="#333" stroke-width="0.6" />
<text x="576.00" y="652.90" font-size="8.2" text-anchor="end" stroke="#231f20" stroke-width="0.15" >0</text>
<line x1="579.80" y1="660.70" x2="685.00" y2="660.70" stroke="#333" stroke-width="0.7" />
<line x1="587.80" y1="660.70" x2="587.80" y2="663.30" stroke="#333" stroke-width="0.6" />
<line x1="600.40" y1="660.70" x2="600.40" y2="663.30" stroke="#333" stroke-width="0.6" />
<line x1="613.10" y1="660.70" x2="613.10" y2="663.30" stroke="#333" stroke-width="0.6" />
<line x1="625.60" y1="660.70" x2="625.60" y2="663.30" stroke="#333" stroke-width="0.6" />
<line x1="638.80" y1="660.70" x2="638.80" y2="663.30" stroke="#333" stroke-width="0.6" />
<line x1="651.80" y1="660.70" x2="651.80" y2="663.30" stroke="#333" stroke-width="0.6" />
<line x1="664.60" y1="660.70" x2="664.60" y2="663.30" stroke="#333" stroke-width="0.6" />
<line x1="677.00" y1="660.70" x2="677.00" y2="663.30" stroke="#333" stroke-width="0.6" />
<line x1="579.80" y1="650.10" x2="685.00" y2="650.10" stroke="#3a3af0" stroke-width="0.9" stroke-dasharray="2.2 1.6"/>
<text x="539.00" y="610.00" font-size="9.2" text-anchor="middle" stroke="#231f20" stroke-width="0.15" transform="rotate(-90 539.00 610.00)" >Excess sSNVs</text>
<text x="551.00" y="610.00" font-size="9.2" text-anchor="middle" stroke="#231f20" stroke-width="0.15" transform="rotate(-90 551.00 610.00)" >per neuron in HC</text>
<line x1="587.80" y1="637.22" x2="587.80" y2="647.82" stroke="#231f20" stroke-width="0.7" />
<line x1="585.40" y1="637.22" x2="590.20" y2="637.22" stroke="#231f20" stroke-width="0.7" />
<line x1="585.40" y1="647.82" x2="590.20" y2="647.82" stroke="#231f20" stroke-width="0.7" />
<line x1="583.50" y1="642.52" x2="592.10" y2="642.52" stroke="#231f20" stroke-width="0.7" />
<line x1="600.40" y1="649.75" x2="600.40" y2="650.71" stroke="#231f20" stroke-width="0.7" />
<line x1="598.00" y1="649.75" x2="602.80" y2="649.75" stroke="#231f20" stroke-width="0.7" />
<line x1="598.00" y1="650.71" x2="602.80" y2="650.71" stroke="#231f20" stroke-width="0.7" />
<line x1="596.10" y1="650.23" x2="604.70" y2="650.23" stroke="#231f20" stroke-width="0.7" />
<line x1="613.10" y1="611.53" x2="613.10" y2="639.31" stroke="#231f20" stroke-width="0.7" />
<line x1="610.70" y1="611.53" x2="615.50" y2="611.53" stroke="#231f20" stroke-width="0.7" />
<line x1="610.70" y1="639.31" x2="615.50" y2="639.31" stroke="#231f20" stroke-width="0.7" />
<line x1="608.80" y1="625.34" x2="617.40" y2="625.34" stroke="#231f20" stroke-width="0.7" />
<line x1="625.60" y1="651.35" x2="625.60" y2="653.76" stroke="#231f20" stroke-width="0.7" />
<line x1="623.20" y1="651.35" x2="628.00" y2="651.35" stroke="#231f20" stroke-width="0.7" />
<line x1="623.20" y1="653.76" x2="628.00" y2="653.76" stroke="#231f20" stroke-width="0.7" />
<line x1="621.30" y1="652.64" x2="629.90" y2="652.64" stroke="#231f20" stroke-width="0.7" />
<line x1="638.80" y1="620.04" x2="638.80" y2="648.14" stroke="#231f20" stroke-width="0.7" />
<line x1="636.40" y1="620.04" x2="641.20" y2="620.04" stroke="#231f20" stroke-width="0.7" />
<line x1="636.40" y1="648.14" x2="641.20" y2="648.14" stroke="#231f20" stroke-width="0.7" />
<line x1="634.50" y1="634.17" x2="643.10" y2="634.17" stroke="#231f20" stroke-width="0.7" />
<line x1="651.80" y1="635.30" x2="651.80" y2="643.00" stroke="#231f20" stroke-width="0.7" />
<line x1="649.40" y1="635.30" x2="654.20" y2="635.30" stroke="#231f20" stroke-width="0.7" />
<line x1="649.40" y1="643.00" x2="654.20" y2="643.00" stroke="#231f20" stroke-width="0.7" />
<line x1="647.50" y1="638.99" x2="656.10" y2="638.99" stroke="#231f20" stroke-width="0.7" />
<line x1="664.60" y1="607.67" x2="664.60" y2="630.16" stroke="#231f20" stroke-width="0.7" />
<line x1="662.20" y1="607.67" x2="667.00" y2="607.67" stroke="#231f20" stroke-width="0.7" />
<line x1="662.20" y1="630.16" x2="667.00" y2="630.16" stroke="#231f20" stroke-width="0.7" />
<line x1="660.30" y1="619.24" x2="668.90" y2="619.24" stroke="#231f20" stroke-width="0.7" />
<line x1="677.00" y1="650.55" x2="677.00" y2="654.57" stroke="#231f20" stroke-width="0.7" />
<line x1="674.60" y1="650.55" x2="679.40" y2="650.55" stroke="#231f20" stroke-width="0.7" />
<line x1="674.60" y1="654.57" x2="679.40" y2="654.57" stroke="#231f20" stroke-width="0.7" />
<line x1="672.70" y1="652.48" x2="681.30" y2="652.48" stroke="#231f20" stroke-width="0.7" />
<path d="M586.80,629.20L590.50,629.20L588.65,625.98Z" fill="#f47868" stroke="#1b1b2e" stroke-width="0.45" stroke-linejoin="round"/>
<path d="M586.80,645.74L590.50,645.74L588.65,642.52Z" fill="#f47868" stroke="#1b1b2e" stroke-width="0.45" stroke-linejoin="round"/>
<path d="M586.32,647.83L590.02,647.83L588.17,644.61Z" fill="#f47868" stroke="#1b1b2e" stroke-width="0.45" stroke-linejoin="round"/>
<path d="M585.68,649.43L589.38,649.43L587.53,646.21Z" fill="#f47868" stroke="#1b1b2e" stroke-width="0.45" stroke-linejoin="round"/>
<path d="M599.65,650.23L603.35,650.23L601.50,647.02Z" fill="#f47868" stroke="#1b1b2e" stroke-width="0.45" stroke-linejoin="round"/>
<path d="M600.45,652.16L604.15,652.16L602.30,648.94Z" fill="#f47868" stroke="#1b1b2e" stroke-width="0.45" stroke-linejoin="round"/>
<path d="M599.65,652.64L603.35,652.64L601.50,649.42Z" fill="#f47868" stroke="#1b1b2e" stroke-width="0.45" stroke-linejoin="round"/>
<path d="M610.89,572.19L614.59,572.19L612.74,568.97Z" fill="#f47868" stroke="#1b1b2e" stroke-width="0.45" stroke-linejoin="round"/>
<path d="M611.69,637.39L615.39,637.39L613.54,634.17Z" fill="#f47868" stroke="#1b1b2e" stroke-width="0.45" stroke-linejoin="round"/>
<path d="M611.37,640.12L615.07,640.12L613.22,636.90Z" fill="#f47868" stroke="#1b1b2e" stroke-width="0.45" stroke-linejoin="round"/>
<path d="M610.57,644.61L614.27,644.61L612.42,641.39Z" fill="#f47868" stroke="#1b1b2e" stroke-width="0.45" stroke-linejoin="round"/>
<path d="M622.13,652.16L625.83,652.16L623.98,648.94Z" fill="#f47868" stroke="#1b1b2e" stroke-width="0.45" stroke-linejoin="round"/>
<path d="M624.22,652.96L627.92,652.96L626.07,649.75Z" fill="#f47868" stroke="#1b1b2e" stroke-width="0.45" stroke-linejoin="round"/>
<path d="M624.86,653.77L628.56,653.77L626.71,650.55Z" fill="#f47868" stroke="#1b1b2e" stroke-width="0.45" stroke-linejoin="round"/>
<path d="M623.74,660.67L627.44,660.67L625.59,657.45Z" fill="#f47868" stroke="#1b1b2e" stroke-width="0.45" stroke-linejoin="round"/>
<path d="M637.07,579.41L640.77,579.41L638.92,576.19Z" fill="#f47868" stroke="#1b1b2e" stroke-width="0.45" stroke-linejoin="round"/>
<path d="M637.39,640.92L641.09,640.92L639.24,637.70Z" fill="#f47868" stroke="#1b1b2e" stroke-width="0.45" stroke-linejoin="round"/>
<path d="M635.78,649.27L639.48,649.27L637.63,646.05Z" fill="#f47868" stroke="#1b1b2e" stroke-width="0.45" stroke-linejoin="round"/>
<path d="M638.19,651.36L641.89,651.36L640.04,648.14Z" fill="#f47868" stroke="#1b1b2e" stroke-width="0.45" stroke-linejoin="round"/>
<path d="M636.26,656.98L639.96,656.98L638.11,653.76Z" fill="#f47868" stroke="#1b1b2e" stroke-width="0.45" stroke-linejoin="round"/>
<path d="M650.23,630.48L653.93,630.48L652.08,627.26Z" fill="#f47868" stroke="#1b1b2e" stroke-width="0.45" stroke-linejoin="round"/>
<path d="M649.43,639.31L653.13,639.31L651.28,636.09Z" fill="#f47868" stroke="#1b1b2e" stroke-width="0.45" stroke-linejoin="round"/>
<path d="M651.04,643.33L654.74,643.33L652.89,640.11Z" fill="#f47868" stroke="#1b1b2e" stroke-width="0.45" stroke-linejoin="round"/>
<path d="M650.23,650.56L653.93,650.56L652.08,647.34Z" fill="#f47868" stroke="#1b1b2e" stroke-width="0.45" stroke-linejoin="round"/>
<path d="M660.67,599.17L664.37,599.17L662.52,595.95Z" fill="#f47868" stroke="#1b1b2e" stroke-width="0.45" stroke-linejoin="round"/>
<path d="M663.88,624.06L667.58,624.06L665.73,620.84Z" fill="#f47868" stroke="#1b1b2e" stroke-width="0.45" stroke-linejoin="round"/>
<path d="M662.76,637.71L666.46,637.71L664.61,634.49Z" fill="#f47868" stroke="#1b1b2e" stroke-width="0.45" stroke-linejoin="round"/>
<path d="M673.52,647.83L677.22,647.83L675.37,644.61Z" fill="#f47868" stroke="#1b1b2e" stroke-width="0.45" stroke-linejoin="round"/>
<path d="M675.93,652.96L679.63,652.96L677.78,649.75Z" fill="#f47868" stroke="#1b1b2e" stroke-width="0.45" stroke-linejoin="round"/>
<path d="M676.73,653.77L680.43,653.77L678.58,650.55Z" fill="#f47868" stroke="#1b1b2e" stroke-width="0.45" stroke-linejoin="round"/>
<path d="M675.61,656.98L679.31,656.98L677.46,653.76Z" fill="#f47868" stroke="#1b1b2e" stroke-width="0.45" stroke-linejoin="round"/>
<path d="M674.00,658.91L677.70,658.91L675.85,655.69Z" fill="#f47868" stroke="#1b1b2e" stroke-width="0.45" stroke-linejoin="round"/>
<text x="590.60" y="666.80" font-size="9.0" text-anchor="end" stroke="#231f20" stroke-width="0.15" transform="rotate(-49 590.60 666.80)" >(<tspan font-style="italic">n</tspan> = 4) 1353</text>
<text x="603.20" y="666.80" font-size="9.0" text-anchor="end" stroke="#231f20" stroke-width="0.15" transform="rotate(-49 603.20 666.80)" >(<tspan font-style="italic">n</tspan> = 4) 1647</text>
<text x="615.90" y="666.80" font-size="9.0" text-anchor="end" stroke="#231f20" stroke-width="0.15" transform="rotate(-49 615.90 666.80)" >(<tspan font-style="italic">n</tspan> = 5) 2208</text>
<text x="628.40" y="666.80" font-size="9.0" text-anchor="end" stroke="#231f20" stroke-width="0.15" transform="rotate(-49 628.40 666.80)" >(<tspan font-style="italic">n</tspan> = 5) 4556</text>
<text x="641.60" y="666.80" font-size="9.0" text-anchor="end" stroke="#231f20" stroke-width="0.15" transform="rotate(-49 641.60 666.80)" >(<tspan font-style="italic">n</tspan> = 5) 5222</text>
<text x="654.60" y="666.80" font-size="9.0" text-anchor="end" stroke="#231f20" stroke-width="0.15" transform="rotate(-49 654.60 666.80)" >(<tspan font-style="italic">n</tspan> = 4) 1456</text>
<text x="667.40" y="666.80" font-size="9.0" text-anchor="end" stroke="#231f20" stroke-width="0.15" transform="rotate(-49 667.40 666.80)" >(<tspan font-style="italic">n</tspan> = 3) 1995</text>
<text x="679.80" y="666.80" font-size="9.0" text-anchor="end" stroke="#231f20" stroke-width="0.15" transform="rotate(-49 679.80 666.80)" >(<tspan font-style="italic">n</tspan> = 5) 1828</text>
<text x="632.00" y="714.80" font-size="9.2" text-anchor="middle" stroke="#231f20" stroke-width="0.15" >AD case ID</text>
<text x="450.40" y="734.20" font-size="10.8" font-weight="bold" fill="#000" stroke="#000" stroke-width="0.35">l</text>
<text x="603.10" y="749.60" font-size="9.2" stroke="#231f20" stroke-width="0.15" >AD case ID</text>
<line x1="605.00" y1="757.70" x2="618.00" y2="757.70" stroke="#f2776f" stroke-width="0.7" />
<text x="622.90" y="760.90" font-size="9.2" stroke="#231f20" stroke-width="0.15" >1353</text>
<line x1="605.00" y1="767.75" x2="618.00" y2="767.75" stroke="#cf9a1c" stroke-width="0.7" />
<text x="622.90" y="770.95" font-size="9.2" stroke="#231f20" stroke-width="0.15" >1647</text>
<line x1="605.00" y1="777.80" x2="618.00" y2="777.80" stroke="#86b52a" stroke-width="0.7" />
<text x="622.90" y="781.00" font-size="9.2" stroke="#231f20" stroke-width="0.15" >2208</text>
<line x1="605.00" y1="787.85" x2="618.00" y2="787.85" stroke="#22b27a" stroke-width="0.7" />
<text x="622.90" y="791.05" font-size="9.2" stroke="#231f20" stroke-width="0.15" >4556</text>
<line x1="605.00" y1="797.90" x2="618.00" y2="797.90" stroke="#20b9c2" stroke-width="0.7" />
<text x="622.90" y="801.10" font-size="9.2" stroke="#231f20" stroke-width="0.15" >5222</text>
<line x1="605.00" y1="807.95" x2="618.00" y2="807.95" stroke="#2a9ff0" stroke-width="0.7" />
<text x="622.90" y="811.15" font-size="9.2" stroke="#231f20" stroke-width="0.15" >1456</text>
<line x1="605.00" y1="818.00" x2="618.00" y2="818.00" stroke="#c08ef2" stroke-width="0.7" />
<text x="622.90" y="821.20" font-size="9.2" stroke="#231f20" stroke-width="0.15" >1995</text>
<line x1="605.00" y1="828.05" x2="618.00" y2="828.05" stroke="#f062c8" stroke-width="0.7" />
<text x="622.90" y="831.25" font-size="9.2" stroke="#231f20" stroke-width="0.15" >1828</text>
<path d="M519.87,731.00A60.2,60.2 0 0 1 549.72,739.14" fill="none" stroke="#333" stroke-width="3.9"/>
<path d="M520.03,731.00A60.2,60.2 0 0 1 549.58,739.06" fill="none" stroke="#fff" stroke-width="2.7"/>
<path d="M533.73,732.71A60.2,60.2 0 0 1 534.94,733.01M521.23,731.02A60.2,60.2 0 0 1 521.92,731.05M547.63,737.98A60.2,60.2 0 0 1 548.55,738.47M524.08,731.17A60.2,60.2 0 0 1 524.83,731.24M545.46,736.88A60.2,60.2 0 0 1 546.21,737.25M521.14,731.02A60.2,60.2 0 0 1 522.40,731.07M524.13,731.18A60.2,60.2 0 0 1 525.15,731.27M538.31,734.02A60.2,60.2 0 0 1 539.13,734.29M547.63,737.98A60.2,60.2 0 0 1 548.15,738.26M537.90,733.88A60.2,60.2 0 0 1 538.40,734.04M547.73,738.03A60.2,60.2 0 0 1 548.22,738.29M535.29,733.11A60.2,60.2 0 0 1 536.46,733.44M545.55,736.93A60.2,60.2 0 0 1 546.01,737.15M545.39,736.85A60.2,60.2 0 0 1 546.49,737.39" fill="none" stroke="#222" stroke-width="2.7"/>
<path d="M529.59,731.85A60.2,60.2 0 0 1 530.63,732.04M526.99,731.47A60.2,60.2 0 0 1 527.54,731.54M525.09,731.26A60.2,60.2 0 0 1 525.77,731.33M544.02,736.22A60.2,60.2 0 0 1 544.76,736.55M548.34,738.36A60.2,60.2 0 0 1 549.36,738.93M526.50,731.41A60.2,60.2 0 0 1 527.28,731.51M522.19,731.06A60.2,60.2 0 0 1 523.10,731.11M538.02,733.92A60.2,60.2 0 0 1 538.89,734.21M522.91,731.10A60.2,60.2 0 0 1 523.84,731.16M523.61,731.14A60.2,60.2 0 0 1 524.73,731.23M533.81,732.73A60.2,60.2 0 0 1 534.30,732.85M548.07,738.21A60.2,60.2 0 0 1 549.13,738.80M530.06,731.93A60.2,60.2 0 0 1 531.24,732.16M528.69,731.71A60.2,60.2 0 0 1 529.55,731.84" fill="none" stroke="#999" stroke-width="2.7"/>
<path d="M532.29,732.37A60.2,60.2 0 0 1 533.00,732.53" fill="none" stroke="#e02020" stroke-width="2.7"/>
<path d="M550.35,739.51A60.2,60.2 0 0 1 571.58,761.01" fill="none" stroke="#333" stroke-width="3.9"/>
<path d="M550.49,739.59A60.2,60.2 0 0 1 571.50,760.87" fill="none" stroke="#fff" stroke-width="2.7"/>
<path d="M561.98,748.55A60.2,60.2 0 0 1 562.82,749.40M565.24,752.06A60.2,60.2 0 0 1 565.95,752.90M559.94,746.60A60.2,60.2 0 0 1 560.79,747.39M557.82,744.77A60.2,60.2 0 0 1 558.43,745.29M569.61,757.84A60.2,60.2 0 0 1 569.89,758.26M562.43,748.99A60.2,60.2 0 0 1 563.35,749.95M555.17,742.70A60.2,60.2 0 0 1 556.25,743.52M555.78,743.16A60.2,60.2 0 0 1 556.23,743.50M563.91,750.56A60.2,60.2 0 0 1 564.75,751.50M565.54,752.42A60.2,60.2 0 0 1 566.21,753.22M567.76,755.22A60.2,60.2 0 0 1 568.55,756.30M555.40,742.88A60.2,60.2 0 0 1 555.83,743.19M557.86,744.80A60.2,60.2 0 0 1 558.77,745.57M565.92,752.87A60.2,60.2 0 0 1 566.25,753.27" fill="none" stroke="#222" stroke-width="2.7"/>
<path d="M558.59,745.42A60.2,60.2 0 0 1 558.92,745.70M566.10,753.09A60.2,60.2 0 0 1 566.84,754.01M553.37,741.43A60.2,60.2 0 0 1 553.79,741.72M552.54,740.88A60.2,60.2 0 0 1 553.51,741.52M562.25,748.82A60.2,60.2 0 0 1 562.86,749.44M551.42,740.16A60.2,60.2 0 0 1 551.95,740.49M559.56,746.26A60.2,60.2 0 0 1 560.44,747.07M560.34,746.97A60.2,60.2 0 0 1 561.07,747.65M562.36,748.92A60.2,60.2 0 0 1 563.02,749.60M551.56,740.25A60.2,60.2 0 0 1 552.53,740.87M570.00,758.44A60.2,60.2 0 0 1 570.56,759.31M567.36,754.69A60.2,60.2 0 0 1 567.63,755.03M562.45,749.02A60.2,60.2 0 0 1 563.16,749.76M566.46,753.54A60.2,60.2 0 0 1 566.84,754.01" fill="none" stroke="#999" stroke-width="2.7"/>
<path d="M560.14,746.79A60.2,60.2 0 0 1 560.68,747.29" fill="none" stroke="#e02020" stroke-width="2.7"/>
<path d="M571.95,761.65A60.2,60.2 0 0 1 579.40,785.20" fill="none" stroke="#333" stroke-width="3.9"/>
<path d="M572.02,761.78A60.2,60.2 0 0 1 579.38,785.05" fill="none" stroke="#fff" stroke-width="2.7"/>
<path d="M574.89,767.63A60.2,60.2 0 0 1 575.36,768.75M579.13,782.91A60.2,60.2 0 0 1 579.25,783.84M576.43,771.64A60.2,60.2 0 0 1 576.71,772.47M578.29,778.24A60.2,60.2 0 0 1 578.41,778.80M573.78,765.17A60.2,60.2 0 0 1 574.26,766.19M574.74,767.27A60.2,60.2 0 0 1 575.06,768.03M573.11,763.82A60.2,60.2 0 0 1 573.34,764.27M577.83,776.32A60.2,60.2 0 0 1 578.06,777.25M578.28,778.20A60.2,60.2 0 0 1 578.41,778.82M576.64,772.25A60.2,60.2 0 0 1 576.91,773.10M574.70,767.18A60.2,60.2 0 0 1 575.07,768.05" fill="none" stroke="#222" stroke-width="2.7"/>
<path d="M575.86,770.05A60.2,60.2 0 0 1 576.19,770.96M578.47,779.09A60.2,60.2 0 0 1 578.68,780.17M573.68,764.96A60.2,60.2 0 0 1 573.98,765.58M575.44,768.94A60.2,60.2 0 0 1 575.72,769.68M572.67,762.96A60.2,60.2 0 0 1 572.87,763.35M576.12,770.74A60.2,60.2 0 0 1 576.41,771.57M577.09,773.66A60.2,60.2 0 0 1 577.21,774.08M574.21,766.09A60.2,60.2 0 0 1 574.46,766.64M576.56,772.01A60.2,60.2 0 0 1 576.91,773.08M573.42,764.42A60.2,60.2 0 0 1 573.75,765.10M572.32,762.32A60.2,60.2 0 0 1 572.57,762.79" fill="none" stroke="#999" stroke-width="2.7"/>
<path d="M576.10,770.68A60.2,60.2 0 0 1 576.34,771.37" fill="none" stroke="#e02020" stroke-width="2.7"/>
<path d="M579.47,785.93A60.2,60.2 0 0 1 576.81,809.63" fill="none" stroke="#333" stroke-width="3.9"/>
<path d="M579.48,786.09A60.2,60.2 0 0 1 576.86,809.48" fill="none" stroke="#fff" stroke-width="2.7"/>
<path d="M577.28,808.10A60.2,60.2 0 0 1 577.03,808.95M579.62,788.01A60.2,60.2 0 0 1 579.65,788.70M579.70,791.53A60.2,60.2 0 0 1 579.68,792.75M579.66,788.97A60.2,60.2 0 0 1 579.69,789.99M577.65,806.77A60.2,60.2 0 0 1 577.33,807.93M579.68,792.85A60.2,60.2 0 0 1 579.65,793.66M579.69,790.15A60.2,60.2 0 0 1 579.70,791.15M579.31,798.00A60.2,60.2 0 0 1 579.21,798.85M579.26,798.47A60.2,60.2 0 0 1 579.13,799.46M579.67,789.30A60.2,60.2 0 0 1 579.69,790.19M577.51,807.31A60.2,60.2 0 0 1 577.34,807.89" fill="none" stroke="#222" stroke-width="2.7"/>
<path d="M577.58,807.03A60.2,60.2 0 0 1 577.46,807.46M579.67,793.23A60.2,60.2 0 0 1 579.64,793.77M577.32,807.96A60.2,60.2 0 0 1 577.08,808.75M578.02,805.32A60.2,60.2 0 0 1 577.87,805.94M579.62,794.35A60.2,60.2 0 0 1 579.57,795.12M579.48,796.31A60.2,60.2 0 0 1 579.41,797.15M579.70,791.00A60.2,60.2 0 0 1 579.70,791.45M579.53,795.77A60.2,60.2 0 0 1 579.46,796.60M578.00,805.42A60.2,60.2 0 0 1 577.72,806.51M578.94,800.75A60.2,60.2 0 0 1 578.76,801.82M579.61,794.41A60.2,60.2 0 0 1 579.55,795.47" fill="none" stroke="#999" stroke-width="2.7"/>
<path d="M579.54,795.53A60.2,60.2 0 0 1 579.49,796.26" fill="none" stroke="#e02020" stroke-width="2.7"/>
<path d="M576.58,810.33A60.2,60.2 0 0 1 565.50,830.04" fill="none" stroke="#333" stroke-width="3.9"/>
<path d="M576.53,810.48A60.2,60.2 0 0 1 565.60,829.92" fill="none" stroke="#fff" stroke-width="2.7"/>
<path d="M574.81,814.97A60.2,60.2 0 0 1 574.33,816.06M568.86,825.67A60.2,60.2 0 0 1 568.42,826.28M576.17,811.52A60.2,60.2 0 0 1 575.71,812.74M573.82,817.15A60.2,60.2 0 0 1 573.57,817.66M569.37,824.91A60.2,60.2 0 0 1 568.96,825.52M574.08,816.61A60.2,60.2 0 0 1 573.64,817.51M572.60,819.57A60.2,60.2 0 0 1 572.24,820.22M569.72,824.40A60.2,60.2 0 0 1 569.26,825.08M572.74,819.31A60.2,60.2 0 0 1 572.48,819.78M573.35,818.12A60.2,60.2 0 0 1 572.92,818.96" fill="none" stroke="#222" stroke-width="2.7"/>
<path d="M568.78,825.78A60.2,60.2 0 0 1 568.43,826.27M567.95,826.92A60.2,60.2 0 0 1 567.46,827.59M574.06,816.64A60.2,60.2 0 0 1 573.83,817.14M566.72,828.55A60.2,60.2 0 0 1 566.03,829.39M570.66,822.93A60.2,60.2 0 0 1 570.01,823.95M575.31,813.77A60.2,60.2 0 0 1 574.85,814.88M572.67,819.44A60.2,60.2 0 0 1 572.43,819.88M575.93,812.18A60.2,60.2 0 0 1 575.48,813.34M576.17,811.52A60.2,60.2 0 0 1 575.75,812.65M572.33,820.06A60.2,60.2 0 0 1 572.08,820.52" fill="none" stroke="#999" stroke-width="2.7"/>
<path d="M573.05,818.71A60.2,60.2 0 0 1 572.71,819.36" fill="none" stroke="#e02020" stroke-width="2.7"/>
<path d="M565.02,830.60A60.2,60.2 0 0 1 548.38,844.02" fill="none" stroke="#333" stroke-width="3.9"/>
<path d="M564.91,830.72A60.2,60.2 0 0 1 548.52,843.94" fill="none" stroke="#fff" stroke-width="2.7"/>
<path d="M563.89,831.86A60.2,60.2 0 0 1 563.48,832.31M549.95,843.13A60.2,60.2 0 0 1 549.11,843.62M559.71,836.00A60.2,60.2 0 0 1 559.10,836.54M563.71,832.06A60.2,60.2 0 0 1 563.40,832.40M551.41,842.25A60.2,60.2 0 0 1 550.92,842.55M554.61,840.10A60.2,60.2 0 0 1 554.12,840.45M558.12,837.38A60.2,60.2 0 0 1 557.45,837.93M555.18,839.68A60.2,60.2 0 0 1 554.80,839.97M558.41,837.14A60.2,60.2 0 0 1 558.05,837.43M552.03,841.86A60.2,60.2 0 0 1 550.99,842.51" fill="none" stroke="#222" stroke-width="2.7"/>
<path d="M559.31,836.36A60.2,60.2 0 0 1 558.47,837.09M560.98,834.83A60.2,60.2 0 0 1 560.60,835.19M564.14,831.59A60.2,60.2 0 0 1 563.78,831.98M551.64,842.10A60.2,60.2 0 0 1 551.21,842.37M553.74,840.71A60.2,60.2 0 0 1 553.17,841.10M564.69,830.97A60.2,60.2 0 0 1 563.91,831.85M554.06,840.49A60.2,60.2 0 0 1 553.69,840.75M553.67,840.76A60.2,60.2 0 0 1 552.68,841.43M550.33,842.91A60.2,60.2 0 0 1 549.66,843.30M552.13,841.79A60.2,60.2 0 0 1 551.29,842.32" fill="none" stroke="#999" stroke-width="2.7"/>
<path d="M558.95,836.67A60.2,60.2 0 0 1 558.39,837.15" fill="none" stroke="#e02020" stroke-width="2.7"/>
<path d="M547.73,844.37A60.2,60.2 0 0 1 528.87,850.67" fill="none" stroke="#333" stroke-width="3.9"/>
<path d="M547.59,844.44A60.2,60.2 0 0 1 529.02,850.64" fill="none" stroke="#fff" stroke-width="2.7"/>
<path d="M536.40,848.98A60.2,60.2 0 0 1 535.83,849.14M530.71,850.35A60.2,60.2 0 0 1 529.43,850.57M546.09,845.21A60.2,60.2 0 0 1 545.05,845.71M540.27,847.70A60.2,60.2 0 0 1 539.46,848.00M534.29,849.55A60.2,60.2 0 0 1 533.19,849.82M541.41,847.27A60.2,60.2 0 0 1 540.53,847.61M543.18,846.55A60.2,60.2 0 0 1 542.62,846.78M541.67,847.17A60.2,60.2 0 0 1 540.83,847.49M538.68,848.26A60.2,60.2 0 0 1 537.70,848.58" fill="none" stroke="#222" stroke-width="2.7"/>
<path d="M531.83,850.12A60.2,60.2 0 0 1 530.86,850.32M534.66,849.46A60.2,60.2 0 0 1 534.22,849.57M536.00,849.09A60.2,60.2 0 0 1 535.56,849.22M531.72,850.15A60.2,60.2 0 0 1 531.09,850.27M538.50,848.32A60.2,60.2 0 0 1 537.82,848.54M538.26,848.40A60.2,60.2 0 0 1 537.47,848.66M540.68,847.55A60.2,60.2 0 0 1 539.64,847.93M540.42,847.65A60.2,60.2 0 0 1 539.97,847.81M533.65,849.71A60.2,60.2 0 0 1 533.03,849.86" fill="none" stroke="#999" stroke-width="2.7"/>
<path d="M540.45,847.64A60.2,60.2 0 0 1 539.76,847.89" fill="none" stroke="#e02020" stroke-width="2.7"/>
<path d="M528.14,850.78A60.2,60.2 0 0 1 509.86,850.62" fill="none" stroke="#333" stroke-width="3.9"/>
<path d="M527.98,850.80A60.2,60.2 0 0 1 510.02,850.65" fill="none" stroke="#fff" stroke-width="2.7"/>
<path d="M518.46,851.39A60.2,60.2 0 0 1 517.25,851.36M512.22,850.96A60.2,60.2 0 0 1 511.24,850.83M514.18,851.16A60.2,60.2 0 0 1 513.03,851.05M516.74,851.34A60.2,60.2 0 0 1 516.22,851.31M527.12,850.92A60.2,60.2 0 0 1 525.98,851.05M516.50,851.33A60.2,60.2 0 0 1 515.17,851.24M514.68,851.21A60.2,60.2 0 0 1 514.00,851.15M512.48,850.99A60.2,60.2 0 0 1 511.70,850.89" fill="none" stroke="#222" stroke-width="2.7"/>
<path d="M526.07,851.04A60.2,60.2 0 0 1 525.64,851.09M522.12,851.34A60.2,60.2 0 0 1 521.39,851.37M522.22,851.34A60.2,60.2 0 0 1 521.22,851.38M525.77,851.07A60.2,60.2 0 0 1 524.58,851.19M513.58,851.11A60.2,60.2 0 0 1 512.76,851.02M523.06,851.29A60.2,60.2 0 0 1 522.36,851.33M515.99,851.30A60.2,60.2 0 0 1 515.20,851.25M521.18,851.38A60.2,60.2 0 0 1 520.08,851.40" fill="none" stroke="#999" stroke-width="2.7"/>
<path d="M520.83,851.39A60.2,60.2 0 0 1 520.09,851.40" fill="none" stroke="#e02020" stroke-width="2.7"/>
<path d="M509.14,850.50A60.2,60.2 0 0 1 492.38,844.94" fill="none" stroke="#333" stroke-width="3.9"/>
<path d="M508.98,850.47A60.2,60.2 0 0 1 492.52,845.02" fill="none" stroke="#fff" stroke-width="2.7"/>
<path d="M498.60,847.66A60.2,60.2 0 0 1 497.59,847.27M500.05,848.17A60.2,60.2 0 0 1 499.04,847.82M501.52,848.65A60.2,60.2 0 0 1 500.31,848.26M502.13,848.84A60.2,60.2 0 0 1 501.39,848.61M497.57,847.26A60.2,60.2 0 0 1 497.13,847.09M500.83,848.43A60.2,60.2 0 0 1 499.66,848.04M495.25,846.30A60.2,60.2 0 0 1 494.56,845.99M505.77,849.81A60.2,60.2 0 0 1 505.34,849.71" fill="none" stroke="#222" stroke-width="2.7"/>
<path d="M505.27,849.69A60.2,60.2 0 0 1 504.09,849.39M506.88,850.06A60.2,60.2 0 0 1 506.30,849.93M500.56,848.34A60.2,60.2 0 0 1 499.94,848.13M501.62,848.68A60.2,60.2 0 0 1 501.20,848.55M505.34,849.71A60.2,60.2 0 0 1 504.72,849.56M503.45,849.22A60.2,60.2 0 0 1 502.59,848.98M508.62,850.41A60.2,60.2 0 0 1 507.55,850.20M505.93,849.85A60.2,60.2 0 0 1 505.30,849.70" fill="none" stroke="#999" stroke-width="2.7"/>
<path d="M502.24,848.87A60.2,60.2 0 0 1 501.54,848.66" fill="none" stroke="#e02020" stroke-width="2.7"/>
<path d="M491.72,844.61A60.2,60.2 0 0 1 477.88,834.69" fill="none" stroke="#333" stroke-width="3.9"/>
<path d="M491.58,844.54A60.2,60.2 0 0 1 477.99,834.80" fill="none" stroke="#fff" stroke-width="2.7"/>
<path d="M482.35,838.57A60.2,60.2 0 0 1 481.71,838.06M486.87,841.79A60.2,60.2 0 0 1 486.41,841.49M491.12,844.29A60.2,60.2 0 0 1 489.99,843.67M479.17,835.89A60.2,60.2 0 0 1 478.50,835.28M488.04,842.53A60.2,60.2 0 0 1 487.05,841.91M480.11,836.72A60.2,60.2 0 0 1 479.26,835.98M479.53,836.22A60.2,60.2 0 0 1 479.08,835.81M483.77,839.65A60.2,60.2 0 0 1 483.36,839.34" fill="none" stroke="#222" stroke-width="2.7"/>
<path d="M488.34,842.71A60.2,60.2 0 0 1 487.91,842.45M489.98,843.67A60.2,60.2 0 0 1 489.51,843.40M483.65,839.56A60.2,60.2 0 0 1 482.83,838.94M489.37,843.32A60.2,60.2 0 0 1 488.37,842.73M480.63,837.17A60.2,60.2 0 0 1 480.19,836.79M485.54,840.91A60.2,60.2 0 0 1 484.74,840.35M487.69,842.31A60.2,60.2 0 0 1 486.72,841.70M480.56,837.11A60.2,60.2 0 0 1 480.00,836.63" fill="none" stroke="#999" stroke-width="2.7"/>
<path d="M485.85,841.12A60.2,60.2 0 0 1 485.24,840.70" fill="none" stroke="#e02020" stroke-width="2.7"/>
<path d="M477.35,834.18A60.2,60.2 0 0 1 467.06,820.76" fill="none" stroke="#333" stroke-width="3.9"/>
<path d="M477.23,834.07A60.2,60.2 0 0 1 467.13,820.90" fill="none" stroke="#fff" stroke-width="2.7"/>
<path d="M471.95,828.12A60.2,60.2 0 0 1 471.16,827.08M469.11,824.14A60.2,60.2 0 0 1 468.64,823.41M472.51,828.83A60.2,60.2 0 0 1 472.17,828.40M473.85,830.45A60.2,60.2 0 0 1 473.20,829.67M475.32,832.10A60.2,60.2 0 0 1 474.91,831.64M476.21,833.03A60.2,60.2 0 0 1 475.69,832.49M468.04,822.45A60.2,60.2 0 0 1 467.66,821.80M474.37,831.04A60.2,60.2 0 0 1 473.80,830.38" fill="none" stroke="#222" stroke-width="2.7"/>
<path d="M473.40,829.92A60.2,60.2 0 0 1 472.88,829.29M470.78,826.55A60.2,60.2 0 0 1 470.49,826.16M468.77,823.62A60.2,60.2 0 0 1 468.21,822.72M475.59,832.38A60.2,60.2 0 0 1 474.92,831.66M473.85,830.45A60.2,60.2 0 0 1 473.27,829.75M474.36,831.03A60.2,60.2 0 0 1 473.67,830.23M470.37,826.00A60.2,60.2 0 0 1 469.72,825.06M475.46,832.24A60.2,60.2 0 0 1 474.96,831.70" fill="none" stroke="#999" stroke-width="2.7"/>
<path d="M472.78,829.16A60.2,60.2 0 0 1 472.32,828.59" fill="none" stroke="#e02020" stroke-width="2.7"/>
<path d="M466.70,820.12A60.2,60.2 0 0 1 460.80,804.54" fill="none" stroke="#333" stroke-width="3.9"/>
<path d="M466.62,819.98A60.2,60.2 0 0 1 460.83,804.69" fill="none" stroke="#fff" stroke-width="2.7"/>
<path d="M462.24,809.78A60.2,60.2 0 0 1 462.09,809.31M462.64,810.97A60.2,60.2 0 0 1 462.21,809.69M466.38,819.52A60.2,60.2 0 0 1 466.14,819.07M466.22,819.22A60.2,60.2 0 0 1 465.65,818.12M462.75,811.29A60.2,60.2 0 0 1 462.41,810.31M465.02,816.82A60.2,60.2 0 0 1 464.84,816.43M463.51,813.32A60.2,60.2 0 0 1 463.21,812.54M463.63,813.63A60.2,60.2 0 0 1 463.18,812.45" fill="none" stroke="#222" stroke-width="2.7"/>
<path d="M461.25,806.40A60.2,60.2 0 0 1 461.03,805.53M461.44,807.12A60.2,60.2 0 0 1 461.32,806.68M463.34,812.87A60.2,60.2 0 0 1 462.95,811.84M462.72,811.19A60.2,60.2 0 0 1 462.34,810.08M464.36,815.35A60.2,60.2 0 0 1 464.13,814.83M466.40,819.56A60.2,60.2 0 0 1 465.87,818.55M463.67,813.72A60.2,60.2 0 0 1 463.23,812.60M464.61,815.92A60.2,60.2 0 0 1 464.44,815.53" fill="none" stroke="#999" stroke-width="2.7"/>
<path d="M463.82,814.09A60.2,60.2 0 0 1 463.54,813.40" fill="none" stroke="#e02020" stroke-width="2.7"/>
<path d="M460.64,803.82A60.2,60.2 0 0 1 459.33,789.46" fill="none" stroke="#333" stroke-width="3.9"/>
<path d="M460.60,803.66A60.2,60.2 0 0 1 459.32,789.62" fill="none" stroke="#fff" stroke-width="2.7"/>
<path d="M460.01,800.41A60.2,60.2 0 0 1 459.85,799.31M460.46,802.98A60.2,60.2 0 0 1 460.27,801.95M460.29,802.06A60.2,60.2 0 0 1 460.18,801.48M460.01,800.43A60.2,60.2 0 0 1 459.95,799.99M460.16,801.34A60.2,60.2 0 0 1 459.99,800.32M460.33,802.29A60.2,60.2 0 0 1 460.23,801.73M459.90,799.67A60.2,60.2 0 0 1 459.74,798.50" fill="none" stroke="#222" stroke-width="2.7"/>
<path d="M459.62,797.42A60.2,60.2 0 0 1 459.54,796.54M460.47,803.01A60.2,60.2 0 0 1 460.26,801.93M459.92,799.78A60.2,60.2 0 0 1 459.77,798.73M459.59,797.14A60.2,60.2 0 0 1 459.55,796.71M459.61,797.30A60.2,60.2 0 0 1 459.54,796.54M459.72,798.32A60.2,60.2 0 0 1 459.66,797.76M459.90,799.70A60.2,60.2 0 0 1 459.78,798.80" fill="none" stroke="#999" stroke-width="2.7"/>
<path d="M459.70,798.12A60.2,60.2 0 0 1 459.62,797.39" fill="none" stroke="#e02020" stroke-width="2.7"/>
<path d="M459.35,788.73A60.2,60.2 0 0 1 461.39,775.46" fill="none" stroke="#333" stroke-width="3.9"/>
<path d="M459.36,788.57A60.2,60.2 0 0 1 461.35,775.62" fill="none" stroke="#fff" stroke-width="2.7"/>
<path d="M460.02,781.94A60.2,60.2 0 0 1 460.08,781.52M459.75,783.84A60.2,60.2 0 0 1 459.84,783.16M459.43,787.27A60.2,60.2 0 0 1 459.53,785.91M459.44,787.05A60.2,60.2 0 0 1 459.55,785.70M459.73,784.00A60.2,60.2 0 0 1 459.87,782.97M460.98,777.09A60.2,60.2 0 0 1 461.10,776.59" fill="none" stroke="#222" stroke-width="2.7"/>
<path d="M459.49,786.48A60.2,60.2 0 0 1 459.59,785.34M459.45,787.01A60.2,60.2 0 0 1 459.50,786.27M459.75,783.86A60.2,60.2 0 0 1 459.91,782.68M459.50,786.36A60.2,60.2 0 0 1 459.55,785.73M459.79,783.52A60.2,60.2 0 0 1 459.94,782.41M459.47,786.61A60.2,60.2 0 0 1 459.52,786.10" fill="none" stroke="#999" stroke-width="2.7"/>
<path d="M459.81,783.37A60.2,60.2 0 0 1 459.91,782.64" fill="none" stroke="#e02020" stroke-width="2.7"/>
<path d="M461.59,774.75A60.2,60.2 0 0 1 466.37,762.89" fill="none" stroke="#333" stroke-width="3.9"/>
<path d="M461.63,774.60A60.2,60.2 0 0 1 466.30,763.03" fill="none" stroke="#fff" stroke-width="2.7"/>
<path d="M465.63,764.32A60.2,60.2 0 0 1 466.11,763.39M464.76,766.16A60.2,60.2 0 0 1 465.28,765.04M465.58,764.44A60.2,60.2 0 0 1 466.09,763.43M463.90,768.12A60.2,60.2 0 0 1 464.40,766.96M464.11,767.63A60.2,60.2 0 0 1 464.28,767.23M463.99,767.91A60.2,60.2 0 0 1 464.41,766.93" fill="none" stroke="#222" stroke-width="2.7"/>
<path d="M462.29,772.47A60.2,60.2 0 0 1 462.58,771.59M462.06,773.18A60.2,60.2 0 0 1 462.36,772.26M463.83,768.28A60.2,60.2 0 0 1 464.17,767.48M465.53,764.53A60.2,60.2 0 0 1 465.77,764.06M464.26,767.27A60.2,60.2 0 0 1 464.47,766.80M462.73,771.16A60.2,60.2 0 0 1 463.12,770.09" fill="none" stroke="#999" stroke-width="2.7"/>
<path d="M463.20,769.89A60.2,60.2 0 0 1 463.46,769.20" fill="none" stroke="#e02020" stroke-width="2.7"/>
<path d="M466.72,762.24A60.2,60.2 0 0 1 473.06,752.89" fill="none" stroke="#333" stroke-width="3.9"/>
<path d="M466.80,762.10A60.2,60.2 0 0 1 472.96,753.01" fill="none" stroke="#fff" stroke-width="2.7"/>
<path d="M468.68,758.93A60.2,60.2 0 0 1 469.05,758.35M471.22,755.24A60.2,60.2 0 0 1 471.80,754.48M471.52,754.84A60.2,60.2 0 0 1 472.17,753.99M470.96,755.60A60.2,60.2 0 0 1 471.77,754.51M471.23,755.22A60.2,60.2 0 0 1 471.81,754.46" fill="none" stroke="#222" stroke-width="2.7"/>
<path d="M470.99,755.56A60.2,60.2 0 0 1 471.72,754.57M471.01,755.53A60.2,60.2 0 0 1 471.67,754.65M466.99,761.76A60.2,60.2 0 0 1 467.43,760.98M467.22,761.35A60.2,60.2 0 0 1 467.54,760.80M468.89,758.60A60.2,60.2 0 0 1 469.13,758.23" fill="none" stroke="#999" stroke-width="2.7"/>
<path d="M469.05,758.36A60.2,60.2 0 0 1 469.45,757.75" fill="none" stroke="#e02020" stroke-width="2.7"/>
<path d="M473.53,752.33A60.2,60.2 0 0 1 480.92,744.98" fill="none" stroke="#333" stroke-width="3.9"/>
<path d="M473.63,752.21A60.2,60.2 0 0 1 480.80,745.09" fill="none" stroke="#fff" stroke-width="2.7"/>
<path d="M479.68,746.05A60.2,60.2 0 0 1 480.50,745.34M476.94,748.63A60.2,60.2 0 0 1 477.79,747.79M475.41,750.21A60.2,60.2 0 0 1 475.89,749.70M476.59,748.98A60.2,60.2 0 0 1 477.21,748.36M477.74,747.84A60.2,60.2 0 0 1 478.08,747.51" fill="none" stroke="#222" stroke-width="2.7"/>
<path d="M477.11,748.45A60.2,60.2 0 0 1 477.53,748.04M475.59,750.02A60.2,60.2 0 0 1 476.19,749.39M474.72,750.96A60.2,60.2 0 0 1 475.05,750.60M475.72,749.88A60.2,60.2 0 0 1 476.32,749.26M479.04,746.63A60.2,60.2 0 0 1 479.52,746.20" fill="none" stroke="#999" stroke-width="2.7"/>
<path d="M476.33,749.24A60.2,60.2 0 0 1 476.85,748.71" fill="none" stroke="#e02020" stroke-width="2.7"/>
<path d="M481.49,744.52A60.2,60.2 0 0 1 489.78,738.85" fill="none" stroke="#333" stroke-width="3.9"/>
<path d="M481.61,744.42A60.2,60.2 0 0 1 489.64,738.93" fill="none" stroke="#fff" stroke-width="2.7"/>
<path d="M483.90,742.65A60.2,60.2 0 0 1 484.64,742.12M486.57,740.80A60.2,60.2 0 0 1 487.57,740.17M488.53,739.58A60.2,60.2 0 0 1 489.44,739.04M483.62,742.86A60.2,60.2 0 0 1 484.65,742.11M486.50,740.85A60.2,60.2 0 0 1 487.19,740.40" fill="none" stroke="#222" stroke-width="2.7"/>
<path d="M482.34,743.84A60.2,60.2 0 0 1 483.16,743.20M485.91,741.25A60.2,60.2 0 0 1 486.73,740.70M484.61,742.14A60.2,60.2 0 0 1 485.38,741.60M483.58,742.89A60.2,60.2 0 0 1 484.52,742.20M486.12,741.10A60.2,60.2 0 0 1 486.99,740.53" fill="none" stroke="#999" stroke-width="2.7"/>
<path d="M484.69,742.08A60.2,60.2 0 0 1 485.29,741.66" fill="none" stroke="#e02020" stroke-width="2.7"/>
<path d="M490.42,738.49A60.2,60.2 0 0 1 497.12,735.32" fill="none" stroke="#333" stroke-width="3.9"/>
<path d="M490.56,738.41A60.2,60.2 0 0 1 496.97,735.37" fill="none" stroke="#fff" stroke-width="2.7"/>
<path d="M493.22,737.04A60.2,60.2 0 0 1 493.77,736.78M491.75,737.78A60.2,60.2 0 0 1 492.43,737.43M493.87,736.73A60.2,60.2 0 0 1 494.59,736.39M492.67,737.31A60.2,60.2 0 0 1 493.36,736.97" fill="none" stroke="#222" stroke-width="2.7"/>
<path d="M493.38,736.96A60.2,60.2 0 0 1 494.31,736.52M494.24,736.55A60.2,60.2 0 0 1 495.22,736.11M491.05,738.15A60.2,60.2 0 0 1 492.07,737.61M494.64,736.37A60.2,60.2 0 0 1 495.31,736.07" fill="none" stroke="#999" stroke-width="2.7"/>
<path d="M493.05,737.12A60.2,60.2 0 0 1 493.71,736.80" fill="none" stroke="#e02020" stroke-width="2.7"/>
<path d="M497.80,735.05A60.2,60.2 0 0 1 505.48,732.66" fill="none" stroke="#333" stroke-width="3.9"/>
<path d="M497.95,734.99A60.2,60.2 0 0 1 505.32,732.69" fill="none" stroke="#fff" stroke-width="2.7"/>
<path d="M503.40,733.19A60.2,60.2 0 0 1 504.45,732.91M502.85,733.35A60.2,60.2 0 0 1 503.82,733.08M500.10,734.21A60.2,60.2 0 0 1 500.82,733.97M502.34,733.50A60.2,60.2 0 0 1 503.41,733.19" fill="none" stroke="#222" stroke-width="2.7"/>
<path d="M501.21,733.85A60.2,60.2 0 0 1 501.81,733.66M498.97,734.61A60.2,60.2 0 0 1 499.93,734.27M502.34,733.50A60.2,60.2 0 0 1 503.09,733.28M501.07,733.89A60.2,60.2 0 0 1 501.98,733.60" fill="none" stroke="#999" stroke-width="2.7"/>
<path d="M500.83,733.97A60.2,60.2 0 0 1 501.53,733.74" fill="none" stroke="#e02020" stroke-width="2.7"/>
<path d="M506.19,732.49A60.2,60.2 0 0 1 512.01,731.47" fill="none" stroke="#333" stroke-width="3.9"/>
<path d="M506.35,732.45A60.2,60.2 0 0 1 511.85,731.49" fill="none" stroke="#fff" stroke-width="2.7"/>
<path d="M509.54,731.83A60.2,60.2 0 0 1 510.76,731.64M510.69,731.65A60.2,60.2 0 0 1 511.69,731.51M507.38,732.23A60.2,60.2 0 0 1 508.53,732.01" fill="none" stroke="#222" stroke-width="2.7"/>
<path d="M510.45,731.68A60.2,60.2 0 0 1 511.36,731.55M507.22,732.27A60.2,60.2 0 0 1 508.36,732.04M509.27,731.88A60.2,60.2 0 0 1 510.02,731.75" fill="none" stroke="#999" stroke-width="2.7"/>
<path d="M508.51,732.01A60.2,60.2 0 0 1 509.23,731.88" fill="none" stroke="#e02020" stroke-width="2.7"/>
<path d="M512.74,731.38A60.2,60.2 0 0 1 519.13,731.00" fill="none" stroke="#333" stroke-width="3.9"/>
<path d="M512.89,731.36A60.2,60.2 0 0 1 518.97,731.00" fill="none" stroke="#fff" stroke-width="2.7"/>
<path d="M515.74,731.12A60.2,60.2 0 0 1 516.88,731.06M517.21,731.04A60.2,60.2 0 0 1 518.31,731.01M516.97,731.05A60.2,60.2 0 0 1 517.60,731.03" fill="none" stroke="#222" stroke-width="2.7"/>
<path d="M513.19,731.33A60.2,60.2 0 0 1 513.77,731.27M514.51,731.21A60.2,60.2 0 0 1 515.62,731.13M515.79,731.11A60.2,60.2 0 0 1 516.80,731.06" fill="none" stroke="#999" stroke-width="2.7"/>
<path d="M515.29,731.15A60.2,60.2 0 0 1 516.02,731.10" fill="none" stroke="#e02020" stroke-width="2.7"/>
<circle cx="519.50" cy="791.20" r="57.30" fill="none" stroke="#e2e2e2" stroke-width="1.1" />
<circle cx="519.50" cy="791.20" r="53.00" fill="none" stroke="#e2e2e2" stroke-width="1.1" />
<circle cx="519.50" cy="791.20" r="48.60" fill="none" stroke="#e2e2e2" stroke-width="1.1" />
<circle cx="519.50" cy="791.20" r="44.20" fill="none" stroke="#e2e2e2" stroke-width="1.1" />
<circle cx="519.50" cy="791.20" r="39.80" fill="none" stroke="#e2e2e2" stroke-width="1.1" />
<circle cx="519.50" cy="791.20" r="35.40" fill="none" stroke="#e2e2e2" stroke-width="1.1" />
<circle cx="519.50" cy="791.20" r="31.00" fill="none" stroke="#e2e2e2" stroke-width="1.1" />
<circle cx="519.50" cy="791.20" r="26.60" fill="none" stroke="#e2e2e2" stroke-width="1.1" />
<circle cx="519.50" cy="791.20" r="22.30" fill="none" stroke="#e2e2e2" stroke-width="1.1" />
<path d="M520.03,736.00A55.2,55.2 0 0 1 522.28,736.07M523.08,736.12A55.2,55.2 0 0 1 525.76,736.36M526.61,736.46A55.2,55.2 0 0 1 530.11,737.03M530.54,737.12A55.2,55.2 0 0 1 532.00,737.43M533.00,737.68A55.2,55.2 0 0 1 533.73,737.87M536.49,738.68A55.2,55.2 0 0 1 538.60,739.41M539.68,739.82A55.2,55.2 0 0 1 542.47,741.00M543.40,741.44A55.2,55.2 0 0 1 546.11,742.84M546.88,743.27A55.2,55.2 0 0 1 547.04,743.36M547.96,743.90A55.2,55.2 0 0 1 549.72,745.00M550.66,745.63A55.2,55.2 0 0 1 552.80,747.18M553.60,747.79A55.2,55.2 0 0 1 555.41,749.28M555.96,749.75A55.2,55.2 0 0 1 555.92,749.72M556.98,750.67A55.2,55.2 0 0 1 560.17,753.87M560.88,754.67A55.2,55.2 0 0 1 562.74,756.89M563.06,757.30A55.2,55.2 0 0 1 565.03,759.99M565.29,760.37A55.2,55.2 0 0 1 566.18,761.73M566.48,762.22A55.2,55.2 0 0 1 567.16,763.35M567.68,764.27A55.2,55.2 0 0 1 568.64,766.06M569.01,766.80A55.2,55.2 0 0 1 570.23,769.44M570.53,770.15A55.2,55.2 0 0 1 571.13,771.68M571.33,772.21A55.2,55.2 0 0 1 571.68,773.19M572.08,774.39A55.2,55.2 0 0 1 573.03,777.73M573.14,778.16A55.2,55.2 0 0 1 573.50,779.76M573.71,780.81A55.2,55.2 0 0 1 574.00,782.41M574.11,783.13A55.2,55.2 0 0 1 574.37,785.17M574.50,786.56A55.2,55.2 0 0 1 574.61,788.01M574.63,788.44A55.2,55.2 0 0 1 574.70,791.58M574.68,792.82A55.2,55.2 0 0 1 574.34,797.48M574.22,798.50A55.2,55.2 0 0 1 573.91,800.50M573.84,800.92A55.2,55.2 0 0 1 573.35,803.35M573.15,804.20A55.2,55.2 0 0 1 572.11,807.92M571.78,808.92A55.2,55.2 0 0 1 570.71,811.80M570.25,812.91A55.2,55.2 0 0 1 568.66,816.30M568.25,817.09A55.2,55.2 0 0 1 566.38,820.35M565.79,821.28A55.2,55.2 0 0 1 563.01,825.16M562.50,825.81A55.2,55.2 0 0 1 561.80,826.67M561.11,827.47A55.2,55.2 0 0 1 558.99,829.77M558.63,830.14A55.2,55.2 0 0 1 557.26,831.46M555.90,832.70A55.2,55.2 0 0 1 552.47,835.48M551.85,835.93A55.2,55.2 0 0 1 550.19,837.08M549.50,837.54A55.2,55.2 0 0 1 546.15,839.54M545.22,840.04A55.2,55.2 0 0 1 542.67,841.30M542.16,841.53A55.2,55.2 0 0 1 540.77,842.14M539.99,842.46A55.2,55.2 0 0 1 539.66,842.59M538.61,842.99A55.2,55.2 0 0 1 536.32,843.78M535.34,844.08A55.2,55.2 0 0 1 530.74,845.24M530.11,845.37A55.2,55.2 0 0 1 528.51,845.66M527.23,845.86A55.2,55.2 0 0 1 523.18,846.28M522.62,846.31A55.2,55.2 0 0 1 522.69,846.31M521.61,846.36A55.2,55.2 0 0 1 519.77,846.40M518.97,846.40A55.2,55.2 0 0 1 515.49,846.25M514.71,846.19A55.2,55.2 0 0 1 511.44,845.81M509.81,845.54A55.2,55.2 0 0 1 507.90,845.17M507.34,845.04A55.2,55.2 0 0 1 505.69,844.65M502.47,843.71A55.2,55.2 0 0 1 499.60,842.69M498.89,842.41A55.2,55.2 0 0 1 496.88,841.55M496.48,841.37A55.2,55.2 0 0 1 494.80,840.57M493.86,840.08A55.2,55.2 0 0 1 490.68,838.28M489.58,837.59A55.2,55.2 0 0 1 487.77,836.37M487.02,835.84A55.2,55.2 0 0 1 484.30,833.72M483.80,833.30A55.2,55.2 0 0 1 482.65,832.30M482.29,831.98A55.2,55.2 0 0 1 481.47,831.21M480.71,830.47A55.2,55.2 0 0 1 478.43,828.08M478.11,827.72A55.2,55.2 0 0 1 477.04,826.47M476.38,825.66A55.2,55.2 0 0 1 474.12,822.62M473.60,821.86A55.2,55.2 0 0 1 471.71,818.83M470.99,817.55A55.2,55.2 0 0 1 469.81,815.24M469.64,814.88A55.2,55.2 0 0 1 469.48,814.56M469.05,813.61A55.2,55.2 0 0 1 468.00,811.08M467.61,810.04A55.2,55.2 0 0 1 466.81,807.64M466.55,806.81A55.2,55.2 0 0 1 465.71,803.62M465.07,800.40A55.2,55.2 0 0 1 464.58,796.75M464.48,795.65A55.2,55.2 0 0 1 464.31,792.02M464.30,790.88A55.2,55.2 0 0 1 464.32,789.80M464.49,786.67A55.2,55.2 0 0 1 464.67,784.86M464.74,784.22A55.2,55.2 0 0 1 464.98,782.56M465.15,781.56A55.2,55.2 0 0 1 465.67,778.99M465.88,778.10A55.2,55.2 0 0 1 466.17,776.96M467.11,773.82A55.2,55.2 0 0 1 468.65,769.71M469.00,768.92A55.2,55.2 0 0 1 470.56,765.66M471.20,764.48A55.2,55.2 0 0 1 471.96,763.15M472.35,762.50A55.2,55.2 0 0 1 472.97,761.50M473.97,759.98A55.2,55.2 0 0 1 476.80,756.22M477.48,755.41A55.2,55.2 0 0 1 479.00,753.70M479.66,753.00A55.2,55.2 0 0 1 482.06,750.64M482.45,750.28A55.2,55.2 0 0 1 483.98,748.95M484.80,748.27A55.2,55.2 0 0 1 485.87,747.43M486.62,746.86A55.2,55.2 0 0 1 489.52,744.85M490.11,744.48A55.2,55.2 0 0 1 492.08,743.29M493.01,742.77A55.2,55.2 0 0 1 495.00,741.73M496.00,741.25A55.2,55.2 0 0 1 497.39,740.62M498.31,740.23A55.2,55.2 0 0 1 498.80,740.03M499.78,739.64A55.2,55.2 0 0 1 501.83,738.91M503.08,738.50A55.2,55.2 0 0 1 506.45,737.56M508.96,737.02A55.2,55.2 0 0 1 512.44,736.45M515.34,736.16A55.2,55.2 0 0 1 517.84,736.02M518.25,736.01A55.2,55.2 0 0 1 518.97,736.00" fill="none" stroke="#f2776f" stroke-width="3.0"/>
<path d="M519.99,740.40A50.8,50.8 0 0 1 523.96,740.60M524.42,740.64A50.8,50.8 0 0 1 529.33,741.36M529.83,741.46A50.8,50.8 0 0 1 532.60,742.12M535.13,742.87A50.8,50.8 0 0 1 536.92,743.48M537.34,743.63A50.8,50.8 0 0 1 540.91,745.13M541.37,745.35A50.8,50.8 0 0 1 543.30,746.32M543.68,746.52A50.8,50.8 0 0 1 544.85,747.18M545.69,747.67A50.8,50.8 0 0 1 549.02,749.85M549.31,750.07A50.8,50.8 0 0 1 551.20,751.50M551.73,751.93A50.8,50.8 0 0 1 553.02,753.03M553.99,753.90A50.8,50.8 0 0 1 557.94,757.98M558.28,758.39A50.8,50.8 0 0 1 559.87,760.36M560.21,760.81A50.8,50.8 0 0 1 563.30,765.46M563.84,766.42A50.8,50.8 0 0 1 564.95,768.51M565.17,768.95A50.8,50.8 0 0 1 566.32,771.48M566.60,772.17A50.8,50.8 0 0 1 567.52,774.62M567.89,775.73A50.8,50.8 0 0 1 569.35,781.41M569.47,782.05A50.8,50.8 0 0 1 570.03,785.96M570.12,786.93A50.8,50.8 0 0 1 570.29,789.99M570.29,790.48A50.8,50.8 0 0 1 570.30,791.55M570.28,792.69A50.8,50.8 0 0 1 569.89,797.67M569.80,798.29A50.8,50.8 0 0 1 569.45,800.43M569.34,801.02A50.8,50.8 0 0 1 568.94,802.86M568.88,803.14A50.8,50.8 0 0 1 567.91,806.58M567.61,807.51A50.8,50.8 0 0 1 566.87,809.56M566.63,810.17A50.8,50.8 0 0 1 566.63,810.15M566.21,811.18A50.8,50.8 0 0 1 565.40,812.96M565.28,813.22A50.8,50.8 0 0 1 563.05,817.36M562.67,817.98A50.8,50.8 0 0 1 561.45,819.86M561.05,820.43A50.8,50.8 0 0 1 559.29,822.78M559.05,823.08A50.8,50.8 0 0 1 558.43,823.84M557.79,824.58A50.8,50.8 0 0 1 553.80,828.67M553.00,829.39A50.8,50.8 0 0 1 548.87,832.65M548.61,832.83A50.8,50.8 0 0 1 546.04,834.52M545.46,834.87A50.8,50.8 0 0 1 544.03,835.69M543.17,836.15A50.8,50.8 0 0 1 539.40,837.94M538.94,838.13A50.8,50.8 0 0 1 538.05,838.49M537.08,838.86A50.8,50.8 0 0 1 533.10,840.15M532.67,840.26A50.8,50.8 0 0 1 530.07,840.89M529.55,840.99A50.8,50.8 0 0 1 527.58,841.35M526.61,841.50A50.8,50.8 0 0 1 522.44,841.92M521.44,841.96A50.8,50.8 0 0 1 519.08,842.00M518.54,841.99A50.8,50.8 0 0 1 512.91,841.57M512.19,841.47A50.8,50.8 0 0 1 511.54,841.37M510.58,841.21A50.8,50.8 0 0 1 506.58,840.33M503.83,839.52A50.8,50.8 0 0 1 500.51,838.32M500.06,838.13A50.8,50.8 0 0 1 496.77,836.63M495.90,836.19A50.8,50.8 0 0 1 493.21,834.67M492.95,834.51A50.8,50.8 0 0 1 492.78,834.41M491.97,833.89A50.8,50.8 0 0 1 490.40,832.84M490.00,832.56A50.8,50.8 0 0 1 488.34,831.32M487.90,830.98A50.8,50.8 0 0 1 485.21,828.68M484.80,828.30A50.8,50.8 0 0 1 484.50,828.02M483.80,827.34A50.8,50.8 0 0 1 482.07,825.55M481.83,825.28A50.8,50.8 0 0 1 480.43,823.66M479.82,822.92A50.8,50.8 0 0 1 478.17,820.73M477.76,820.15A50.8,50.8 0 0 1 476.61,818.42M476.36,818.03A50.8,50.8 0 0 1 475.33,816.30M474.86,815.45A50.8,50.8 0 0 1 473.47,812.69M473.08,811.82A50.8,50.8 0 0 1 472.33,810.05M472.11,809.49A50.8,50.8 0 0 1 471.00,806.32M470.77,805.57A50.8,50.8 0 0 1 470.00,802.63M469.41,799.67A50.8,50.8 0 0 1 468.95,796.27M468.89,795.59A50.8,50.8 0 0 1 468.72,792.53M468.70,791.85A50.8,50.8 0 0 1 468.72,789.91M468.87,787.03A50.8,50.8 0 0 1 469.10,784.82M469.16,784.37A50.8,50.8 0 0 1 469.79,780.73M469.87,780.37A50.8,50.8 0 0 1 470.42,778.09M471.28,775.21A50.8,50.8 0 0 1 473.31,770.06M473.49,769.67A50.8,50.8 0 0 1 474.54,767.55M475.05,766.61A50.8,50.8 0 0 1 476.68,763.87M477.60,762.47A50.8,50.8 0 0 1 479.27,760.19M479.48,759.91A50.8,50.8 0 0 1 480.20,759.01M480.82,758.26A50.8,50.8 0 0 1 482.23,756.69M482.83,756.04A50.8,50.8 0 0 1 485.74,753.24M486.28,752.76A50.8,50.8 0 0 1 486.81,752.32M487.56,751.69A50.8,50.8 0 0 1 488.55,750.92M489.24,750.39A50.8,50.8 0 0 1 492.37,748.25M492.91,747.91A50.8,50.8 0 0 1 494.27,747.11M495.12,746.63A50.8,50.8 0 0 1 497.11,745.60M497.87,745.23A50.8,50.8 0 0 1 500.45,744.11M501.36,743.75A50.8,50.8 0 0 1 503.46,743.00M504.39,742.70A50.8,50.8 0 0 1 506.37,742.13M507.01,741.96A50.8,50.8 0 0 1 507.49,741.84M509.80,741.34A50.8,50.8 0 0 1 513.00,740.82M515.67,740.54A50.8,50.8 0 0 1 518.06,740.42M518.34,740.41A50.8,50.8 0 0 1 519.01,740.40" fill="none" stroke="#cf9a1c" stroke-width="3.0"/>
<path d="M519.95,744.80A46.4,46.4 0 0 1 522.56,744.90M523.19,744.95A46.4,46.4 0 0 1 528.81,745.74M529.16,745.82A46.4,46.4 0 0 1 531.46,746.37M533.78,747.05A46.4,46.4 0 0 1 539.52,749.34M540.03,749.59A46.4,46.4 0 0 1 542.65,750.99M543.42,751.44A46.4,46.4 0 0 1 549.20,755.55M549.63,755.91A46.4,46.4 0 0 1 550.12,756.33M551.00,757.13A46.4,46.4 0 0 1 553.53,759.66M553.90,760.07A46.4,46.4 0 0 1 556.02,762.58M556.34,762.99A46.4,46.4 0 0 1 559.56,767.79M560.00,768.56A46.4,46.4 0 0 1 562.90,774.79M562.99,775.02A46.4,46.4 0 0 1 563.36,776.06M563.70,777.07A46.4,46.4 0 0 1 565.33,783.98M565.41,784.50A46.4,46.4 0 0 1 565.65,786.42M565.74,787.30A46.4,46.4 0 0 1 565.90,791.66M565.88,792.56A46.4,46.4 0 0 1 565.55,796.90M565.51,797.23A46.4,46.4 0 0 1 565.17,799.42M565.11,799.71A46.4,46.4 0 0 1 563.72,805.25M563.44,806.10A46.4,46.4 0 0 1 562.74,808.03M562.63,808.30A46.4,46.4 0 0 1 562.55,808.51M562.16,809.45A46.4,46.4 0 0 1 559.01,815.53M558.67,816.07A46.4,46.4 0 0 1 557.22,818.22M557.05,818.45A46.4,46.4 0 0 1 555.06,821.01M554.48,821.69A46.4,46.4 0 0 1 550.94,825.32M550.73,825.51A46.4,46.4 0 0 1 550.83,825.43M550.10,826.08A46.4,46.4 0 0 1 546.46,828.96M546.25,829.11A46.4,46.4 0 0 1 542.06,831.75M541.12,832.26A46.4,46.4 0 0 1 538.60,833.49M538.15,833.69A46.4,46.4 0 0 1 536.45,834.39M535.56,834.73A46.4,46.4 0 0 1 532.29,835.80M532.02,835.88A46.4,46.4 0 0 1 529.49,836.51M529.19,836.58A46.4,46.4 0 0 1 526.88,837.01M526.00,837.14A46.4,46.4 0 0 1 522.18,837.52M521.27,837.57A46.4,46.4 0 0 1 518.99,837.60M518.45,837.59A46.4,46.4 0 0 1 513.98,837.27M513.44,837.20A46.4,46.4 0 0 1 512.23,837.03M511.35,836.88A46.4,46.4 0 0 1 507.75,836.09M505.18,835.34A46.4,46.4 0 0 1 500.19,833.39M499.66,833.14A46.4,46.4 0 0 1 498.74,832.70M497.95,832.29A46.4,46.4 0 0 1 495.77,831.07M495.27,830.77A46.4,46.4 0 0 1 495.10,830.66M494.35,830.19A46.4,46.4 0 0 1 488.78,825.98M488.57,825.79A46.4,46.4 0 0 1 487.53,824.83M486.89,824.21A46.4,46.4 0 0 1 484.70,821.89M484.32,821.45A46.4,46.4 0 0 1 483.81,820.85M483.26,820.17A46.4,46.4 0 0 1 480.16,815.80M479.86,815.32A46.4,46.4 0 0 1 479.16,814.12M478.73,813.35A46.4,46.4 0 0 1 477.46,810.83M477.10,810.04A46.4,46.4 0 0 1 474.73,803.39M474.61,802.93A46.4,46.4 0 0 1 474.29,801.64M473.75,798.94A46.4,46.4 0 0 1 473.37,796.19M473.31,795.62A46.4,46.4 0 0 1 473.11,790.02M473.26,787.40A46.4,46.4 0 0 1 473.66,784.04M473.74,783.51A46.4,46.4 0 0 1 474.49,779.93M475.46,776.59A46.4,46.4 0 0 1 476.77,773.11M476.89,772.84A46.4,46.4 0 0 1 478.48,769.52M478.90,768.74A46.4,46.4 0 0 1 480.39,766.24M481.23,764.96A46.4,46.4 0 0 1 483.60,761.80M484.17,761.12A46.4,46.4 0 0 1 485.45,759.67M486.01,759.09A46.4,46.4 0 0 1 489.64,755.68M490.33,755.12A46.4,46.4 0 0 1 491.23,754.41M491.86,753.93A46.4,46.4 0 0 1 494.40,752.17M494.78,751.94A46.4,46.4 0 0 1 496.45,750.93M497.23,750.49A46.4,46.4 0 0 1 499.05,749.55M499.75,749.21A46.4,46.4 0 0 1 502.10,748.19M502.93,747.86A46.4,46.4 0 0 1 505.00,747.12M505.70,746.90A46.4,46.4 0 0 1 508.53,746.11M510.64,745.65A46.4,46.4 0 0 1 513.56,745.18M516.00,744.93A46.4,46.4 0 0 1 518.32,744.82M518.63,744.81A46.4,46.4 0 0 1 519.05,744.80" fill="none" stroke="#86b52a" stroke-width="3.0"/>
<path d="M519.90,749.20A42.0,42.0 0 0 1 524.94,749.55M525.37,749.61A42.0,42.0 0 0 1 530.33,750.62M532.43,751.24A42.0,42.0 0 0 1 537.19,753.11M537.63,753.31A42.0,42.0 0 0 1 540.46,754.80M541.15,755.21A42.0,42.0 0 0 1 545.41,758.14M545.60,758.30A42.0,42.0 0 0 1 547.21,759.64M548.01,760.36A42.0,42.0 0 0 1 551.31,763.78M551.46,763.95A42.0,42.0 0 0 1 554.50,767.99M554.65,768.21A42.0,42.0 0 0 1 555.76,770.01M556.16,770.71A42.0,42.0 0 0 1 557.64,773.60M557.82,774.01A42.0,42.0 0 0 1 559.20,777.49M559.50,778.41A42.0,42.0 0 0 1 560.42,781.74M560.48,782.00A42.0,42.0 0 0 1 561.28,786.87M561.35,787.67A42.0,42.0 0 0 1 561.49,790.47M561.50,790.83A42.0,42.0 0 0 1 561.50,791.49M561.48,792.43A42.0,42.0 0 0 1 560.89,798.35M560.80,798.83A42.0,42.0 0 0 1 559.59,803.72M559.28,804.68A42.0,42.0 0 0 1 558.47,806.87M558.12,807.72A42.0,42.0 0 0 1 555.21,813.31M555.02,813.61A42.0,42.0 0 0 1 551.90,817.92M551.16,818.80A42.0,42.0 0 0 1 547.86,822.18M547.20,822.77A42.0,42.0 0 0 1 541.56,826.94M541.29,827.11A42.0,42.0 0 0 1 539.78,827.98M539.07,828.36A42.0,42.0 0 0 1 536.93,829.41M536.56,829.58A42.0,42.0 0 0 1 534.84,830.30M534.04,830.60A42.0,42.0 0 0 1 529.54,831.98M529.13,832.08A42.0,42.0 0 0 1 526.22,832.66M525.38,832.79A42.0,42.0 0 0 1 521.93,833.13M521.10,833.17A42.0,42.0 0 0 1 514.11,832.85M513.80,832.81A42.0,42.0 0 0 1 512.92,832.68M512.13,832.55A42.0,42.0 0 0 1 508.86,831.83M506.54,831.15A42.0,42.0 0 0 1 501.29,829.04M501.03,828.92A42.0,42.0 0 0 1 500.71,828.76M499.99,828.39A42.0,42.0 0 0 1 497.41,826.92M496.74,826.50A42.0,42.0 0 0 1 493.04,823.82M492.66,823.50A42.0,42.0 0 0 1 490.57,821.64M489.99,821.08A42.0,42.0 0 0 1 487.19,818.04M486.69,817.42A42.0,42.0 0 0 1 483.43,812.71M483.29,812.47A42.0,42.0 0 0 1 482.98,811.95M482.59,811.25A42.0,42.0 0 0 1 481.44,808.97M481.12,808.25A42.0,42.0 0 0 1 480.19,805.99M480.06,805.63A42.0,42.0 0 0 1 478.58,800.65M478.09,798.20A42.0,42.0 0 0 1 477.50,791.09M477.50,790.72A42.0,42.0 0 0 1 477.51,790.13M477.64,787.76A42.0,42.0 0 0 1 478.24,783.37M478.28,783.15A42.0,42.0 0 0 1 478.92,780.36M479.64,777.98A42.0,42.0 0 0 1 481.01,774.38M481.12,774.14A42.0,42.0 0 0 1 482.37,771.58M482.75,770.87A42.0,42.0 0 0 1 484.10,768.61M484.86,767.45A42.0,42.0 0 0 1 487.01,764.59M487.52,763.97A42.0,42.0 0 0 1 488.68,762.66M489.18,762.13A42.0,42.0 0 0 1 491.78,759.65M492.14,759.33A42.0,42.0 0 0 1 492.47,759.05M493.10,758.54A42.0,42.0 0 0 1 493.91,757.90M494.48,757.46A42.0,42.0 0 0 1 496.49,756.06M496.85,755.83A42.0,42.0 0 0 1 498.64,754.75M499.34,754.35A42.0,42.0 0 0 1 500.99,753.50M501.62,753.20A42.0,42.0 0 0 1 503.75,752.27M504.50,751.97A42.0,42.0 0 0 1 506.37,751.30M507.01,751.10A42.0,42.0 0 0 1 509.57,750.39M511.48,749.97A42.0,42.0 0 0 1 514.13,749.55M516.34,749.32A42.0,42.0 0 0 1 519.10,749.20" fill="none" stroke="#22b27a" stroke-width="3.0"/>
<path d="M519.86,753.60A37.6,37.6 0 0 1 526.27,754.22M526.53,754.26A37.6,37.6 0 0 1 529.19,754.87M531.07,755.42A37.6,37.6 0 0 1 533.19,756.18M533.40,756.26A37.6,37.6 0 0 1 537.85,758.38M538.18,758.57A37.6,37.6 0 0 1 538.26,758.62M538.88,758.98A37.6,37.6 0 0 1 542.64,761.56M542.99,761.84A37.6,37.6 0 0 1 544.31,762.95M545.03,763.59A37.6,37.6 0 0 1 549.01,767.90M549.13,768.06A37.6,37.6 0 0 1 551.95,772.21M552.32,772.86A37.6,37.6 0 0 1 554.27,776.90M554.37,777.14A37.6,37.6 0 0 1 555.04,778.93M555.31,779.75A37.6,37.6 0 0 1 556.69,785.63M556.74,785.98A37.6,37.6 0 0 1 556.90,787.32M556.97,788.04A37.6,37.6 0 0 1 557.10,791.46M557.08,792.30A37.6,37.6 0 0 1 556.72,796.50M556.67,796.90A37.6,37.6 0 0 1 555.75,801.17M555.64,801.58A37.6,37.6 0 0 1 555.33,802.59M555.11,803.27A37.6,37.6 0 0 1 554.38,805.23M554.07,805.99A37.6,37.6 0 0 1 552.28,809.62M552.06,810.00A37.6,37.6 0 0 1 550.90,811.88M550.70,812.19A37.6,37.6 0 0 1 549.45,813.93M549.21,814.25A37.6,37.6 0 0 1 548.31,815.36M547.84,815.91A37.6,37.6 0 0 1 546.25,817.63M546.02,817.85A37.6,37.6 0 0 1 544.89,818.94M544.29,819.47A37.6,37.6 0 0 1 541.89,821.41M541.52,821.68A37.6,37.6 0 0 1 537.65,824.13M537.02,824.47A37.6,37.6 0 0 1 533.23,826.20M532.52,826.48A37.6,37.6 0 0 1 528.00,827.83M527.80,827.87A37.6,37.6 0 0 1 525.48,828.32M524.77,828.43A37.6,37.6 0 0 1 521.67,828.74M520.94,828.77A37.6,37.6 0 0 1 516.43,828.67M516.18,828.65A37.6,37.6 0 0 1 513.61,828.34M512.90,828.22A37.6,37.6 0 0 1 509.98,827.57M507.90,826.97A37.6,37.6 0 0 1 503.50,825.22M503.15,825.06A37.6,37.6 0 0 1 502.68,824.83M502.04,824.50A37.6,37.6 0 0 1 499.72,823.18M499.12,822.80A37.6,37.6 0 0 1 494.01,818.84M493.74,818.59A37.6,37.6 0 0 1 493.60,818.45M493.08,817.95A37.6,37.6 0 0 1 490.58,815.23M490.13,814.68A37.6,37.6 0 0 1 487.94,811.63M487.71,811.28A37.6,37.6 0 0 1 486.81,809.78M486.46,809.15A37.6,37.6 0 0 1 485.43,807.11M485.14,806.47A37.6,37.6 0 0 1 483.45,801.87M483.32,801.44A37.6,37.6 0 0 1 482.86,799.66M482.43,797.47A37.6,37.6 0 0 1 481.93,792.70M481.92,792.42A37.6,37.6 0 0 1 481.91,790.24M482.03,788.12A37.6,37.6 0 0 1 482.82,782.95M482.91,782.53A37.6,37.6 0 0 1 483.17,781.50M483.81,779.36A37.6,37.6 0 0 1 484.74,776.88M484.85,776.60A37.6,37.6 0 0 1 486.26,773.63M486.60,773.00A37.6,37.6 0 0 1 487.80,770.97M488.49,769.94A37.6,37.6 0 0 1 490.41,767.38M490.87,766.82A37.6,37.6 0 0 1 491.91,765.65M492.36,765.18A37.6,37.6 0 0 1 495.30,762.42M495.86,761.96A37.6,37.6 0 0 1 496.59,761.39M497.10,761.00A37.6,37.6 0 0 1 500.49,758.76M501.45,758.21A37.6,37.6 0 0 1 502.93,757.45M503.49,757.18A37.6,37.6 0 0 1 505.40,756.34M506.07,756.08A37.6,37.6 0 0 1 507.75,755.48M508.32,755.30A37.6,37.6 0 0 1 510.61,754.67M512.32,754.29A37.6,37.6 0 0 1 514.69,753.91M516.67,753.71A37.6,37.6 0 0 1 519.14,753.60" fill="none" stroke="#20b9c2" stroke-width="3.0"/>
<path d="M519.82,758.00A33.2,33.2 0 0 1 522.20,758.11M522.55,758.14A33.2,33.2 0 0 1 525.41,758.53M525.67,758.58A33.2,33.2 0 0 1 528.06,759.12M529.72,759.61A33.2,33.2 0 0 1 534.63,761.65M534.89,761.78A33.2,33.2 0 0 1 536.07,762.43M536.62,762.75A33.2,33.2 0 0 1 538.36,763.88M538.59,764.03A33.2,33.2 0 0 1 541.41,766.25M542.04,766.82A33.2,33.2 0 0 1 543.97,768.76M544.24,769.06A33.2,33.2 0 0 1 547.41,773.21M547.52,773.40A33.2,33.2 0 0 1 548.16,774.45M548.48,775.00A33.2,33.2 0 0 1 549.50,776.99M549.64,777.28A33.2,33.2 0 0 1 550.88,780.37M551.12,781.09A33.2,33.2 0 0 1 552.25,785.78M552.29,785.98A33.2,33.2 0 0 1 552.52,787.78M552.58,788.41A33.2,33.2 0 0 1 552.70,791.43M552.69,792.17A33.2,33.2 0 0 1 552.13,797.32M552.09,797.52A33.2,33.2 0 0 1 551.14,801.25M550.94,801.86A33.2,33.2 0 0 1 550.30,803.59M550.03,804.26A33.2,33.2 0 0 1 547.54,808.98M547.39,809.22A33.2,33.2 0 0 1 544.94,812.53M544.53,813.01A33.2,33.2 0 0 1 543.23,814.42M542.99,814.66A33.2,33.2 0 0 1 541.92,815.69M541.39,816.16A33.2,33.2 0 0 1 537.83,818.88M537.59,819.04A33.2,33.2 0 0 1 535.53,820.27M534.97,820.58A33.2,33.2 0 0 1 532.08,821.93M531.83,822.03A33.2,33.2 0 0 1 531.63,822.11M530.99,822.35A33.2,33.2 0 0 1 528.38,823.19M528.11,823.26A33.2,33.2 0 0 1 524.80,823.98M524.15,824.07A33.2,33.2 0 0 1 521.86,824.32M521.57,824.34A33.2,33.2 0 0 1 521.42,824.34M520.77,824.38A33.2,33.2 0 0 1 516.71,824.28M516.50,824.26A33.2,33.2 0 0 1 514.30,823.99M513.67,823.88A33.2,33.2 0 0 1 511.79,823.49M511.58,823.44A33.2,33.2 0 0 1 511.09,823.32M509.26,822.78A33.2,33.2 0 0 1 505.32,821.22M505.05,821.09A33.2,33.2 0 0 1 504.65,820.89M504.08,820.60A33.2,33.2 0 0 1 502.04,819.44M501.51,819.10A33.2,33.2 0 0 1 499.72,817.86M499.48,817.68A33.2,33.2 0 0 1 496.63,815.26M496.17,814.82A33.2,33.2 0 0 1 493.96,812.42M493.57,811.93A33.2,33.2 0 0 1 490.64,807.60M490.33,807.05A33.2,33.2 0 0 1 489.42,805.25M489.16,804.68A33.2,33.2 0 0 1 487.72,800.81M487.62,800.46A33.2,33.2 0 0 1 487.15,798.67M486.76,796.74A33.2,33.2 0 0 1 486.30,791.59M486.30,791.27A33.2,33.2 0 0 1 486.31,790.36M486.41,788.48A33.2,33.2 0 0 1 486.83,785.27M486.91,784.89A33.2,33.2 0 0 1 487.42,782.63M487.99,780.75A33.2,33.2 0 0 1 489.32,777.36M489.46,777.06A33.2,33.2 0 0 1 490.15,775.69M490.45,775.13A33.2,33.2 0 0 1 491.51,773.34M492.12,772.43A33.2,33.2 0 0 1 493.82,770.16M494.22,769.67A33.2,33.2 0 0 1 495.14,768.64M495.54,768.22A33.2,33.2 0 0 1 498.14,765.79M498.63,765.38A33.2,33.2 0 0 1 499.27,764.87M499.73,764.53A33.2,33.2 0 0 1 502.82,762.49M503.56,762.07A33.2,33.2 0 0 1 504.87,761.40M505.37,761.16A33.2,33.2 0 0 1 507.05,760.42M507.64,760.19A33.2,33.2 0 0 1 509.12,759.66M509.62,759.50A33.2,33.2 0 0 1 511.65,758.94M513.16,758.61A33.2,33.2 0 0 1 515.25,758.27M517.00,758.09A33.2,33.2 0 0 1 519.18,758.00" fill="none" stroke="#2a9ff0" stroke-width="3.0"/>
<path d="M519.78,762.40A28.8,28.8 0 0 1 522.15,762.52M522.76,762.59A28.8,28.8 0 0 1 524.64,762.86M524.99,762.93A28.8,28.8 0 0 1 526.39,763.24M527.00,763.39A28.8,28.8 0 0 1 526.93,763.37M528.36,763.80A28.8,28.8 0 0 1 530.26,764.49M530.52,764.59A28.8,28.8 0 0 1 531.35,764.95M531.71,765.12A28.8,28.8 0 0 1 533.63,766.10M534.35,766.52A28.8,28.8 0 0 1 535.05,766.96M535.50,767.25A28.8,28.8 0 0 1 537.31,768.57M537.72,768.90A28.8,28.8 0 0 1 538.50,769.56M539.05,770.05A28.8,28.8 0 0 1 540.03,771.00M540.48,771.47A28.8,28.8 0 0 1 541.04,772.08M541.40,772.50A28.8,28.8 0 0 1 542.85,774.34M543.22,774.86A28.8,28.8 0 0 1 544.37,776.67M544.64,777.15A28.8,28.8 0 0 1 545.06,777.93M545.33,778.45A28.8,28.8 0 0 1 545.88,779.64M546.02,779.97A28.8,28.8 0 0 1 546.50,781.19M546.69,781.70A28.8,28.8 0 0 1 546.72,781.80M546.93,782.43A28.8,28.8 0 0 1 547.20,783.33M547.32,783.73A28.8,28.8 0 0 1 547.54,784.64M547.66,785.17A28.8,28.8 0 0 1 547.93,786.58M547.97,786.88A28.8,28.8 0 0 1 548.10,787.82M548.13,788.08A28.8,28.8 0 0 1 548.15,788.23M548.20,788.78A28.8,28.8 0 0 1 548.27,789.97M548.29,790.59A28.8,28.8 0 0 1 548.30,791.40M548.29,792.04A28.8,28.8 0 0 1 548.23,793.22M548.20,793.57A28.8,28.8 0 0 1 547.99,795.41M547.95,795.66A28.8,28.8 0 0 1 547.55,797.71M547.42,798.28A28.8,28.8 0 0 1 547.16,799.24M547.03,799.64A28.8,28.8 0 0 1 546.95,799.92M546.78,800.45A28.8,28.8 0 0 1 546.22,801.95M545.98,802.53A28.8,28.8 0 0 1 545.11,804.38M544.87,804.83A28.8,28.8 0 0 1 544.01,806.33M543.86,806.56A28.8,28.8 0 0 1 542.84,808.07M542.52,808.51A28.8,28.8 0 0 1 541.57,809.70M541.21,810.12A28.8,28.8 0 0 1 540.45,810.96M540.21,811.22A28.8,28.8 0 0 1 538.95,812.44M538.49,812.85A28.8,28.8 0 0 1 537.15,813.95M536.83,814.21A28.8,28.8 0 0 1 535.58,815.10M535.18,815.36A28.8,28.8 0 0 1 533.59,816.32M532.92,816.68A28.8,28.8 0 0 1 531.10,817.56M530.61,817.77A28.8,28.8 0 0 1 530.02,818.01M529.47,818.22A28.8,28.8 0 0 1 528.17,818.66M527.73,818.80A28.8,28.8 0 0 1 525.86,819.29M525.23,819.42A28.8,28.8 0 0 1 524.10,819.63M523.53,819.72A28.8,28.8 0 0 1 522.00,819.89M521.36,819.94A28.8,28.8 0 0 1 521.16,819.95M520.60,819.98A28.8,28.8 0 0 1 519.65,820.00M519.34,820.00A28.8,28.8 0 0 1 518.48,819.98M518.09,819.97A28.8,28.8 0 0 1 516.92,819.88M516.62,819.86A28.8,28.8 0 0 1 515.71,819.75M515.46,819.72A28.8,28.8 0 0 1 514.99,819.64M514.44,819.55A28.8,28.8 0 0 1 512.20,819.06M510.61,818.60A28.8,28.8 0 0 1 508.81,817.94M508.39,817.77A28.8,28.8 0 0 1 506.61,816.96M506.12,816.70A28.8,28.8 0 0 1 504.97,816.06M504.50,815.78A28.8,28.8 0 0 1 504.35,815.69M503.89,815.40A28.8,28.8 0 0 1 502.88,814.72M502.56,814.49A28.8,28.8 0 0 1 501.94,814.03M501.44,813.64A28.8,28.8 0 0 1 500.83,813.12M500.37,812.73A28.8,28.8 0 0 1 499.66,812.08M499.26,811.69A28.8,28.8 0 0 1 498.46,810.87M498.16,810.54A28.8,28.8 0 0 1 497.35,809.60M497.00,809.18A28.8,28.8 0 0 1 496.02,807.88M495.68,807.39A28.8,28.8 0 0 1 494.50,805.50M494.19,804.95A28.8,28.8 0 0 1 493.40,803.39M493.18,802.89A28.8,28.8 0 0 1 492.87,802.17M492.65,801.61A28.8,28.8 0 0 1 491.93,799.52M491.79,799.04A28.8,28.8 0 0 1 491.44,797.68M491.10,796.00A28.8,28.8 0 0 1 490.81,793.77M490.77,793.25A28.8,28.8 0 0 1 490.70,790.93M490.80,788.84A28.8,28.8 0 0 1 491.07,786.58M491.13,786.24A28.8,28.8 0 0 1 491.28,785.44M491.38,784.96A28.8,28.8 0 0 1 491.68,783.77M492.16,782.13A28.8,28.8 0 0 1 493.04,779.84M493.18,779.50A28.8,28.8 0 0 1 493.76,778.28M493.92,777.98A28.8,28.8 0 0 1 494.04,777.74M494.30,777.26A28.8,28.8 0 0 1 494.80,776.38M495.07,775.95A28.8,28.8 0 0 1 495.22,775.71M495.75,774.91A28.8,28.8 0 0 1 496.98,773.25M497.18,773.00A28.8,28.8 0 0 1 497.22,772.95M497.57,772.53A28.8,28.8 0 0 1 498.37,771.63M498.71,771.27A28.8,28.8 0 0 1 499.46,770.51M499.82,770.18A28.8,28.8 0 0 1 500.50,769.56M500.89,769.22A28.8,28.8 0 0 1 500.97,769.16M501.39,768.80A28.8,28.8 0 0 1 501.95,768.36M502.35,768.07A28.8,28.8 0 0 1 503.55,767.22M503.82,767.04A28.8,28.8 0 0 1 504.89,766.38M505.68,765.93A28.8,28.8 0 0 1 506.35,765.58M506.67,765.42A28.8,28.8 0 0 1 506.81,765.35M507.24,765.14A28.8,28.8 0 0 1 508.24,764.69M508.49,764.59A28.8,28.8 0 0 1 508.70,764.50M509.21,764.30A28.8,28.8 0 0 1 510.50,763.84M510.93,763.70A28.8,28.8 0 0 1 512.69,763.22M514.00,762.93A28.8,28.8 0 0 1 515.82,762.64M517.33,762.48A28.8,28.8 0 0 1 519.22,762.40" fill="none" stroke="#c08ef2" stroke-width="3.0"/>
<path d="M519.73,766.80A24.4,24.4 0 0 1 524.21,767.26M524.33,767.28A24.4,24.4 0 0 1 525.79,767.62M527.01,767.98A24.4,24.4 0 0 1 528.96,768.71M529.09,768.76A24.4,24.4 0 0 1 531.68,770.05M532.08,770.29A24.4,24.4 0 0 1 534.25,771.76M534.36,771.84A24.4,24.4 0 0 1 535.60,772.87M536.07,773.29A24.4,24.4 0 0 1 538.81,776.29M538.90,776.41A24.4,24.4 0 0 1 540.57,778.89M540.80,779.30A24.4,24.4 0 0 1 542.56,783.24M542.74,783.77A24.4,24.4 0 0 1 543.77,788.66M543.81,789.15A24.4,24.4 0 0 1 543.90,791.37M543.89,791.91A24.4,24.4 0 0 1 543.04,797.62M543.00,797.76A24.4,24.4 0 0 1 542.75,798.59M542.61,799.03A24.4,24.4 0 0 1 542.14,800.30M541.93,800.80A24.4,24.4 0 0 1 539.91,804.58M539.81,804.72A24.4,24.4 0 0 1 538.20,806.88M537.89,807.23A24.4,24.4 0 0 1 535.97,809.20M535.59,809.54A24.4,24.4 0 0 1 533.28,811.34M533.19,811.40A24.4,24.4 0 0 1 531.28,812.57M530.87,812.79A24.4,24.4 0 0 1 528.81,813.76M528.69,813.80A24.4,24.4 0 0 1 528.41,813.91M527.95,814.09A24.4,24.4 0 0 1 523.38,815.29M522.92,815.36A24.4,24.4 0 0 1 521.07,815.55M520.93,815.56A24.4,24.4 0 0 1 520.91,815.56M520.43,815.58A24.4,24.4 0 0 1 515.99,815.35M515.83,815.32A24.4,24.4 0 0 1 515.68,815.30M515.22,815.22A24.4,24.4 0 0 1 513.32,814.80M511.97,814.41A24.4,24.4 0 0 1 508.58,813.02M508.17,812.81A24.4,24.4 0 0 1 506.67,811.95M506.28,811.71A24.4,24.4 0 0 1 504.75,810.63M504.62,810.54A24.4,24.4 0 0 1 502.69,808.89M502.35,808.56A24.4,24.4 0 0 1 500.73,806.79M500.44,806.43A24.4,24.4 0 0 1 498.29,803.26M498.06,802.85A24.4,24.4 0 0 1 497.39,801.52M497.20,801.11A24.4,24.4 0 0 1 496.03,797.87M496.00,797.76A24.4,24.4 0 0 1 495.73,796.69M495.44,795.27A24.4,24.4 0 0 1 495.11,790.58M495.18,789.20A24.4,24.4 0 0 1 495.61,786.24M495.63,786.12A24.4,24.4 0 0 1 495.93,784.90M496.34,783.52A24.4,24.4 0 0 1 497.76,780.12M497.82,780.01A24.4,24.4 0 0 1 497.93,779.80M498.15,779.39A24.4,24.4 0 0 1 498.93,778.07M499.38,777.40A24.4,24.4 0 0 1 500.62,775.74M500.92,775.38A24.4,24.4 0 0 1 501.60,774.62M501.89,774.31A24.4,24.4 0 0 1 503.80,772.52M504.16,772.23A24.4,24.4 0 0 1 504.63,771.85M504.97,771.60A24.4,24.4 0 0 1 507.38,770.02M507.79,769.79A24.4,24.4 0 0 1 508.75,769.30M509.11,769.12A24.4,24.4 0 0 1 510.35,768.58M510.78,768.41A24.4,24.4 0 0 1 511.87,768.02M512.24,767.90A24.4,24.4 0 0 1 513.73,767.49M514.84,767.25A24.4,24.4 0 0 1 516.38,767.00M517.66,766.87A24.4,24.4 0 0 1 519.27,766.80" fill="none" stroke="#f062c8" stroke-width="3.0"/>
<text x="536.98" y="729.44" font-size="7.0" text-anchor="middle" stroke="#231f20" stroke-width="0.15" >1</text>
<text x="566.82" y="746.88" font-size="7.0" text-anchor="middle" stroke="#231f20" stroke-width="0.15" >2</text>
<text x="582.90" y="773.54" font-size="7.0" text-anchor="middle" stroke="#231f20" stroke-width="0.15" >3</text>
<text x="585.58" y="801.02" font-size="7.0" text-anchor="middle" stroke="#231f20" stroke-width="0.15" >4</text>
<text x="577.46" y="826.20" font-size="7.0" text-anchor="middle" stroke="#231f20" stroke-width="0.15" >5</text>
<text x="561.26" y="845.36" font-size="7.0" text-anchor="middle" stroke="#231f20" stroke-width="0.15" >6</text>
<text x="540.56" y="856.68" font-size="7.0" text-anchor="middle" stroke="#231f20" stroke-width="0.15" >7</text>
<text x="518.94" y="860.10" font-size="7.0" text-anchor="middle" stroke="#231f20" stroke-width="0.15" >8</text>
<text x="498.57" y="856.72" font-size="7.0" text-anchor="middle" stroke="#231f20" stroke-width="0.15" >9</text>
<text x="480.78" y="847.66" font-size="7.0" text-anchor="middle" stroke="#231f20" stroke-width="0.15" >10</text>
<text x="466.73" y="834.07" font-size="7.0" text-anchor="middle" stroke="#231f20" stroke-width="0.15" >11</text>
<text x="457.32" y="817.16" font-size="7.0" text-anchor="middle" stroke="#231f20" stroke-width="0.15" >12</text>
<text x="453.28" y="799.65" font-size="7.0" text-anchor="middle" stroke="#231f20" stroke-width="0.15" >13</text>
<text x="453.77" y="783.48" font-size="7.0" text-anchor="middle" stroke="#231f20" stroke-width="0.15" >14</text>
<text x="457.82" y="768.74" font-size="7.0" text-anchor="middle" stroke="#231f20" stroke-width="0.15" >15</text>
<text x="464.46" y="756.28" font-size="7.0" text-anchor="middle" stroke="#231f20" stroke-width="0.15" >16</text>
<text x="472.63" y="746.43" font-size="7.0" text-anchor="middle" stroke="#231f20" stroke-width="0.15" >17</text>
<text x="481.96" y="738.71" font-size="7.0" text-anchor="middle" stroke="#231f20" stroke-width="0.15" >18</text>
<text x="491.02" y="733.51" font-size="7.0" text-anchor="middle" stroke="#231f20" stroke-width="0.15" >19</text>
<text x="499.73" y="730.11" font-size="7.0" text-anchor="middle" stroke="#231f20" stroke-width="0.15" >20</text>
<text x="508.00" y="728.10" font-size="7.0" text-anchor="middle" stroke="#231f20" stroke-width="0.15" >21</text>
<text x="515.56" y="727.22" font-size="7.0" text-anchor="middle" stroke="#231f20" stroke-width="0.15" >22</text>
</svg></body></html>
